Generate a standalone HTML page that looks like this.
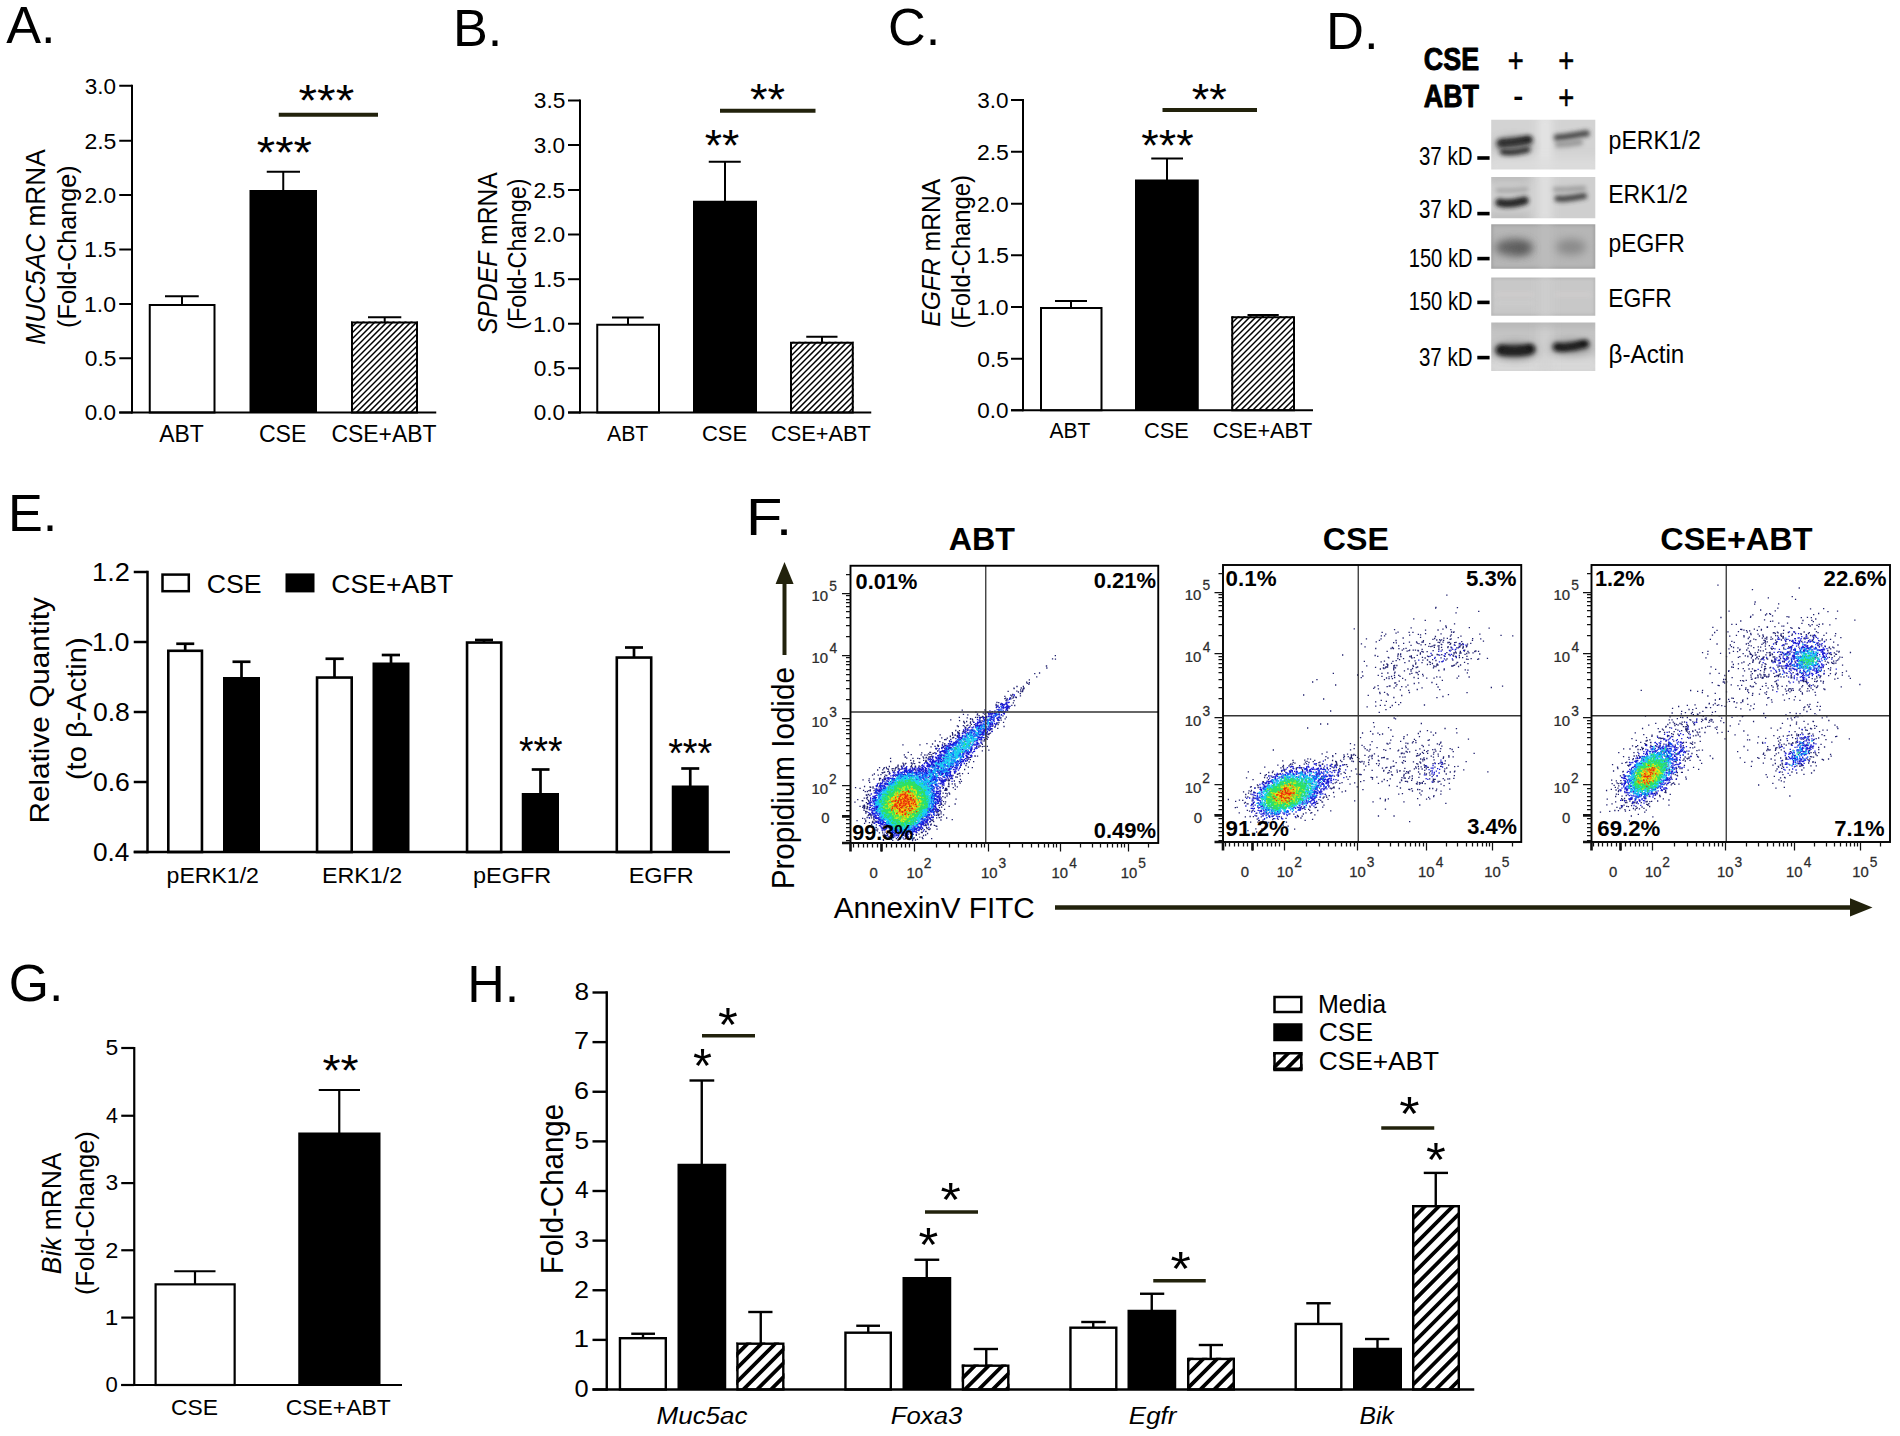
<!DOCTYPE html>
<html lang="en"><head><meta charset="utf-8"><title>Figure</title><style>html,body{margin:0;padding:0;background:#fff}svg{display:block}</style></head><body>
<svg width="1900" height="1436" viewBox="0 0 1900 1436" font-family="'Liberation Sans', sans-serif">
<defs><filter id="b1" filterUnits="userSpaceOnUse" x="1470" y="100" width="150" height="290"><feGaussianBlur stdDeviation="2.2"/></filter><filter id="b2" filterUnits="userSpaceOnUse" x="1470" y="100" width="150" height="290"><feGaussianBlur stdDeviation="4"/></filter><filter id="b3" filterUnits="userSpaceOnUse" x="1470" y="100" width="150" height="290"><feGaussianBlur stdDeviation="1.5"/></filter><filter id="b0" filterUnits="userSpaceOnUse" x="1470" y="100" width="150" height="290"><feGaussianBlur stdDeviation="0.5"/></filter><filter id="rough" x="-10%" y="-10%" width="120%" height="120%"><feTurbulence type="fractalNoise" baseFrequency="0.4" numOctaves="2" seed="4" result="n"/><feDisplacementMap in="SourceGraphic" in2="n" scale="5" xChannelSelector="R" yChannelSelector="G"/></filter></defs>
<rect x="0.00" y="0.00" width="1900.00" height="1436.00" fill="#fff"/>
<text transform="translate(6.20,43.20) scale(0.9942,1)" font-size="52.5" fill="#000" xml:space="preserve">A.</text>
<text transform="translate(452.92,46.25) scale(0.9936,1)" font-size="52.5" fill="#000" xml:space="preserve">B.</text>
<text transform="translate(888.06,45.00) scale(0.9935,1)" font-size="52.5" fill="#000" xml:space="preserve">C.</text>
<text transform="translate(1325.89,48.75) scale(1.0022,1)" font-size="52.5" fill="#000" xml:space="preserve">D.</text>
<text transform="translate(7.92,531.25) scale(0.9936,1)" font-size="52.5" fill="#000" xml:space="preserve">E.</text>
<text transform="translate(746.10,534.50) scale(1.1331,1)" font-size="52.5" fill="#000" xml:space="preserve">F.</text>
<text transform="translate(8.83,1001.25) scale(0.9851,1)" font-size="52.5" fill="#000" xml:space="preserve">G.</text>
<text transform="translate(467.19,1002.00) scale(0.9907,1)" font-size="52.5" fill="#000" xml:space="preserve">H.</text>
<rect x="149.75" y="305.00" width="64.75" height="107.50" fill="#fff" stroke="#000" stroke-width="2.0"/>
<rect x="249.50" y="190.00" width="67.50" height="222.50" fill="#000"/>
<clipPath id="c1"><rect x="351.00" y="321.50" width="67.00" height="91.00"/></clipPath>
<rect x="351.00" y="321.50" width="67.00" height="91.00" fill="#fff"/>
<path d="M349.00 311.95L420.00 240.95M349.00 317.95L420.00 246.95M349.00 323.95L420.00 252.95M349.00 329.95L420.00 258.95M349.00 335.95L420.00 264.95M349.00 341.95L420.00 270.95M349.00 347.95L420.00 276.95M349.00 353.95L420.00 282.95M349.00 359.95L420.00 288.95M349.00 365.95L420.00 294.95M349.00 371.95L420.00 300.95M349.00 377.95L420.00 306.95M349.00 383.95L420.00 312.95M349.00 389.95L420.00 318.95M349.00 395.95L420.00 324.95M349.00 401.95L420.00 330.95M349.00 407.95L420.00 336.95M349.00 413.95L420.00 342.95M349.00 419.95L420.00 348.95M349.00 425.95L420.00 354.95M349.00 431.95L420.00 360.95M349.00 437.95L420.00 366.95M349.00 443.95L420.00 372.95M349.00 449.95L420.00 378.95M349.00 455.95L420.00 384.95M349.00 461.95L420.00 390.95M349.00 467.95L420.00 396.95M349.00 473.95L420.00 402.95M349.00 479.95L420.00 408.95M349.00 485.95L420.00 414.95" stroke="#000" stroke-width="1.5" clip-path="url(#c1)" fill="none"/>
<rect x="352.00" y="322.50" width="65.00" height="90.00" fill="none" stroke="#000" stroke-width="2.0"/>
<line x1="182.00" y1="296.25" x2="182.00" y2="305.00" stroke="#000" stroke-width="2.0" stroke-linecap="butt"/>
<line x1="165.00" y1="296.25" x2="198.75" y2="296.25" stroke="#000" stroke-width="2.0" stroke-linecap="butt"/>
<line x1="283.25" y1="171.75" x2="283.25" y2="191.00" stroke="#000" stroke-width="2.0" stroke-linecap="butt"/>
<line x1="266.75" y1="171.75" x2="300.00" y2="171.75" stroke="#000" stroke-width="2.0" stroke-linecap="butt"/>
<line x1="384.70" y1="317.20" x2="384.70" y2="322.50" stroke="#000" stroke-width="2.0" stroke-linecap="butt"/>
<line x1="368.00" y1="317.20" x2="401.30" y2="317.20" stroke="#000" stroke-width="2.0" stroke-linecap="butt"/>
<line x1="132.00" y1="84.75" x2="132.00" y2="413.50" stroke="#000" stroke-width="2.0" stroke-linecap="butt"/>
<line x1="119.25" y1="412.50" x2="436.25" y2="412.50" stroke="#000" stroke-width="2.0" stroke-linecap="butt"/>
<line x1="119.25" y1="85.75" x2="132.00" y2="85.75" stroke="#000" stroke-width="2.0" stroke-linecap="butt"/>
<text transform="translate(84.80,93.66) scale(0.9995,1)" font-size="22.5" fill="#000" xml:space="preserve">3.0</text>
<line x1="119.25" y1="140.75" x2="132.00" y2="140.75" stroke="#000" stroke-width="2.0" stroke-linecap="butt"/>
<text transform="translate(84.42,148.66) scale(1.0235,1)" font-size="22.5" fill="#000" xml:space="preserve">2.5</text>
<line x1="119.25" y1="195.00" x2="132.00" y2="195.00" stroke="#000" stroke-width="2.0" stroke-linecap="butt"/>
<text transform="translate(84.43,202.91) scale(1.0114,1)" font-size="22.5" fill="#000" xml:space="preserve">2.0</text>
<line x1="119.25" y1="249.50" x2="132.00" y2="249.50" stroke="#000" stroke-width="2.0" stroke-linecap="butt"/>
<text transform="translate(84.04,257.41) scale(1.0359,1)" font-size="22.5" fill="#000" xml:space="preserve">1.5</text>
<line x1="119.25" y1="304.00" x2="132.00" y2="304.00" stroke="#000" stroke-width="2.0" stroke-linecap="butt"/>
<text transform="translate(84.06,311.91) scale(1.0235,1)" font-size="22.5" fill="#000" xml:space="preserve">1.0</text>
<line x1="119.25" y1="358.25" x2="132.00" y2="358.25" stroke="#000" stroke-width="2.0" stroke-linecap="butt"/>
<text transform="translate(84.79,366.16) scale(1.0114,1)" font-size="22.5" fill="#000" xml:space="preserve">0.5</text>
<line x1="119.25" y1="412.50" x2="132.00" y2="412.50" stroke="#000" stroke-width="2.0" stroke-linecap="butt"/>
<text transform="translate(84.80,420.41) scale(0.9995,1)" font-size="22.5" fill="#000" xml:space="preserve">0.0</text>
<text transform="translate(159.20,442.00) scale(0.9841,1)" font-size="23.3" fill="#000" xml:space="preserve">ABT</text>
<text transform="translate(258.92,442.00) scale(0.9926,1)" font-size="23.3" fill="#000" xml:space="preserve">CSE</text>
<text transform="translate(331.45,442.00) scale(0.9849,1)" font-size="23.3" fill="#000" xml:space="preserve">CSE+ABT</text>
<line x1="278.75" y1="114.80" x2="378.00" y2="114.80" stroke="#22220c" stroke-width="4" stroke-linecap="butt"/>
<text transform="translate(298.56,115.55) scale(1.0587,1)" font-size="45" fill="#000" xml:space="preserve">***</text>
<text transform="translate(256.76,168.05) scale(1.0499,1)" font-size="45" fill="#000" xml:space="preserve">***</text>
<text transform="translate(45.00,344.71) rotate(-90) scale(0.9553,1)" font-size="27.5" fill="#000" xml:space="preserve"><tspan font-style="italic">MUC5AC</tspan> mRNA</text>
<text transform="translate(76.40,327.88) rotate(-90) scale(0.9781,1)" font-size="25.8" fill="#000" xml:space="preserve">(Fold-Change)</text>
<rect x="597.25" y="324.75" width="61.75" height="87.75" fill="#fff" stroke="#000" stroke-width="2.0"/>
<rect x="693.00" y="200.75" width="64.00" height="211.75" fill="#000"/>
<clipPath id="c2"><rect x="790.00" y="341.75" width="63.75" height="70.75"/></clipPath>
<rect x="790.00" y="341.75" width="63.75" height="70.75" fill="#fff"/>
<path d="M788.00 334.95L855.75 267.20M788.00 340.95L855.75 273.20M788.00 346.95L855.75 279.20M788.00 352.95L855.75 285.20M788.00 358.95L855.75 291.20M788.00 364.95L855.75 297.20M788.00 370.95L855.75 303.20M788.00 376.95L855.75 309.20M788.00 382.95L855.75 315.20M788.00 388.95L855.75 321.20M788.00 394.95L855.75 327.20M788.00 400.95L855.75 333.20M788.00 406.95L855.75 339.20M788.00 412.95L855.75 345.20M788.00 418.95L855.75 351.20M788.00 424.95L855.75 357.20M788.00 430.95L855.75 363.20M788.00 436.95L855.75 369.20M788.00 442.95L855.75 375.20M788.00 448.95L855.75 381.20M788.00 454.95L855.75 387.20M788.00 460.95L855.75 393.20M788.00 466.95L855.75 399.20M788.00 472.95L855.75 405.20M788.00 478.95L855.75 411.20" stroke="#000" stroke-width="1.5" clip-path="url(#c2)" fill="none"/>
<rect x="791.00" y="342.75" width="61.75" height="69.75" fill="none" stroke="#000" stroke-width="2.0"/>
<line x1="628.00" y1="317.50" x2="628.00" y2="324.75" stroke="#000" stroke-width="2.0" stroke-linecap="butt"/>
<line x1="612.00" y1="317.50" x2="643.75" y2="317.50" stroke="#000" stroke-width="2.0" stroke-linecap="butt"/>
<line x1="725.00" y1="161.75" x2="725.00" y2="201.75" stroke="#000" stroke-width="2.0" stroke-linecap="butt"/>
<line x1="708.75" y1="161.75" x2="740.75" y2="161.75" stroke="#000" stroke-width="2.0" stroke-linecap="butt"/>
<line x1="822.00" y1="336.75" x2="822.00" y2="342.75" stroke="#000" stroke-width="2.0" stroke-linecap="butt"/>
<line x1="806.25" y1="336.75" x2="837.50" y2="336.75" stroke="#000" stroke-width="2.0" stroke-linecap="butt"/>
<line x1="580.00" y1="99.50" x2="580.00" y2="413.50" stroke="#000" stroke-width="2.0" stroke-linecap="butt"/>
<line x1="568.00" y1="412.50" x2="871.25" y2="412.50" stroke="#000" stroke-width="2.0" stroke-linecap="butt"/>
<line x1="568.00" y1="100.50" x2="580.00" y2="100.50" stroke="#000" stroke-width="2.0" stroke-linecap="butt"/>
<text transform="translate(533.79,108.41) scale(1.0114,1)" font-size="22.5" fill="#000" xml:space="preserve">3.5</text>
<line x1="568.00" y1="145.00" x2="580.00" y2="145.00" stroke="#000" stroke-width="2.0" stroke-linecap="butt"/>
<text transform="translate(533.80,152.91) scale(0.9995,1)" font-size="22.5" fill="#000" xml:space="preserve">3.0</text>
<line x1="568.00" y1="190.00" x2="580.00" y2="190.00" stroke="#000" stroke-width="2.0" stroke-linecap="butt"/>
<text transform="translate(533.42,197.91) scale(1.0235,1)" font-size="22.5" fill="#000" xml:space="preserve">2.5</text>
<line x1="568.00" y1="234.50" x2="580.00" y2="234.50" stroke="#000" stroke-width="2.0" stroke-linecap="butt"/>
<text transform="translate(533.43,242.41) scale(1.0114,1)" font-size="22.5" fill="#000" xml:space="preserve">2.0</text>
<line x1="568.00" y1="279.20" x2="580.00" y2="279.20" stroke="#000" stroke-width="2.0" stroke-linecap="butt"/>
<text transform="translate(533.04,287.11) scale(1.0359,1)" font-size="22.5" fill="#000" xml:space="preserve">1.5</text>
<line x1="568.00" y1="323.75" x2="580.00" y2="323.75" stroke="#000" stroke-width="2.0" stroke-linecap="butt"/>
<text transform="translate(533.06,331.66) scale(1.0235,1)" font-size="22.5" fill="#000" xml:space="preserve">1.0</text>
<line x1="568.00" y1="368.25" x2="580.00" y2="368.25" stroke="#000" stroke-width="2.0" stroke-linecap="butt"/>
<text transform="translate(533.79,376.16) scale(1.0114,1)" font-size="22.5" fill="#000" xml:space="preserve">0.5</text>
<line x1="568.00" y1="412.50" x2="580.00" y2="412.50" stroke="#000" stroke-width="2.0" stroke-linecap="butt"/>
<text transform="translate(533.80,420.41) scale(0.9995,1)" font-size="22.5" fill="#000" xml:space="preserve">0.0</text>
<text transform="translate(607.00,440.75) scale(0.9667,1)" font-size="22" fill="#000" xml:space="preserve">ABT</text>
<text transform="translate(701.94,440.75) scale(0.9993,1)" font-size="22" fill="#000" xml:space="preserve">CSE</text>
<text transform="translate(770.98,440.75) scale(0.9903,1)" font-size="22" fill="#000" xml:space="preserve">CSE+ABT</text>
<line x1="720.00" y1="110.75" x2="815.50" y2="110.75" stroke="#22220c" stroke-width="4" stroke-linecap="butt"/>
<text transform="translate(750.05,114.80) scale(1.0020,1)" font-size="45" fill="#000" xml:space="preserve">**</text>
<text transform="translate(704.81,161.05) scale(0.9871,1)" font-size="45" fill="#000" xml:space="preserve">**</text>
<text transform="translate(497.00,334.14) rotate(-90) scale(0.9153,1)" font-size="27" fill="#000" xml:space="preserve"><tspan font-style="italic">SPDEF</tspan> mRNA</text>
<text transform="translate(526.00,329.85) rotate(-90) scale(0.9292,1)" font-size="25.3" fill="#000" xml:space="preserve">(Fold-Change)</text>
<rect x="1041.00" y="308.00" width="60.50" height="102.25" fill="#fff" stroke="#000" stroke-width="2.0"/>
<rect x="1135.00" y="179.50" width="63.75" height="230.75" fill="#000"/>
<clipPath id="c3"><rect x="1231.25" y="316.25" width="63.75" height="94.00"/></clipPath>
<rect x="1231.25" y="316.25" width="63.75" height="94.00" fill="#fff"/>
<path d="M1229.25 307.70L1297.00 239.95M1229.25 313.70L1297.00 245.95M1229.25 319.70L1297.00 251.95M1229.25 325.70L1297.00 257.95M1229.25 331.70L1297.00 263.95M1229.25 337.70L1297.00 269.95M1229.25 343.70L1297.00 275.95M1229.25 349.70L1297.00 281.95M1229.25 355.70L1297.00 287.95M1229.25 361.70L1297.00 293.95M1229.25 367.70L1297.00 299.95M1229.25 373.70L1297.00 305.95M1229.25 379.70L1297.00 311.95M1229.25 385.70L1297.00 317.95M1229.25 391.70L1297.00 323.95M1229.25 397.70L1297.00 329.95M1229.25 403.70L1297.00 335.95M1229.25 409.70L1297.00 341.95M1229.25 415.70L1297.00 347.95M1229.25 421.70L1297.00 353.95M1229.25 427.70L1297.00 359.95M1229.25 433.70L1297.00 365.95M1229.25 439.70L1297.00 371.95M1229.25 445.70L1297.00 377.95M1229.25 451.70L1297.00 383.95M1229.25 457.70L1297.00 389.95M1229.25 463.70L1297.00 395.95M1229.25 469.70L1297.00 401.95M1229.25 475.70L1297.00 407.95M1229.25 481.70L1297.00 413.95" stroke="#000" stroke-width="1.5" clip-path="url(#c3)" fill="none"/>
<rect x="1232.25" y="317.25" width="61.75" height="93.00" fill="none" stroke="#000" stroke-width="2.0"/>
<line x1="1071.00" y1="301.00" x2="1071.00" y2="308.00" stroke="#000" stroke-width="2.0" stroke-linecap="butt"/>
<line x1="1055.00" y1="301.00" x2="1087.00" y2="301.00" stroke="#000" stroke-width="2.0" stroke-linecap="butt"/>
<line x1="1167.00" y1="158.50" x2="1167.00" y2="180.50" stroke="#000" stroke-width="2.0" stroke-linecap="butt"/>
<line x1="1151.25" y1="158.50" x2="1183.00" y2="158.50" stroke="#000" stroke-width="2.0" stroke-linecap="butt"/>
<line x1="1263.00" y1="315.00" x2="1263.00" y2="317.25" stroke="#000" stroke-width="2.0" stroke-linecap="butt"/>
<line x1="1247.50" y1="315.00" x2="1278.75" y2="315.00" stroke="#000" stroke-width="2.0" stroke-linecap="butt"/>
<line x1="1023.00" y1="99.00" x2="1023.00" y2="411.25" stroke="#000" stroke-width="2.0" stroke-linecap="butt"/>
<line x1="1011.00" y1="410.25" x2="1313.00" y2="410.25" stroke="#000" stroke-width="2.0" stroke-linecap="butt"/>
<line x1="1011.00" y1="100.00" x2="1023.00" y2="100.00" stroke="#000" stroke-width="2.0" stroke-linecap="butt"/>
<text transform="translate(977.30,107.91) scale(0.9995,1)" font-size="22.5" fill="#000" xml:space="preserve">3.0</text>
<line x1="1011.00" y1="151.75" x2="1023.00" y2="151.75" stroke="#000" stroke-width="2.0" stroke-linecap="butt"/>
<text transform="translate(976.92,159.66) scale(1.0235,1)" font-size="22.5" fill="#000" xml:space="preserve">2.5</text>
<line x1="1011.00" y1="203.75" x2="1023.00" y2="203.75" stroke="#000" stroke-width="2.0" stroke-linecap="butt"/>
<text transform="translate(976.93,211.66) scale(1.0114,1)" font-size="22.5" fill="#000" xml:space="preserve">2.0</text>
<line x1="1011.00" y1="255.25" x2="1023.00" y2="255.25" stroke="#000" stroke-width="2.0" stroke-linecap="butt"/>
<text transform="translate(976.54,263.16) scale(1.0359,1)" font-size="22.5" fill="#000" xml:space="preserve">1.5</text>
<line x1="1011.00" y1="307.00" x2="1023.00" y2="307.00" stroke="#000" stroke-width="2.0" stroke-linecap="butt"/>
<text transform="translate(976.56,314.91) scale(1.0235,1)" font-size="22.5" fill="#000" xml:space="preserve">1.0</text>
<line x1="1011.00" y1="358.75" x2="1023.00" y2="358.75" stroke="#000" stroke-width="2.0" stroke-linecap="butt"/>
<text transform="translate(977.29,366.66) scale(1.0114,1)" font-size="22.5" fill="#000" xml:space="preserve">0.5</text>
<line x1="1011.00" y1="410.25" x2="1023.00" y2="410.25" stroke="#000" stroke-width="2.0" stroke-linecap="butt"/>
<text transform="translate(977.30,418.16) scale(0.9995,1)" font-size="22.5" fill="#000" xml:space="preserve">0.0</text>
<text transform="translate(1049.50,438.25) scale(0.9550,1)" font-size="22" fill="#000" xml:space="preserve">ABT</text>
<text transform="translate(1143.98,438.25) scale(0.9935,1)" font-size="22" fill="#000" xml:space="preserve">CSE</text>
<text transform="translate(1212.76,438.25) scale(0.9878,1)" font-size="22" fill="#000" xml:space="preserve">CSE+ABT</text>
<line x1="1162.50" y1="110.00" x2="1257.00" y2="110.00" stroke="#22220c" stroke-width="4" stroke-linecap="butt"/>
<text transform="translate(1191.80,114.80) scale(1.0020,1)" font-size="45" fill="#000" xml:space="preserve">**</text>
<text transform="translate(1141.30,160.55) scale(0.9962,1)" font-size="45" fill="#000" xml:space="preserve">***</text>
<text transform="translate(940.00,326.63) rotate(-90) scale(0.9293,1)" font-size="26.5" fill="#000" xml:space="preserve"><tspan font-style="italic">EGFR</tspan> mRNA</text>
<text transform="translate(969.70,328.62) rotate(-90) scale(0.9417,1)" font-size="25.3" fill="#000" xml:space="preserve">(Fold-Change)</text>
<text transform="translate(1423.76,70.00) scale(0.8826,1)" font-size="30.5" fill="#000" xml:space="preserve" stroke="#000" stroke-width="0.9" stroke-linejoin="round"><tspan font-weight="bold">CSE</tspan></text>
<text transform="translate(1423.78,107.00) scale(0.8816,1)" font-size="30.5" fill="#000" xml:space="preserve" stroke="#000" stroke-width="0.9" stroke-linejoin="round"><tspan font-weight="bold">ABT</tspan></text>
<text transform="translate(1507.67,71.63) scale(0.8303,1)" font-size="33" fill="#000" xml:space="preserve" stroke="#000" stroke-width="0.55">+</text>
<text transform="translate(1558.17,71.63) scale(0.8303,1)" font-size="33" fill="#000" xml:space="preserve" stroke="#000" stroke-width="0.55">+</text>
<text transform="translate(1513.26,106.36) scale(1.1155,1)" font-size="27" fill="#000" xml:space="preserve"><tspan font-weight="bold">-</tspan></text>
<text transform="translate(1558.17,109.03) scale(0.8303,1)" font-size="33" fill="#000" xml:space="preserve" stroke="#000" stroke-width="0.55">+</text>
<clipPath id="s0"><rect x="1491.2" y="119.8" width="104.10" height="49.80"/></clipPath>
<g clip-path="url(#s0)" filter="url(#b0)">
<rect x="1489.20" y="117.80" width="108.10" height="53.80" fill="#d3d3d3"/>
<rect x="1538" y="115" width="14" height="60" fill="#e6e6e6" opacity="0.9" filter="url(#b2)"/>
<rect x="1488" y="158" width="112" height="17" fill="#dedede" opacity="0.8" filter="url(#b2)"/>
<path d="M1501.0 143.2 L1507.0 142.8 L1515.0 142.0 L1523.0 140.7 L1528.5 139.8" stroke="#161616" stroke-width="8.5" fill="none" stroke-linecap="round" stroke-linejoin="round" opacity="0.95" filter="url(#b1)"/>
<path d="M1503.0 143.1 L1509.0 142.7 L1515.0 142.0 L1522.0 140.9 L1526.5 140.1" stroke="#111" stroke-width="4" fill="none" stroke-linecap="round" stroke-linejoin="round" opacity="0.7" filter="url(#b3)"/>
<path d="M1503.0 151.8 L1509.0 152.2 L1518.0 151.4 L1527.0 149.6" stroke="#1e1e1e" stroke-width="6.0" fill="none" stroke-linecap="round" stroke-linejoin="round" opacity="0.95" filter="url(#b1)"/>
<ellipse cx="1514" cy="145" rx="19" ry="8" fill="#555" opacity="0.5" filter="url(#b2)"/>
<path d="M1557.0 137.6 L1565.0 136.8 L1575.0 135.2 L1584.0 133.6 L1586.5 133.4" stroke="#3c3c3c" stroke-width="6.5" fill="none" stroke-linecap="round" stroke-linejoin="round" opacity="0.9" filter="url(#b1)"/>
<path d="M1558.0 144.5 L1568.0 144.0 L1580.0 142.3" stroke="#808080" stroke-width="6" fill="none" stroke-linecap="round" stroke-linejoin="round" opacity="0.7" filter="url(#b1)"/>
</g>
<clipPath id="s1"><rect x="1491.2" y="177.1" width="104.10" height="41.20"/></clipPath>
<g clip-path="url(#s1)" filter="url(#b0)">
<rect x="1489.20" y="175.10" width="108.10" height="45.20" fill="#cfcfcf"/>
<rect x="1538" y="172" width="14" height="50" fill="#e2e2e2" opacity="0.9" filter="url(#b2)"/>
<rect x="1488" y="174" width="42" height="7" fill="#a8a8a8" opacity="0.7" filter="url(#b2)"/>
<rect x="1488" y="214" width="42" height="8" fill="#aaaaaa" opacity="0.6" filter="url(#b2)"/>
<path d="M1499.5 202.6 L1506.0 203.6 L1514.0 203.0 L1521.0 201.5 L1524.5 200.6" stroke="#1c1c1c" stroke-width="8.5" fill="none" stroke-linecap="round" stroke-linejoin="round" opacity="0.95" filter="url(#b1)"/>
<path d="M1498.0 190.5 L1512.0 190.5 L1526.0 189.5" stroke="#999" stroke-width="5" fill="none" stroke-linecap="round" stroke-linejoin="round" opacity="0.7" filter="url(#b1)"/>
<path d="M1557.5 198.6 L1564.0 198.8 L1574.0 197.6 L1582.0 196.2 L1584.0 196.0" stroke="#383838" stroke-width="6.2" fill="none" stroke-linecap="round" stroke-linejoin="round" opacity="0.9" filter="url(#b1)"/>
<path d="M1555.0 189.5 L1568.0 189.3 L1584.0 188.3" stroke="#8c8c8c" stroke-width="4.5" fill="none" stroke-linecap="round" stroke-linejoin="round" opacity="0.8" filter="url(#b1)"/>
</g>
<clipPath id="s2"><rect x="1491.2" y="224.2" width="104.10" height="44.60"/></clipPath>
<g clip-path="url(#s2)" filter="url(#b0)">
<rect x="1489.20" y="222.20" width="108.10" height="48.60" fill="#b6b6b6"/>
<rect x="1491.2" y="224.2" width="104.10" height="44.6" fill="none" stroke="#9c9c9c" stroke-width="2.5" filter="url(#b3)"/>
<rect x="1540" y="220" width="11" height="52" fill="#c0c0c0" opacity="0.7" filter="url(#b2)"/>
<ellipse cx="1514" cy="247.5" rx="19" ry="8.5" fill="#5e5e5e" opacity="0.95" filter="url(#b2)"/>
<ellipse cx="1521" cy="249" rx="9" ry="5" fill="#555" opacity="0.6" filter="url(#b2)"/>
<ellipse cx="1571" cy="247" rx="15" ry="8" fill="#868686" opacity="0.9" filter="url(#b2)"/>
</g>
<clipPath id="s3"><rect x="1491.2" y="277.6" width="104.10" height="38.10"/></clipPath>
<g clip-path="url(#s3)" filter="url(#b0)">
<rect x="1489.20" y="275.60" width="108.10" height="42.10" fill="#c8c8c8"/>
<rect x="1491.2" y="277.6" width="104.10" height="38.1" fill="none" stroke="#b4b4b4" stroke-width="2.5" filter="url(#b3)"/>
<rect x="1540" y="274" width="11" height="46" fill="#d0d0d0" opacity="0.7" filter="url(#b2)"/>
<path d="M1497.0 294.5 L1532.0 294.5" stroke="#d6d0d0" stroke-width="3" fill="none" stroke-linecap="round" stroke-linejoin="round" opacity="0.8" filter="url(#b1)"/>
<path d="M1556.0 294.5 L1590.0 294.5" stroke="#d6d0d0" stroke-width="3" fill="none" stroke-linecap="round" stroke-linejoin="round" opacity="0.8" filter="url(#b1)"/>
<path d="M1497.0 303.0 L1532.0 303.0" stroke="#d2d2d2" stroke-width="3" fill="none" stroke-linecap="round" stroke-linejoin="round" opacity="0.6" filter="url(#b1)"/>
</g>
<clipPath id="s4"><rect x="1491.2" y="322.6" width="104.10" height="48.40"/></clipPath>
<g clip-path="url(#s4)" filter="url(#b0)">
<rect x="1489.20" y="320.60" width="108.10" height="52.40" fill="#c4c4c4"/>
<rect x="1488" y="356" width="112" height="20" fill="#dadada" opacity="0.9" filter="url(#b2)"/>
<rect x="1538" y="318" width="14" height="58" fill="#d4d4d4" opacity="0.7" filter="url(#b2)"/>
<rect x="1488" y="318" width="112" height="8" fill="#aaaaaa" opacity="0.7" filter="url(#b2)"/>
<path d="M1501.0 350.0 L1508.0 350.8 L1518.0 350.8 L1526.0 350.0 L1530.0 349.2" stroke="#080808" stroke-width="10.5" fill="none" stroke-linecap="round" stroke-linejoin="round" opacity="1.0" filter="url(#b1)"/>
<path d="M1503.0 350.0 L1510.0 350.8 L1518.0 350.8 L1525.0 350.0 L1528.0 349.4" stroke="#000" stroke-width="6" fill="none" stroke-linecap="round" stroke-linejoin="round" opacity="0.9" filter="url(#b3)"/>
<ellipse cx="1515" cy="351" rx="21" ry="8" fill="#444" opacity="0.55" filter="url(#b2)"/>
<path d="M1557.0 347.0 L1564.0 347.4 L1574.0 346.3 L1582.0 344.4 L1585.0 344.0" stroke="#0e0e0e" stroke-width="8.5" fill="none" stroke-linecap="round" stroke-linejoin="round" opacity="1.0" filter="url(#b1)"/>
<path d="M1559.0 347.0 L1565.0 347.4 L1574.0 346.3 L1581.0 344.6 L1583.0 344.2" stroke="#000" stroke-width="4.5" fill="none" stroke-linecap="round" stroke-linejoin="round" opacity="0.85" filter="url(#b3)"/>
<ellipse cx="1571" cy="347" rx="20" ry="7" fill="#555" opacity="0.45" filter="url(#b2)"/>
</g>
<text transform="translate(1418.96,164.60) scale(0.8039,1)" font-size="25.5" fill="#000" xml:space="preserve">37 kD</text>
<line x1="1477.30" y1="158.00" x2="1489.60" y2="158.00" stroke="#000" stroke-width="3.6" stroke-linecap="butt"/>
<text transform="translate(1418.96,218.00) scale(0.8039,1)" font-size="25.5" fill="#000" xml:space="preserve">37 kD</text>
<line x1="1477.30" y1="213.60" x2="1489.60" y2="213.60" stroke="#000" stroke-width="3.6" stroke-linecap="butt"/>
<text transform="translate(1408.74,266.60) scale(0.7891,1)" font-size="25.5" fill="#000" xml:space="preserve">150 kD</text>
<line x1="1477.30" y1="258.60" x2="1489.60" y2="258.60" stroke="#000" stroke-width="3.6" stroke-linecap="butt"/>
<text transform="translate(1408.74,310.20) scale(0.7891,1)" font-size="25.5" fill="#000" xml:space="preserve">150 kD</text>
<line x1="1477.30" y1="302.40" x2="1489.60" y2="302.40" stroke="#000" stroke-width="3.6" stroke-linecap="butt"/>
<text transform="translate(1418.96,366.00) scale(0.8039,1)" font-size="25.5" fill="#000" xml:space="preserve">37 kD</text>
<line x1="1477.30" y1="357.60" x2="1489.60" y2="357.60" stroke="#000" stroke-width="3.6" stroke-linecap="butt"/>
<text transform="translate(1608.56,149.00) scale(0.8710,1)" font-size="26.5" fill="#000" xml:space="preserve">pERK1/2</text>
<text transform="translate(1608.19,203.20) scale(0.8732,1)" font-size="26.5" fill="#000" xml:space="preserve">ERK1/2</text>
<text transform="translate(1608.57,252.00) scale(0.8627,1)" font-size="26.5" fill="#000" xml:space="preserve">pEGFR</text>
<text transform="translate(1608.21,307.00) scale(0.8637,1)" font-size="26.5" fill="#000" xml:space="preserve">EGFR</text>
<text transform="translate(1608.49,363.00) scale(0.9144,1)" font-size="26.5" fill="#000" xml:space="preserve">β-Actin</text>
<rect x="168.30" y="650.80" width="33.65" height="201.20" fill="#fff" stroke="#000" stroke-width="2.6"/>
<rect x="223.00" y="677.00" width="37.00" height="175.00" fill="#000"/>
<rect x="317.05" y="677.55" width="34.65" height="174.45" fill="#fff" stroke="#000" stroke-width="2.6"/>
<rect x="372.50" y="662.50" width="37.00" height="189.50" fill="#000"/>
<rect x="467.05" y="642.55" width="34.15" height="209.45" fill="#fff" stroke="#000" stroke-width="2.6"/>
<rect x="521.75" y="793.00" width="37.25" height="59.00" fill="#000"/>
<rect x="616.80" y="657.55" width="34.40" height="194.45" fill="#fff" stroke="#000" stroke-width="2.6"/>
<rect x="671.75" y="785.50" width="37.00" height="66.50" fill="#000"/>
<line x1="185.20" y1="643.75" x2="185.20" y2="650.50" stroke="#000" stroke-width="2.7" stroke-linecap="butt"/>
<line x1="176.25" y1="643.75" x2="194.25" y2="643.75" stroke="#000" stroke-width="2.7" stroke-linecap="butt"/>
<line x1="241.50" y1="661.75" x2="241.50" y2="678.00" stroke="#000" stroke-width="2.7" stroke-linecap="butt"/>
<line x1="232.50" y1="661.75" x2="250.50" y2="661.75" stroke="#000" stroke-width="2.7" stroke-linecap="butt"/>
<line x1="334.50" y1="658.75" x2="334.50" y2="677.25" stroke="#000" stroke-width="2.7" stroke-linecap="butt"/>
<line x1="325.50" y1="658.75" x2="343.75" y2="658.75" stroke="#000" stroke-width="2.7" stroke-linecap="butt"/>
<line x1="391.00" y1="655.00" x2="391.00" y2="663.50" stroke="#000" stroke-width="2.7" stroke-linecap="butt"/>
<line x1="381.75" y1="655.00" x2="400.00" y2="655.00" stroke="#000" stroke-width="2.7" stroke-linecap="butt"/>
<line x1="484.00" y1="640.00" x2="484.00" y2="642.25" stroke="#000" stroke-width="2.7" stroke-linecap="butt"/>
<line x1="475.00" y1="640.00" x2="493.00" y2="640.00" stroke="#000" stroke-width="2.7" stroke-linecap="butt"/>
<line x1="540.50" y1="769.50" x2="540.50" y2="794.00" stroke="#000" stroke-width="2.7" stroke-linecap="butt"/>
<line x1="531.75" y1="769.50" x2="549.50" y2="769.50" stroke="#000" stroke-width="2.7" stroke-linecap="butt"/>
<line x1="634.00" y1="647.50" x2="634.00" y2="657.25" stroke="#000" stroke-width="2.7" stroke-linecap="butt"/>
<line x1="625.00" y1="647.50" x2="643.00" y2="647.50" stroke="#000" stroke-width="2.7" stroke-linecap="butt"/>
<line x1="690.25" y1="768.50" x2="690.25" y2="786.50" stroke="#000" stroke-width="2.7" stroke-linecap="butt"/>
<line x1="681.25" y1="768.50" x2="699.25" y2="768.50" stroke="#000" stroke-width="2.7" stroke-linecap="butt"/>
<line x1="147.50" y1="570.80" x2="147.50" y2="853.20" stroke="#000" stroke-width="2.5" stroke-linecap="butt"/>
<line x1="133.75" y1="852.00" x2="730.00" y2="852.00" stroke="#000" stroke-width="2.5" stroke-linecap="butt"/>
<line x1="133.75" y1="572.00" x2="147.50" y2="572.00" stroke="#000" stroke-width="2.5" stroke-linecap="butt"/>
<text transform="translate(92.05,580.60) scale(1.0459,1)" font-size="26" fill="#000" xml:space="preserve">1.2</text>
<line x1="133.75" y1="642.00" x2="147.50" y2="642.00" stroke="#000" stroke-width="2.5" stroke-linecap="butt"/>
<text transform="translate(92.07,650.60) scale(1.0333,1)" font-size="26" fill="#000" xml:space="preserve">1.0</text>
<line x1="133.75" y1="712.00" x2="147.50" y2="712.00" stroke="#000" stroke-width="2.5" stroke-linecap="butt"/>
<text transform="translate(92.92,720.60) scale(1.0211,1)" font-size="26" fill="#000" xml:space="preserve">0.8</text>
<line x1="133.75" y1="782.00" x2="147.50" y2="782.00" stroke="#000" stroke-width="2.5" stroke-linecap="butt"/>
<text transform="translate(92.92,790.60) scale(1.0211,1)" font-size="26" fill="#000" xml:space="preserve">0.6</text>
<line x1="133.75" y1="852.00" x2="147.50" y2="852.00" stroke="#000" stroke-width="2.5" stroke-linecap="butt"/>
<text transform="translate(92.93,860.60) scale(1.0091,1)" font-size="26" fill="#000" xml:space="preserve">0.4</text>
<rect x="162.5" y="574.6" width="26.3" height="16.6" fill="#fff" stroke="#000" stroke-width="2.5"/>
<text transform="translate(206.75,592.50) scale(1.0070,1)" font-size="26.5" fill="#000" xml:space="preserve">CSE</text>
<rect x="285.50" y="573.40" width="29.00" height="19.00" fill="#000"/>
<text transform="translate(331.25,592.50) scale(1.0058,1)" font-size="26.5" fill="#000" xml:space="preserve">CSE+ABT</text>
<text transform="translate(166.56,882.50) scale(1.0258,1)" font-size="22.5" fill="#000" xml:space="preserve">pERK1/2</text>
<text transform="translate(321.93,882.50) scale(1.0351,1)" font-size="22.5" fill="#000" xml:space="preserve">ERK1/2</text>
<text transform="translate(473.03,882.50) scale(1.0435,1)" font-size="22.5" fill="#000" xml:space="preserve">pEGFR</text>
<text transform="translate(628.67,882.50) scale(1.0423,1)" font-size="22.5" fill="#000" xml:space="preserve">EGFR</text>
<text transform="translate(518.92,765.10) scale(0.9339,1)" font-size="40" fill="#000" xml:space="preserve">***</text>
<text transform="translate(668.16,766.85) scale(0.9449,1)" font-size="40" fill="#000" xml:space="preserve">***</text>
<text transform="translate(48.50,823.57) rotate(-90) scale(1.0627,1)" font-size="28" fill="#000" xml:space="preserve">Relative Quantity</text>
<text transform="translate(85.50,780.11) rotate(-90) scale(1.0621,1)" font-size="27.4" fill="#000" xml:space="preserve">(to β-Actin)</text>
<g filter="url(#rough)">
<polygon points="920.5,786.9 923.1,789.6 925.6,792.7 927.5,796.2 928.6,800.0 928.7,804.0 927.6,807.9 925.8,811.4 923.5,814.4 921.1,817.1 918.6,819.5 916.1,822.0 913.3,824.3 910.2,826.4 906.6,828.1 902.8,829.1 898.7,828.9 894.9,827.6 891.5,825.6 888.6,823.0 885.9,820.3 883.3,817.6 880.8,814.5 878.9,811.0 877.8,807.2 877.7,803.2 878.8,799.3 880.6,795.8 882.9,792.8 885.3,790.1 887.8,787.7 890.3,785.2 893.1,782.9 896.2,780.8 899.8,779.1 903.6,778.1 907.7,778.3 911.5,779.6 914.9,781.6 917.8,784.2" fill="#18d2f0"/>
<polygon points="917.3,790.0 919.4,792.3 921.3,794.8 922.9,797.6 923.8,800.7 923.8,804.0 923.0,807.1 921.5,809.9 919.7,812.4 917.7,814.5 915.7,816.5 913.6,818.5 911.4,820.4 908.9,822.1 906.0,823.5 902.8,824.2 899.6,824.1 896.5,823.1 893.7,821.4 891.3,819.4 889.1,817.2 887.0,814.9 885.1,812.4 883.5,809.6 882.6,806.5 882.6,803.2 883.4,800.1 884.9,797.3 886.7,794.8 888.7,792.7 890.7,790.7 892.8,788.7 895.0,786.8 897.5,785.1 900.4,783.7 903.6,783.0 906.8,783.1 909.9,784.1 912.7,785.8 915.1,787.8" fill="#2fe060"/>
<polygon points="912.3,794.8 913.7,796.3 914.9,797.9 916.0,799.7 916.5,801.7 916.6,803.8 916.0,805.9 915.0,807.7 913.9,809.3 912.6,810.7 911.3,812.0 909.9,813.2 908.5,814.5 906.9,815.6 905.0,816.5 903.0,817.0 900.9,816.9 898.9,816.2 897.1,815.1 895.5,813.8 894.1,812.4 892.7,810.9 891.5,809.3 890.4,807.5 889.9,805.5 889.8,803.4 890.4,801.3 891.4,799.5 892.5,797.9 893.8,796.5 895.1,795.2 896.5,794.0 897.9,792.7 899.5,791.6 901.4,790.7 903.4,790.2 905.5,790.3 907.5,791.0 909.3,792.1 910.9,793.4" fill="#a8ee20"/>
<polygon points="910.4,796.6 911.5,797.8 912.5,799.1 913.3,800.5 913.8,802.1 913.8,803.8 913.4,805.4 912.6,806.8 911.7,808.1 910.6,809.2 909.6,810.2 908.5,811.2 907.4,812.2 906.1,813.1 904.6,813.8 903.0,814.2 901.3,814.1 899.8,813.6 898.3,812.8 897.1,811.7 896.0,810.6 894.9,809.4 893.9,808.1 893.1,806.7 892.6,805.1 892.6,803.4 893.0,801.8 893.8,800.4 894.7,799.1 895.8,798.0 896.8,797.0 897.9,796.0 899.0,795.0 900.3,794.1 901.8,793.4 903.4,793.0 905.1,793.1 906.6,793.6 908.1,794.4 909.3,795.5" fill="#f8e410"/>
<polygon points="904.2,802.6 904.4,802.8 904.5,803.0 904.6,803.2 904.7,803.4 904.7,803.6 904.6,803.9 904.5,804.1 904.4,804.2 904.3,804.4 904.1,804.5 904.0,804.7 903.8,804.8 903.6,805.0 903.4,805.1 903.2,805.1 902.9,805.1 902.7,805.0 902.5,804.9 902.3,804.8 902.2,804.6 902.0,804.4 901.9,804.2 901.8,804.0 901.7,803.8 901.7,803.6 901.8,803.3 901.9,803.1 902.0,803.0 902.1,802.8 902.3,802.7 902.4,802.5 902.6,802.4 902.8,802.2 903.0,802.1 903.2,802.1 903.5,802.1 903.7,802.2 903.9,802.3 904.1,802.4" fill="#ff8a10"/>
</g>
<path d="M865.7 795.0h1.3M878.2 783.3h1.3M866.6 799.2h1.3M886.1 775.5h1.3M875.2 818.1h1.3M933.0 821.7h1.3M871.9 827.2h1.3M865.0 811.5h1.3M869.7 800.3h1.3M868.6 809.5h1.3M930.2 819.8h1.3M883.5 779.8h1.3M897.8 840.2h1.3M901.6 768.4h1.3M936.8 809.7h1.3M884.0 772.2h1.3M904.8 757.0h1.3M894.5 770.2h1.3M863.8 808.2h1.3M869.7 789.9h1.3M931.5 820.5h1.3M910.7 763.0h1.3M877.0 770.0h1.3M883.6 778.8h1.3M921.0 829.6h1.3M895.2 774.7h1.3M892.3 836.8h1.3M872.1 822.5h1.3M892.2 830.7h1.3M913.0 761.0h1.3M882.1 773.2h1.3M882.0 828.1h1.3M889.0 830.3h1.3M883.1 768.7h1.3M944.4 803.9h1.3M929.7 821.6h1.3M872.4 788.2h1.3M936.2 815.4h1.3M905.9 835.8h1.3M914.8 839.9h1.3M941.0 804.4h1.3M870.5 816.0h1.3M869.4 787.0h1.3M868.9 818.0h1.3M923.0 760.4h1.3M890.9 839.4h1.3M886.6 839.3h1.3M888.6 774.2h1.3M925.4 831.3h1.3M873.7 774.0h1.3M911.9 840.2h1.3M936.6 811.1h1.3M918.4 834.1h1.3M902.7 835.3h1.3M869.1 813.7h1.3M919.0 758.7h1.3M925.0 835.0h1.3M884.2 836.4h1.3M921.6 832.6h1.3M925.1 831.5h1.3M888.7 832.7h1.3M938.0 815.6h1.3M863.9 823.4h1.3M892.8 837.7h1.3M897.1 840.1h1.3M866.7 797.4h1.3M862.0 818.3h1.3M865.8 802.6h1.3M885.4 836.2h1.3M942.9 801.6h1.3M875.4 830.0h1.3M897.6 769.0h1.3M872.1 821.3h1.3M902.1 768.5h1.3M935.2 825.9h1.3M874.8 821.2h1.3M912.2 839.1h1.3M912.3 758.3h1.3M875.5 785.9h1.3M940.5 798.0h1.3M911.7 768.0h1.3M936.0 811.9h1.3M939.2 801.5h1.3M932.5 817.0h1.3M939.5 810.5h1.3M888.7 836.8h1.3M886.0 833.4h1.3M921.5 832.2h1.3M889.9 758.3h1.3M938.8 807.7h1.3M902.3 763.1h1.3M930.5 756.7h1.3M937.8 811.7h1.3M895.6 767.5h1.3M897.5 765.1h1.3M870.1 802.1h1.3M915.7 835.4h1.3M868.2 790.6h1.3M871.0 817.9h1.3M895.8 838.6h1.3M873.7 832.4h1.3M897.3 767.0h1.3M877.1 829.1h1.3M889.8 835.6h1.3M878.8 832.9h1.3M873.5 819.8h1.3M878.9 778.3h1.3M894.6 768.6h1.3M868.3 780.7h1.3M897.3 765.9h1.3M869.6 839.4h1.3M879.4 778.6h1.3M875.4 791.7h1.3M923.6 829.7h1.3M878.9 767.6h1.3M910.6 754.7h1.3M932.3 810.6h1.3M901.1 766.9h1.3M891.4 768.9h1.3M882.7 839.7h1.3M892.5 768.7h1.3M887.8 769.2h1.3M911.9 840.5h1.3M866.5 811.9h1.3M872.4 787.0h1.3M916.8 839.4h1.3M870.0 787.4h1.3M883.0 835.9h1.3M887.5 769.4h1.3M863.4 808.7h1.3M907.6 837.3h1.3M882.8 828.9h1.3M875.9 790.5h1.3M875.4 827.5h1.3M904.7 763.8h1.3M906.4 835.8h1.3M883.4 772.4h1.3M867.6 815.6h1.3M871.8 822.1h1.3M857.1 799.6h1.3M940.8 816.9h1.3M886.5 835.4h1.3M866.8 804.1h1.3M903.3 765.5h1.3M872.2 821.6h1.3M941.0 807.2h1.3M882.8 840.3h1.3M939.7 793.5h1.3M888.6 773.9h1.3M871.0 824.5h1.3M871.2 837.1h1.3M922.2 838.6h1.3M951.6 819.6h1.3M862.4 779.9h1.3M865.8 798.1h1.3M901.1 766.2h1.3M925.2 824.5h1.3M861.6 800.6h1.3M933.5 808.8h1.3M870.4 814.5h1.3M887.8 839.4h1.3M938.0 814.2h1.3M873.1 817.0h1.3M884.0 776.6h1.3M929.6 828.8h1.3M906.1 758.2h1.3M862.6 805.8h1.3M866.5 817.5h1.3M862.9 790.3h1.3M878.9 780.1h1.3M868.0 794.5h1.3M867.7 800.4h1.3M892.1 840.3h1.3M912.4 838.6h1.3M878.9 779.8h1.3M934.9 803.4h1.3M869.2 814.8h1.3M933.7 825.4h1.3M865.1 821.6h1.3M884.6 775.2h1.3M918.5 762.3h1.3M878.4 789.2h1.3M938.3 805.6h1.3M868.4 803.3h1.3M903.7 754.9h1.3M892.5 834.8h1.3M866.4 808.9h1.3M876.1 821.5h1.3M904.5 757.2h1.3M924.4 825.4h1.3M864.2 818.8h1.3M915.6 834.5h1.3M865.2 813.2h1.3M863.9 786.5h1.3M868.6 778.9h1.3M886.3 838.9h1.3M863.2 806.4h1.3M948.5 806.4h1.3M937.6 801.4h1.3M863.6 806.9h1.3M940.6 803.2h1.3M876.4 786.0h1.3M882.5 835.2h1.3M873.4 790.6h1.3M911.0 766.7h1.3M881.5 772.7h1.3M887.6 777.6h1.3M913.4 837.7h1.3M875.7 824.8h1.3M902.9 764.1h1.3M869.3 795.6h1.3M935.8 815.4h1.3M895.2 767.6h1.3M884.9 835.2h1.3M864.1 808.0h1.3M934.7 809.2h1.3M928.1 829.3h1.3M900.4 769.3h1.3M863.4 810.3h1.3M936.1 826.3h1.3M922.9 835.5h1.3M856.4 820.7h1.3M885.1 835.4h1.3M920.8 832.5h1.3M891.9 770.6h1.3M930.1 824.6h1.3M910.1 760.3h1.3M862.2 800.8h1.3M921.6 828.2h1.3M930.9 815.9h1.3M892.7 776.0h1.3M882.0 832.8h1.3M930.7 824.1h1.3M928.5 829.7h1.3M859.4 806.3h1.3M931.0 838.7h1.3M905.1 838.9h1.3M887.1 834.0h1.3M917.1 758.3h1.3M869.6 807.3h1.3M912.6 763.1h1.3M900.6 766.2h1.3M925.9 827.6h1.3M938.6 817.7h1.3M940.3 802.8h1.3M945.1 793.4h1.3M854.3 802.2h1.3M877.6 775.1h1.3M905.0 838.1h1.3M854.9 787.6h1.3M871.9 826.5h1.3M868.2 801.6h1.3M932.4 820.0h1.3M925.6 825.9h1.3M938.9 810.6h1.3M869.6 804.8h1.3M940.5 812.0h1.3M864.2 806.2h1.3M866.9 797.2h1.3M879.9 778.3h1.3M889.4 837.4h1.3M926.9 833.5h1.3M936.0 817.8h1.3M946.6 793.8h1.3M910.8 836.9h1.3M884.7 779.7h1.3M883.5 778.1h1.3M899.8 838.6h1.3M883.7 835.0h1.3M873.3 823.2h1.3M868.2 814.6h1.3M919.1 837.1h1.3M946.0 818.0h1.3M938.4 814.3h1.3M888.0 771.2h1.3M880.3 774.6h1.3M873.3 779.1h1.3M866.9 806.8h1.3M903.4 839.1h1.3M914.8 840.1h1.3M954.5 804.0h1.3M910.1 766.8h1.3M879.1 786.1h1.3M927.3 823.5h1.3M898.3 768.6h1.3M910.9 765.6h1.3M871.9 775.2h1.3M891.1 836.5h1.3M884.3 829.8h1.3M939.1 817.6h1.3M867.6 794.4h1.3M907.8 837.0h1.3M943.9 809.3h1.3M883.6 767.6h1.3M909.7 838.4h1.3M868.8 822.7h1.3M885.7 767.4h1.3M866.2 795.3h1.3M859.4 788.4h1.3M866.7 791.5h1.3M863.7 805.1h1.3M887.2 771.6h1.3M913.4 838.1h1.3M926.5 828.5h1.3M904.6 768.0h1.3M888.7 766.5h1.3M873.1 819.0h1.3M893.6 771.1h1.3M940.4 813.9h1.3M865.2 811.5h1.3M866.3 827.4h1.3M866.6 806.3h1.3M866.6 807.9h1.3M908.6 839.5h1.3M939.5 805.1h1.3M883.6 834.2h1.3M869.0 782.3h1.3M941.3 800.4h1.3M890.0 761.5h1.3M865.1 820.4h1.3M875.9 788.8h1.3M919.5 828.7h1.3M936.4 829.2h1.3M888.9 772.5h1.3M862.1 807.4h1.3M876.8 830.8h1.3M867.1 803.7h1.3M881.8 780.0h1.3M863.6 798.2h1.3M886.2 768.6h1.3M942.9 814.9h1.3M942.6 805.3h1.3M930.1 825.1h1.3M936.4 812.7h1.3M921.6 837.5h1.3M882.1 769.8h1.3M913.6 769.3h1.3M946.4 789.8h1.3M873.0 816.9h1.3M907.8 838.2h1.3M905.2 763.4h1.3M881.9 830.8h1.3M879.4 785.2h1.3M905.3 838.1h1.3M880.1 783.2h1.3M934.3 811.6h1.3M940.3 820.0h1.3M869.7 790.8h1.3M875.7 827.5h1.3M936.2 808.8h1.3M864.6 791.7h1.3M866.2 808.3h1.3M946.4 796.0h1.3M1014.1 705.5h1.3M954.6 785.8h1.3M926.5 755.1h1.3M932.0 762.6h1.3M978.4 715.7h1.3M937.0 751.0h1.3M960.5 765.3h1.3M915.0 767.2h1.3M929.3 754.4h1.3M948.2 779.5h1.3M1004.2 696.4h1.3M971.0 755.7h1.3M976.6 714.8h1.3M943.9 745.1h1.3M971.9 719.6h1.3M949.0 794.0h1.3M957.6 733.4h1.3M958.8 730.6h1.3M989.6 729.9h1.3M937.8 745.7h1.3M974.6 756.1h1.3M940.1 791.2h1.3M1007.5 691.4h1.3M1015.7 697.5h1.3M969.7 723.1h1.3M939.5 734.8h1.3M956.8 735.6h1.3M959.6 740.1h1.3M1012.2 698.1h1.3M932.4 753.3h1.3M959.5 767.2h1.3M948.9 740.8h1.3M969.6 725.9h1.3M1022.1 690.7h1.3M952.6 787.6h1.3M969.7 759.7h1.3M1020.0 689.9h1.3M988.2 734.5h1.3M998.1 702.6h1.3M969.9 757.3h1.3M904.1 768.6h1.3M911.5 764.2h1.3M968.5 762.0h1.3M1002.3 715.9h1.3M957.7 726.5h1.3M990.1 712.8h1.3M1022.7 686.5h1.3M964.0 769.5h1.3M948.1 783.2h1.3M1003.4 726.5h1.3M956.8 774.4h1.3M948.4 792.9h1.3M942.5 793.2h1.3M1006.8 706.8h1.3M1016.4 686.7h1.3M944.2 790.4h1.3M967.7 773.4h1.3M965.3 731.4h1.3M957.6 737.4h1.3M951.3 778.6h1.3M948.3 786.5h1.3M942.8 746.6h1.3M989.8 733.2h1.3M1013.5 688.6h1.3M950.9 777.9h1.3M917.2 758.4h1.3M986.1 738.3h1.3M935.5 749.0h1.3M983.4 746.3h1.3M981.7 744.4h1.3M963.9 723.0h1.3M971.7 767.6h1.3M1000.3 717.8h1.3M944.1 743.6h1.3M927.5 758.5h1.3M957.0 732.0h1.3M1051.9 658.9h1.3M1022.7 688.6h1.3M941.7 744.8h1.3M947.8 780.9h1.3M966.8 733.1h1.3M972.9 722.4h1.3M986.9 712.3h1.3M980.2 722.6h1.3M1008.5 708.0h1.3M953.7 781.0h1.3M997.5 724.5h1.3M990.2 713.6h1.3M966.4 759.8h1.3M962.7 725.7h1.3M954.6 734.8h1.3M928.4 757.0h1.3M942.7 787.6h1.3M1006.7 698.8h1.3M1017.8 692.0h1.3M959.0 773.5h1.3M954.2 784.0h1.3M939.2 790.8h1.3M967.7 767.1h1.3M996.5 722.9h1.3M934.4 746.3h1.3M941.6 786.0h1.3M958.8 734.0h1.3M925.3 760.5h1.3M995.8 723.8h1.3M980.1 717.4h1.3M976.8 717.4h1.3M978.1 747.0h1.3M980.5 717.4h1.3M981.1 743.1h1.3M949.7 736.1h1.3M955.4 799.1h1.3M1007.4 707.0h1.3M929.2 756.8h1.3M921.1 752.8h1.3M945.8 789.9h1.3M1005.9 703.9h1.3M944.5 797.5h1.3M945.0 788.5h1.3M1023.3 687.9h1.3M942.4 747.4h1.3M946.1 789.1h1.3M986.4 736.4h1.3M981.7 746.6h1.3M951.7 732.6h1.3M944.0 739.6h1.3M983.9 739.5h1.3M998.4 720.4h1.3M954.6 789.4h1.3M992.4 725.8h1.3M956.5 735.8h1.3M938.8 798.4h1.3M946.2 780.0h1.3M955.2 777.0h1.3M918.5 765.9h1.3M965.3 765.5h1.3M974.3 756.0h1.3M1045.8 666.0h1.3M969.9 721.8h1.3M958.8 781.6h1.3M929.6 759.2h1.3M932.0 757.5h1.3M925.6 761.7h1.3M996.3 702.4h1.3M966.7 760.2h1.3M1017.8 691.8h1.3M954.4 772.9h1.3M991.8 726.2h1.3M1023.4 688.6h1.3M1016.3 686.5h1.3M939.7 752.6h1.3M996.5 706.5h1.3M950.9 775.8h1.3M1013.3 688.1h1.3M1019.7 693.7h1.3M952.4 775.5h1.3M1006.9 710.3h1.3M976.9 756.2h1.3M1013.4 700.6h1.3M945.2 779.9h1.3M991.2 729.1h1.3M925.3 760.7h1.3M986.7 746.3h1.3M931.0 754.9h1.3M1034.1 673.7h1.3M973.0 761.7h1.3M914.7 770.0h1.3M945.0 789.6h1.3M920.5 754.8h1.3M947.6 786.4h1.3M997.7 719.6h1.3M1005.8 699.9h1.3M942.2 796.7h1.3M967.8 757.9h1.3M1011.2 705.4h1.3M994.9 725.2h1.3M988.2 750.1h1.3M956.8 736.8h1.3M988.5 733.6h1.3M925.1 761.5h1.3M981.5 720.9h1.3M929.9 752.4h1.3M945.4 739.5h1.3M966.2 725.7h1.3M1028.7 679.9h1.3M1005.0 698.2h1.3M963.0 725.6h1.3M1012.1 694.5h1.3M945.0 801.8h1.3M995.5 705.3h1.3M976.0 746.6h1.3M957.6 773.8h1.3M933.0 753.3h1.3M986.5 739.4h1.3M936.3 748.3h1.3M934.3 752.6h1.3M1028.7 682.6h1.3M1010.1 695.2h1.3M914.0 763.7h1.3M978.2 746.8h1.3M949.7 736.5h1.3M968.9 727.3h1.3M1002.9 722.4h1.3M989.7 729.2h1.3M1020.3 691.5h1.3M991.5 731.4h1.3M1006.1 709.0h1.3M975.3 712.2h1.3M970.0 718.6h1.3M967.2 725.2h1.3M966.0 721.5h1.3M968.5 757.6h1.3M1026.0 682.2h1.3M1021.9 691.6h1.3M959.8 779.3h1.3M979.6 746.0h1.3M1045.9 665.8h1.3M1028.0 684.2h1.3M999.9 711.3h1.3M1000.5 720.1h1.3M919.4 766.9h1.3M1026.6 683.4h1.3M974.9 717.3h1.3M992.3 725.8h1.3M1036.1 676.8h1.3M1010.2 698.8h1.3M962.9 731.6h1.3M925.5 761.0h1.3M945.0 745.4h1.3M1001.7 705.4h1.3M969.8 719.2h1.3M1054.8 659.1h1.3M963.2 730.6h1.3M945.5 790.3h1.3M960.8 781.4h1.3M948.2 784.5h1.3M925.7 757.4h1.3M962.3 731.9h1.3M925.4 757.8h1.3M956.7 777.1h1.3M981.7 750.9h1.3M987.5 737.4h1.3M1015.0 697.1h1.3M951.6 783.8h1.3M1010.0 697.8h1.3M964.1 726.8h1.3M927.9 753.9h1.3M1000.0 718.0h1.3M970.8 756.0h1.3M1038.9 673.0h1.3M950.1 739.3h1.3M967.2 714.8h1.3M959.5 783.2h1.3M987.1 734.1h1.3M1013.0 697.0h1.3M965.1 727.6h1.3M937.0 745.2h1.3M948.8 740.8h1.3M945.9 788.4h1.3M941.1 748.2h1.3M979.6 718.2h1.3M1016.2 691.2h1.3M952.0 735.0h1.3M1000.6 703.3h1.3M1019.8 695.9h1.3M1028.4 684.2h1.3M966.6 729.0h1.3M959.5 775.9h1.3M956.7 786.8h1.3M997.1 728.3h1.3M1020.6 688.0h1.3M1011.2 696.0h1.3M941.1 747.4h1.3M941.1 747.3h1.3M998.3 722.6h1.3M983.4 741.0h1.3M981.8 717.0h1.3M914.6 766.5h1.3M1005.4 700.6h1.3M1022.3 689.7h1.3M1004.5 718.9h1.3M985.8 735.9h1.3M979.0 717.8h1.3M939.2 741.6h1.3M930.4 746.9h1.3M966.6 757.5h1.3M956.7 725.9h1.3M951.9 737.8h1.3M982.3 735.2h1.3M981.2 740.8h1.3M1004.2 698.6h1.3M971.0 755.8h1.3M937.4 746.0h1.3M1054.7 655.6h1.3M948.5 743.8h1.3M995.8 707.7h1.3M961.9 773.7h1.3M939.9 783.6h1.3M965.9 763.6h1.3M1005.7 717.1h1.3M1012.7 702.8h1.3M942.2 742.9h1.3M994.2 727.1h1.3M995.5 704.3h1.3M1046.2 668.0h1.3M948.8 780.5h1.3M937.8 746.3h1.3M944.8 789.0h1.3M963.1 721.4h1.3M902.3 744.8h1.3M926.3 743.6h1.3M982.0 716.3h1.3M932.0 756.7h1.3M957.9 732.3h1.3M931.6 766.9h1.3M953.0 737.5h1.3M946.7 738.2h1.3M919.3 744.8h1.3M934.6 741.0h1.3M958.7 717.4h1.3M941.1 737.9h1.3M950.1 719.8h1.3M958.9 720.7h1.3M955.1 730.5h1.3M931.9 744.0h1.3M922.4 756.9h1.3M924.2 755.0h1.3M962.8 714.4h1.3M961.6 710.2h1.3M966.6 717.8h1.3M976.9 714.0h1.3M982.6 713.1h1.3M972.2 721.1h1.3M919.1 762.5h1.3M958.3 732.8h1.3M970.7 724.3h1.3M914.8 766.2h1.3M907.6 752.4h1.3M952.0 734.0h1.3M983.9 714.1h1.3M923.0 758.2h1.3M929.2 752.4h1.3M973.7 724.6h1.3M980.0 721.2h1.3M984.3 710.0h1.3M982.3 716.7h1.3M963.3 722.2h1.3M971.7 719.1h1.3M954.4 735.4h1.3" stroke="#20206e" stroke-width="1.3" fill="none"/>
<path d="M929.9 810.1h1.3M877.4 800.7h1.3M913.3 776.1h1.3M894.0 832.7h1.3M899.2 829.3h1.3M911.0 776.3h1.3M935.6 799.6h1.3M920.6 787.8h1.3M916.4 822.8h1.3M889.7 827.3h1.3M907.0 780.2h1.3M916.8 779.0h1.3M874.1 803.9h1.3M904.9 778.0h1.3M883.1 818.6h1.3M881.9 790.0h1.3M901.4 773.0h1.3M922.7 821.8h1.3M920.4 825.7h1.3M874.6 806.2h1.3M942.2 781.5h1.3M935.8 793.1h1.3M876.1 822.4h1.3M911.4 825.8h1.3M908.6 773.0h1.3M907.8 832.2h1.3M883.6 824.6h1.3M883.0 827.8h1.3M906.1 766.6h1.3M931.2 786.8h1.3M882.4 786.1h1.3M890.0 778.3h1.3M908.8 769.4h1.3M878.2 791.5h1.3M916.8 824.0h1.3M893.3 835.9h1.3M886.6 824.4h1.3M880.1 790.0h1.3M924.7 770.0h1.3M912.7 776.1h1.3M906.0 769.0h1.3M906.7 771.1h1.3M932.1 801.4h1.3M905.4 829.5h1.3M933.9 806.5h1.3M871.0 812.2h1.3M922.7 823.7h1.3M912.9 825.8h1.3M929.6 811.8h1.3M930.3 796.0h1.3M877.9 790.3h1.3M930.4 786.2h1.3M903.8 770.6h1.3M916.3 828.7h1.3M919.7 827.2h1.3M906.6 829.9h1.3M901.6 833.7h1.3M875.2 812.9h1.3M933.4 802.6h1.3M890.2 775.9h1.3M878.7 790.7h1.3M879.9 819.7h1.3M920.9 821.3h1.3M874.9 800.2h1.3M873.9 810.5h1.3M874.2 806.9h1.3M915.8 832.2h1.3M883.6 785.4h1.3M873.5 816.9h1.3M870.0 799.1h1.3M906.8 836.0h1.3M871.4 808.7h1.3M893.3 775.0h1.3M875.4 817.2h1.3M878.6 793.2h1.3M873.6 799.0h1.3M884.5 832.1h1.3M930.4 765.9h1.3M878.1 823.3h1.3M875.0 797.7h1.3M869.7 803.1h1.3M935.0 804.9h1.3M904.0 829.7h1.3M893.3 774.2h1.3M897.8 778.2h1.3M931.5 801.6h1.3M898.1 779.1h1.3M923.1 766.8h1.3M910.2 831.7h1.3M880.3 819.2h1.3M887.6 784.9h1.3M922.1 776.1h1.3M914.4 829.4h1.3M881.9 782.4h1.3M922.1 828.4h1.3M885.7 822.9h1.3M873.0 801.7h1.3M894.6 830.5h1.3M881.1 814.8h1.3M898.3 776.2h1.3M936.1 788.0h1.3M882.8 827.8h1.3M933.8 798.6h1.3M886.9 835.5h1.3M921.6 817.8h1.3M879.5 820.7h1.3M936.6 796.8h1.3M904.0 775.7h1.3M875.2 791.7h1.3M875.0 790.2h1.3M876.6 814.9h1.3M880.1 822.2h1.3M906.1 771.7h1.3M881.5 783.9h1.3M881.3 820.8h1.3M877.4 801.5h1.3M874.0 823.3h1.3M886.2 783.4h1.3M868.9 809.5h1.3M870.8 793.8h1.3M934.5 802.7h1.3M897.7 831.1h1.3M880.4 820.2h1.3M928.5 818.8h1.3M937.7 796.7h1.3M931.9 801.4h1.3M908.4 773.4h1.3M882.1 818.4h1.3M924.6 794.4h1.3M885.7 828.8h1.3M884.6 788.3h1.3M879.2 819.0h1.3M927.2 815.1h1.3M878.8 825.6h1.3M880.6 783.3h1.3M891.6 784.1h1.3M883.1 813.2h1.3M881.1 823.7h1.3M873.6 808.3h1.3M887.4 831.4h1.3M930.7 803.4h1.3M912.1 773.9h1.3M919.0 771.8h1.3M929.8 810.8h1.3M904.3 775.9h1.3M930.8 817.4h1.3M921.5 783.0h1.3M914.4 768.0h1.3M902.5 777.0h1.3M879.8 796.4h1.3M892.7 779.8h1.3M874.9 815.6h1.3M928.6 810.9h1.3M877.8 815.4h1.3M887.5 779.0h1.3M909.8 769.0h1.3M924.4 821.0h1.3M930.6 806.1h1.3M921.3 824.4h1.3M878.9 823.2h1.3M897.3 778.4h1.3M903.4 774.6h1.3M893.8 778.7h1.3M880.3 783.6h1.3M905.0 832.8h1.3M887.7 836.8h1.3M907.0 827.5h1.3M925.7 789.0h1.3M918.4 769.9h1.3M913.2 828.2h1.3M906.7 831.9h1.3M902.2 771.8h1.3M937.8 809.6h1.3M930.3 811.3h1.3M889.3 829.1h1.3M929.3 814.1h1.3M933.2 809.6h1.3M893.9 830.1h1.3M875.8 793.1h1.3M902.2 775.5h1.3M880.3 826.3h1.3M910.6 827.9h1.3M896.1 775.3h1.3M907.0 773.1h1.3M907.2 838.8h1.3M876.6 790.4h1.3M927.8 815.0h1.3M937.4 796.7h1.3M903.9 773.9h1.3M927.4 777.3h1.3M880.0 823.4h1.3M931.1 812.0h1.3M873.8 797.6h1.3M872.4 796.3h1.3M922.9 823.0h1.3M879.8 811.5h1.3M875.3 817.1h1.3M898.9 837.7h1.3M898.0 836.0h1.3M922.9 831.0h1.3M888.7 828.6h1.3M909.7 772.6h1.3M876.0 785.8h1.3M879.7 796.6h1.3M879.8 785.0h1.3M883.6 822.5h1.3M911.6 830.1h1.3M916.8 778.2h1.3M904.3 778.3h1.3M874.0 800.5h1.3M926.9 819.0h1.3M922.8 776.3h1.3M884.0 791.8h1.3M902.8 766.1h1.3M885.0 778.7h1.3M927.9 817.0h1.3M879.8 791.2h1.3M882.7 789.4h1.3M934.9 806.6h1.3M907.5 775.2h1.3M898.3 773.0h1.3M871.8 813.3h1.3M926.1 820.2h1.3M908.8 826.7h1.3M908.6 776.4h1.3M873.8 813.3h1.3M890.0 827.8h1.3M926.6 818.8h1.3M868.8 807.7h1.3M905.0 771.0h1.3M916.5 820.0h1.3M930.0 808.3h1.3M928.4 786.4h1.3M891.9 832.6h1.3M911.8 833.0h1.3M906.7 775.2h1.3M897.1 775.9h1.3M935.7 809.9h1.3M919.4 829.0h1.3M925.8 785.7h1.3M893.4 830.4h1.3M928.1 811.7h1.3M900.2 772.3h1.3M883.8 792.6h1.3M899.6 774.6h1.3M923.8 820.9h1.3M928.0 814.7h1.3M897.9 839.0h1.3M905.8 772.3h1.3M886.1 828.3h1.3M910.8 831.9h1.3M908.5 773.5h1.3M935.1 795.6h1.3M921.2 822.7h1.3M873.3 797.4h1.3M890.6 832.8h1.3M928.4 809.3h1.3M875.6 811.4h1.3M895.1 779.9h1.3M922.3 822.5h1.3M879.0 812.0h1.3M909.9 832.1h1.3M876.7 822.1h1.3M916.6 782.0h1.3M923.1 788.2h1.3M915.9 832.5h1.3M928.6 810.3h1.3M901.0 832.2h1.3M907.8 834.1h1.3M925.0 771.9h1.3M926.5 822.0h1.3M918.0 826.5h1.3M930.8 797.7h1.3M888.2 784.7h1.3M873.8 816.6h1.3M876.7 809.7h1.3M933.2 799.0h1.3M916.4 827.9h1.3M925.8 809.4h1.3M881.1 816.6h1.3M940.1 799.1h1.3M879.3 786.0h1.3M905.9 832.7h1.3M931.1 801.6h1.3M939.7 804.1h1.3M886.2 781.2h1.3M886.3 780.4h1.3M936.2 796.1h1.3M937.0 811.0h1.3M939.4 796.4h1.3M882.8 789.2h1.3M916.4 830.3h1.3M879.2 802.3h1.3M891.7 833.8h1.3M881.2 789.1h1.3M883.3 787.7h1.3M934.0 815.1h1.3M929.1 817.9h1.3M931.7 786.7h1.3M904.1 771.1h1.3M913.5 829.4h1.3M908.6 828.9h1.3M927.6 824.9h1.3M873.7 792.8h1.3M939.2 799.4h1.3M882.5 785.8h1.3M931.7 807.1h1.3M933.0 814.5h1.3M904.9 775.3h1.3M906.4 829.6h1.3M901.2 835.5h1.3M933.8 802.5h1.3M936.2 803.9h1.3M870.0 797.8h1.3M886.6 781.1h1.3M878.8 791.7h1.3M875.4 815.8h1.3M929.0 821.8h1.3M876.8 800.2h1.3M898.0 771.1h1.3M915.7 824.1h1.3M904.9 836.5h1.3M889.3 788.4h1.3M898.0 778.3h1.3M926.8 816.8h1.3M875.8 811.8h1.3M876.4 811.0h1.3M904.9 779.4h1.3M891.9 836.4h1.3M870.2 809.8h1.3M898.0 773.1h1.3M905.7 768.0h1.3M930.8 798.2h1.3M922.2 819.0h1.3M901.3 773.9h1.3M909.0 769.7h1.3M882.1 794.3h1.3M923.9 820.6h1.3M918.4 777.3h1.3M909.5 830.0h1.3M936.5 797.4h1.3M876.1 804.0h1.3M894.4 831.9h1.3M890.0 827.1h1.3M898.3 831.8h1.3M875.9 797.6h1.3M881.0 788.8h1.3M920.6 827.0h1.3M871.9 810.9h1.3M924.8 811.4h1.3M883.8 786.3h1.3M904.1 829.5h1.3M910.8 825.6h1.3M926.2 816.4h1.3M914.0 828.4h1.3M904.6 774.6h1.3M909.6 770.7h1.3M893.6 779.9h1.3M917.4 785.4h1.3M919.2 778.8h1.3M936.4 800.9h1.3M875.9 795.1h1.3M885.6 817.1h1.3M875.6 803.5h1.3M889.3 773.7h1.3M872.0 814.8h1.3M924.0 785.0h1.3M881.6 790.3h1.3M887.2 831.8h1.3M889.7 830.9h1.3M900.9 831.2h1.3M878.1 819.4h1.3M921.9 824.4h1.3M891.3 823.2h1.3M920.1 824.4h1.3M892.7 825.5h1.3M933.4 813.1h1.3M881.3 828.3h1.3M939.5 788.9h1.3M932.4 783.0h1.3M934.8 804.3h1.3M892.2 775.7h1.3M932.7 817.7h1.3M928.3 802.0h1.3M912.2 834.3h1.3M937.7 801.5h1.3M916.3 832.7h1.3M906.2 834.4h1.3M874.3 788.8h1.3M874.4 814.6h1.3M918.1 823.9h1.3M929.7 818.4h1.3M931.7 793.7h1.3M897.4 832.8h1.3M892.5 781.7h1.3M880.7 786.9h1.3M914.3 823.7h1.3M885.7 825.2h1.3M931.4 810.4h1.3M894.3 836.9h1.3M884.8 790.2h1.3M918.3 823.3h1.3M882.0 822.5h1.3M886.6 824.0h1.3M931.5 817.5h1.3M895.9 835.7h1.3M910.0 836.5h1.3M876.8 784.0h1.3M896.9 777.7h1.3M882.4 828.9h1.3M878.4 787.0h1.3M920.9 818.1h1.3M935.5 793.7h1.3M927.3 824.7h1.3M881.1 817.2h1.3M899.7 830.0h1.3M930.9 807.2h1.3M917.7 772.2h1.3M874.6 793.2h1.3M929.8 811.9h1.3M900.6 832.6h1.3M879.9 786.1h1.3M922.6 819.3h1.3M878.4 817.3h1.3M873.5 815.1h1.3M904.2 769.0h1.3M901.2 772.6h1.3M875.9 786.7h1.3M922.1 772.1h1.3M882.2 818.3h1.3M870.9 810.0h1.3M870.5 794.2h1.3M893.3 784.2h1.3M876.0 818.5h1.3M885.0 784.6h1.3M888.3 777.8h1.3M879.1 789.5h1.3M876.8 807.8h1.3M905.0 832.1h1.3M926.5 822.8h1.3M912.5 831.7h1.3M912.5 773.4h1.3M877.3 790.8h1.3M876.7 785.4h1.3M910.6 829.7h1.3M873.7 804.3h1.3M902.4 831.1h1.3M912.2 772.3h1.3M931.5 807.7h1.3M909.9 772.0h1.3M940.0 799.7h1.3M879.6 796.5h1.3M882.2 823.4h1.3M919.2 773.9h1.3M875.4 808.5h1.3M935.8 792.0h1.3M874.0 797.2h1.3M924.7 815.8h1.3M905.4 834.7h1.3M875.4 802.0h1.3M882.2 821.3h1.3M918.4 827.7h1.3M939.3 794.5h1.3M880.6 827.6h1.3M892.6 779.1h1.3M884.3 783.7h1.3M921.0 825.8h1.3M894.1 775.7h1.3M877.1 790.2h1.3M900.3 774.6h1.3M894.2 772.8h1.3M931.6 810.1h1.3M898.1 774.7h1.3M913.2 824.3h1.3M912.7 770.1h1.3M914.2 829.9h1.3M880.5 824.3h1.3M875.1 818.3h1.3M937.0 793.7h1.3M927.7 812.7h1.3M904.6 835.3h1.3M876.3 789.4h1.3M937.0 799.5h1.3M924.8 819.2h1.3M915.7 829.5h1.3M906.0 833.9h1.3M933.9 799.0h1.3M925.3 821.5h1.3M879.9 816.5h1.3M891.4 783.1h1.3M893.4 782.3h1.3M934.3 794.0h1.3M896.5 774.7h1.3M915.5 775.2h1.3M926.7 785.1h1.3M924.3 816.7h1.3M931.4 790.2h1.3M906.2 771.8h1.3M881.9 781.8h1.3M919.4 771.7h1.3M903.0 832.3h1.3M872.1 800.1h1.3M893.6 778.7h1.3M931.6 798.7h1.3M874.5 807.5h1.3M905.8 831.4h1.3M879.2 816.5h1.3M888.0 826.1h1.3M899.7 777.0h1.3M933.2 803.4h1.3M927.6 759.9h1.3M885.8 783.4h1.3M925.3 822.3h1.3M918.5 772.4h1.3M934.7 796.1h1.3M913.6 826.8h1.3M872.3 798.7h1.3M883.1 787.8h1.3M926.2 819.9h1.3M918.2 827.7h1.3M905.1 830.8h1.3M899.7 774.1h1.3M879.2 807.1h1.3M902.9 833.5h1.3M912.1 775.7h1.3M930.9 815.2h1.3M915.4 828.7h1.3M921.2 767.3h1.3M877.5 818.4h1.3M885.2 787.6h1.3M935.2 807.3h1.3M876.1 806.5h1.3M890.5 832.6h1.3M915.5 831.5h1.3M885.0 786.8h1.3M876.7 817.9h1.3M921.0 769.9h1.3M904.2 832.5h1.3M919.9 773.0h1.3M888.7 784.6h1.3M907.2 829.9h1.3M889.9 781.6h1.3M871.6 805.5h1.3M919.1 769.1h1.3M929.6 776.8h1.3M898.7 770.5h1.3M880.7 783.5h1.3M901.5 768.6h1.3M882.3 823.1h1.3M882.6 820.9h1.3M906.6 831.7h1.3M934.7 795.4h1.3M886.0 823.9h1.3M873.8 796.7h1.3M868.6 817.7h1.3M921.4 821.7h1.3M933.2 788.7h1.3M869.6 805.5h1.3M899.1 837.6h1.3M873.5 802.8h1.3M872.7 810.3h1.3M885.8 827.6h1.3M902.4 774.7h1.3M892.0 835.6h1.3M927.6 807.4h1.3M885.8 789.9h1.3M881.6 820.4h1.3M909.7 833.5h1.3M937.2 801.7h1.3M917.5 827.8h1.3M932.6 804.6h1.3M937.1 800.1h1.3M923.5 819.8h1.3M932.7 799.7h1.3M901.4 834.0h1.3M893.7 833.9h1.3M886.6 778.0h1.3M889.3 778.2h1.3M887.1 784.0h1.3M872.6 801.4h1.3M925.6 784.0h1.3M932.6 794.2h1.3M888.9 785.9h1.3M935.4 796.1h1.3M906.2 835.4h1.3M917.5 770.0h1.3M902.2 777.1h1.3M932.5 791.0h1.3M926.7 814.9h1.3M930.7 811.5h1.3M876.0 809.4h1.3M896.2 834.3h1.3M899.1 776.7h1.3M920.6 823.0h1.3M888.0 778.3h1.3M907.7 829.6h1.3M906.8 773.3h1.3M892.1 830.6h1.3M915.9 826.4h1.3M895.2 833.3h1.3M922.8 775.1h1.3M933.2 811.9h1.3M908.8 832.2h1.3M891.9 831.0h1.3M887.7 778.5h1.3M912.3 768.7h1.3M896.9 772.0h1.3M921.0 821.8h1.3M884.8 778.2h1.3M905.0 770.1h1.3M907.0 773.3h1.3M928.2 816.9h1.3M888.7 830.5h1.3M884.5 829.7h1.3M906.7 775.2h1.3M934.6 807.7h1.3M879.0 795.1h1.3M918.9 771.4h1.3M931.7 785.6h1.3M883.7 788.9h1.3M898.7 831.2h1.3M903.8 772.3h1.3M917.4 827.5h1.3M881.0 783.6h1.3M915.4 771.9h1.3M877.3 806.8h1.3M876.1 805.8h1.3M875.2 815.7h1.3M892.5 772.1h1.3M917.3 826.9h1.3M901.9 781.5h1.3M874.8 792.9h1.3M875.6 806.1h1.3M925.2 815.7h1.3M931.9 804.3h1.3M892.4 832.0h1.3M878.5 813.6h1.3M894.1 832.1h1.3M912.1 768.4h1.3M891.2 833.9h1.3M900.2 778.4h1.3M919.1 773.6h1.3M885.4 783.4h1.3M906.7 835.6h1.3M938.2 797.5h1.3M907.0 838.0h1.3M882.8 781.1h1.3M896.8 777.1h1.3M926.1 821.6h1.3M891.1 834.0h1.3M872.7 798.5h1.3M893.0 772.4h1.3M874.2 809.3h1.3M910.2 836.8h1.3M936.5 799.8h1.3M879.4 785.7h1.3M922.4 823.6h1.3M875.4 804.1h1.3M930.8 800.1h1.3M934.9 809.6h1.3M922.5 819.9h1.3M897.6 773.5h1.3M939.3 797.1h1.3M920.2 819.5h1.3M889.3 827.7h1.3M872.6 814.9h1.3M920.4 823.7h1.3M892.3 778.4h1.3M927.0 810.8h1.3M926.7 820.6h1.3M937.9 803.4h1.3M932.2 811.5h1.3M888.7 787.9h1.3M918.5 830.0h1.3M913.9 831.4h1.3M926.7 811.1h1.3M933.2 806.0h1.3M874.9 799.2h1.3M931.7 807.5h1.3M899.3 833.1h1.3M884.5 822.6h1.3M883.5 822.1h1.3M923.7 820.9h1.3M876.5 813.2h1.3M916.3 774.6h1.3M872.0 812.5h1.3M935.1 798.8h1.3M895.0 776.2h1.3M932.1 795.3h1.3M878.5 819.9h1.3M892.8 829.4h1.3M877.9 794.0h1.3M925.4 822.5h1.3M937.6 811.1h1.3M908.8 771.6h1.3M901.9 832.6h1.3M915.9 775.1h1.3M904.3 835.8h1.3M911.6 833.7h1.3M889.0 785.1h1.3M928.8 806.4h1.3M894.6 780.4h1.3M882.3 828.0h1.3M932.8 812.3h1.3M911.1 772.0h1.3M902.8 833.7h1.3M896.4 829.3h1.3M897.1 775.4h1.3M886.2 784.6h1.3M904.4 833.7h1.3M929.3 809.0h1.3M904.6 834.0h1.3M929.1 814.6h1.3M876.7 806.4h1.3M939.3 796.4h1.3M935.1 810.7h1.3M896.9 837.3h1.3M882.7 826.2h1.3M889.2 832.7h1.3M912.0 831.8h1.3M932.6 790.7h1.3M932.2 789.0h1.3M925.5 775.3h1.3M937.6 791.5h1.3M905.8 834.5h1.3M888.4 827.7h1.3M912.4 830.0h1.3M872.0 798.3h1.3M921.0 770.4h1.3M889.3 783.3h1.3M884.1 825.1h1.3M928.7 790.9h1.3M884.1 819.5h1.3M880.2 816.3h1.3M914.8 831.9h1.3M882.0 779.9h1.3M933.7 797.9h1.3M885.4 782.9h1.3M889.6 827.5h1.3M876.2 811.0h1.3M899.0 830.9h1.3M883.7 829.9h1.3M921.7 768.2h1.3M925.5 816.0h1.3M888.5 779.9h1.3M925.6 816.0h1.3M926.7 815.0h1.3M920.9 818.8h1.3M919.3 822.8h1.3M871.0 802.1h1.3M913.3 831.7h1.3M933.2 799.2h1.3M934.0 802.9h1.3M884.7 826.7h1.3M918.8 772.2h1.3M879.7 823.9h1.3M931.2 796.2h1.3M879.7 791.2h1.3M935.9 799.2h1.3M933.4 802.1h1.3M916.2 825.8h1.3M888.9 783.4h1.3M908.0 770.3h1.3M878.0 822.5h1.3M916.3 825.4h1.3M924.2 823.2h1.3M896.9 775.2h1.3M914.3 827.3h1.3M928.6 815.3h1.3M881.9 824.0h1.3M902.3 768.9h1.3M887.1 783.4h1.3M883.7 790.9h1.3M874.6 818.0h1.3M926.6 786.3h1.3M915.8 828.7h1.3M874.8 806.2h1.3M892.2 778.5h1.3M882.2 790.7h1.3M891.3 832.5h1.3M932.5 797.4h1.3M893.3 832.6h1.3M931.5 794.2h1.3M869.0 802.5h1.3M874.4 798.4h1.3M879.6 794.7h1.3M878.0 821.7h1.3M876.1 792.5h1.3M874.6 822.1h1.3M913.7 775.8h1.3M936.7 814.2h1.3M881.4 830.0h1.3M874.6 797.2h1.3M879.3 820.3h1.3M908.7 771.6h1.3M936.8 789.0h1.3M890.5 826.1h1.3M940.3 801.6h1.3M893.4 827.3h1.3M887.2 783.5h1.3M891.2 834.8h1.3M882.0 824.6h1.3M943.1 780.3h1.3M916.8 775.3h1.3M922.1 823.4h1.3M907.4 775.8h1.3M885.3 824.1h1.3M892.4 775.5h1.3M875.4 800.2h1.3M873.9 796.2h1.3M879.2 796.4h1.3M876.0 808.0h1.3M937.8 793.7h1.3M891.5 780.0h1.3M882.5 819.2h1.3M906.1 770.3h1.3M937.8 795.9h1.3M921.6 828.0h1.3M937.1 803.4h1.3M933.2 795.8h1.3M876.8 793.3h1.3M881.2 785.7h1.3M911.9 828.1h1.3M912.6 834.3h1.3M873.5 808.4h1.3M937.4 802.3h1.3M882.0 823.8h1.3M933.0 806.9h1.3M881.8 818.5h1.3M909.2 829.8h1.3M918.7 823.8h1.3M904.7 771.7h1.3M937.2 792.1h1.3M887.0 784.4h1.3M912.1 769.2h1.3M872.8 808.5h1.3M897.6 772.2h1.3M902.2 826.7h1.3M910.7 775.6h1.3M905.5 836.5h1.3M913.4 779.4h1.3M876.4 813.3h1.3M915.8 785.1h1.3M925.3 777.5h1.3M937.5 788.8h1.3M909.2 770.5h1.3M902.1 775.2h1.3M877.6 795.1h1.3M882.8 789.0h1.3M875.2 795.7h1.3M936.4 789.0h1.3M932.7 801.0h1.3M918.9 776.7h1.3M895.5 832.3h1.3M935.8 808.3h1.3M923.1 824.8h1.3M869.5 814.0h1.3M926.4 817.0h1.3M904.0 774.7h1.3M898.3 834.5h1.3M875.6 802.7h1.3M877.8 823.3h1.3M902.4 833.7h1.3M932.0 787.6h1.3M878.1 817.5h1.3M908.5 772.0h1.3M925.5 813.7h1.3M930.2 819.6h1.3M874.8 799.2h1.3M881.0 786.3h1.3M897.2 835.2h1.3M891.3 836.3h1.3M883.3 830.1h1.3M868.1 812.6h1.3M902.7 834.5h1.3M902.7 777.4h1.3M931.9 777.8h1.3M879.1 814.0h1.3M916.0 772.3h1.3M887.7 781.3h1.3M938.8 799.0h1.3M870.0 802.7h1.3M896.4 779.5h1.3M902.5 837.8h1.3M932.5 808.6h1.3M932.0 809.8h1.3M906.4 836.8h1.3M938.1 791.4h1.3M882.7 822.4h1.3M921.2 769.6h1.3M923.4 825.7h1.3M922.4 820.0h1.3M933.3 805.9h1.3M868.2 803.8h1.3M938.8 794.8h1.3M876.4 818.6h1.3M910.0 829.4h1.3M907.4 772.8h1.3M939.0 800.5h1.3M883.6 783.9h1.3M874.6 798.3h1.3M914.1 772.3h1.3M894.1 833.3h1.3M881.3 786.8h1.3M932.0 760.1h1.3M932.8 809.4h1.3M875.0 799.5h1.3M884.2 781.8h1.3M932.2 809.7h1.3M932.4 797.4h1.3M909.9 772.3h1.3M873.1 801.0h1.3M880.0 783.4h1.3M870.7 805.9h1.3M881.0 794.1h1.3M880.1 788.1h1.3M934.2 799.8h1.3M917.9 830.0h1.3M875.0 800.4h1.3M925.9 816.6h1.3M909.4 827.6h1.3M904.4 830.0h1.3M880.1 825.9h1.3M932.5 804.4h1.3M876.4 803.1h1.3M907.7 830.6h1.3M918.2 830.5h1.3M933.1 809.8h1.3M919.4 828.4h1.3M873.1 813.3h1.3M875.3 803.7h1.3M933.8 795.9h1.3M869.9 800.7h1.3M924.9 810.4h1.3M932.6 800.0h1.3M940.9 781.9h1.3M913.3 830.2h1.3M901.4 767.6h1.3M891.2 778.8h1.3M932.7 780.0h1.3M878.6 804.4h1.3M931.8 794.4h1.3M905.9 776.4h1.3M923.9 819.2h1.3M893.8 832.7h1.3M909.7 775.9h1.3M889.5 829.3h1.3M878.8 795.0h1.3M872.8 801.6h1.3M932.7 803.2h1.3M905.9 833.7h1.3M891.7 831.8h1.3M919.9 769.4h1.3M872.0 808.1h1.3M927.4 820.1h1.3M874.7 801.1h1.3M929.4 780.3h1.3M880.0 787.5h1.3M918.8 776.7h1.3M877.5 809.9h1.3M903.8 830.1h1.3M938.0 777.7h1.3M874.5 810.5h1.3M879.6 821.1h1.3M910.4 779.3h1.3M929.9 792.1h1.3M877.9 795.2h1.3M909.9 831.7h1.3M923.8 815.7h1.3M928.2 827.5h1.3M894.5 835.0h1.3M932.1 788.3h1.3M877.4 821.1h1.3M906.0 769.4h1.3M925.8 817.4h1.3M895.1 833.1h1.3M901.1 776.0h1.3M904.8 833.0h1.3M873.7 800.8h1.3M874.3 797.1h1.3M891.1 826.7h1.3M967.1 744.5h1.3M964.4 740.1h1.3M961.6 738.6h1.3M968.0 734.4h1.3M962.7 739.3h1.3M972.1 745.6h1.3M964.3 736.6h1.3M970.2 741.7h1.3M970.9 746.9h1.3M977.2 736.5h1.3M961.5 756.1h1.3M974.9 736.3h1.3M976.9 738.8h1.3M962.0 745.5h1.3M957.6 750.3h1.3M967.2 733.0h1.3M950.5 759.8h1.3M944.8 750.3h1.3M965.6 734.9h1.3M940.3 755.3h1.3M944.2 777.5h1.3M965.2 761.4h1.3M933.4 778.6h1.3M961.9 752.1h1.3M996.1 712.9h1.3M949.9 778.5h1.3M989.4 714.8h1.3M960.1 762.6h1.3M971.9 752.9h1.3M924.4 762.6h1.3M1005.7 707.0h1.3M958.3 737.9h1.3M943.3 784.0h1.3M997.2 718.1h1.3M975.2 727.0h1.3M949.2 741.8h1.3M969.2 747.9h1.3M976.3 725.8h1.3M965.6 750.2h1.3M938.4 758.7h1.3M942.4 747.6h1.3M976.6 748.1h1.3M940.4 761.1h1.3M1003.8 713.2h1.3M933.5 788.9h1.3M936.6 792.0h1.3M1002.8 713.2h1.3M930.5 781.6h1.3M943.9 757.9h1.3M934.2 769.2h1.3M956.1 741.0h1.3M938.3 760.4h1.3M974.6 740.8h1.3M929.2 774.1h1.3M954.8 749.3h1.3M946.0 752.6h1.3M965.6 746.6h1.3M958.9 735.6h1.3M961.4 737.0h1.3M946.5 756.9h1.3M950.0 744.0h1.3M955.9 765.0h1.3M962.4 736.1h1.3M949.9 747.6h1.3M939.9 760.8h1.3M955.5 747.3h1.3M993.4 717.7h1.3M928.0 766.5h1.3M939.5 761.7h1.3M941.9 774.7h1.3M937.3 759.0h1.3M930.6 761.9h1.3M944.3 746.5h1.3M951.6 749.2h1.3M927.3 764.9h1.3M934.2 787.2h1.3M967.4 738.6h1.3M928.5 781.1h1.3M948.8 776.9h1.3M963.3 743.7h1.3M937.9 768.8h1.3M941.6 750.5h1.3M938.2 772.9h1.3M998.1 709.4h1.3M974.2 744.2h1.3M930.0 788.4h1.3M944.0 756.5h1.3M965.8 735.6h1.3M935.9 781.3h1.3M947.9 770.0h1.3M939.0 773.7h1.3M958.0 743.1h1.3M933.8 794.5h1.3M922.3 765.8h1.3M928.8 765.9h1.3M990.6 724.6h1.3M977.3 734.5h1.3M959.8 737.6h1.3M991.7 723.1h1.3M946.0 775.7h1.3M945.6 756.6h1.3M936.9 780.3h1.3M928.2 777.3h1.3M984.5 725.4h1.3M953.3 742.5h1.3M959.8 747.5h1.3M925.8 772.7h1.3M962.4 743.4h1.3M976.9 740.0h1.3M971.5 737.1h1.3M922.4 771.7h1.3M976.3 743.0h1.3M932.0 761.5h1.3M926.5 773.7h1.3M990.3 717.9h1.3M994.5 716.3h1.3M960.0 762.2h1.3M963.8 759.3h1.3M979.3 719.1h1.3M992.6 716.8h1.3M956.4 754.9h1.3M933.7 776.9h1.3M961.8 738.6h1.3M932.5 780.0h1.3M952.5 766.2h1.3M924.2 778.8h1.3M947.3 748.1h1.3M969.6 732.6h1.3M975.3 744.9h1.3M957.6 740.8h1.3M928.5 770.0h1.3M975.3 735.6h1.3M943.5 771.8h1.3M940.9 769.2h1.3M931.9 758.2h1.3M934.8 757.2h1.3M947.4 763.0h1.3M939.9 783.7h1.3M937.5 770.5h1.3M935.0 753.8h1.3M947.8 743.6h1.3M926.0 791.4h1.3M977.8 728.2h1.3M949.8 772.8h1.3M938.2 750.2h1.3M935.4 765.8h1.3M940.8 756.0h1.3M911.3 773.6h1.3M988.8 730.6h1.3M918.2 770.8h1.3M971.6 727.9h1.3M963.7 763.5h1.3M965.7 755.3h1.3M973.8 731.7h1.3M1004.6 704.2h1.3M937.4 757.6h1.3M963.9 739.0h1.3M973.4 730.8h1.3M954.1 767.5h1.3M938.0 766.4h1.3M951.1 744.7h1.3M978.4 726.4h1.3M934.9 777.9h1.3M937.6 769.2h1.3M955.4 755.7h1.3M949.2 746.9h1.3M989.8 718.7h1.3M949.5 773.4h1.3M925.7 774.1h1.3M983.2 732.7h1.3M975.4 748.5h1.3M933.3 791.2h1.3M986.8 721.0h1.3M970.4 751.8h1.3M944.9 761.9h1.3M937.3 769.7h1.3M916.5 778.3h1.3M971.5 735.9h1.3M938.8 774.7h1.3M931.9 766.8h1.3M942.0 771.7h1.3M955.5 763.8h1.3M950.1 755.1h1.3M935.4 757.9h1.3M973.9 751.3h1.3M975.0 725.2h1.3M936.2 771.2h1.3M955.2 738.6h1.3M977.2 725.7h1.3M1002.9 706.7h1.3M922.6 768.7h1.3M987.2 723.3h1.3M1004.3 711.7h1.3M945.3 747.9h1.3M1009.3 706.3h1.3M934.3 784.0h1.3M946.2 776.5h1.3M943.0 777.1h1.3M960.2 765.2h1.3M966.9 733.1h1.3M969.7 748.8h1.3M972.0 727.9h1.3M941.0 754.1h1.3M956.0 742.6h1.3M957.7 734.0h1.3M949.6 771.8h1.3M942.6 765.0h1.3M988.3 725.5h1.3M935.7 757.5h1.3M934.9 776.3h1.3M937.0 773.3h1.3M989.5 728.2h1.3M969.8 755.6h1.3M972.9 738.1h1.3M945.4 770.8h1.3M958.9 737.8h1.3M945.3 765.9h1.3M977.6 730.3h1.3M991.2 722.8h1.3M924.9 781.7h1.3M971.7 730.7h1.3M948.5 772.7h1.3M961.6 738.9h1.3M980.4 739.0h1.3M988.9 728.2h1.3M944.5 765.1h1.3M980.2 737.7h1.3M916.3 781.0h1.3M975.6 740.9h1.3M946.4 759.6h1.3M981.2 727.0h1.3M962.3 733.1h1.3M994.0 713.1h1.3M992.0 724.4h1.3M921.9 765.0h1.3M995.6 713.6h1.3M943.2 759.8h1.3M994.8 713.5h1.3M1001.2 707.4h1.3M944.4 780.5h1.3M927.6 766.9h1.3M929.7 775.6h1.3M946.1 756.6h1.3M1008.9 699.3h1.3M966.9 730.5h1.3M927.0 765.7h1.3M933.1 766.1h1.3M989.5 719.1h1.3M961.7 733.3h1.3M970.0 749.9h1.3M937.6 770.2h1.3M957.5 735.9h1.3M936.0 764.6h1.3M940.4 762.4h1.3M956.9 760.6h1.3M1013.6 695.7h1.3M947.6 772.9h1.3M1003.4 705.2h1.3M937.4 771.9h1.3M958.6 754.1h1.3M988.3 727.8h1.3M926.7 766.7h1.3M938.6 773.0h1.3M932.7 775.2h1.3M1006.1 706.3h1.3M956.0 761.8h1.3M950.0 744.5h1.3M967.9 727.9h1.3M990.4 719.2h1.3M939.8 787.3h1.3M936.3 768.4h1.3M996.7 718.7h1.3M985.1 722.6h1.3M926.7 780.9h1.3M966.7 746.8h1.3M980.6 743.1h1.3M951.5 766.9h1.3M989.3 716.7h1.3M997.2 714.6h1.3M990.6 716.8h1.3M931.0 773.6h1.3M932.5 765.5h1.3M985.2 733.4h1.3M935.1 761.8h1.3M968.2 729.8h1.3M957.4 764.3h1.3M966.3 741.3h1.3M964.3 736.5h1.3M928.8 803.1h1.3M961.3 737.4h1.3M976.5 725.6h1.3M965.0 758.7h1.3M938.8 766.2h1.3M947.4 751.3h1.3M939.2 763.4h1.3M942.4 761.9h1.3M920.6 769.8h1.3M950.8 748.1h1.3M957.4 746.5h1.3M1006.1 709.8h1.3M930.5 775.7h1.3M935.8 758.6h1.3M946.7 758.4h1.3M965.1 750.4h1.3M998.7 714.9h1.3M976.4 740.4h1.3M989.3 726.9h1.3M979.2 734.9h1.3M927.6 784.0h1.3M978.7 739.5h1.3M936.2 770.8h1.3M985.9 733.4h1.3M988.8 723.6h1.3M946.2 772.4h1.3M944.1 753.0h1.3M940.0 762.1h1.3M939.2 780.0h1.3M970.6 755.1h1.3M946.2 745.3h1.3M931.2 786.6h1.3M940.0 759.1h1.3M941.7 784.4h1.3M984.7 724.2h1.3M915.3 772.6h1.3M959.3 737.9h1.3M925.0 768.8h1.3M955.6 743.7h1.3M965.2 733.1h1.3M933.7 765.2h1.3M937.4 769.0h1.3M948.7 776.0h1.3M955.9 757.3h1.3M953.2 743.0h1.3M969.3 732.7h1.3M946.3 762.2h1.3M950.7 753.0h1.3M945.9 754.6h1.3M953.7 752.6h1.3M988.2 714.7h1.3M966.5 729.9h1.3M939.1 772.6h1.3M945.0 774.8h1.3M976.9 742.1h1.3M982.0 728.9h1.3M924.6 769.7h1.3M925.0 770.6h1.3M931.2 771.2h1.3M943.9 750.7h1.3M961.2 759.5h1.3M958.2 738.9h1.3M932.5 798.3h1.3M977.6 733.7h1.3M944.0 748.4h1.3M979.2 730.1h1.3M984.1 731.5h1.3M962.1 761.7h1.3M942.2 766.7h1.3M984.6 719.4h1.3M929.7 758.2h1.3M958.6 737.6h1.3M939.6 758.1h1.3M959.7 740.1h1.3M927.3 779.2h1.3M948.6 747.0h1.3M944.1 753.1h1.3M1006.4 704.3h1.3M995.0 714.9h1.3M964.8 733.1h1.3M997.5 717.3h1.3M959.0 742.9h1.3M933.0 761.4h1.3M988.5 729.8h1.3M955.8 747.6h1.3M931.2 781.2h1.3M963.8 732.6h1.3M958.6 744.9h1.3M939.1 752.0h1.3M944.1 757.2h1.3M939.6 791.1h1.3M944.5 764.6h1.3M927.4 790.0h1.3M980.8 725.0h1.3M948.6 759.3h1.3M933.1 775.6h1.3M970.4 732.6h1.3M934.4 773.4h1.3M983.2 724.2h1.3M1006.7 707.3h1.3M950.0 749.2h1.3M956.5 767.4h1.3M945.1 772.6h1.3M952.8 769.5h1.3M968.8 727.3h1.3M1007.2 700.1h1.3M978.4 745.3h1.3M981.1 739.3h1.3M954.5 752.9h1.3M1002.2 706.9h1.3M945.6 761.1h1.3M941.9 757.7h1.3M933.5 765.1h1.3M952.6 755.0h1.3M928.4 759.2h1.3M976.3 745.9h1.3M965.3 751.2h1.3M941.5 781.2h1.3M988.4 712.9h1.3M962.3 749.4h1.3M944.6 762.8h1.3M980.6 738.2h1.3M955.1 741.3h1.3M924.1 772.9h1.3M972.6 744.6h1.3M929.8 760.8h1.3M946.0 754.0h1.3M926.4 763.6h1.3M933.0 779.3h1.3M977.0 722.5h1.3M951.8 767.4h1.3M973.3 733.6h1.3M977.2 721.8h1.3M929.0 769.4h1.3M968.7 751.8h1.3M937.3 755.7h1.3M909.1 777.9h1.3M959.6 760.4h1.3M926.3 787.0h1.3M929.5 770.3h1.3M939.4 792.8h1.3M938.0 755.4h1.3M962.9 757.3h1.3M941.9 781.0h1.3M974.3 748.2h1.3M975.5 727.8h1.3M952.1 746.0h1.3M959.9 756.8h1.3M965.3 755.4h1.3M939.7 772.0h1.3M922.5 769.4h1.3M978.0 731.7h1.3M932.6 770.7h1.3M997.0 720.2h1.3M970.2 749.9h1.3M939.4 766.5h1.3M951.3 754.7h1.3M953.9 773.0h1.3M921.5 775.5h1.3M935.7 773.8h1.3M975.9 734.6h1.3M936.3 791.7h1.3M952.5 743.6h1.3M947.0 747.8h1.3M938.3 757.0h1.3M935.5 776.0h1.3M985.0 729.5h1.3M945.2 752.8h1.3M961.8 735.3h1.3M939.3 780.3h1.3M992.0 713.5h1.3M933.3 779.6h1.3M945.5 757.8h1.3M932.3 760.3h1.3M969.0 735.2h1.3M962.2 760.0h1.3M987.8 716.5h1.3M935.4 764.7h1.3M940.5 761.2h1.3M967.4 754.4h1.3M978.6 722.6h1.3M972.9 736.2h1.3M928.9 775.9h1.3M936.2 787.0h1.3M965.0 739.3h1.3M954.2 757.1h1.3M914.9 774.2h1.3M913.9 768.5h1.3M927.9 770.2h1.3M978.4 734.2h1.3M972.2 729.7h1.3M934.1 769.5h1.3M1008.0 707.0h1.3M973.3 741.7h1.3M930.0 785.1h1.3M965.5 736.1h1.3M939.4 774.7h1.3M942.1 766.3h1.3M983.1 729.0h1.3M916.2 772.2h1.3M983.5 719.4h1.3M931.4 788.0h1.3M998.9 712.5h1.3M954.4 751.0h1.3M931.2 779.0h1.3M958.7 768.6h1.3M925.9 762.9h1.3M995.8 707.0h1.3M949.8 774.7h1.3M954.2 752.4h1.3M991.5 719.3h1.3M945.5 751.1h1.3M938.8 779.1h1.3M940.2 766.2h1.3M971.0 732.5h1.3M932.4 780.5h1.3M953.7 771.6h1.3M944.8 779.6h1.3M925.5 773.4h1.3M944.8 781.2h1.3M997.4 711.6h1.3M945.9 762.5h1.3M993.8 723.5h1.3M972.9 751.7h1.3M979.7 731.5h1.3M947.8 766.2h1.3M975.5 735.5h1.3M961.9 749.7h1.3M918.2 768.4h1.3M938.3 783.5h1.3M954.6 745.0h1.3M928.6 789.2h1.3M926.0 776.0h1.3M982.7 718.5h1.3M930.1 772.2h1.3M929.0 766.8h1.3M926.3 766.0h1.3M947.4 770.4h1.3M946.1 759.4h1.3M929.8 765.1h1.3M950.8 763.4h1.3M942.7 768.0h1.3M943.6 772.5h1.3M943.2 751.5h1.3M911.5 770.9h1.3M978.5 728.2h1.3M922.6 771.6h1.3M983.0 717.3h1.3M954.2 761.7h1.3M970.3 751.7h1.3M932.8 760.1h1.3M952.3 744.2h1.3M937.2 775.3h1.3M982.6 721.4h1.3M934.3 806.0h1.3M1013.4 694.7h1.3M950.9 765.0h1.3M1005.6 703.1h1.3M980.9 726.8h1.3M962.9 739.8h1.3M987.3 728.4h1.3M920.6 773.2h1.3M917.9 780.0h1.3M940.5 771.4h1.3M928.7 764.3h1.3M1006.6 705.9h1.3M946.6 774.5h1.3M969.3 743.6h1.3M955.9 743.2h1.3M950.9 775.3h1.3M941.2 751.7h1.3M932.9 793.5h1.3M955.3 771.6h1.3M915.5 772.4h1.3M990.0 720.7h1.3M986.8 728.8h1.3M952.4 745.5h1.3M939.6 777.9h1.3M954.6 761.3h1.3M935.8 753.5h1.3M943.6 752.8h1.3M992.6 720.3h1.3M945.0 752.4h1.3M921.4 770.6h1.3M986.1 716.8h1.3M943.0 767.3h1.3M936.6 766.0h1.3M996.0 723.2h1.3M932.2 774.2h1.3M965.6 753.6h1.3M988.5 714.8h1.3M963.4 753.9h1.3M941.2 755.7h1.3M940.2 756.7h1.3M985.2 729.1h1.3M934.1 782.3h1.3M980.5 722.9h1.3M984.0 719.6h1.3M960.0 756.3h1.3M915.9 773.6h1.3M937.6 762.0h1.3M985.7 717.3h1.3M949.2 770.0h1.3M916.2 770.0h1.3M929.6 770.1h1.3M964.9 729.8h1.3M986.8 723.2h1.3M935.7 777.9h1.3M951.3 763.3h1.3M952.1 753.9h1.3M991.0 717.5h1.3M976.3 740.3h1.3M937.2 760.0h1.3M1001.5 703.7h1.3M978.4 720.1h1.3M943.9 752.5h1.3M943.5 781.5h1.3M929.3 761.6h1.3M929.3 776.5h1.3M957.0 761.6h1.3M995.9 715.0h1.3M954.6 771.9h1.3M960.3 761.5h1.3M929.2 789.0h1.3M957.0 742.2h1.3M999.0 717.8h1.3M933.1 762.0h1.3M993.4 719.9h1.3M930.7 762.3h1.3M984.6 735.0h1.3M990.0 724.9h1.3M930.7 785.0h1.3M929.1 785.9h1.3M933.7 761.5h1.3M955.1 765.6h1.3M977.0 727.5h1.3M946.0 773.3h1.3M950.0 776.1h1.3M982.2 734.5h1.3M1007.5 705.8h1.3M974.2 740.3h1.3M931.7 762.9h1.3M991.5 726.2h1.3M931.6 772.3h1.3M943.2 785.6h1.3M938.1 766.9h1.3M990.8 717.3h1.3M955.6 768.7h1.3M952.7 751.6h1.3M970.7 748.3h1.3M982.8 734.9h1.3M923.1 779.2h1.3M983.2 721.9h1.3M962.0 736.3h1.3M1002.7 710.9h1.3M957.8 736.0h1.3M933.4 788.4h1.3M970.3 731.0h1.3M980.1 742.1h1.3M966.7 760.6h1.3M954.1 769.9h1.3M956.3 755.1h1.3M961.3 761.6h1.3M940.2 774.2h1.3M946.7 777.2h1.3M948.6 759.6h1.3M922.5 778.6h1.3M944.1 780.5h1.3M916.6 777.1h1.3M982.4 721.3h1.3M944.6 751.7h1.3M991.2 728.7h1.3M990.6 728.7h1.3M941.4 769.9h1.3M911.5 779.9h1.3M950.1 766.7h1.3M959.5 740.0h1.3M988.2 714.5h1.3M970.2 737.9h1.3M983.3 730.6h1.3M1006.5 705.6h1.3M942.3 776.6h1.3M924.4 767.6h1.3M985.0 734.2h1.3M930.9 759.5h1.3M938.8 758.0h1.3M987.5 729.7h1.3M946.0 748.2h1.3M981.0 722.6h1.3M941.8 762.4h1.3M989.3 710.8h1.3M948.2 763.3h1.3M960.3 761.3h1.3M983.0 732.9h1.3M977.8 730.4h1.3M944.3 763.7h1.3M905.6 769.9h1.3M950.8 754.3h1.3M937.7 763.3h1.3M975.0 744.9h1.3M918.9 768.7h1.3M947.9 749.0h1.3M941.8 782.0h1.3M973.7 749.6h1.3M953.9 742.6h1.3M1002.2 708.9h1.3M969.2 738.7h1.3M985.7 720.2h1.3M979.5 735.1h1.3M990.0 726.4h1.3M971.2 749.4h1.3M942.4 751.4h1.3M970.0 730.7h1.3M933.3 799.6h1.3M891.7 778.1h1.3M958.3 736.4h1.3M996.5 709.6h1.3M948.5 748.7h1.3M974.1 745.2h1.3M933.1 791.8h1.3M932.7 786.4h1.3M970.1 750.9h1.3M933.9 777.7h1.3M946.5 766.4h1.3M976.5 729.2h1.3M959.6 767.3h1.3M982.8 728.7h1.3M941.1 748.4h1.3M941.9 745.5h1.3M959.6 753.0h1.3M981.0 725.5h1.3M947.8 764.5h1.3M981.5 737.2h1.3M976.4 725.9h1.3M937.5 771.9h1.3M980.1 726.0h1.3M1003.0 708.0h1.3M899.2 769.7h1.3M970.8 735.1h1.3M905.7 768.4h1.3M933.4 790.9h1.3M962.1 756.4h1.3M941.1 761.7h1.3M941.7 771.2h1.3M958.2 761.6h1.3M976.1 743.0h1.3M969.1 752.7h1.3M976.8 739.6h1.3M979.6 726.1h1.3M970.5 729.6h1.3M956.3 768.6h1.3M918.0 767.2h1.3M995.0 724.4h1.3M982.2 732.0h1.3M1002.3 705.1h1.3M980.8 734.6h1.3M970.7 734.2h1.3M961.4 761.8h1.3M953.0 765.4h1.3M934.8 779.3h1.3M967.4 754.3h1.3M927.1 773.5h1.3M937.5 769.3h1.3M931.3 777.6h1.3M929.1 759.6h1.3M978.6 725.4h1.3M929.3 783.0h1.3M947.0 746.8h1.3M936.3 786.9h1.3M982.4 737.7h1.3M945.1 773.6h1.3M998.3 713.8h1.3M926.5 771.7h1.3M970.6 749.2h1.3M921.0 781.0h1.3M893.1 780.2h1.3M929.2 781.3h1.3M923.3 766.1h1.3M978.3 729.1h1.3M942.9 755.4h1.3M938.3 762.9h1.3M940.2 757.6h1.3M974.7 748.2h1.3M936.6 777.1h1.3M956.1 768.9h1.3M911.0 770.5h1.3M1000.9 704.0h1.3M942.3 760.3h1.3M962.7 761.2h1.3M935.3 761.4h1.3M937.0 755.8h1.3M943.4 756.4h1.3M950.3 765.6h1.3M967.3 750.4h1.3M931.4 789.2h1.3M996.2 718.1h1.3M1000.8 714.6h1.3M939.9 762.1h1.3M932.5 770.9h1.3M989.9 724.6h1.3M943.4 752.5h1.3M928.7 771.8h1.3M943.6 757.5h1.3M978.9 737.7h1.3M941.5 773.6h1.3M926.1 770.3h1.3M991.0 716.2h1.3M974.5 732.7h1.3M972.5 730.8h1.3M941.7 764.4h1.3M991.1 714.0h1.3M986.6 719.4h1.3M1005.1 710.2h1.3M929.8 791.5h1.3M943.8 752.6h1.3M955.0 770.2h1.3M944.7 775.4h1.3M954.6 762.5h1.3M934.2 802.8h1.3M937.2 759.9h1.3M966.5 751.0h1.3M945.9 749.9h1.3M978.0 732.1h1.3M943.5 755.0h1.3M968.6 745.4h1.3M1009.1 698.1h1.3M926.2 770.1h1.3M941.1 761.7h1.3M945.3 757.8h1.3M924.9 778.8h1.3M974.2 731.0h1.3M916.0 772.6h1.3M950.3 747.7h1.3M949.1 741.4h1.3M998.4 716.9h1.3M934.4 766.5h1.3M928.2 765.9h1.3M939.6 755.6h1.3M964.4 732.4h1.3M982.7 731.0h1.3M991.6 711.6h1.3M989.6 723.4h1.3M949.3 774.8h1.3M949.2 769.2h1.3M954.8 767.9h1.3M1001.4 711.7h1.3M933.2 793.3h1.3M955.3 742.5h1.3M921.2 765.6h1.3M930.1 778.2h1.3M998.7 707.6h1.3M967.7 738.2h1.3M936.0 791.1h1.3M932.9 765.7h1.3M947.8 751.8h1.3M1000.0 704.3h1.3M949.4 755.4h1.3M931.5 772.5h1.3M929.1 781.5h1.3M924.3 772.3h1.3M962.1 755.1h1.3M939.7 780.1h1.3M940.6 774.3h1.3M941.3 783.0h1.3M978.6 728.8h1.3M951.9 778.7h1.3M975.9 735.4h1.3M970.8 748.7h1.3M938.6 779.4h1.3M927.7 782.8h1.3M964.6 760.7h1.3M977.3 722.3h1.3M948.1 747.7h1.3M1005.9 708.6h1.3M941.0 768.3h1.3M988.2 725.9h1.3M931.6 805.9h1.3M926.1 791.3h1.3M904.5 771.5h1.3M924.7 767.9h1.3M949.5 766.3h1.3M941.5 763.4h1.3M985.2 718.1h1.3M951.4 776.9h1.3M954.9 758.7h1.3M967.2 752.2h1.3M975.7 735.0h1.3M989.4 718.6h1.3M935.1 784.3h1.3M939.6 753.8h1.3M959.9 765.7h1.3M943.5 779.9h1.3M998.5 709.9h1.3M961.6 738.3h1.3M967.1 753.2h1.3M965.8 756.5h1.3M973.0 726.9h1.3M971.5 735.9h1.3M976.8 722.9h1.3M939.1 770.5h1.3M931.1 764.5h1.3M1007.1 708.7h1.3M919.4 777.2h1.3M934.5 798.6h1.3M973.4 733.3h1.3M971.0 755.8h1.3M1001.2 712.4h1.3M946.0 747.5h1.3M933.3 767.1h1.3M937.3 766.0h1.3M978.2 743.8h1.3M937.6 786.2h1.3M966.4 752.7h1.3M987.6 726.3h1.3M1006.2 702.2h1.3M951.1 775.3h1.3M993.5 721.4h1.3M955.3 752.0h1.3M924.7 769.6h1.3M954.9 767.6h1.3M964.4 752.2h1.3M993.3 718.1h1.3M925.4 778.4h1.3M941.6 772.0h1.3M942.2 760.8h1.3M969.8 733.1h1.3M945.5 778.8h1.3M937.1 763.1h1.3M921.6 773.4h1.3M952.5 745.2h1.3M949.6 748.8h1.3M968.4 733.7h1.3M983.7 720.3h1.3M950.8 748.4h1.3M947.5 775.4h1.3M941.1 772.1h1.3M944.6 768.6h1.3M989.3 713.1h1.3M953.0 744.7h1.3M956.4 763.3h1.3M976.6 724.1h1.3M956.6 746.4h1.3M946.0 769.6h1.3M978.9 726.2h1.3M968.2 754.4h1.3M966.1 750.2h1.3M945.5 753.8h1.3M1005.4 702.8h1.3M952.5 763.0h1.3M957.2 760.7h1.3M1002.2 704.4h1.3M940.3 773.8h1.3M956.1 765.3h1.3M983.0 724.9h1.3M980.9 729.8h1.3M928.1 782.5h1.3M932.6 764.7h1.3M923.4 766.1h1.3M962.2 755.2h1.3M949.8 743.6h1.3M965.9 736.1h1.3M955.4 752.4h1.3M1003.6 714.2h1.3M984.0 728.9h1.3M956.0 766.9h1.3M942.1 762.1h1.3M894.6 779.4h1.3M955.0 754.5h1.3M941.0 780.7h1.3M920.1 771.9h1.3M935.8 784.2h1.3M968.0 733.5h1.3M932.0 765.1h1.3M987.6 729.9h1.3M919.7 772.3h1.3M967.1 756.5h1.3M914.3 773.7h1.3M919.9 769.0h1.3M950.6 749.0h1.3M990.1 713.7h1.3M976.6 744.3h1.3M924.2 775.4h1.3M990.5 723.1h1.3M976.7 743.7h1.3M932.0 774.1h1.3M919.4 772.4h1.3M941.2 778.5h1.3M971.4 748.0h1.3M940.8 759.3h1.3M970.0 730.7h1.3M930.7 789.5h1.3M948.9 772.2h1.3M936.0 799.1h1.3M967.0 730.2h1.3M1007.6 702.5h1.3M968.0 759.1h1.3M937.5 768.1h1.3M970.7 750.4h1.3M937.3 763.6h1.3M994.3 711.0h1.3M982.0 733.8h1.3M960.3 759.5h1.3M1002.9 713.4h1.3M948.7 745.1h1.3M933.7 761.9h1.3M986.8 732.2h1.3M972.0 730.6h1.3M977.5 738.1h1.3M982.8 734.5h1.3M948.9 769.2h1.3M930.8 763.1h1.3M965.7 734.1h1.3M975.1 725.9h1.3M1000.7 715.0h1.3M1006.2 704.1h1.3M953.4 760.8h1.3M927.0 763.2h1.3M923.2 771.8h1.3M991.3 731.5h1.3M994.6 726.7h1.3M943.8 760.2h1.3M974.6 735.0h1.3M960.8 757.3h1.3M918.1 774.6h1.3M916.1 779.7h1.3M939.0 754.8h1.3M967.7 733.2h1.3M980.4 732.4h1.3M977.1 726.5h1.3M982.9 728.6h1.3M938.6 748.6h1.3M986.7 731.7h1.3M953.1 757.0h1.3M933.9 779.3h1.3M979.1 721.1h1.3M979.9 739.9h1.3M979.8 724.8h1.3M948.4 758.4h1.3M941.5 761.6h1.3M1002.3 707.2h1.3M954.4 743.4h1.3M960.8 763.9h1.3M1002.0 705.0h1.3M923.7 763.7h1.3M951.0 741.9h1.3M932.3 756.5h1.3M975.6 747.7h1.3M971.0 756.8h1.3M1000.5 709.0h1.3M984.5 729.1h1.3M948.9 768.2h1.3M929.0 765.5h1.3M935.8 785.1h1.3M930.4 789.7h1.3M942.7 758.5h1.3M962.5 751.5h1.3M986.0 717.2h1.3M969.2 732.3h1.3M971.3 738.3h1.3M960.7 738.8h1.3M942.6 773.6h1.3M937.5 792.0h1.3M975.1 723.7h1.3M978.9 730.5h1.3M985.9 723.5h1.3M945.8 749.5h1.3M997.5 719.4h1.3M984.5 730.6h1.3M962.8 760.6h1.3M930.6 779.8h1.3M957.2 765.6h1.3M924.5 776.6h1.3M959.1 739.8h1.3M935.6 760.4h1.3M943.2 757.3h1.3M1004.9 707.5h1.3M966.0 755.3h1.3M967.9 753.3h1.3M945.9 768.6h1.3M960.4 742.9h1.3M947.3 749.8h1.3M981.6 737.2h1.3M906.3 771.6h1.3M998.4 717.3h1.3M979.0 722.5h1.3M951.4 781.3h1.3M952.7 766.5h1.3M977.6 737.1h1.3M985.9 716.3h1.3M934.6 762.5h1.3M956.3 755.3h1.3M979.3 720.8h1.3M942.3 788.3h1.3M995.8 723.7h1.3M934.9 780.3h1.3M950.3 768.3h1.3M933.9 772.1h1.3M917.8 770.7h1.3M937.9 761.7h1.3M998.0 712.4h1.3M957.8 770.1h1.3M1003.4 707.6h1.3M961.3 756.7h1.3M970.4 731.1h1.3M948.3 758.5h1.3M958.7 763.3h1.3M998.3 710.1h1.3M936.9 791.7h1.3M1006.3 706.4h1.3M938.6 759.0h1.3M976.3 734.8h1.3M947.4 778.5h1.3M900.1 780.2h1.3M991.2 714.6h1.3M995.6 713.5h1.3M1003.5 704.6h1.3M986.9 729.0h1.3M950.8 768.7h1.3M988.9 720.1h1.3M937.0 770.5h1.3M1000.4 706.1h1.3M986.0 734.2h1.3M940.2 781.9h1.3M921.5 769.0h1.3M948.4 769.2h1.3M919.1 782.5h1.3M963.0 754.2h1.3M931.2 788.8h1.3M977.4 743.5h1.3M931.0 770.7h1.3M943.4 766.4h1.3M997.3 705.4h1.3M942.1 784.3h1.3M934.3 761.2h1.3M948.6 747.4h1.3M982.4 724.1h1.3M933.3 775.9h1.3M932.6 759.8h1.3M964.6 738.2h1.3M939.7 772.7h1.3M997.9 706.8h1.3M947.1 756.4h1.3M962.9 756.5h1.3M975.8 735.1h1.3M991.6 717.4h1.3M946.7 775.5h1.3M948.3 754.6h1.3M995.3 715.6h1.3M934.5 769.2h1.3M931.1 781.1h1.3M966.3 735.8h1.3M948.8 763.5h1.3M985.5 726.8h1.3M960.2 764.5h1.3M970.1 735.4h1.3M984.1 730.1h1.3M971.2 735.2h1.3M941.5 779.6h1.3M948.4 745.3h1.3M970.7 730.5h1.3M993.2 719.2h1.3M916.5 768.4h1.3M993.6 713.6h1.3M962.8 761.5h1.3M941.6 772.8h1.3M951.2 756.7h1.3M1008.5 702.4h1.3M946.0 752.3h1.3M946.5 775.2h1.3M933.4 767.9h1.3M983.4 737.6h1.3M931.8 763.2h1.3M921.7 767.3h1.3M950.0 771.7h1.3M969.4 730.9h1.3M947.5 770.1h1.3M995.5 714.4h1.3M964.6 728.7h1.3M940.3 768.0h1.3M998.5 710.7h1.3M998.1 720.5h1.3M962.9 753.5h1.3M891.8 782.3h1.3M922.2 774.2h1.3M989.4 724.7h1.3M971.4 727.5h1.3M978.8 725.5h1.3M922.2 778.0h1.3M948.7 758.2h1.3M947.3 773.8h1.3M949.0 768.9h1.3M972.7 741.7h1.3M946.3 746.5h1.3M949.3 768.9h1.3M948.8 772.9h1.3M931.5 792.7h1.3M930.7 779.7h1.3M905.5 771.7h1.3M966.2 752.6h1.3M1005.6 703.6h1.3M959.3 760.5h1.3M935.5 794.0h1.3M946.6 772.0h1.3M950.1 752.6h1.3M940.3 775.3h1.3M942.0 773.9h1.3M977.3 723.6h1.3M944.9 773.3h1.3M949.3 764.6h1.3M909.2 769.3h1.3M967.1 753.4h1.3M960.6 738.0h1.3M937.6 767.1h1.3M943.8 758.1h1.3M938.9 787.2h1.3M968.1 734.2h1.3M980.6 734.0h1.3M982.5 733.1h1.3M905.3 781.2h1.3M943.1 750.7h1.3M912.3 773.2h1.3M984.2 717.7h1.3M981.8 732.5h1.3M988.3 722.6h1.3M927.6 763.9h1.3M942.8 782.6h1.3M989.3 723.0h1.3M966.4 758.2h1.3M979.3 726.9h1.3M979.7 734.6h1.3M947.3 749.6h1.3M949.9 745.0h1.3M946.8 753.7h1.3M986.9 724.2h1.3M964.3 736.6h1.3M937.4 760.3h1.3M985.4 732.6h1.3M926.0 768.7h1.3M987.7 713.2h1.3M976.6 724.8h1.3M924.6 773.9h1.3M944.4 749.4h1.3M940.0 751.7h1.3M959.1 737.3h1.3M962.9 730.0h1.3M947.4 746.2h1.3M917.9 770.2h1.3M985.0 713.4h1.3M943.0 755.4h1.3M931.5 767.0h1.3M954.0 743.4h1.3M935.0 748.3h1.3M923.2 770.4h1.3M950.8 741.5h1.3M964.4 731.3h1.3M948.4 745.3h1.3M926.5 762.4h1.3M973.4 722.4h1.3M978.8 717.3h1.3M976.8 719.5h1.3M921.5 768.2h1.3M919.4 770.8h1.3M932.1 765.2h1.3" stroke="#1a1ad6" stroke-width="1.3" fill="none"/>
<path d="M887.2 822.0h1.3M901.4 782.5h1.3M878.4 807.9h1.3M894.1 826.0h1.3M908.2 825.1h1.3M880.6 808.0h1.3M904.9 783.0h1.3M911.5 780.4h1.3M891.8 785.3h1.3M913.5 788.2h1.3M895.4 824.1h1.3M890.1 827.1h1.3M880.6 799.1h1.3M918.8 818.6h1.3M875.8 804.5h1.3M887.0 794.6h1.3M887.8 821.9h1.3M886.7 789.7h1.3M924.9 814.0h1.3M897.3 782.3h1.3M878.1 804.8h1.3M900.1 775.7h1.3M887.6 789.2h1.3M924.5 808.2h1.3M918.6 817.9h1.3M899.1 828.0h1.3M888.4 789.9h1.3M908.4 826.0h1.3M882.2 801.6h1.3M894.5 824.6h1.3M894.6 823.6h1.3M924.7 811.4h1.3M903.7 831.0h1.3M919.8 783.9h1.3M878.0 803.6h1.3M930.2 796.7h1.3M890.5 827.1h1.3M888.6 786.4h1.3M877.4 801.0h1.3M904.5 827.0h1.3M876.5 799.7h1.3M895.8 778.7h1.3M886.4 824.8h1.3M877.3 795.5h1.3M907.6 772.8h1.3M898.0 828.1h1.3M898.8 832.8h1.3M880.0 814.7h1.3M929.2 800.0h1.3M926.4 803.7h1.3M899.1 831.9h1.3M914.8 777.6h1.3M928.8 812.1h1.3M924.1 779.6h1.3M892.1 823.1h1.3M918.7 786.7h1.3M893.9 832.3h1.3M916.8 781.4h1.3M882.2 813.5h1.3M927.2 809.9h1.3M881.8 790.5h1.3M912.0 830.7h1.3M881.5 818.5h1.3M922.3 817.2h1.3M934.3 791.3h1.3M914.1 821.5h1.3M900.8 827.5h1.3M915.5 778.3h1.3M909.0 829.4h1.3M880.6 820.0h1.3M928.5 807.2h1.3M908.2 828.2h1.3M905.9 781.1h1.3M923.2 814.4h1.3M914.3 781.7h1.3M900.7 832.9h1.3M874.7 806.0h1.3M911.5 822.5h1.3M907.7 773.5h1.3M923.8 816.4h1.3M897.0 822.8h1.3M878.2 800.5h1.3M879.3 794.0h1.3M884.7 819.6h1.3M876.6 811.3h1.3M924.9 806.6h1.3M892.7 826.2h1.3M917.6 781.7h1.3M900.4 831.0h1.3M920.2 816.3h1.3M899.3 778.0h1.3M881.5 801.5h1.3M895.8 779.7h1.3M922.8 815.5h1.3M891.3 828.3h1.3M922.0 787.2h1.3M881.7 811.8h1.3M911.4 829.5h1.3M892.8 830.3h1.3M883.2 791.7h1.3M907.9 827.0h1.3M920.3 785.7h1.3M926.2 779.5h1.3M916.1 825.5h1.3M890.3 828.4h1.3M882.7 793.5h1.3M927.1 812.0h1.3M921.0 777.9h1.3M933.4 803.0h1.3M929.5 795.3h1.3M893.8 784.9h1.3M897.4 825.4h1.3M902.0 780.6h1.3M892.6 825.8h1.3M927.4 781.2h1.3M875.3 808.9h1.3M887.1 790.4h1.3M891.2 783.8h1.3M928.3 784.0h1.3M930.5 796.3h1.3M928.3 808.6h1.3M931.2 804.2h1.3M890.7 827.5h1.3M892.6 779.7h1.3M880.0 792.5h1.3M883.5 790.4h1.3M875.5 790.8h1.3M922.3 781.7h1.3M919.2 784.1h1.3M900.2 827.9h1.3M894.2 829.8h1.3M879.4 796.5h1.3M931.3 799.5h1.3M928.5 806.8h1.3M911.1 826.8h1.3M882.7 812.1h1.3M883.4 811.6h1.3M927.1 813.0h1.3M902.4 829.9h1.3M908.5 824.4h1.3M915.9 826.2h1.3M893.2 829.1h1.3M915.1 822.5h1.3M876.9 814.4h1.3M913.4 818.6h1.3M923.5 813.3h1.3M917.6 821.9h1.3M879.8 794.5h1.3M911.4 832.3h1.3M912.4 776.0h1.3M932.6 807.0h1.3M922.2 785.1h1.3M928.9 805.2h1.3M912.8 822.8h1.3M886.1 789.4h1.3M898.0 829.6h1.3M880.5 804.9h1.3M890.7 827.1h1.3M893.2 830.5h1.3M900.2 774.2h1.3M885.7 784.2h1.3M910.6 824.6h1.3M910.2 775.9h1.3M924.3 802.8h1.3M883.9 819.1h1.3M920.1 779.7h1.3M892.2 829.9h1.3M884.4 787.9h1.3M909.4 827.9h1.3M888.2 783.2h1.3M877.0 811.5h1.3M892.6 824.0h1.3M879.7 820.1h1.3M897.5 829.9h1.3M935.8 802.5h1.3M916.6 774.5h1.3M922.3 781.2h1.3M901.6 830.8h1.3M927.6 803.3h1.3M884.9 793.0h1.3M929.8 776.9h1.3M881.8 817.0h1.3M920.9 815.4h1.3M912.8 829.8h1.3M915.0 779.4h1.3M927.0 789.2h1.3M881.7 821.7h1.3M895.3 826.2h1.3M930.3 809.6h1.3M897.1 830.6h1.3M879.8 799.7h1.3M920.8 822.8h1.3M883.4 816.9h1.3M917.6 821.3h1.3M898.9 777.8h1.3M888.0 823.6h1.3M932.7 796.9h1.3M926.6 785.7h1.3M920.4 815.6h1.3M908.5 770.2h1.3M880.9 797.0h1.3M914.6 826.0h1.3M930.1 801.1h1.3M916.6 823.8h1.3M884.0 791.4h1.3M933.1 813.8h1.3M880.0 807.7h1.3M899.1 828.6h1.3M895.8 779.1h1.3M931.1 795.4h1.3M927.2 795.5h1.3M899.3 779.6h1.3M924.2 796.7h1.3M878.0 797.7h1.3M907.8 826.8h1.3M910.7 823.5h1.3M917.2 826.5h1.3M879.8 805.9h1.3M891.1 786.7h1.3M902.1 778.3h1.3M910.5 777.7h1.3M881.5 797.5h1.3M876.6 792.7h1.3M878.6 798.5h1.3M917.7 820.8h1.3M924.1 815.4h1.3M886.9 821.2h1.3M897.9 824.3h1.3M930.7 802.4h1.3M907.6 830.0h1.3M914.5 781.9h1.3M904.1 830.7h1.3M933.9 793.4h1.3M931.6 811.7h1.3M880.5 799.8h1.3M887.5 819.4h1.3M899.4 775.5h1.3M932.6 788.0h1.3M925.6 781.8h1.3M903.9 825.3h1.3M874.6 803.2h1.3M914.4 821.2h1.3M926.3 809.0h1.3M901.3 831.3h1.3M911.7 782.1h1.3M913.1 828.0h1.3M921.7 814.8h1.3M928.8 784.0h1.3M897.1 782.4h1.3M896.2 830.7h1.3M892.2 783.0h1.3M902.8 831.0h1.3M891.5 784.1h1.3M881.0 805.2h1.3M908.1 829.7h1.3M929.6 785.4h1.3M908.9 775.5h1.3M928.7 800.4h1.3M892.3 830.5h1.3M876.4 801.6h1.3M877.5 800.6h1.3M876.0 802.0h1.3M888.0 823.5h1.3M924.9 819.2h1.3M902.1 778.5h1.3M873.2 806.3h1.3M918.4 818.8h1.3M888.1 823.6h1.3M875.3 813.2h1.3M927.3 798.3h1.3M930.2 791.5h1.3M916.0 777.7h1.3M891.3 783.2h1.3M885.0 788.7h1.3M924.6 811.4h1.3M880.7 786.4h1.3M921.6 813.9h1.3M886.5 818.3h1.3M895.3 828.2h1.3M923.0 819.6h1.3M923.9 780.6h1.3M931.6 796.7h1.3M909.0 831.0h1.3M925.7 781.7h1.3M886.9 823.5h1.3M925.2 782.9h1.3M912.7 780.3h1.3M880.0 813.8h1.3M927.5 801.0h1.3M893.6 781.2h1.3M912.3 776.9h1.3M892.4 778.1h1.3M873.1 810.9h1.3M923.1 782.9h1.3M879.7 817.2h1.3M898.9 777.4h1.3M887.1 818.6h1.3M892.8 830.0h1.3M909.5 822.9h1.3M932.8 811.2h1.3M882.2 819.9h1.3M925.7 783.6h1.3M880.7 799.7h1.3M935.2 781.8h1.3M929.1 797.2h1.3M919.2 780.5h1.3M893.7 829.0h1.3M875.8 802.3h1.3M887.0 823.6h1.3M921.1 777.3h1.3M890.3 825.9h1.3M880.5 807.2h1.3M890.7 825.5h1.3M890.0 785.0h1.3M914.7 773.4h1.3M932.5 790.6h1.3M878.1 793.5h1.3M878.8 799.7h1.3M933.0 800.1h1.3M903.4 827.1h1.3M920.5 787.9h1.3M929.2 775.0h1.3M932.1 803.7h1.3M882.3 802.0h1.3M881.2 814.5h1.3M890.3 826.5h1.3M923.7 812.7h1.3M874.8 813.4h1.3M921.5 816.7h1.3M888.1 789.9h1.3M925.1 814.9h1.3M885.2 819.4h1.3M930.7 803.3h1.3M882.8 787.4h1.3M918.2 787.4h1.3M920.0 818.9h1.3M875.7 799.7h1.3M876.7 800.6h1.3M927.0 807.8h1.3M886.2 791.3h1.3M877.9 805.6h1.3M901.3 826.1h1.3M900.1 779.5h1.3M932.8 775.3h1.3M928.5 787.8h1.3M919.4 778.0h1.3M902.8 772.4h1.3M936.3 783.8h1.3M894.3 828.4h1.3M920.1 777.0h1.3M910.7 824.9h1.3M880.9 801.1h1.3M917.3 778.6h1.3M886.2 825.8h1.3M925.5 815.6h1.3M889.0 825.1h1.3M927.7 806.4h1.3M899.5 833.6h1.3M927.5 772.7h1.3M925.0 816.4h1.3M906.8 774.5h1.3M881.6 814.8h1.3M884.2 795.5h1.3M905.3 776.6h1.3M898.1 833.8h1.3M880.0 795.5h1.3M914.0 784.7h1.3M931.8 805.3h1.3M898.9 776.6h1.3M899.0 774.4h1.3M928.7 806.0h1.3M878.7 813.2h1.3M908.0 776.1h1.3M896.5 778.7h1.3M897.7 779.2h1.3M929.3 810.2h1.3M914.3 822.5h1.3M928.5 807.8h1.3M888.1 788.7h1.3M892.8 828.5h1.3M886.7 820.3h1.3M923.7 785.6h1.3M907.5 826.2h1.3M881.8 822.1h1.3M881.2 793.7h1.3M934.9 801.7h1.3M879.0 797.8h1.3M895.9 830.1h1.3M889.4 783.6h1.3M918.1 772.1h1.3M901.2 825.8h1.3M932.2 803.8h1.3M934.9 785.7h1.3M922.5 781.5h1.3M921.1 816.4h1.3M924.0 791.0h1.3M911.5 829.7h1.3M911.4 822.5h1.3M923.7 774.0h1.3M886.6 791.1h1.3M895.5 782.2h1.3M877.3 804.3h1.3M928.8 797.6h1.3M893.0 782.6h1.3M902.0 826.4h1.3M880.8 791.6h1.3M920.4 787.1h1.3M915.7 823.4h1.3M903.1 776.3h1.3M931.0 778.8h1.3M889.5 824.1h1.3M900.9 777.4h1.3M879.2 814.7h1.3M902.8 829.5h1.3M907.1 773.2h1.3M923.8 819.1h1.3M931.8 786.7h1.3M884.5 818.7h1.3M919.3 777.5h1.3M908.8 827.6h1.3M926.5 802.7h1.3M925.4 788.5h1.3M896.5 774.5h1.3M880.7 809.7h1.3M926.5 798.0h1.3M925.5 791.5h1.3M898.5 777.3h1.3M929.4 800.8h1.3M878.1 804.4h1.3M877.8 809.5h1.3M890.6 831.2h1.3M899.7 832.5h1.3M930.0 803.7h1.3M908.3 778.9h1.3M899.1 782.1h1.3M920.5 783.5h1.3M920.4 821.8h1.3M895.5 829.1h1.3M909.3 776.6h1.3M893.1 828.9h1.3M923.3 774.5h1.3M917.0 823.1h1.3M929.1 790.3h1.3M878.2 798.6h1.3M872.3 803.1h1.3M927.3 812.4h1.3M924.6 810.0h1.3M895.2 781.6h1.3M914.7 826.5h1.3M916.4 776.3h1.3M887.3 789.5h1.3M922.9 790.0h1.3M933.5 796.4h1.3M930.0 773.7h1.3M892.7 828.1h1.3M877.5 801.0h1.3M902.4 778.3h1.3M912.8 777.3h1.3M897.7 778.9h1.3M878.4 796.1h1.3M887.7 825.1h1.3M927.6 802.0h1.3M878.3 813.2h1.3M908.6 774.7h1.3M917.6 776.2h1.3M912.7 823.0h1.3M910.8 827.3h1.3M925.6 799.6h1.3M911.3 775.2h1.3M919.1 816.2h1.3M882.0 790.5h1.3M912.7 829.5h1.3M912.8 776.7h1.3M925.5 792.8h1.3M877.3 805.1h1.3M928.2 815.4h1.3M885.6 822.9h1.3M892.6 828.5h1.3M923.7 792.7h1.3M877.8 802.4h1.3M928.5 793.6h1.3M922.4 820.0h1.3M901.2 774.2h1.3M900.4 832.7h1.3M905.8 828.7h1.3M929.6 770.9h1.3M878.6 795.8h1.3M907.1 823.5h1.3M890.3 783.5h1.3M900.8 780.5h1.3M889.9 784.3h1.3M970.8 738.9h1.3M965.6 746.1h1.3M959.5 745.6h1.3M968.2 748.6h1.3M957.8 756.8h1.3M968.2 744.3h1.3M964.9 741.5h1.3M960.9 742.5h1.3M969.9 738.3h1.3M939.9 765.1h1.3M960.4 745.6h1.3M950.0 765.0h1.3M951.5 759.8h1.3M943.9 764.0h1.3M941.0 763.8h1.3M950.0 769.0h1.3M942.7 771.5h1.3M969.0 745.8h1.3M940.7 769.6h1.3M958.5 742.3h1.3M932.1 773.3h1.3M950.6 768.7h1.3M951.1 754.5h1.3M968.2 743.8h1.3M951.0 759.5h1.3M968.6 733.8h1.3M954.1 748.2h1.3M951.5 754.0h1.3M951.0 762.8h1.3M946.4 749.9h1.3M946.2 752.7h1.3M919.8 778.6h1.3M947.9 755.4h1.3M934.0 781.4h1.3M963.9 749.4h1.3M951.2 759.8h1.3M947.2 765.0h1.3M948.7 766.1h1.3M961.3 741.9h1.3M945.8 761.5h1.3M958.4 740.3h1.3M984.3 722.1h1.3M937.4 769.3h1.3M1000.7 706.9h1.3M952.4 752.4h1.3M932.6 771.5h1.3M979.0 731.3h1.3M973.2 734.3h1.3M977.9 736.4h1.3M962.0 753.5h1.3M983.5 728.1h1.3M966.4 746.6h1.3M948.7 758.2h1.3M932.8 783.3h1.3M960.2 758.0h1.3M936.5 780.8h1.3M963.4 735.5h1.3M953.8 759.5h1.3M960.5 740.6h1.3M937.6 763.6h1.3M962.0 754.9h1.3M958.7 744.4h1.3M931.6 771.9h1.3M975.1 738.8h1.3M967.9 745.8h1.3M943.0 769.6h1.3M945.0 750.5h1.3M953.1 760.2h1.3M956.0 748.5h1.3M924.6 776.3h1.3M944.5 759.3h1.3M942.8 768.9h1.3M949.9 762.7h1.3M959.4 759.2h1.3M952.2 757.7h1.3M971.2 744.3h1.3M905.9 779.2h1.3M951.2 753.1h1.3M952.7 757.1h1.3M959.9 746.9h1.3M925.6 781.1h1.3M958.5 752.6h1.3M957.4 753.5h1.3M962.0 752.8h1.3M958.8 755.9h1.3M970.4 744.3h1.3M931.0 780.4h1.3M952.8 756.7h1.3M980.6 729.0h1.3M925.0 776.1h1.3M986.1 727.9h1.3M986.2 730.0h1.3M932.6 773.9h1.3M968.6 748.6h1.3M950.5 756.5h1.3M972.3 737.9h1.3M961.9 747.3h1.3M938.9 756.7h1.3M940.3 770.7h1.3M956.6 753.8h1.3M939.5 760.0h1.3M972.8 742.8h1.3M935.6 769.2h1.3M975.7 742.5h1.3M939.3 763.8h1.3M954.2 760.4h1.3M920.8 777.2h1.3M977.9 726.8h1.3M952.9 755.8h1.3M923.1 776.3h1.3M943.3 762.1h1.3M959.9 760.8h1.3M917.0 779.1h1.3M968.7 746.2h1.3M952.9 754.3h1.3M947.3 767.0h1.3M970.0 737.6h1.3M938.8 766.5h1.3M932.2 778.3h1.3M979.9 729.6h1.3M927.5 782.4h1.3M933.3 763.1h1.3M946.9 751.4h1.3M975.8 733.9h1.3M953.9 749.6h1.3M944.2 770.0h1.3M931.9 767.9h1.3M987.6 721.0h1.3M950.5 749.7h1.3M964.1 738.1h1.3M957.3 762.6h1.3M931.7 777.5h1.3M936.1 768.7h1.3M955.3 748.0h1.3M947.3 768.7h1.3M964.2 749.2h1.3M951.1 758.2h1.3M946.5 757.3h1.3M920.6 783.8h1.3M967.7 751.5h1.3M969.7 734.3h1.3M926.2 776.6h1.3M995.2 715.6h1.3M973.9 731.8h1.3M922.4 784.5h1.3M897.1 781.6h1.3M975.4 727.3h1.3M923.9 774.3h1.3M925.6 779.4h1.3M930.8 778.5h1.3M933.2 771.5h1.3M946.1 753.7h1.3M951.3 750.1h1.3M988.5 727.9h1.3M935.7 778.4h1.3M966.3 738.1h1.3M921.8 787.3h1.3M922.9 775.9h1.3M936.4 779.6h1.3M928.5 782.0h1.3M946.3 774.0h1.3M998.3 710.4h1.3M938.9 766.8h1.3M949.8 759.1h1.3M964.0 752.0h1.3M977.1 730.6h1.3M932.9 772.9h1.3M924.6 783.3h1.3M911.4 776.4h1.3M940.3 767.2h1.3M954.8 745.6h1.3M959.9 746.5h1.3M978.2 730.8h1.3M911.7 771.9h1.3M928.3 789.9h1.3M969.6 732.3h1.3M962.8 743.3h1.3M923.8 784.5h1.3M964.5 750.9h1.3M944.4 772.1h1.3M957.2 753.7h1.3M943.4 759.8h1.3M940.5 767.3h1.3M905.9 775.7h1.3M990.6 721.9h1.3M967.1 737.0h1.3M921.3 782.5h1.3M926.4 782.5h1.3M952.4 760.7h1.3M976.7 735.5h1.3M935.1 771.1h1.3M933.9 769.6h1.3M943.3 776.2h1.3M928.8 804.1h1.3M974.2 736.2h1.3M951.5 761.5h1.3M944.8 765.6h1.3M962.9 747.5h1.3M967.8 743.3h1.3M935.3 795.9h1.3M979.1 732.0h1.3M936.0 779.4h1.3M942.4 762.4h1.3M917.4 773.5h1.3M945.3 756.4h1.3M932.4 776.6h1.3M930.9 776.5h1.3M951.8 756.4h1.3M953.3 753.5h1.3M948.2 772.9h1.3M963.4 739.0h1.3M979.7 728.8h1.3M999.0 716.3h1.3M952.7 753.9h1.3M944.2 759.3h1.3M987.2 722.1h1.3M937.0 786.1h1.3M921.9 773.1h1.3M924.3 791.5h1.3M958.1 746.2h1.3M928.5 788.0h1.3M943.1 771.5h1.3M950.8 761.4h1.3M959.4 753.4h1.3M977.5 732.7h1.3M985.5 728.2h1.3M926.6 782.0h1.3M943.8 760.6h1.3M945.3 756.5h1.3M921.9 781.2h1.3M930.1 779.8h1.3M923.8 789.8h1.3M929.3 772.6h1.3M956.7 761.2h1.3M981.2 731.7h1.3M932.4 780.7h1.3M919.4 775.0h1.3M1000.0 709.9h1.3M945.8 747.3h1.3M935.6 780.7h1.3M930.2 789.2h1.3M966.2 736.9h1.3M951.3 752.7h1.3M948.9 750.9h1.3M926.6 794.1h1.3M955.9 763.3h1.3M943.1 770.5h1.3M955.7 744.2h1.3M926.2 782.5h1.3M967.2 746.2h1.3M936.2 785.1h1.3M957.3 755.2h1.3M958.3 743.3h1.3M929.9 798.4h1.3M958.7 752.2h1.3M976.4 739.4h1.3M975.1 736.7h1.3M976.7 738.4h1.3M955.7 766.2h1.3M955.5 749.2h1.3M954.5 744.2h1.3M930.3 782.9h1.3M965.9 745.0h1.3M923.7 793.3h1.3M981.1 726.6h1.3M995.1 714.9h1.3M957.3 742.8h1.3M961.0 742.8h1.3M934.2 770.2h1.3M954.1 745.6h1.3M983.5 721.3h1.3M912.4 772.3h1.3M927.2 788.1h1.3M954.4 761.5h1.3M947.4 756.9h1.3M927.2 785.6h1.3M939.9 760.4h1.3M956.8 739.7h1.3M981.6 725.5h1.3M951.3 748.8h1.3M931.7 773.2h1.3M938.3 771.8h1.3M958.1 754.6h1.3M955.2 754.0h1.3M977.6 726.3h1.3M959.7 755.4h1.3M948.2 759.4h1.3M921.1 785.6h1.3M922.7 787.1h1.3M930.9 776.2h1.3M972.6 731.5h1.3M958.2 755.8h1.3M917.6 777.8h1.3M924.2 774.2h1.3M971.5 732.9h1.3M922.6 785.2h1.3M940.0 772.3h1.3M931.2 777.1h1.3M924.1 781.8h1.3M984.4 724.9h1.3M978.9 730.1h1.3M936.1 762.6h1.3M967.5 746.6h1.3M970.3 733.7h1.3M937.4 759.7h1.3M942.4 765.3h1.3M958.7 752.6h1.3M951.1 745.7h1.3M935.8 778.0h1.3M921.5 772.6h1.3M993.3 717.4h1.3M931.2 778.5h1.3M900.9 776.3h1.3M946.8 764.9h1.3M985.4 726.5h1.3M948.7 771.1h1.3M978.0 734.1h1.3M983.2 728.4h1.3M976.7 733.3h1.3M949.4 759.2h1.3M981.4 736.6h1.3M967.0 751.2h1.3M957.4 752.5h1.3M922.0 776.3h1.3M973.1 740.6h1.3M973.5 736.5h1.3M941.8 771.0h1.3M958.4 755.3h1.3M943.6 761.5h1.3M932.4 778.2h1.3M946.5 757.1h1.3M941.5 772.3h1.3M934.6 782.6h1.3M927.8 774.9h1.3M967.2 750.9h1.3M982.9 726.7h1.3M979.7 728.6h1.3M983.6 734.0h1.3M951.9 756.7h1.3M951.3 762.8h1.3M932.2 798.2h1.3M929.6 771.4h1.3M955.6 749.0h1.3M960.0 754.2h1.3M965.4 748.3h1.3M955.7 762.2h1.3M975.7 734.6h1.3M970.8 736.5h1.3M972.9 734.3h1.3M967.0 750.2h1.3M957.0 752.0h1.3M951.9 763.2h1.3M928.9 789.2h1.3M926.3 774.6h1.3M963.0 742.4h1.3M966.7 746.0h1.3M953.9 747.6h1.3M902.9 777.0h1.3M925.4 779.6h1.3M960.4 743.3h1.3M950.1 762.4h1.3M962.3 756.4h1.3M933.9 772.1h1.3M927.8 771.8h1.3M953.1 750.3h1.3M927.3 781.3h1.3M945.9 757.7h1.3M973.4 730.5h1.3M945.0 770.3h1.3M949.0 757.9h1.3M984.2 726.7h1.3M936.4 777.0h1.3M961.7 743.1h1.3M928.4 790.2h1.3M941.9 755.0h1.3M942.6 759.8h1.3M934.8 771.0h1.3M943.8 764.9h1.3M946.2 770.4h1.3M928.6 772.3h1.3M957.7 739.2h1.3M951.7 749.3h1.3M925.3 780.0h1.3M923.3 777.6h1.3M925.4 774.4h1.3M944.4 771.8h1.3M993.8 715.2h1.3M930.0 766.6h1.3M943.3 764.0h1.3M939.6 759.7h1.3M950.4 762.6h1.3M960.0 749.5h1.3M936.3 762.2h1.3M943.1 770.0h1.3M960.9 748.5h1.3M936.9 776.3h1.3M951.9 764.4h1.3M928.6 788.3h1.3M943.7 761.4h1.3M919.4 784.6h1.3M955.4 745.6h1.3M929.4 786.1h1.3M951.1 753.0h1.3M923.6 789.9h1.3M942.8 766.1h1.3M944.2 767.3h1.3M942.6 767.9h1.3M953.2 755.3h1.3M935.3 762.9h1.3M980.3 726.9h1.3M950.7 756.1h1.3M954.5 749.4h1.3M979.1 736.1h1.3M933.3 766.6h1.3M957.8 747.9h1.3M957.3 765.0h1.3M980.9 726.0h1.3M946.6 754.3h1.3M960.1 754.5h1.3M931.6 785.1h1.3M933.3 769.8h1.3M923.3 783.6h1.3M948.6 766.8h1.3M914.7 784.2h1.3M931.7 776.5h1.3M958.8 753.9h1.3M970.3 747.2h1.3M953.1 763.8h1.3M1001.2 711.0h1.3M952.9 759.6h1.3M972.5 737.1h1.3M982.9 723.9h1.3M941.5 764.4h1.3M924.5 772.8h1.3M922.2 777.5h1.3M978.7 730.2h1.3M944.5 769.3h1.3M991.9 722.1h1.3M930.4 779.8h1.3M975.1 734.0h1.3M898.8 780.8h1.3M960.0 760.9h1.3M953.2 761.8h1.3M945.9 753.0h1.3M944.7 764.4h1.3M943.5 776.5h1.3M947.2 775.7h1.3M954.4 756.4h1.3M946.4 771.1h1.3M920.8 779.6h1.3M933.0 777.7h1.3M977.5 727.0h1.3M955.2 766.0h1.3M930.9 769.6h1.3M960.4 749.3h1.3M931.5 783.7h1.3M970.1 736.7h1.3M993.1 715.6h1.3M971.6 735.7h1.3M971.5 744.5h1.3M951.5 754.3h1.3M955.4 757.5h1.3M931.6 795.7h1.3M917.3 773.9h1.3M992.1 719.4h1.3M956.7 749.5h1.3M952.4 752.4h1.3M951.6 762.3h1.3M960.7 745.0h1.3M962.9 744.2h1.3M988.8 723.9h1.3M975.1 732.0h1.3M977.5 733.1h1.3M953.2 753.5h1.3M934.9 767.9h1.3M974.3 735.6h1.3M949.3 754.4h1.3M959.5 757.0h1.3M963.7 751.5h1.3M952.6 747.1h1.3M957.9 749.7h1.3M987.8 719.7h1.3M946.3 765.8h1.3M935.9 766.3h1.3M929.2 788.6h1.3M950.0 763.9h1.3M939.2 765.5h1.3M955.1 758.1h1.3M926.6 787.5h1.3M924.7 780.9h1.3M935.3 778.5h1.3M947.3 761.2h1.3M960.3 745.6h1.3M920.2 778.5h1.3M935.0 774.5h1.3M944.7 756.0h1.3M925.4 776.4h1.3M963.6 738.5h1.3M979.9 733.0h1.3M917.3 791.0h1.3M947.7 756.6h1.3M944.2 770.5h1.3M954.0 744.5h1.3M928.0 768.6h1.3" stroke="#1464ff" stroke-width="1.3" fill="none"/>
<path d="M913.1 819.0h1.3M910.2 784.5h1.3M922.5 799.5h1.3M904.2 828.2h1.3M918.4 791.1h1.3M912.6 819.9h1.3M882.8 812.8h1.3M926.3 801.9h1.3M881.3 801.6h1.3M929.3 798.0h1.3M922.9 796.3h1.3M896.6 823.6h1.3M918.0 788.1h1.3M909.2 787.1h1.3M907.7 823.9h1.3M904.4 782.2h1.3M888.5 798.8h1.3M902.5 825.9h1.3M925.6 791.6h1.3M891.9 787.8h1.3M898.6 828.9h1.3M884.9 803.3h1.3M919.3 789.2h1.3M925.4 802.6h1.3M928.6 791.9h1.3M908.6 822.0h1.3M896.4 786.8h1.3M896.3 784.0h1.3M927.3 792.8h1.3M907.3 825.2h1.3M881.0 805.3h1.3M920.9 813.6h1.3M884.3 812.9h1.3M879.6 802.4h1.3M887.7 814.4h1.3M897.5 821.4h1.3M915.8 823.7h1.3M886.2 798.8h1.3M923.9 804.5h1.3M886.1 799.8h1.3M885.7 805.9h1.3M879.0 804.6h1.3M918.5 811.9h1.3M886.3 809.4h1.3M918.2 812.4h1.3M880.1 796.9h1.3M894.8 786.5h1.3M896.7 817.1h1.3M891.7 821.5h1.3M885.0 814.3h1.3M895.7 784.7h1.3M889.8 791.3h1.3M885.8 801.4h1.3M917.0 780.8h1.3M885.1 794.7h1.3M897.9 785.6h1.3M907.0 822.4h1.3M904.5 825.9h1.3M903.7 779.9h1.3M890.6 791.7h1.3M898.0 787.1h1.3M881.0 798.1h1.3M902.8 826.4h1.3M881.3 804.9h1.3M915.0 808.6h1.3M903.7 826.1h1.3M884.0 803.9h1.3M894.7 790.0h1.3M889.9 818.2h1.3M882.9 792.9h1.3M899.2 821.2h1.3M902.3 782.6h1.3M925.7 801.7h1.3M900.0 781.6h1.3M914.4 815.0h1.3M885.6 792.9h1.3M885.1 809.7h1.3M888.1 793.2h1.3M915.2 781.9h1.3M889.1 820.1h1.3M882.5 793.7h1.3M924.7 809.8h1.3M904.8 785.2h1.3M925.8 812.5h1.3M892.9 789.9h1.3M900.5 824.8h1.3M882.3 806.1h1.3M905.3 784.2h1.3M912.7 790.4h1.3M919.2 792.6h1.3M916.9 815.3h1.3M887.4 792.8h1.3M928.2 798.4h1.3M896.9 781.5h1.3M924.4 802.0h1.3M924.2 812.5h1.3M880.8 810.4h1.3M878.6 807.1h1.3M921.3 806.3h1.3M898.9 821.3h1.3M894.8 820.6h1.3M900.8 823.1h1.3M899.4 785.0h1.3M914.7 820.1h1.3M910.4 822.8h1.3M912.8 818.3h1.3M898.1 783.9h1.3M905.1 826.8h1.3M919.8 790.6h1.3M890.9 818.9h1.3M883.3 803.3h1.3M891.7 818.6h1.3M909.6 784.9h1.3M916.4 816.8h1.3M915.4 786.5h1.3M899.8 781.8h1.3M918.6 812.2h1.3M916.5 783.8h1.3M919.6 813.7h1.3M885.2 806.6h1.3M883.9 817.6h1.3M921.2 808.5h1.3M884.1 810.0h1.3M897.9 819.5h1.3M922.8 806.6h1.3M888.7 811.4h1.3M892.0 822.2h1.3M918.8 785.4h1.3M888.7 821.4h1.3M899.9 819.5h1.3M925.6 809.8h1.3M924.0 807.4h1.3M909.6 827.0h1.3M882.0 813.7h1.3M895.9 818.7h1.3M931.9 788.2h1.3M884.0 796.2h1.3M905.5 824.3h1.3M920.7 788.9h1.3M914.1 785.2h1.3M889.6 790.8h1.3M881.2 803.4h1.3M884.2 814.4h1.3M882.5 805.3h1.3M900.2 824.5h1.3M891.1 821.9h1.3M886.0 809.0h1.3M889.2 790.5h1.3M900.8 826.9h1.3M888.1 792.4h1.3M884.6 803.2h1.3M892.8 822.5h1.3M891.6 791.3h1.3M875.0 802.0h1.3M893.4 825.4h1.3M893.1 818.6h1.3M889.5 816.0h1.3M894.2 825.5h1.3M890.5 788.5h1.3M919.9 796.5h1.3M881.6 809.1h1.3M910.1 823.9h1.3M885.5 803.7h1.3M887.7 813.7h1.3M906.7 787.9h1.3M920.7 792.3h1.3M906.0 779.3h1.3M901.1 819.9h1.3M906.3 816.3h1.3M923.3 799.0h1.3M899.2 780.2h1.3M887.0 793.6h1.3M919.5 815.8h1.3M925.6 805.8h1.3M904.4 822.1h1.3M883.7 809.8h1.3M918.1 791.4h1.3M885.1 815.5h1.3M914.6 786.2h1.3M896.3 822.6h1.3M924.8 802.9h1.3M886.9 790.9h1.3M923.1 807.0h1.3M918.7 797.3h1.3M885.5 812.6h1.3M918.9 816.7h1.3M901.8 788.0h1.3M927.4 797.2h1.3M908.3 825.0h1.3M883.3 793.8h1.3M890.0 817.5h1.3M911.9 783.7h1.3M915.3 814.9h1.3M894.6 820.5h1.3M914.4 817.4h1.3M904.5 823.7h1.3M889.4 795.2h1.3M882.4 815.3h1.3M879.0 800.8h1.3M894.6 784.0h1.3M901.6 775.3h1.3M901.6 778.5h1.3M924.1 807.8h1.3M895.1 782.8h1.3M880.5 805.8h1.3M929.0 805.9h1.3M913.8 825.0h1.3M897.4 783.4h1.3M894.6 779.6h1.3M907.2 782.4h1.3M889.4 822.1h1.3M901.9 777.6h1.3M892.5 785.3h1.3M908.6 780.0h1.3M917.1 780.9h1.3M890.4 785.9h1.3M927.5 781.1h1.3M926.5 803.6h1.3M927.9 797.7h1.3M912.0 822.1h1.3M882.5 791.5h1.3M896.3 823.4h1.3M898.9 781.3h1.3M911.7 781.8h1.3M891.2 787.0h1.3M922.5 792.2h1.3M884.5 807.7h1.3M921.7 783.1h1.3M894.3 825.1h1.3M922.5 791.3h1.3M923.6 813.9h1.3M926.7 803.0h1.3M895.3 828.3h1.3M924.3 798.1h1.3M917.1 781.8h1.3M893.6 786.3h1.3M893.3 824.6h1.3M925.9 798.8h1.3M926.3 786.5h1.3M924.2 787.7h1.3M921.4 785.2h1.3M884.1 818.4h1.3M890.2 823.3h1.3M881.2 799.8h1.3M925.9 789.7h1.3M925.5 810.7h1.3M906.4 782.9h1.3M889.5 820.0h1.3M917.6 817.5h1.3M895.0 825.5h1.3M876.3 803.2h1.3M912.1 782.1h1.3M910.0 777.4h1.3M925.6 811.6h1.3M919.6 784.4h1.3M919.8 816.2h1.3M912.9 782.2h1.3M884.4 813.5h1.3M897.1 824.9h1.3M882.0 803.9h1.3M926.6 787.6h1.3M924.1 809.0h1.3M906.9 829.5h1.3M925.8 797.2h1.3M898.5 824.9h1.3M924.7 786.7h1.3M882.5 814.5h1.3M885.8 789.9h1.3M907.4 778.7h1.3M929.3 798.0h1.3M900.4 783.5h1.3M889.3 788.3h1.3M886.8 819.5h1.3M891.2 823.4h1.3M895.4 824.6h1.3M906.6 823.5h1.3M898.2 828.3h1.3M878.8 804.0h1.3M882.3 806.0h1.3M906.7 826.8h1.3M873.4 799.5h1.3M923.5 793.2h1.3M907.0 823.4h1.3M896.3 779.2h1.3M880.9 811.8h1.3M884.4 791.6h1.3M926.8 793.5h1.3M881.6 818.2h1.3M903.1 824.4h1.3M924.3 808.0h1.3M882.4 791.1h1.3M899.9 826.2h1.3M897.4 778.9h1.3M886.5 788.1h1.3M914.0 819.5h1.3M909.6 779.9h1.3M907.6 824.6h1.3M928.6 806.2h1.3M904.2 776.8h1.3M903.5 824.0h1.3M908.5 825.9h1.3M882.7 797.8h1.3M925.5 801.5h1.3M885.8 816.1h1.3M915.8 823.0h1.3M914.9 819.8h1.3M918.0 792.0h1.3M912.7 781.7h1.3M913.5 821.0h1.3M884.2 814.5h1.3M906.2 826.9h1.3M878.8 801.2h1.3M916.4 819.3h1.3M889.3 785.7h1.3M881.8 800.1h1.3M885.8 816.2h1.3M920.0 790.8h1.3M892.1 823.8h1.3M925.4 808.4h1.3M911.3 823.0h1.3M909.2 822.9h1.3M920.8 778.9h1.3M876.5 804.8h1.3M911.2 826.6h1.3M927.4 801.2h1.3M879.9 805.7h1.3M884.4 816.4h1.3M911.1 826.4h1.3M895.1 785.1h1.3M888.5 782.5h1.3M885.9 818.5h1.3M877.8 800.6h1.3M879.5 802.3h1.3M902.4 782.3h1.3M928.2 788.0h1.3M928.1 797.7h1.3M921.3 813.8h1.3M926.1 788.6h1.3M877.2 809.4h1.3M926.9 785.2h1.3M925.3 786.1h1.3M888.7 819.3h1.3M920.1 775.1h1.3M922.3 812.0h1.3M924.3 806.7h1.3M899.2 830.6h1.3M905.4 777.5h1.3M891.3 786.7h1.3M920.6 785.3h1.3M910.7 777.5h1.3M918.2 779.4h1.3M910.2 784.0h1.3M882.2 806.5h1.3M877.5 811.9h1.3M931.9 801.5h1.3M918.6 819.1h1.3M892.2 784.2h1.3M881.3 807.2h1.3M886.1 823.2h1.3M890.8 780.0h1.3M885.8 815.9h1.3M921.4 788.8h1.3M931.2 806.0h1.3M913.7 824.0h1.3M892.1 822.0h1.3M898.1 779.7h1.3M883.0 794.4h1.3M920.4 815.6h1.3M893.0 786.3h1.3M922.3 812.8h1.3M878.7 804.8h1.3M882.6 806.5h1.3M925.0 792.9h1.3M911.2 822.2h1.3M930.0 782.9h1.3M920.1 783.2h1.3M899.4 777.5h1.3M888.2 820.6h1.3M886.4 788.9h1.3M882.2 803.4h1.3M925.9 792.8h1.3M881.7 814.3h1.3M882.7 812.3h1.3M914.0 782.4h1.3M887.5 791.1h1.3M906.8 821.1h1.3M923.8 800.8h1.3M896.3 825.6h1.3M881.0 796.1h1.3M890.3 789.1h1.3M880.7 811.4h1.3M927.1 791.2h1.3M893.1 826.0h1.3M923.9 802.3h1.3M923.8 802.3h1.3M926.5 805.1h1.3M917.2 817.3h1.3M888.7 821.8h1.3M915.5 781.0h1.3M895.6 787.4h1.3M926.3 804.8h1.3M922.9 790.7h1.3M911.3 781.4h1.3M882.9 815.9h1.3M887.4 820.6h1.3M895.0 783.1h1.3M875.7 802.6h1.3M927.9 792.8h1.3M892.8 785.3h1.3M891.0 788.2h1.3M880.4 798.2h1.3M884.3 817.4h1.3M901.5 778.3h1.3M894.6 785.8h1.3M919.8 815.9h1.3M918.9 818.4h1.3M926.0 799.7h1.3M916.4 777.4h1.3M909.0 823.6h1.3M899.7 824.8h1.3M888.8 822.5h1.3M919.3 772.9h1.3M924.5 793.2h1.3M895.9 826.5h1.3M924.1 788.8h1.3M930.4 804.1h1.3M919.1 821.1h1.3M915.7 826.4h1.3M885.4 818.7h1.3M920.2 815.2h1.3M884.0 811.3h1.3M893.7 826.7h1.3M883.7 816.3h1.3M894.0 829.2h1.3M895.8 819.7h1.3M918.8 784.7h1.3M931.6 807.7h1.3M925.5 800.6h1.3M924.1 793.1h1.3M897.0 777.4h1.3M925.0 802.3h1.3M893.7 784.4h1.3M878.6 804.0h1.3M888.9 792.1h1.3M877.8 808.4h1.3M928.6 780.8h1.3M899.2 824.7h1.3M922.2 810.2h1.3M911.5 780.0h1.3M908.5 819.9h1.3M910.1 828.1h1.3M921.0 791.6h1.3M889.4 824.2h1.3M880.9 813.6h1.3M877.9 802.8h1.3M914.6 775.2h1.3M922.3 815.3h1.3M924.7 810.0h1.3M883.9 795.9h1.3M878.7 809.4h1.3M933.2 783.4h1.3M874.8 805.1h1.3M890.6 786.7h1.3M922.4 811.8h1.3M879.5 802.7h1.3M927.1 802.2h1.3M880.5 810.8h1.3M933.2 803.2h1.3M886.0 789.1h1.3M910.8 778.0h1.3M895.1 828.6h1.3M926.0 809.3h1.3M875.5 810.6h1.3M881.1 797.7h1.3M921.8 791.4h1.3M889.6 821.2h1.3M918.7 786.0h1.3M883.2 803.2h1.3M925.8 785.8h1.3M887.0 787.1h1.3M881.1 799.7h1.3M925.3 794.8h1.3M924.7 800.8h1.3M926.1 791.7h1.3M909.8 778.1h1.3M929.7 796.6h1.3M933.1 794.6h1.3M909.8 819.8h1.3M920.0 780.9h1.3M882.6 811.0h1.3M914.9 817.9h1.3M883.1 809.4h1.3M879.5 798.4h1.3M927.5 791.4h1.3M905.4 825.2h1.3M921.1 791.9h1.3M895.8 826.8h1.3M891.8 787.6h1.3M882.1 806.5h1.3M894.8 818.8h1.3M924.7 790.9h1.3M892.6 821.7h1.3M908.5 825.3h1.3M884.5 790.1h1.3M882.7 801.0h1.3M928.5 781.7h1.3M882.2 816.9h1.3M917.8 818.0h1.3M892.1 783.9h1.3M925.3 798.2h1.3M884.0 791.7h1.3M909.2 774.3h1.3M903.3 781.1h1.3M897.3 785.0h1.3M888.0 814.1h1.3M881.1 811.5h1.3M911.6 818.8h1.3M916.1 782.1h1.3M924.8 797.7h1.3M924.2 797.4h1.3M895.8 783.3h1.3M888.1 818.4h1.3M895.8 779.9h1.3M883.7 813.3h1.3M886.2 819.7h1.3M893.2 822.2h1.3M897.7 790.8h1.3M921.1 807.0h1.3M916.4 778.4h1.3M889.5 829.3h1.3M930.2 789.5h1.3M909.0 817.2h1.3M926.1 792.0h1.3M922.6 816.1h1.3M926.4 806.1h1.3M924.4 787.1h1.3M903.9 775.5h1.3M897.5 823.8h1.3M921.6 792.4h1.3M886.4 818.5h1.3M897.8 827.8h1.3M886.7 822.5h1.3M925.4 805.0h1.3M893.9 788.8h1.3M922.4 790.9h1.3M927.7 803.2h1.3M883.3 799.8h1.3M903.4 779.7h1.3M876.1 804.4h1.3M892.0 825.6h1.3M916.5 818.7h1.3M923.0 788.2h1.3M919.8 788.4h1.3M881.8 794.2h1.3M924.8 809.1h1.3M893.4 781.6h1.3M898.0 829.1h1.3M898.6 776.0h1.3M891.3 823.9h1.3M925.6 798.3h1.3M878.9 812.0h1.3M884.8 791.3h1.3M893.6 783.6h1.3M883.6 799.1h1.3M922.2 793.0h1.3M921.3 814.7h1.3M885.0 790.7h1.3M883.2 815.8h1.3M917.7 822.3h1.3M911.2 779.8h1.3M923.9 805.4h1.3M909.2 779.4h1.3M881.4 798.9h1.3M895.7 777.8h1.3M921.2 791.2h1.3M919.8 789.2h1.3M919.2 787.9h1.3M917.1 817.8h1.3M914.3 780.5h1.3M925.9 800.2h1.3M885.7 815.0h1.3M924.5 788.6h1.3M916.4 781.7h1.3M879.4 803.9h1.3M912.8 777.9h1.3M878.1 795.2h1.3M919.7 784.4h1.3M882.0 798.6h1.3M876.8 801.6h1.3M896.8 827.3h1.3M915.2 819.8h1.3M922.5 808.4h1.3M885.8 794.4h1.3M928.7 798.2h1.3M899.5 831.8h1.3M898.6 828.0h1.3M923.7 803.1h1.3M906.4 832.2h1.3M878.9 810.0h1.3M905.4 777.7h1.3M877.0 803.6h1.3M877.8 796.1h1.3M896.3 784.6h1.3M883.2 810.2h1.3M882.4 811.1h1.3M892.6 825.4h1.3M930.1 794.2h1.3M881.4 798.3h1.3M881.4 800.9h1.3M901.9 824.8h1.3M928.1 805.9h1.3M888.7 783.7h1.3M913.6 779.9h1.3M880.4 811.8h1.3M928.7 799.1h1.3M914.9 820.5h1.3M924.3 798.6h1.3M878.7 806.5h1.3M920.8 812.9h1.3M921.2 812.2h1.3M931.0 793.8h1.3M897.5 827.3h1.3M889.7 788.0h1.3M921.5 780.6h1.3M889.1 819.7h1.3M903.2 824.8h1.3M888.5 787.9h1.3M914.8 779.8h1.3M905.9 826.2h1.3M919.9 818.8h1.3M917.3 783.1h1.3M899.7 782.5h1.3M921.3 784.7h1.3M917.2 818.6h1.3M880.4 811.2h1.3M904.3 827.7h1.3M925.4 806.9h1.3M910.7 780.7h1.3M919.1 786.0h1.3M889.9 817.6h1.3M897.0 783.0h1.3M894.9 824.6h1.3M909.6 828.5h1.3M923.7 798.3h1.3M876.9 803.6h1.3M909.9 774.1h1.3M887.8 796.1h1.3M889.0 822.4h1.3M920.5 816.9h1.3M890.4 788.1h1.3M886.7 790.1h1.3M894.4 825.4h1.3M883.5 817.4h1.3M926.4 805.9h1.3M894.1 785.0h1.3M926.7 798.8h1.3M881.8 792.9h1.3M901.7 827.5h1.3M898.3 823.2h1.3M880.0 801.9h1.3M921.9 811.7h1.3M893.3 827.0h1.3M882.1 793.2h1.3M907.5 780.1h1.3M912.9 784.3h1.3M930.4 793.9h1.3M888.0 790.4h1.3M881.7 806.5h1.3M894.6 824.4h1.3M929.3 790.9h1.3M913.4 822.1h1.3M925.6 787.0h1.3M907.6 823.0h1.3M925.8 791.1h1.3M925.4 792.3h1.3M900.1 829.7h1.3M909.6 822.5h1.3M922.7 812.5h1.3M895.3 826.9h1.3M917.0 823.4h1.3M894.7 783.2h1.3M902.9 827.8h1.3M923.3 798.9h1.3M917.6 782.1h1.3M889.9 829.1h1.3M880.8 809.0h1.3M882.1 810.5h1.3M903.1 830.6h1.3M893.6 825.4h1.3M916.4 814.1h1.3M890.2 790.7h1.3M929.0 802.1h1.3M886.7 787.0h1.3M900.8 826.6h1.3M909.2 824.4h1.3M882.0 795.5h1.3M906.5 824.6h1.3M883.2 815.7h1.3M896.3 788.3h1.3M913.6 779.7h1.3M881.1 814.5h1.3M922.5 791.6h1.3M882.6 811.9h1.3M912.4 776.2h1.3M894.3 826.0h1.3M924.3 797.5h1.3M906.5 777.7h1.3M926.4 805.1h1.3M905.9 778.6h1.3M884.7 815.5h1.3M901.0 825.3h1.3M924.0 813.1h1.3M914.3 784.7h1.3M892.7 826.4h1.3M887.6 790.7h1.3M925.2 801.0h1.3M881.1 818.6h1.3M915.2 785.1h1.3M896.7 827.4h1.3M879.9 806.4h1.3M891.6 814.6h1.3M924.5 785.3h1.3M920.3 792.7h1.3M917.7 781.7h1.3M929.5 798.7h1.3M921.1 788.8h1.3M918.7 787.3h1.3M922.6 814.9h1.3M922.0 782.6h1.3M891.3 815.9h1.3M927.5 799.0h1.3M925.9 785.9h1.3M923.9 812.0h1.3M913.4 782.7h1.3M888.4 784.2h1.3M880.7 801.0h1.3M920.7 784.0h1.3M879.5 803.8h1.3M896.2 826.3h1.3M915.1 812.6h1.3M903.0 826.1h1.3M926.8 792.8h1.3M927.7 794.8h1.3M884.8 809.2h1.3M904.4 824.1h1.3M903.4 781.4h1.3M875.1 802.7h1.3M909.5 824.5h1.3M919.8 788.6h1.3M907.8 826.4h1.3M909.7 783.0h1.3M908.6 823.4h1.3M877.9 796.8h1.3M897.3 782.7h1.3M899.2 828.2h1.3M906.2 827.6h1.3M892.1 785.4h1.3M889.9 782.9h1.3M902.1 825.5h1.3M881.9 814.1h1.3M891.8 787.7h1.3M895.7 831.2h1.3M899.5 783.6h1.3M877.4 801.0h1.3M897.0 828.0h1.3M906.1 777.0h1.3M924.3 787.8h1.3M886.9 818.4h1.3M891.1 787.5h1.3M890.6 823.2h1.3M889.6 793.8h1.3M920.2 782.7h1.3M924.4 807.8h1.3M909.2 783.8h1.3M919.4 819.2h1.3M890.6 785.2h1.3M883.1 812.6h1.3M910.3 825.5h1.3M904.4 780.3h1.3M893.9 825.1h1.3M903.1 826.0h1.3M908.9 779.9h1.3M920.5 817.3h1.3M900.1 830.1h1.3M915.7 786.7h1.3M925.0 789.6h1.3M912.9 782.2h1.3M922.0 815.2h1.3M891.0 824.5h1.3M895.0 825.2h1.3M886.3 792.2h1.3M922.6 812.8h1.3M882.2 803.8h1.3M930.8 808.3h1.3M923.4 790.4h1.3M898.3 783.4h1.3M880.4 816.4h1.3M924.2 815.5h1.3M922.8 793.6h1.3M883.2 813.2h1.3M884.5 797.2h1.3M898.9 779.9h1.3M914.3 820.7h1.3M889.0 822.2h1.3M884.0 797.8h1.3M879.6 808.3h1.3M927.9 801.5h1.3M925.0 790.7h1.3M913.9 786.9h1.3M901.6 779.8h1.3M927.5 791.1h1.3M908.4 783.1h1.3M925.2 800.0h1.3M919.1 789.1h1.3M901.7 827.2h1.3M883.0 801.6h1.3M899.1 827.0h1.3M883.9 794.2h1.3M912.2 783.5h1.3M916.4 776.1h1.3M924.8 793.4h1.3M906.6 777.8h1.3M888.4 792.6h1.3M902.7 827.5h1.3M895.2 785.2h1.3M926.6 801.8h1.3M908.6 782.6h1.3M899.3 825.0h1.3M882.1 805.6h1.3M890.5 785.2h1.3M891.3 793.0h1.3M927.5 800.5h1.3M899.6 830.3h1.3M882.6 807.4h1.3M892.3 787.8h1.3M924.5 806.0h1.3M903.6 825.3h1.3M893.4 824.7h1.3M924.7 798.6h1.3M895.1 821.1h1.3M882.5 789.6h1.3M922.6 795.3h1.3M882.1 808.9h1.3M928.1 801.1h1.3M880.8 813.2h1.3M926.0 814.7h1.3M916.2 782.3h1.3M925.9 806.4h1.3M918.8 818.3h1.3M900.1 779.6h1.3M915.8 818.7h1.3M908.1 824.1h1.3M905.6 785.1h1.3M918.7 782.6h1.3M879.6 807.4h1.3M890.6 823.2h1.3M924.2 806.1h1.3M924.1 810.8h1.3M907.3 780.4h1.3M906.9 780.4h1.3M891.4 816.8h1.3M925.8 803.4h1.3M927.0 796.4h1.3M884.0 793.8h1.3M876.1 798.9h1.3M895.7 783.6h1.3M885.7 792.2h1.3M917.9 783.3h1.3M909.2 828.1h1.3M919.0 815.3h1.3M925.2 812.2h1.3M932.6 797.5h1.3M884.3 820.2h1.3M887.7 791.6h1.3M881.1 814.6h1.3M905.0 831.8h1.3M895.5 780.6h1.3M893.0 826.3h1.3M882.8 817.4h1.3M887.1 792.2h1.3M902.5 778.5h1.3M917.2 786.3h1.3M886.0 816.5h1.3M888.5 815.2h1.3M883.3 812.8h1.3M898.7 779.7h1.3M923.4 807.8h1.3M883.3 811.3h1.3M919.1 785.1h1.3M877.5 804.0h1.3M895.8 784.9h1.3M916.3 781.2h1.3M889.1 790.3h1.3M928.1 799.6h1.3M908.2 824.1h1.3M917.7 819.5h1.3M928.3 806.0h1.3M904.5 782.4h1.3M897.7 827.6h1.3M913.4 821.1h1.3M879.4 812.2h1.3M898.3 828.1h1.3M906.7 782.9h1.3M912.7 782.8h1.3M880.7 800.8h1.3M899.4 827.0h1.3M883.9 814.3h1.3M900.4 781.0h1.3M882.0 812.9h1.3M903.9 776.4h1.3M929.5 795.7h1.3M893.1 786.7h1.3M878.4 807.7h1.3M925.2 781.7h1.3M908.0 823.9h1.3M878.8 808.4h1.3M914.8 824.1h1.3M910.6 823.4h1.3M910.8 781.7h1.3M925.8 792.6h1.3M925.9 798.4h1.3M921.6 810.3h1.3M883.1 812.3h1.3M920.4 798.5h1.3M898.5 827.3h1.3M912.1 781.0h1.3M923.9 798.5h1.3M887.0 818.3h1.3M927.2 791.9h1.3M881.8 796.7h1.3M896.4 825.3h1.3M917.7 783.9h1.3M881.6 814.4h1.3M898.8 830.9h1.3M902.1 825.2h1.3M917.4 783.3h1.3M914.6 776.8h1.3M889.9 785.4h1.3M908.5 773.8h1.3M911.1 778.8h1.3M901.4 781.2h1.3M884.9 805.1h1.3M884.5 813.5h1.3M905.9 825.3h1.3M923.5 811.2h1.3M909.9 823.0h1.3M908.5 781.7h1.3M920.3 795.2h1.3M880.3 815.6h1.3M900.7 824.7h1.3M925.6 801.8h1.3M925.0 792.2h1.3M880.5 800.6h1.3M894.6 783.4h1.3M885.1 816.5h1.3M923.2 803.4h1.3M900.6 826.0h1.3M884.4 814.4h1.3M902.7 828.3h1.3M883.1 809.0h1.3M929.9 802.1h1.3M909.4 776.7h1.3M904.9 779.7h1.3M928.9 785.3h1.3M894.4 784.1h1.3M892.1 787.2h1.3M882.6 794.9h1.3M906.6 782.1h1.3M919.7 788.1h1.3M902.6 784.1h1.3M911.2 826.0h1.3M903.8 780.1h1.3M915.5 777.4h1.3M882.1 806.3h1.3M883.0 808.7h1.3M904.0 824.2h1.3M882.4 811.1h1.3M927.8 798.5h1.3M899.7 784.9h1.3M889.8 822.5h1.3M898.2 781.8h1.3M921.9 786.9h1.3M880.0 814.9h1.3M885.1 819.6h1.3M877.6 802.8h1.3M914.4 785.8h1.3M895.3 782.1h1.3M927.4 795.4h1.3M904.9 827.1h1.3M904.5 825.9h1.3M879.9 805.2h1.3M906.0 780.6h1.3M881.1 798.6h1.3M893.0 828.9h1.3M900.0 826.6h1.3M921.9 792.2h1.3M882.9 813.3h1.3M904.8 826.6h1.3M928.5 807.2h1.3M882.8 797.4h1.3M880.6 809.4h1.3M896.5 781.8h1.3M902.1 827.9h1.3M891.2 822.1h1.3M915.5 781.7h1.3M894.4 827.7h1.3M902.5 784.2h1.3M912.5 773.4h1.3M922.6 786.2h1.3M880.6 809.4h1.3M888.6 820.3h1.3M895.2 784.9h1.3M907.8 783.3h1.3M923.9 804.5h1.3M877.3 811.2h1.3M912.7 824.5h1.3M911.2 822.7h1.3M881.2 799.5h1.3M915.6 823.3h1.3M878.0 799.8h1.3M917.7 812.9h1.3M907.1 778.5h1.3M894.6 782.0h1.3M911.3 777.1h1.3M881.5 812.1h1.3M924.8 812.7h1.3M881.5 804.5h1.3M897.3 782.6h1.3M920.4 785.6h1.3M917.3 822.5h1.3M926.8 802.0h1.3M906.4 781.6h1.3M888.8 819.6h1.3M904.4 779.5h1.3M918.8 783.6h1.3M923.4 789.8h1.3M924.9 802.8h1.3M914.3 779.2h1.3M907.2 775.4h1.3M929.1 800.5h1.3M889.9 820.7h1.3M932.0 801.8h1.3M898.3 827.8h1.3M912.8 778.0h1.3M897.7 825.7h1.3M906.7 777.9h1.3M881.6 800.7h1.3M885.1 792.0h1.3M928.7 811.7h1.3M916.7 778.5h1.3M904.5 824.0h1.3M885.7 797.3h1.3M917.6 820.6h1.3M923.2 790.4h1.3M926.2 809.4h1.3M881.9 807.1h1.3M928.6 802.4h1.3M881.5 802.7h1.3M888.1 790.4h1.3M906.4 776.5h1.3M918.1 781.1h1.3M902.2 827.0h1.3M906.0 822.8h1.3M896.5 782.0h1.3M924.1 790.3h1.3M926.1 795.3h1.3M902.0 826.8h1.3M895.3 823.8h1.3M900.9 782.2h1.3M890.9 781.3h1.3M925.6 800.5h1.3M927.7 805.2h1.3M904.2 780.0h1.3M925.5 804.1h1.3M914.6 823.9h1.3M887.0 822.8h1.3M914.3 815.4h1.3M895.2 827.2h1.3M913.7 822.7h1.3M927.9 797.8h1.3M879.1 812.1h1.3M905.3 776.2h1.3M883.9 793.2h1.3M882.8 813.8h1.3M925.3 799.3h1.3M887.3 790.8h1.3M886.9 820.6h1.3M880.2 806.2h1.3M899.5 784.6h1.3M906.8 782.1h1.3M921.7 814.5h1.3M884.0 811.3h1.3M902.0 779.5h1.3M887.9 786.9h1.3M897.2 777.0h1.3M899.8 827.7h1.3M896.8 779.4h1.3M906.4 778.8h1.3M928.0 795.7h1.3M898.4 775.4h1.3M885.1 795.3h1.3M927.1 807.2h1.3M881.2 809.3h1.3M881.0 803.1h1.3M923.7 806.4h1.3M880.9 811.1h1.3M887.8 818.3h1.3M928.8 777.8h1.3M913.1 785.4h1.3M906.9 825.7h1.3M930.2 800.1h1.3M913.5 820.6h1.3M880.0 793.5h1.3M897.2 827.4h1.3M921.1 786.6h1.3M899.1 828.1h1.3M916.4 792.5h1.3M919.7 791.4h1.3M903.1 828.9h1.3M925.7 790.7h1.3M885.5 791.9h1.3M884.4 792.1h1.3M903.0 825.4h1.3M920.6 816.0h1.3M896.1 782.8h1.3M920.8 791.0h1.3M907.7 778.2h1.3M890.5 786.6h1.3M927.4 804.9h1.3M928.4 803.8h1.3M884.4 793.0h1.3M928.4 800.6h1.3M880.5 806.8h1.3M913.8 783.4h1.3M886.7 823.1h1.3M878.9 799.7h1.3M922.6 795.1h1.3M881.2 805.4h1.3M921.5 781.8h1.3M926.6 801.1h1.3M890.7 824.7h1.3M881.7 797.5h1.3M886.0 821.7h1.3M905.0 824.6h1.3M918.0 780.6h1.3M884.5 790.8h1.3M922.4 792.1h1.3M922.1 784.6h1.3M895.2 824.8h1.3M920.5 786.7h1.3M888.1 790.5h1.3M883.2 803.0h1.3M909.1 783.2h1.3M901.9 780.9h1.3M911.6 777.8h1.3M881.9 796.6h1.3M906.9 778.7h1.3M888.8 789.1h1.3M906.9 829.2h1.3M908.2 783.0h1.3M899.8 823.3h1.3M901.2 783.3h1.3M879.1 816.1h1.3M875.5 804.3h1.3M918.9 820.7h1.3M925.3 802.7h1.3M927.4 805.4h1.3M885.5 797.4h1.3M881.0 812.8h1.3M890.0 818.4h1.3M909.3 785.5h1.3M920.8 791.2h1.3M922.9 785.3h1.3M881.9 818.7h1.3M912.0 783.6h1.3M903.3 780.8h1.3M924.9 799.3h1.3M928.2 787.4h1.3M906.6 779.6h1.3M923.4 795.8h1.3M883.6 812.7h1.3M916.8 786.6h1.3M879.3 801.7h1.3M892.3 822.7h1.3M892.6 823.1h1.3M886.5 791.4h1.3M915.2 824.2h1.3M902.1 828.3h1.3M881.2 801.9h1.3M883.5 795.1h1.3M927.8 802.9h1.3M884.6 813.3h1.3M904.9 829.1h1.3M915.9 818.9h1.3M881.7 806.7h1.3M927.5 797.4h1.3M880.5 808.7h1.3M929.0 796.2h1.3M924.0 805.2h1.3M883.9 817.8h1.3M900.4 825.0h1.3M898.3 825.3h1.3M901.5 829.0h1.3M906.8 823.0h1.3M891.3 785.9h1.3M889.1 825.0h1.3M901.3 779.3h1.3M880.7 808.4h1.3M896.1 784.5h1.3M901.6 779.4h1.3M918.1 781.7h1.3M923.8 805.1h1.3M897.8 781.1h1.3M900.8 827.7h1.3M883.0 812.7h1.3M913.4 820.7h1.3M887.1 789.3h1.3M920.1 790.4h1.3M906.7 822.8h1.3M899.9 826.0h1.3M883.8 813.4h1.3M916.4 784.8h1.3M887.9 819.0h1.3M886.4 819.0h1.3M922.8 790.4h1.3M882.3 818.7h1.3M918.7 821.5h1.3M899.3 823.8h1.3M925.6 801.8h1.3M909.0 783.6h1.3M879.5 806.2h1.3M905.9 781.2h1.3M881.5 800.7h1.3M925.6 813.2h1.3M876.1 810.6h1.3M896.0 823.2h1.3M886.8 787.3h1.3M901.7 827.9h1.3M917.7 778.0h1.3M881.9 801.6h1.3M924.9 794.2h1.3M901.6 829.6h1.3M881.7 796.3h1.3M899.4 782.1h1.3M921.7 785.0h1.3M893.4 825.8h1.3M954.6 753.2h1.3M964.3 746.0h1.3M970.0 736.7h1.3M970.3 740.9h1.3M968.2 741.9h1.3M962.5 746.1h1.3M968.7 745.3h1.3M968.2 739.9h1.3M963.7 749.6h1.3M960.2 747.2h1.3M968.4 741.9h1.3M969.3 748.7h1.3M967.7 739.1h1.3M962.8 743.1h1.3M962.7 740.6h1.3M975.0 738.8h1.3M961.2 748.1h1.3M968.3 742.3h1.3M965.3 740.8h1.3M964.3 747.6h1.3M945.6 762.1h1.3M938.2 770.0h1.3M953.8 756.7h1.3M946.8 760.5h1.3M987.0 723.8h1.3M946.6 758.0h1.3M946.9 764.4h1.3M925.4 792.1h1.3M934.2 773.0h1.3M929.1 778.3h1.3M959.6 745.5h1.3M964.1 744.8h1.3M940.1 766.4h1.3M928.5 787.2h1.3M958.5 750.2h1.3M931.6 792.8h1.3M951.0 755.0h1.3M971.5 740.7h1.3M916.8 783.5h1.3M928.8 783.6h1.3M947.5 762.0h1.3M925.4 793.3h1.3M908.5 780.8h1.3M925.0 799.1h1.3M962.7 751.6h1.3M943.5 772.2h1.3M921.2 785.3h1.3M965.9 743.2h1.3M949.1 761.0h1.3M941.5 765.9h1.3M923.5 775.8h1.3M944.9 754.8h1.3M906.9 778.8h1.3M950.2 753.8h1.3M972.1 737.5h1.3M920.6 783.9h1.3M929.5 783.9h1.3M910.9 782.5h1.3M945.4 760.9h1.3M916.7 780.6h1.3M957.7 744.6h1.3M956.5 758.0h1.3M922.6 787.7h1.3M953.0 758.8h1.3M936.0 770.1h1.3M971.3 745.2h1.3M930.0 783.6h1.3M969.4 733.5h1.3M917.4 781.3h1.3M951.4 748.8h1.3M955.9 747.4h1.3M912.1 777.6h1.3M929.3 792.2h1.3M987.7 725.6h1.3M958.6 751.4h1.3M967.1 744.9h1.3M968.7 744.6h1.3M967.5 741.3h1.3M957.0 753.5h1.3M981.1 728.7h1.3M960.6 751.6h1.3M946.2 760.5h1.3M967.8 741.3h1.3M921.6 787.4h1.3M926.2 790.3h1.3M958.2 751.4h1.3M974.4 740.4h1.3M923.9 782.1h1.3M941.9 757.5h1.3M957.0 752.6h1.3M905.9 777.9h1.3M947.8 753.9h1.3M968.4 743.2h1.3M976.0 729.0h1.3M942.0 766.9h1.3M936.0 775.7h1.3M919.2 784.4h1.3M923.7 787.1h1.3M955.1 752.3h1.3M929.8 774.2h1.3M949.3 760.0h1.3M940.0 769.7h1.3M925.1 781.6h1.3M929.1 789.9h1.3M954.6 759.1h1.3M960.3 756.2h1.3M925.7 779.9h1.3M960.6 743.7h1.3M971.1 734.6h1.3M924.3 794.7h1.3M952.3 757.2h1.3M922.5 789.9h1.3M965.0 738.6h1.3M962.6 750.7h1.3M967.1 739.7h1.3M919.5 791.7h1.3M947.9 763.8h1.3M928.8 771.5h1.3M960.9 743.1h1.3M933.5 767.9h1.3M930.1 778.1h1.3M908.6 781.0h1.3M989.3 717.8h1.3M966.6 735.4h1.3M918.0 779.8h1.3M941.7 769.5h1.3M917.7 780.3h1.3M931.1 766.1h1.3M967.6 748.0h1.3M915.2 783.0h1.3M941.9 763.8h1.3M968.4 735.6h1.3M971.0 736.5h1.3M971.1 744.7h1.3M930.5 787.1h1.3M996.5 713.8h1.3M920.3 783.0h1.3M954.5 761.1h1.3M957.1 757.0h1.3M958.4 744.6h1.3M957.9 746.7h1.3M943.4 757.3h1.3M923.4 794.4h1.3M927.0 779.4h1.3M961.9 745.3h1.3M922.6 789.4h1.3M910.6 784.4h1.3M950.9 755.8h1.3M921.3 785.1h1.3M946.0 758.2h1.3M951.5 752.4h1.3M953.2 748.4h1.3M969.1 734.9h1.3M969.4 736.4h1.3M956.2 755.1h1.3M980.0 726.9h1.3M922.3 796.5h1.3M961.5 744.9h1.3M935.4 782.9h1.3M946.3 754.6h1.3M920.4 798.5h1.3M966.2 734.4h1.3M964.0 742.6h1.3M936.2 769.9h1.3M924.2 793.0h1.3M968.2 739.0h1.3M965.5 743.5h1.3M971.8 739.0h1.3M957.2 751.3h1.3M962.3 748.3h1.3M919.5 797.5h1.3M936.3 763.9h1.3M987.8 722.0h1.3M894.5 787.5h1.3M933.6 781.7h1.3M912.5 784.3h1.3M924.6 778.5h1.3M929.0 799.9h1.3M964.4 748.4h1.3M948.0 764.8h1.3M957.4 751.6h1.3M916.9 784.5h1.3M915.3 784.0h1.3M954.3 751.4h1.3M914.0 787.5h1.3M921.4 808.2h1.3M957.2 745.3h1.3M902.4 777.1h1.3M913.3 777.2h1.3M961.2 742.1h1.3M925.3 787.6h1.3M978.7 729.7h1.3M943.0 766.8h1.3M975.3 732.7h1.3M917.2 775.8h1.3M972.7 741.1h1.3M948.9 754.6h1.3M925.4 801.0h1.3M958.3 748.9h1.3M972.1 743.3h1.3M921.4 784.4h1.3M961.6 748.2h1.3M920.7 794.8h1.3M957.1 751.8h1.3M933.6 771.5h1.3M922.7 790.2h1.3M920.6 783.9h1.3M956.9 756.7h1.3M987.6 719.2h1.3M963.0 750.9h1.3M966.6 746.6h1.3M954.8 754.9h1.3M948.4 757.7h1.3M954.0 748.2h1.3M961.7 744.4h1.3M927.4 788.5h1.3M952.3 765.5h1.3M966.8 734.0h1.3M958.5 748.6h1.3M915.9 782.3h1.3M971.4 740.9h1.3M935.0 764.0h1.3M967.1 745.8h1.3M923.5 804.0h1.3M967.7 743.3h1.3M947.5 763.8h1.3M935.7 762.6h1.3M939.7 774.5h1.3M941.5 762.8h1.3M973.1 729.4h1.3M935.4 774.6h1.3M918.3 787.7h1.3M967.0 744.2h1.3M960.7 750.5h1.3M966.7 736.5h1.3M948.0 752.1h1.3M963.3 739.0h1.3M916.3 784.9h1.3M966.0 744.2h1.3M968.8 736.5h1.3M930.7 776.3h1.3M902.6 782.0h1.3M970.2 741.9h1.3M923.0 783.5h1.3M957.8 750.1h1.3M952.4 762.7h1.3M939.8 763.1h1.3M966.6 746.5h1.3M963.5 746.2h1.3M914.5 787.3h1.3M940.9 765.2h1.3M928.4 793.5h1.3M955.3 754.0h1.3M965.5 746.9h1.3M945.5 768.5h1.3M916.7 793.6h1.3M968.9 740.4h1.3M983.1 726.8h1.3M931.1 793.8h1.3M946.5 757.8h1.3M949.5 753.9h1.3M953.3 751.2h1.3M919.6 787.0h1.3M923.8 781.3h1.3M925.6 812.5h1.3M939.9 767.8h1.3M968.7 741.0h1.3M987.7 723.4h1.3M958.1 753.5h1.3M923.2 788.4h1.3M960.9 748.6h1.3M966.9 742.7h1.3M958.9 759.8h1.3M947.4 759.8h1.3M959.7 756.4h1.3M943.9 767.7h1.3M962.3 747.8h1.3M971.8 736.5h1.3M963.9 743.5h1.3M947.2 771.6h1.3M945.7 759.6h1.3M920.5 790.4h1.3M957.4 757.4h1.3M917.4 781.8h1.3M925.0 789.4h1.3M919.4 788.9h1.3M941.8 762.5h1.3M929.9 774.7h1.3M911.7 780.1h1.3M909.7 782.3h1.3M972.6 741.5h1.3M945.0 762.7h1.3M973.7 738.3h1.3M962.4 748.1h1.3M963.3 744.2h1.3M949.2 753.4h1.3M927.7 782.2h1.3M953.9 752.5h1.3M955.8 753.4h1.3M917.3 784.7h1.3M976.8 727.6h1.3M930.0 799.8h1.3M943.6 762.8h1.3M918.6 784.6h1.3M962.6 750.7h1.3M927.4 793.1h1.3M947.3 757.0h1.3M967.5 746.4h1.3M965.7 739.9h1.3M925.2 796.3h1.3M966.5 740.9h1.3M925.2 778.8h1.3M923.4 792.8h1.3M949.5 749.3h1.3M958.6 748.2h1.3M955.5 747.0h1.3M952.3 753.1h1.3M946.6 760.2h1.3M926.4 793.3h1.3M969.3 736.1h1.3M925.8 782.7h1.3M956.4 753.9h1.3M926.6 804.2h1.3M956.0 749.3h1.3M912.5 779.9h1.3M964.1 748.0h1.3M910.0 777.6h1.3M911.4 774.4h1.3M966.3 742.9h1.3M925.0 783.9h1.3M955.0 749.8h1.3M957.5 753.9h1.3M960.3 741.5h1.3M921.4 791.0h1.3M957.2 745.6h1.3M948.8 763.6h1.3M950.3 754.5h1.3M954.0 753.4h1.3M935.3 769.5h1.3M926.2 785.5h1.3M947.0 747.9h1.3M973.0 739.7h1.3M969.1 740.2h1.3M959.2 741.7h1.3M950.0 759.2h1.3M920.7 794.5h1.3M923.2 808.4h1.3M942.3 765.6h1.3M965.8 743.2h1.3M948.4 759.3h1.3M954.8 759.7h1.3M976.2 733.6h1.3M944.8 757.0h1.3M935.0 766.2h1.3M906.2 781.4h1.3M961.6 739.7h1.3M924.5 792.1h1.3M974.5 739.9h1.3M946.0 763.3h1.3M954.0 755.1h1.3M968.2 740.0h1.3M932.9 770.7h1.3M937.7 764.5h1.3M932.4 771.5h1.3M955.9 757.7h1.3M973.7 738.6h1.3M969.2 741.9h1.3M918.3 794.1h1.3M918.6 789.0h1.3M951.2 761.7h1.3M957.8 748.2h1.3M920.1 793.7h1.3M948.8 759.1h1.3M976.4 732.6h1.3M955.4 751.1h1.3M957.0 754.7h1.3M907.1 780.6h1.3M931.3 773.7h1.3M976.5 730.1h1.3M984.4 728.1h1.3M959.7 741.0h1.3M940.6 764.9h1.3M917.9 784.2h1.3M944.1 772.1h1.3M962.2 738.9h1.3M948.3 762.9h1.3M957.4 750.2h1.3M966.8 746.9h1.3M944.0 762.9h1.3M967.3 738.8h1.3M949.5 759.3h1.3M954.1 755.6h1.3M979.8 733.2h1.3M955.4 758.3h1.3M922.4 807.4h1.3M949.0 755.6h1.3M926.2 790.4h1.3M926.9 796.0h1.3M920.7 782.8h1.3M915.5 783.1h1.3M939.8 774.0h1.3M900.2 780.4h1.3M949.0 753.6h1.3M930.3 795.3h1.3M961.0 742.3h1.3M955.3 755.7h1.3M948.4 761.0h1.3M959.9 750.1h1.3M920.8 798.8h1.3M956.4 755.6h1.3M967.6 737.7h1.3M931.2 782.1h1.3M932.4 799.6h1.3M957.5 749.8h1.3M919.9 792.7h1.3M959.5 751.5h1.3M950.3 755.2h1.3M913.8 779.9h1.3M922.3 792.3h1.3M928.9 774.2h1.3M936.7 776.3h1.3M914.1 780.9h1.3M945.1 763.3h1.3M936.6 773.6h1.3M966.0 744.5h1.3M939.7 763.6h1.3M918.5 787.8h1.3M948.9 764.3h1.3M947.7 757.7h1.3M927.0 775.3h1.3M966.5 741.1h1.3M939.2 765.1h1.3M949.7 754.7h1.3M963.6 742.8h1.3M921.9 781.1h1.3M958.1 752.9h1.3M922.2 783.5h1.3M983.0 725.4h1.3M950.7 764.8h1.3M944.3 757.3h1.3M943.3 762.3h1.3M966.0 743.5h1.3M955.6 755.8h1.3M971.3 739.3h1.3M968.9 742.1h1.3M966.3 745.3h1.3M929.9 777.7h1.3M960.7 747.8h1.3M957.9 754.0h1.3M949.0 757.2h1.3M953.2 749.3h1.3M964.3 743.9h1.3M966.8 740.2h1.3M926.0 794.0h1.3M924.7 784.1h1.3M946.1 757.9h1.3M975.0 736.2h1.3M963.1 746.7h1.3M933.0 771.4h1.3M917.8 790.4h1.3M969.5 746.4h1.3M906.8 776.9h1.3M943.8 759.8h1.3M924.2 804.8h1.3M911.6 784.2h1.3M955.7 755.7h1.3M945.7 763.2h1.3M975.8 739.1h1.3M902.2 779.5h1.3M966.3 743.2h1.3M970.3 731.1h1.3M918.2 785.4h1.3M966.8 750.3h1.3M955.4 753.9h1.3M955.5 751.0h1.3M950.2 762.6h1.3M927.6 795.7h1.3M935.3 775.8h1.3M948.8 757.9h1.3M957.7 748.6h1.3M950.0 757.9h1.3M941.9 769.1h1.3M926.7 775.7h1.3M945.6 766.2h1.3M942.1 762.2h1.3M955.8 756.9h1.3M961.2 757.3h1.3M957.3 747.7h1.3M930.3 775.1h1.3M944.0 759.3h1.3M920.7 812.0h1.3M965.4 739.8h1.3M950.4 758.1h1.3M928.8 788.7h1.3M924.8 784.2h1.3M948.3 753.4h1.3M975.1 732.6h1.3M969.5 738.3h1.3M948.3 767.1h1.3M929.6 779.6h1.3M924.8 783.8h1.3M947.6 761.0h1.3M968.6 742.6h1.3M925.7 806.3h1.3M965.6 748.5h1.3M959.6 752.3h1.3M928.4 770.2h1.3M955.3 752.5h1.3M952.7 762.3h1.3M977.1 734.9h1.3M976.5 729.9h1.3M963.3 747.8h1.3M944.8 761.3h1.3M948.0 761.7h1.3M913.6 782.7h1.3M956.9 750.7h1.3M966.6 744.2h1.3M913.6 784.1h1.3M948.8 766.1h1.3M968.0 747.3h1.3M962.8 736.8h1.3M926.6 781.0h1.3M958.7 749.7h1.3M939.5 762.7h1.3M903.6 777.8h1.3M925.2 788.9h1.3M934.5 772.2h1.3M945.5 771.1h1.3M970.5 737.0h1.3M944.1 775.5h1.3M955.5 757.2h1.3M957.4 746.0h1.3M962.0 747.5h1.3M925.6 800.6h1.3M958.6 749.0h1.3M931.0 775.1h1.3M947.3 755.4h1.3M952.0 760.2h1.3M942.0 764.6h1.3M954.9 754.5h1.3M947.6 750.7h1.3" stroke="#18d2f0" stroke-width="1.3" fill="none"/>
<path d="M898.1 801.3h1.3M908.9 782.6h1.3M885.9 803.5h1.3M887.3 800.7h1.3M901.3 789.7h1.3M923.2 807.5h1.3M922.4 797.4h1.3M886.6 803.3h1.3M920.7 797.9h1.3M913.9 813.5h1.3M904.1 812.8h1.3M901.8 795.6h1.3M891.4 818.8h1.3M902.3 786.1h1.3M900.3 788.6h1.3M900.0 820.2h1.3M920.0 798.8h1.3M919.8 793.0h1.3M913.7 790.7h1.3M884.7 804.8h1.3M887.2 796.8h1.3M903.6 791.4h1.3M924.1 798.9h1.3M894.5 795.6h1.3M914.7 787.5h1.3M893.5 815.4h1.3M891.8 789.6h1.3M884.9 816.4h1.3M911.0 791.9h1.3M886.6 800.5h1.3M893.8 793.0h1.3M895.5 787.7h1.3M883.2 808.7h1.3M900.5 787.1h1.3M885.9 809.5h1.3M896.0 821.2h1.3M924.8 800.7h1.3M912.7 820.0h1.3M886.9 804.9h1.3M914.7 819.0h1.3M912.7 797.8h1.3M892.2 796.5h1.3M908.2 792.3h1.3M905.7 787.6h1.3M904.9 794.8h1.3M916.1 796.7h1.3M909.8 817.6h1.3M921.4 806.8h1.3M915.2 816.0h1.3M886.0 804.7h1.3M888.0 797.0h1.3M916.4 811.8h1.3M912.7 801.4h1.3M907.8 785.4h1.3M912.6 804.6h1.3M907.5 796.5h1.3M917.7 795.2h1.3M922.2 805.7h1.3M888.5 792.5h1.3M919.0 809.8h1.3M912.8 808.4h1.3M888.6 793.8h1.3M919.3 805.9h1.3M900.9 795.6h1.3M893.7 820.3h1.3M904.1 800.1h1.3M906.3 787.7h1.3M915.8 793.3h1.3M907.3 784.4h1.3M909.3 798.5h1.3M884.9 794.3h1.3M919.5 802.6h1.3M897.2 788.2h1.3M896.7 795.8h1.3M906.1 801.0h1.3M923.7 806.9h1.3M915.1 813.4h1.3M903.0 784.9h1.3M906.6 805.7h1.3M895.5 789.1h1.3M893.8 819.4h1.3M887.6 797.0h1.3M919.4 803.1h1.3M906.0 811.6h1.3M911.6 784.7h1.3M905.8 816.2h1.3M912.7 816.1h1.3M916.7 813.9h1.3M915.4 791.1h1.3M915.3 812.5h1.3M904.5 820.8h1.3M915.3 790.7h1.3M906.0 785.0h1.3M908.4 818.6h1.3M884.2 803.1h1.3M908.5 795.4h1.3M883.8 798.5h1.3M909.8 784.0h1.3M886.8 806.5h1.3M899.4 792.9h1.3M902.7 813.5h1.3M917.5 795.0h1.3M891.5 809.8h1.3M886.5 797.7h1.3M904.0 820.9h1.3M889.0 792.2h1.3M885.7 804.4h1.3M907.0 820.0h1.3M890.3 789.9h1.3M910.1 781.7h1.3M908.4 815.4h1.3M897.4 787.6h1.3M889.5 816.1h1.3M905.4 785.8h1.3M906.4 784.3h1.3M899.1 786.4h1.3M908.8 793.5h1.3M919.3 799.2h1.3M888.7 795.7h1.3M909.6 819.4h1.3M890.9 808.1h1.3M922.7 801.5h1.3M905.3 820.9h1.3M902.5 786.9h1.3M916.9 791.0h1.3M899.6 805.2h1.3M889.5 805.1h1.3M913.1 815.3h1.3M901.5 794.8h1.3M883.6 803.4h1.3M898.3 814.5h1.3M919.8 807.9h1.3M915.0 814.1h1.3M899.5 792.6h1.3M888.7 796.8h1.3M885.0 812.1h1.3M923.7 800.5h1.3M919.6 806.9h1.3M904.9 784.3h1.3M893.5 799.7h1.3M908.3 785.4h1.3M918.9 802.2h1.3M898.6 819.5h1.3M893.5 801.9h1.3M902.1 806.5h1.3M893.8 818.7h1.3M888.9 792.8h1.3M922.9 801.3h1.3M900.7 821.6h1.3M924.2 808.4h1.3M911.0 788.1h1.3M911.9 809.6h1.3M896.0 797.6h1.3M889.5 819.5h1.3M898.0 813.5h1.3M919.2 793.7h1.3M899.9 790.4h1.3M902.2 821.7h1.3M918.3 794.7h1.3M881.3 804.0h1.3M884.6 804.0h1.3M918.2 791.7h1.3M920.1 809.7h1.3M905.4 788.8h1.3M903.9 820.4h1.3M898.1 798.0h1.3M898.5 787.7h1.3M921.4 799.9h1.3M887.1 801.0h1.3M915.2 789.4h1.3M922.0 808.7h1.3M886.9 795.7h1.3M883.3 808.1h1.3M889.2 810.0h1.3M921.2 802.6h1.3M920.6 810.1h1.3M894.9 792.5h1.3M889.6 791.5h1.3M905.5 807.9h1.3M917.5 800.0h1.3M913.1 787.0h1.3M922.0 806.6h1.3M886.3 807.8h1.3M896.6 819.3h1.3M888.6 811.4h1.3M910.0 818.3h1.3M896.8 819.5h1.3M887.4 801.4h1.3M910.9 818.8h1.3M918.1 805.2h1.3M893.7 817.9h1.3M896.4 820.8h1.3M904.6 787.7h1.3M918.6 798.9h1.3M899.1 820.7h1.3M918.0 811.6h1.3M904.3 787.4h1.3M886.5 806.1h1.3M890.0 813.3h1.3M895.4 820.9h1.3M888.8 797.1h1.3M899.4 782.6h1.3M917.9 795.7h1.3M898.5 788.2h1.3M884.5 807.5h1.3M896.9 816.0h1.3M896.0 820.4h1.3M901.5 818.0h1.3M889.1 816.0h1.3M921.4 808.5h1.3M898.3 786.9h1.3M920.5 812.6h1.3M912.5 787.2h1.3M886.0 809.4h1.3M903.0 788.0h1.3M903.1 819.4h1.3M904.5 815.4h1.3M915.9 787.8h1.3M900.0 783.1h1.3M916.5 801.4h1.3M887.8 810.3h1.3M899.8 787.7h1.3M898.6 820.2h1.3M880.4 802.0h1.3M914.5 794.2h1.3M896.3 792.9h1.3M911.6 813.3h1.3M896.0 792.4h1.3M886.9 804.0h1.3M885.3 800.6h1.3M897.6 810.4h1.3M919.9 807.4h1.3M895.2 787.0h1.3M908.9 816.6h1.3M921.5 805.8h1.3M894.8 789.6h1.3M898.9 819.8h1.3M917.7 811.2h1.3M900.7 788.8h1.3M918.9 804.2h1.3M900.0 788.0h1.3M916.7 793.7h1.3M891.2 811.8h1.3M891.9 810.2h1.3M902.0 792.0h1.3M913.4 789.6h1.3M920.6 793.9h1.3M885.2 806.7h1.3M887.9 808.9h1.3M886.2 794.8h1.3M899.5 786.4h1.3M888.6 796.4h1.3M911.4 793.3h1.3M905.6 785.4h1.3M916.1 787.6h1.3M890.5 793.6h1.3M893.2 818.1h1.3M887.1 808.3h1.3M904.9 819.2h1.3M900.8 817.2h1.3M906.8 819.9h1.3M900.6 792.1h1.3M908.4 786.7h1.3M922.5 805.4h1.3M898.5 823.2h1.3M921.7 798.9h1.3M918.8 805.1h1.3M894.0 817.7h1.3M883.7 798.1h1.3M895.7 799.2h1.3M899.1 787.5h1.3M910.7 790.9h1.3M885.0 799.2h1.3M906.7 823.2h1.3M884.6 798.8h1.3M885.9 807.0h1.3M900.5 817.1h1.3M894.9 792.0h1.3M885.7 813.0h1.3M908.6 818.1h1.3M893.5 799.0h1.3M916.7 808.1h1.3M887.4 801.1h1.3M911.6 816.6h1.3M911.8 792.7h1.3M912.4 818.2h1.3M911.9 818.3h1.3M921.6 797.3h1.3M915.1 808.5h1.3M902.1 812.2h1.3M891.3 798.5h1.3M897.8 823.8h1.3M907.8 791.7h1.3M902.9 815.0h1.3M913.0 817.1h1.3M896.3 808.2h1.3M889.7 795.0h1.3M914.4 796.6h1.3M897.8 810.6h1.3M884.1 809.9h1.3M895.5 812.7h1.3M920.0 803.8h1.3M902.2 822.3h1.3M913.2 817.4h1.3M888.4 810.1h1.3M915.3 801.4h1.3M918.4 787.7h1.3M883.5 794.1h1.3M891.5 816.6h1.3M895.5 807.7h1.3M918.2 794.3h1.3M899.2 790.6h1.3M910.0 783.6h1.3M913.3 817.4h1.3M903.0 820.1h1.3M919.8 810.0h1.3M890.0 795.1h1.3M887.5 804.7h1.3M895.6 795.8h1.3M914.0 794.3h1.3M917.6 794.4h1.3M920.1 793.7h1.3M910.0 786.9h1.3M897.5 790.9h1.3M910.1 813.5h1.3M906.2 783.1h1.3M893.9 787.7h1.3M900.3 820.7h1.3M880.8 800.7h1.3M908.5 818.2h1.3M913.2 798.5h1.3M896.0 788.2h1.3M909.5 808.8h1.3M915.0 814.6h1.3M901.8 821.1h1.3M920.6 805.0h1.3M887.0 807.3h1.3M904.1 819.8h1.3M904.5 786.9h1.3M884.9 808.7h1.3M926.3 805.5h1.3M906.6 815.4h1.3M918.7 793.2h1.3M903.3 796.1h1.3M910.2 783.4h1.3M895.7 822.1h1.3M917.3 798.6h1.3M916.1 807.0h1.3M918.2 810.3h1.3M894.5 789.4h1.3M910.9 805.5h1.3M893.4 817.1h1.3M904.1 786.4h1.3M905.6 817.9h1.3M889.6 815.0h1.3M914.5 802.9h1.3M895.4 820.3h1.3M907.7 788.9h1.3M915.6 817.0h1.3M905.0 784.1h1.3M918.8 796.7h1.3M919.5 799.9h1.3M895.2 810.9h1.3M916.2 793.2h1.3M887.8 800.7h1.3M919.6 801.0h1.3M910.8 785.1h1.3M890.9 809.8h1.3M908.9 783.4h1.3M894.7 818.9h1.3M915.3 801.5h1.3M906.1 817.5h1.3M883.4 799.8h1.3M914.4 815.2h1.3M905.8 792.7h1.3M894.9 788.2h1.3M892.6 796.8h1.3M923.8 800.8h1.3M884.7 808.2h1.3M923.3 797.8h1.3M894.6 789.1h1.3M898.2 820.1h1.3M897.5 820.3h1.3M893.7 806.3h1.3M889.5 807.2h1.3M895.1 788.3h1.3M906.8 796.4h1.3M912.3 789.4h1.3M891.1 796.4h1.3M902.9 818.2h1.3M898.6 819.5h1.3M904.7 784.9h1.3M917.2 813.1h1.3M917.6 806.9h1.3M913.2 815.0h1.3M922.3 805.1h1.3M909.7 788.4h1.3M900.9 819.4h1.3M888.8 791.8h1.3M892.9 806.7h1.3M898.9 802.1h1.3M898.7 794.7h1.3M920.4 804.8h1.3M885.6 795.2h1.3M888.9 792.4h1.3M916.0 791.3h1.3M917.0 814.8h1.3M917.5 792.6h1.3M896.7 823.9h1.3M904.9 787.6h1.3M891.5 793.7h1.3M915.2 810.5h1.3M881.7 804.5h1.3M891.7 792.6h1.3M908.0 820.9h1.3M908.0 805.5h1.3M886.8 804.0h1.3M909.0 794.0h1.3M895.8 794.0h1.3M893.8 797.8h1.3M886.4 808.5h1.3M919.2 801.3h1.3M903.9 818.8h1.3M912.6 786.2h1.3M892.9 807.8h1.3M900.2 788.5h1.3M899.7 797.0h1.3M886.0 805.1h1.3M906.0 794.9h1.3M887.0 803.4h1.3M914.6 803.8h1.3M915.9 813.8h1.3M905.0 821.6h1.3M921.0 793.3h1.3M887.2 804.8h1.3M893.2 818.9h1.3M907.5 821.0h1.3M909.6 787.2h1.3M889.8 795.5h1.3M916.3 798.4h1.3M894.4 790.4h1.3M918.3 810.0h1.3M894.3 800.2h1.3M915.8 810.5h1.3M896.9 789.6h1.3M906.9 791.7h1.3M913.9 786.4h1.3M884.5 801.2h1.3M912.2 785.4h1.3M911.1 807.9h1.3M906.4 820.7h1.3M923.7 804.4h1.3M893.1 792.4h1.3M911.1 806.7h1.3M887.2 804.2h1.3M898.8 819.5h1.3M911.8 786.1h1.3M894.3 817.7h1.3M913.2 804.1h1.3M893.6 801.9h1.3M922.4 804.5h1.3M894.1 806.0h1.3M917.0 793.4h1.3M900.4 785.0h1.3M893.9 789.3h1.3M918.3 809.5h1.3M906.9 816.6h1.3M909.9 803.2h1.3M922.0 801.6h1.3M901.3 785.9h1.3M908.3 787.5h1.3M913.6 801.0h1.3M915.9 812.8h1.3M896.1 821.5h1.3M889.5 800.5h1.3M916.1 811.9h1.3M900.9 811.1h1.3M918.3 809.4h1.3M908.0 823.5h1.3M901.5 786.2h1.3M888.6 813.1h1.3M923.4 808.2h1.3M919.6 800.5h1.3M887.0 800.0h1.3M887.3 817.9h1.3M919.1 800.3h1.3M898.3 800.6h1.3M898.7 786.6h1.3M886.1 809.6h1.3M902.6 807.4h1.3M894.7 811.2h1.3M908.0 819.5h1.3M908.8 821.0h1.3M902.6 787.4h1.3M896.8 818.5h1.3M915.0 788.5h1.3M899.1 803.9h1.3M920.9 807.5h1.3M906.4 819.0h1.3M917.5 807.0h1.3M885.1 804.9h1.3M923.1 801.8h1.3M902.0 787.4h1.3M912.3 818.9h1.3M918.9 808.4h1.3M882.9 805.1h1.3M898.5 797.3h1.3M899.1 812.5h1.3M894.2 819.9h1.3M918.9 804.6h1.3M888.0 796.4h1.3M888.0 813.0h1.3M888.4 813.1h1.3M904.1 816.3h1.3M917.4 810.6h1.3M885.7 802.7h1.3M915.2 795.1h1.3M902.5 821.8h1.3M898.9 787.0h1.3M921.5 798.7h1.3M907.5 784.5h1.3M912.4 791.7h1.3M886.5 801.1h1.3M912.0 789.7h1.3M916.7 802.5h1.3M884.8 796.9h1.3M891.0 790.6h1.3M889.9 804.4h1.3M916.8 811.3h1.3M908.6 792.3h1.3M904.6 816.6h1.3M899.9 791.8h1.3M916.1 792.2h1.3M896.2 801.7h1.3M896.4 789.5h1.3M889.4 794.1h1.3M908.1 819.0h1.3M903.0 825.1h1.3M902.6 790.8h1.3M887.9 809.9h1.3M914.9 813.4h1.3M883.2 808.3h1.3M910.3 819.0h1.3M912.0 793.8h1.3M921.5 811.3h1.3M881.8 812.1h1.3M897.3 784.8h1.3M919.2 802.0h1.3M902.8 795.8h1.3M921.8 792.4h1.3M914.4 805.6h1.3M882.5 810.6h1.3M922.7 795.7h1.3M917.4 792.4h1.3M906.8 816.9h1.3M911.0 791.0h1.3M925.2 802.7h1.3M913.1 781.9h1.3M908.5 823.3h1.3M898.4 813.7h1.3M890.8 812.9h1.3M917.6 810.1h1.3M920.8 791.7h1.3M919.9 797.7h1.3M924.8 790.4h1.3M884.7 803.0h1.3M912.9 791.1h1.3M889.2 796.1h1.3M912.8 815.6h1.3M899.9 788.0h1.3M911.0 798.6h1.3M911.9 779.7h1.3M912.7 816.7h1.3M910.5 822.5h1.3M913.6 807.6h1.3M894.6 825.2h1.3M910.7 815.1h1.3M898.0 808.5h1.3M917.9 789.4h1.3M892.9 802.1h1.3M893.6 786.9h1.3M901.2 787.2h1.3M893.8 786.1h1.3M885.6 812.6h1.3M909.5 815.2h1.3M901.1 815.7h1.3M894.5 788.7h1.3M913.1 801.5h1.3M909.8 787.6h1.3M900.7 801.1h1.3M918.3 808.0h1.3M899.0 788.5h1.3M913.2 796.8h1.3M923.5 803.8h1.3M890.9 811.4h1.3M891.9 818.4h1.3M901.4 826.6h1.3M893.6 826.3h1.3M924.1 797.1h1.3M907.5 817.3h1.3M884.9 810.4h1.3M887.8 787.4h1.3M899.0 819.7h1.3M909.2 788.7h1.3M881.3 804.2h1.3M896.9 794.1h1.3M910.5 788.1h1.3M905.3 787.0h1.3M888.5 812.3h1.3M908.3 785.6h1.3M907.8 801.3h1.3M906.5 790.1h1.3M912.5 824.0h1.3M927.1 801.6h1.3M924.7 797.1h1.3M917.0 792.6h1.3M918.6 813.3h1.3M895.4 820.3h1.3M888.9 795.8h1.3M895.5 817.3h1.3M919.8 791.8h1.3M889.0 802.8h1.3M902.7 785.0h1.3M905.8 817.6h1.3M896.8 816.6h1.3M889.3 794.7h1.3M883.2 806.1h1.3M913.7 782.3h1.3M888.9 796.5h1.3M923.8 794.1h1.3M910.2 816.5h1.3M918.3 795.8h1.3M917.3 805.6h1.3M882.1 794.7h1.3M899.1 786.2h1.3M916.8 816.1h1.3M897.9 816.6h1.3M895.6 785.2h1.3M917.1 787.0h1.3M910.8 792.2h1.3M908.7 813.1h1.3M907.2 816.3h1.3M886.5 791.4h1.3M887.2 795.6h1.3M886.7 799.7h1.3M894.5 791.4h1.3M896.6 823.5h1.3M892.1 804.7h1.3M918.8 792.7h1.3M910.0 824.5h1.3M886.1 802.8h1.3M901.9 783.5h1.3M903.7 797.1h1.3M916.9 786.1h1.3M905.2 819.1h1.3M927.7 799.9h1.3M902.3 789.8h1.3M923.0 798.4h1.3M913.0 789.1h1.3M889.1 808.1h1.3M909.4 802.8h1.3M911.0 807.8h1.3M920.8 802.6h1.3M919.8 789.7h1.3M910.5 784.1h1.3M906.2 822.1h1.3M923.2 806.9h1.3M882.3 811.3h1.3M889.0 808.9h1.3M889.1 803.1h1.3M905.9 792.4h1.3M904.1 784.0h1.3M894.7 794.9h1.3M898.7 790.4h1.3M924.6 803.4h1.3M912.6 788.1h1.3M890.5 798.0h1.3M891.0 813.1h1.3M890.3 798.7h1.3M901.9 825.7h1.3M902.8 824.7h1.3M913.5 784.3h1.3M913.2 812.1h1.3M910.7 817.5h1.3M912.0 783.7h1.3M899.0 784.1h1.3M902.4 822.3h1.3M905.5 823.5h1.3M901.7 808.1h1.3M882.2 796.8h1.3M898.7 817.5h1.3M922.3 817.6h1.3M896.5 790.6h1.3M895.0 796.2h1.3M898.5 785.6h1.3M910.4 783.8h1.3M917.1 797.3h1.3M881.9 807.6h1.3M886.5 803.0h1.3M900.7 823.6h1.3M905.0 820.0h1.3M902.6 817.5h1.3M905.0 782.2h1.3M911.4 795.5h1.3M894.8 818.8h1.3M912.3 782.8h1.3M918.2 795.8h1.3M913.1 787.0h1.3M911.4 813.0h1.3M891.7 816.3h1.3M900.0 821.9h1.3M903.5 825.4h1.3M896.1 814.2h1.3M898.5 782.2h1.3M925.4 801.6h1.3M899.3 783.3h1.3M898.1 817.3h1.3M919.7 804.2h1.3M900.0 787.2h1.3M911.6 821.7h1.3M882.7 810.4h1.3M904.1 826.8h1.3M918.6 807.0h1.3M899.1 790.4h1.3M924.5 800.9h1.3M897.5 815.0h1.3M885.5 802.4h1.3M902.3 782.9h1.3M899.5 783.2h1.3M920.3 814.4h1.3M907.2 782.9h1.3M909.1 809.5h1.3M914.7 812.5h1.3M906.2 791.1h1.3M888.8 794.1h1.3M916.9 789.4h1.3M924.9 790.1h1.3M906.9 783.2h1.3M888.1 809.9h1.3M914.0 786.5h1.3M882.0 803.6h1.3M915.7 786.2h1.3M897.3 815.3h1.3M908.1 801.9h1.3M906.4 780.3h1.3M895.3 786.2h1.3M918.2 796.0h1.3M914.1 815.2h1.3M903.5 821.8h1.3M913.1 803.0h1.3M882.6 811.0h1.3M895.8 790.1h1.3M907.2 782.7h1.3M887.8 791.4h1.3M915.4 822.4h1.3M891.6 787.2h1.3M909.2 821.2h1.3M901.7 825.3h1.3M887.7 817.8h1.3M904.8 822.6h1.3M917.7 802.2h1.3M912.7 789.1h1.3M906.3 786.0h1.3M922.7 808.3h1.3M911.0 809.3h1.3M924.0 806.9h1.3M916.8 794.4h1.3M912.3 808.1h1.3M910.7 808.7h1.3M885.4 794.8h1.3M886.0 811.8h1.3M914.0 811.4h1.3M924.4 800.5h1.3M909.3 779.6h1.3M925.4 804.0h1.3M900.1 787.5h1.3M918.2 805.1h1.3M906.5 786.2h1.3M909.3 798.3h1.3M915.8 788.9h1.3M919.3 786.6h1.3M904.3 792.5h1.3M918.3 802.8h1.3M904.9 790.0h1.3M921.3 788.6h1.3M913.8 785.3h1.3M888.4 793.2h1.3M898.4 783.5h1.3M898.4 783.9h1.3M912.0 783.4h1.3M903.8 814.7h1.3M890.4 795.0h1.3M910.5 785.6h1.3M904.7 813.8h1.3M920.0 803.3h1.3M916.7 788.2h1.3M912.4 794.2h1.3M905.1 787.9h1.3M896.5 788.4h1.3M882.6 808.2h1.3M912.6 817.8h1.3M881.4 804.7h1.3M909.3 787.1h1.3M909.1 783.2h1.3M886.4 806.6h1.3M891.6 815.6h1.3M884.1 815.5h1.3M920.0 797.0h1.3M889.1 800.4h1.3M894.4 810.7h1.3M900.6 782.9h1.3M900.3 821.9h1.3M919.8 800.4h1.3M918.5 786.6h1.3M923.7 804.6h1.3M919.9 799.6h1.3M905.1 782.9h1.3M907.0 817.6h1.3M897.2 807.5h1.3M910.0 823.1h1.3M892.9 823.2h1.3M923.5 796.1h1.3M923.7 800.5h1.3M891.6 810.3h1.3M926.7 806.8h1.3M916.8 786.4h1.3M917.5 808.6h1.3M914.8 796.2h1.3M904.0 813.7h1.3M920.2 801.5h1.3M904.3 793.9h1.3M917.3 807.6h1.3M903.4 784.5h1.3M907.5 785.7h1.3M891.1 822.6h1.3M921.4 789.8h1.3M912.1 802.7h1.3M898.6 783.2h1.3M913.3 818.2h1.3M910.2 822.0h1.3M897.4 786.5h1.3M923.5 804.2h1.3M919.9 787.9h1.3M923.7 800.6h1.3M894.2 823.3h1.3M909.0 807.2h1.3M910.7 809.2h1.3M890.1 802.9h1.3M912.2 813.9h1.3M909.0 787.2h1.3M894.2 806.9h1.3M912.0 793.8h1.3M911.2 808.4h1.3M904.8 818.3h1.3M901.5 780.2h1.3M909.8 783.7h1.3M893.0 807.5h1.3M907.0 790.7h1.3M902.8 782.7h1.3M917.0 786.3h1.3M915.6 819.8h1.3M926.8 804.0h1.3M880.4 800.7h1.3M912.5 811.9h1.3M916.4 803.1h1.3M910.1 786.1h1.3M923.8 792.2h1.3M899.5 824.9h1.3M916.8 792.1h1.3M906.3 787.9h1.3M905.9 808.8h1.3M898.9 782.0h1.3M903.7 816.0h1.3M905.0 816.5h1.3M911.5 795.1h1.3M891.5 794.2h1.3M914.5 820.8h1.3M911.2 821.4h1.3M924.7 799.4h1.3M889.9 810.1h1.3M918.1 796.4h1.3M889.3 800.4h1.3M898.8 791.6h1.3M922.0 792.2h1.3M908.0 781.8h1.3M886.9 812.7h1.3M886.4 804.3h1.3M878.9 800.9h1.3M909.5 780.1h1.3M920.6 807.8h1.3M898.8 809.5h1.3M909.0 808.8h1.3M902.4 806.8h1.3M915.9 792.6h1.3M906.0 825.4h1.3M915.8 784.7h1.3M916.4 791.2h1.3M897.9 796.5h1.3M906.0 819.8h1.3M884.0 814.6h1.3M895.5 813.9h1.3M917.2 812.9h1.3M902.5 791.2h1.3M897.3 824.9h1.3M917.6 789.8h1.3M892.1 821.8h1.3M921.4 792.2h1.3M897.2 789.3h1.3M925.2 795.8h1.3M910.5 813.2h1.3M910.1 782.8h1.3M915.4 791.4h1.3M899.6 785.7h1.3M912.1 783.5h1.3M884.8 805.0h1.3M909.6 785.0h1.3M892.8 797.8h1.3M889.8 820.7h1.3M924.5 807.6h1.3M896.9 812.4h1.3M882.8 797.9h1.3M907.9 814.9h1.3M911.3 812.2h1.3M919.5 816.6h1.3M888.6 803.3h1.3M898.5 824.0h1.3M922.0 790.9h1.3M904.4 803.2h1.3M912.2 782.3h1.3M900.1 799.5h1.3M925.5 799.7h1.3M924.9 797.3h1.3M922.7 795.9h1.3M896.2 793.4h1.3M908.0 809.8h1.3M907.8 787.2h1.3M879.2 808.7h1.3M915.1 813.5h1.3M915.2 785.7h1.3M914.3 814.7h1.3M887.8 799.0h1.3M887.8 800.3h1.3M906.7 782.8h1.3M913.2 821.4h1.3M897.4 822.1h1.3M883.8 817.3h1.3M884.1 803.3h1.3M897.1 795.2h1.3M884.6 814.5h1.3M924.7 802.4h1.3M913.8 784.2h1.3M891.8 803.9h1.3M892.1 826.1h1.3M880.5 807.3h1.3M911.2 817.5h1.3M897.0 817.0h1.3M894.7 783.0h1.3M910.3 782.2h1.3M913.6 784.3h1.3M902.5 821.9h1.3M923.5 797.2h1.3M903.5 811.0h1.3M894.2 789.3h1.3M914.3 783.3h1.3M925.7 805.6h1.3M915.7 794.2h1.3M926.8 810.4h1.3M925.4 799.7h1.3M919.9 803.7h1.3M912.9 789.6h1.3M888.0 789.2h1.3M911.8 794.1h1.3M926.1 807.7h1.3M891.9 823.3h1.3M896.7 796.3h1.3M897.6 823.5h1.3M893.5 791.6h1.3M917.1 802.5h1.3M886.9 792.7h1.3M899.7 786.2h1.3M922.6 803.8h1.3M924.6 804.6h1.3M887.3 797.3h1.3M882.8 801.7h1.3M901.7 823.0h1.3M897.2 794.1h1.3M912.6 812.7h1.3M908.7 781.0h1.3M914.3 812.2h1.3M899.8 816.5h1.3M882.5 808.4h1.3M909.7 796.1h1.3M905.6 783.1h1.3M894.6 804.6h1.3M891.3 793.8h1.3M918.2 807.9h1.3M912.5 822.8h1.3M887.7 799.9h1.3M907.1 822.4h1.3M911.4 786.6h1.3M896.5 794.7h1.3M913.3 816.5h1.3M881.6 799.1h1.3M923.7 803.8h1.3M918.1 810.1h1.3M917.6 785.8h1.3M914.1 784.8h1.3M899.2 782.7h1.3M914.3 785.8h1.3M917.4 795.1h1.3M908.3 819.6h1.3M897.4 828.4h1.3M882.9 806.1h1.3M920.3 796.9h1.3M913.7 797.4h1.3M892.0 804.7h1.3M900.6 825.2h1.3M902.6 782.1h1.3M911.9 810.7h1.3M885.7 801.8h1.3M904.5 781.6h1.3M888.5 804.2h1.3M922.4 791.7h1.3M924.8 804.8h1.3M894.0 793.8h1.3M901.5 824.3h1.3M907.5 794.4h1.3M924.1 807.6h1.3M925.3 807.1h1.3M883.8 811.2h1.3M920.0 792.0h1.3M912.8 820.0h1.3M905.7 816.2h1.3M899.1 825.2h1.3M886.4 817.6h1.3M897.2 795.9h1.3M914.3 811.8h1.3M887.6 798.7h1.3M886.3 800.9h1.3M890.8 797.7h1.3M921.7 795.8h1.3M899.0 783.3h1.3M889.6 792.2h1.3M908.9 808.6h1.3M888.8 819.5h1.3M905.1 794.8h1.3M882.1 804.3h1.3M890.0 789.0h1.3M885.1 809.8h1.3M891.0 808.5h1.3M897.0 785.6h1.3M901.2 824.7h1.3M899.8 783.0h1.3M924.1 798.3h1.3M898.0 794.3h1.3M888.0 802.2h1.3M925.1 796.1h1.3M901.6 783.1h1.3M897.0 782.1h1.3M908.6 813.2h1.3M895.4 798.2h1.3M914.1 789.2h1.3M915.9 808.8h1.3M888.3 793.9h1.3M905.9 822.1h1.3M904.1 808.3h1.3M919.8 802.8h1.3M923.2 800.5h1.3M892.5 806.3h1.3M897.7 822.1h1.3M893.6 812.1h1.3M890.5 797.2h1.3M891.0 811.1h1.3M892.9 794.9h1.3M919.0 799.6h1.3M919.0 812.3h1.3M917.2 787.5h1.3M904.5 813.1h1.3M924.4 786.9h1.3M880.9 810.8h1.3M906.3 780.6h1.3M894.1 789.5h1.3M893.2 809.4h1.3M926.2 803.4h1.3M920.7 815.3h1.3M897.9 788.9h1.3M912.3 807.0h1.3M892.3 821.8h1.3M907.4 819.4h1.3M896.4 793.0h1.3M888.5 814.9h1.3M907.4 784.2h1.3M901.0 782.0h1.3M913.6 796.2h1.3M886.7 807.0h1.3M926.7 798.4h1.3M897.9 783.4h1.3M907.7 817.8h1.3M890.1 814.3h1.3M910.0 817.6h1.3M899.8 817.7h1.3M919.2 789.4h1.3M924.0 795.4h1.3M912.7 803.1h1.3M914.0 801.2h1.3M888.3 795.1h1.3M905.7 824.4h1.3M919.3 798.4h1.3M905.2 782.5h1.3M913.7 784.2h1.3M910.5 777.8h1.3M917.5 787.2h1.3M887.0 816.8h1.3M880.8 801.5h1.3M924.6 797.6h1.3M907.0 796.0h1.3M916.5 808.6h1.3M908.9 782.2h1.3M898.4 787.9h1.3M898.9 817.7h1.3M923.0 794.2h1.3M904.4 784.0h1.3M899.2 787.5h1.3M907.0 821.7h1.3M893.1 813.3h1.3M924.9 798.2h1.3M908.7 788.5h1.3M918.5 799.6h1.3M902.0 810.9h1.3M904.4 806.8h1.3M915.2 804.3h1.3M900.7 806.2h1.3M890.3 802.4h1.3M898.5 790.2h1.3M884.5 804.0h1.3M906.7 819.4h1.3M897.8 795.9h1.3M916.0 798.5h1.3M916.2 810.3h1.3M904.6 806.8h1.3M891.7 793.7h1.3M924.9 805.2h1.3M911.1 799.4h1.3M902.6 822.9h1.3M924.1 806.6h1.3M919.4 795.6h1.3M903.4 818.3h1.3M889.2 797.2h1.3M891.8 807.2h1.3M886.4 809.8h1.3M900.6 818.6h1.3M895.2 788.5h1.3M914.7 784.4h1.3M885.8 815.5h1.3M904.1 820.6h1.3M916.0 806.8h1.3M894.3 816.9h1.3M909.1 818.4h1.3M893.9 818.4h1.3M925.2 798.7h1.3M884.6 796.4h1.3M906.1 812.9h1.3M913.4 810.6h1.3M904.0 793.3h1.3M907.8 821.1h1.3M883.8 811.7h1.3M879.4 802.3h1.3M892.7 810.6h1.3M908.5 785.0h1.3M895.7 825.3h1.3M914.4 813.0h1.3M910.5 824.7h1.3M901.4 783.2h1.3M900.0 816.8h1.3M894.4 814.8h1.3M888.9 815.4h1.3M890.4 807.3h1.3M911.5 782.8h1.3M886.5 811.3h1.3M893.6 816.3h1.3M908.8 790.5h1.3M882.1 813.7h1.3M892.3 803.8h1.3M894.5 814.2h1.3M910.0 791.0h1.3M885.5 802.6h1.3M899.1 781.2h1.3M884.7 805.7h1.3M924.4 798.8h1.3M908.0 783.1h1.3M899.3 815.9h1.3M925.3 802.7h1.3M914.6 802.5h1.3M891.6 796.2h1.3M900.6 817.3h1.3M922.2 805.5h1.3M897.7 782.6h1.3M911.3 790.1h1.3M889.4 786.4h1.3M892.5 812.6h1.3M895.8 814.4h1.3M897.8 801.5h1.3M896.8 792.6h1.3M889.4 795.6h1.3M914.0 794.9h1.3M963.8 741.7h1.3M968.7 745.7h1.3M925.3 803.1h1.3M921.2 795.9h1.3M908.0 780.5h1.3M907.5 787.2h1.3M914.0 789.2h1.3M918.1 791.6h1.3M923.3 792.6h1.3M918.9 798.3h1.3M919.4 804.8h1.3M964.9 744.2h1.3M911.3 785.6h1.3M902.9 788.1h1.3M921.6 783.6h1.3M896.0 788.4h1.3M915.2 794.3h1.3M916.9 800.2h1.3M919.2 788.5h1.3M904.0 786.4h1.3M955.3 748.8h1.3M913.4 785.6h1.3M923.0 800.3h1.3M911.7 807.1h1.3M927.2 796.5h1.3M914.6 807.1h1.3M918.0 800.2h1.3M915.1 788.8h1.3M923.6 797.8h1.3M920.7 792.2h1.3M913.0 800.2h1.3M900.5 789.7h1.3M901.2 785.4h1.3M899.5 794.6h1.3M923.1 793.7h1.3M908.2 785.6h1.3M917.9 796.6h1.3M923.7 790.0h1.3M919.2 793.4h1.3M909.1 789.8h1.3M925.1 797.1h1.3M913.3 799.9h1.3M961.4 752.4h1.3M919.8 800.4h1.3M919.9 799.4h1.3M921.2 806.2h1.3M917.2 795.6h1.3M914.9 795.8h1.3M925.8 803.1h1.3M908.1 784.4h1.3M914.0 789.4h1.3M916.6 790.1h1.3M902.7 784.6h1.3M969.8 742.1h1.3M919.2 784.2h1.3M912.5 795.3h1.3M910.9 789.9h1.3M920.1 788.1h1.3M926.3 806.5h1.3M910.3 786.6h1.3M918.3 798.7h1.3M913.2 788.8h1.3M914.3 786.7h1.3M908.1 784.4h1.3M906.6 784.1h1.3M904.7 780.6h1.3M954.5 748.0h1.3M963.1 746.1h1.3M905.7 796.8h1.3M964.7 744.3h1.3M921.1 809.2h1.3M911.3 789.0h1.3M909.8 783.2h1.3M924.3 797.2h1.3M901.9 787.2h1.3M923.9 793.8h1.3M911.7 784.5h1.3M912.6 791.1h1.3M918.6 788.9h1.3M917.3 790.9h1.3M924.7 797.9h1.3M917.2 803.0h1.3M917.5 806.0h1.3M911.9 786.9h1.3M910.4 788.9h1.3M913.2 787.7h1.3M923.3 797.4h1.3M913.8 792.0h1.3M910.6 791.2h1.3M909.2 789.2h1.3M912.3 788.9h1.3M902.9 783.9h1.3M918.9 788.6h1.3M919.6 792.0h1.3M917.5 797.1h1.3M917.5 791.6h1.3M916.8 797.1h1.3M912.5 785.2h1.3" stroke="#2fe060" stroke-width="1.3" fill="none"/>
<path d="M915.1 791.9h1.3M898.2 803.7h1.3M902.4 805.0h1.3M891.2 810.3h1.3M884.9 808.2h1.3M922.3 797.7h1.3M916.8 804.2h1.3M887.7 796.7h1.3M908.3 805.5h1.3M905.3 814.5h1.3M915.7 790.8h1.3M908.3 793.3h1.3M902.1 793.8h1.3M913.8 794.2h1.3M904.5 811.0h1.3M913.4 790.3h1.3M899.1 801.9h1.3M902.5 796.9h1.3M906.2 815.7h1.3M895.0 811.9h1.3M920.1 801.2h1.3M899.7 797.7h1.3M911.8 789.2h1.3M900.2 806.9h1.3M900.5 818.2h1.3M896.4 811.3h1.3M916.0 802.1h1.3M896.3 810.3h1.3M919.7 804.6h1.3M910.6 788.7h1.3M887.9 801.4h1.3M897.7 798.5h1.3M902.9 795.0h1.3M906.8 805.7h1.3M900.4 815.0h1.3M910.1 803.7h1.3M913.1 809.5h1.3M901.5 819.5h1.3M899.8 807.3h1.3M903.1 788.6h1.3M891.0 802.8h1.3M911.8 798.8h1.3M898.6 819.0h1.3M885.4 801.1h1.3M911.1 790.1h1.3M909.2 805.5h1.3M909.0 820.8h1.3M905.6 813.9h1.3M916.5 811.1h1.3M922.6 805.0h1.3M898.5 808.8h1.3M910.7 814.8h1.3M907.0 817.0h1.3M906.9 802.2h1.3M886.1 804.1h1.3M911.6 789.2h1.3M898.0 795.3h1.3M908.5 814.4h1.3M898.0 798.9h1.3M894.0 803.0h1.3M900.0 820.3h1.3M901.4 791.8h1.3M903.3 803.8h1.3M895.3 802.5h1.3M898.3 800.3h1.3M909.1 800.9h1.3M901.8 801.1h1.3M895.9 813.3h1.3M901.7 812.6h1.3M905.7 808.9h1.3M903.9 808.7h1.3M898.4 799.6h1.3M894.6 806.6h1.3M902.3 787.4h1.3M897.3 788.1h1.3M909.3 795.0h1.3M896.4 817.4h1.3M913.1 804.2h1.3M901.1 789.6h1.3M912.6 816.2h1.3M900.8 797.0h1.3M916.0 804.3h1.3M899.4 810.5h1.3M893.5 808.6h1.3M920.2 802.2h1.3M893.1 802.4h1.3M884.7 804.7h1.3M895.6 813.4h1.3M917.7 810.5h1.3M898.8 813.4h1.3M919.5 794.3h1.3M912.0 806.6h1.3M895.6 805.7h1.3M892.3 797.7h1.3M896.6 811.1h1.3M888.9 798.2h1.3M903.5 807.7h1.3M919.1 800.0h1.3M908.8 798.8h1.3M901.9 821.2h1.3M903.6 787.6h1.3M898.4 800.2h1.3M903.7 814.1h1.3M912.2 794.5h1.3M904.4 817.7h1.3M893.4 797.1h1.3M907.7 788.1h1.3M908.6 798.0h1.3M909.1 801.2h1.3M896.8 804.9h1.3M907.2 811.5h1.3M914.7 808.5h1.3M895.9 817.1h1.3M910.2 804.7h1.3M899.3 806.5h1.3M891.5 809.3h1.3M895.2 814.6h1.3M889.7 806.2h1.3M913.3 793.5h1.3M912.6 807.8h1.3M908.5 794.6h1.3M897.3 804.3h1.3M897.4 802.6h1.3M911.4 812.0h1.3M904.0 800.4h1.3M887.0 802.0h1.3M906.9 785.8h1.3M897.2 798.3h1.3M888.3 812.0h1.3M916.5 799.4h1.3M896.0 817.2h1.3M904.3 819.9h1.3M904.8 819.8h1.3M907.4 815.2h1.3M895.0 792.1h1.3M907.8 817.3h1.3M915.2 807.8h1.3M909.0 803.2h1.3M919.4 804.8h1.3M898.5 811.3h1.3M916.6 806.6h1.3M909.8 806.5h1.3M894.1 807.2h1.3M902.3 799.8h1.3M910.1 809.1h1.3M907.9 794.4h1.3M903.1 788.9h1.3M909.1 800.8h1.3M893.8 816.0h1.3M895.1 793.0h1.3M894.8 794.6h1.3M914.9 808.8h1.3M912.6 797.4h1.3M902.3 818.5h1.3M898.0 804.8h1.3M913.2 796.6h1.3M914.8 806.2h1.3M902.6 791.1h1.3M912.6 808.3h1.3M894.9 794.8h1.3M916.8 801.6h1.3M899.9 794.7h1.3M905.6 813.9h1.3M894.8 809.8h1.3M912.9 809.1h1.3M914.4 802.6h1.3M914.0 800.0h1.3M900.1 810.7h1.3M899.7 799.6h1.3M909.2 809.4h1.3M911.2 809.1h1.3M903.6 813.0h1.3M910.8 817.3h1.3M921.1 801.2h1.3M917.1 802.6h1.3M901.8 799.0h1.3M902.0 787.9h1.3M898.7 814.3h1.3M902.4 808.2h1.3M889.3 806.4h1.3M908.8 810.9h1.3M898.6 814.8h1.3M898.3 793.6h1.3M899.2 805.3h1.3M910.5 800.6h1.3M907.1 812.1h1.3M913.6 796.4h1.3M917.1 808.2h1.3M889.4 803.6h1.3M893.3 796.8h1.3M908.3 821.3h1.3M907.7 800.2h1.3M896.5 818.0h1.3M896.3 813.8h1.3M896.3 802.4h1.3M908.9 814.6h1.3M891.0 810.9h1.3M915.0 795.9h1.3M890.4 800.7h1.3M909.4 811.7h1.3M901.0 789.2h1.3M912.3 796.2h1.3M903.8 815.4h1.3M885.7 808.5h1.3M906.7 810.0h1.3M918.9 801.0h1.3M900.6 821.7h1.3M910.0 804.6h1.3M898.9 788.8h1.3M914.9 808.2h1.3M898.7 814.4h1.3M910.0 812.8h1.3M896.8 809.4h1.3M891.2 812.2h1.3M905.9 798.6h1.3M888.1 796.9h1.3M909.1 801.0h1.3M910.2 799.5h1.3M912.5 794.8h1.3M899.7 813.0h1.3M908.0 796.9h1.3M897.8 807.4h1.3M911.9 797.1h1.3M888.5 800.6h1.3M892.2 807.0h1.3M920.1 804.4h1.3M908.3 790.6h1.3M905.6 819.1h1.3M894.6 801.8h1.3M899.8 800.5h1.3M915.0 813.3h1.3M904.1 817.0h1.3M910.8 794.0h1.3M889.1 803.9h1.3M906.3 815.4h1.3M908.1 791.2h1.3M910.6 789.0h1.3M918.1 806.2h1.3M910.6 809.0h1.3M910.3 805.3h1.3M903.9 786.6h1.3M912.3 796.5h1.3M898.9 816.9h1.3M913.2 810.5h1.3M907.2 815.9h1.3M903.4 800.5h1.3M897.1 791.3h1.3M903.9 791.0h1.3M919.0 806.7h1.3M901.6 790.8h1.3M910.2 809.7h1.3M892.1 814.6h1.3M910.0 799.2h1.3M912.4 805.9h1.3M903.0 793.5h1.3M915.3 794.1h1.3M893.4 802.6h1.3M892.1 813.8h1.3M903.5 788.6h1.3M897.9 810.7h1.3M897.8 817.3h1.3M906.5 808.4h1.3M905.8 791.5h1.3M915.7 808.6h1.3M904.7 813.4h1.3M905.9 793.2h1.3M910.1 800.5h1.3M908.5 815.4h1.3M910.4 808.6h1.3M914.2 799.5h1.3M898.6 812.6h1.3M909.6 798.6h1.3M891.7 797.6h1.3M889.6 812.4h1.3M905.0 812.3h1.3M903.2 817.5h1.3M888.3 806.8h1.3M902.8 812.9h1.3M906.4 817.3h1.3M915.4 794.1h1.3M913.1 796.0h1.3M913.4 801.7h1.3M904.0 791.3h1.3M904.7 786.9h1.3M910.3 792.4h1.3M916.0 797.5h1.3M910.5 786.5h1.3M908.9 789.7h1.3M913.2 802.1h1.3M913.3 790.3h1.3M910.2 789.2h1.3M910.3 808.1h1.3M909.9 794.3h1.3M912.8 792.1h1.3" stroke="#a8ee20" stroke-width="1.3" fill="none"/>
<path d="M902.7 803.6h1.3M892.4 806.9h1.3M908.6 799.7h1.3M907.1 817.5h1.3M898.4 811.9h1.3M890.6 799.4h1.3M914.0 802.6h1.3M896.1 804.9h1.3M899.6 801.5h1.3M901.8 810.5h1.3M914.1 802.0h1.3M905.7 796.2h1.3M904.9 813.9h1.3M900.2 799.2h1.3M913.1 807.8h1.3M906.5 799.7h1.3M904.9 802.2h1.3M883.2 806.9h1.3M895.8 813.6h1.3M899.9 808.5h1.3M906.5 804.2h1.3M908.3 803.0h1.3M903.0 819.1h1.3M889.3 807.1h1.3M894.8 798.1h1.3M899.6 803.7h1.3M905.3 810.0h1.3M894.1 811.1h1.3M906.9 816.5h1.3M897.9 800.1h1.3M918.2 806.9h1.3M905.3 804.8h1.3M899.9 801.7h1.3M904.9 805.8h1.3M904.1 809.5h1.3M904.6 816.7h1.3M911.4 802.8h1.3M909.4 795.2h1.3M903.5 804.7h1.3M906.5 795.1h1.3M893.3 796.6h1.3M918.3 796.8h1.3M896.7 792.9h1.3M904.1 808.4h1.3M906.5 795.7h1.3M911.5 793.7h1.3M905.4 796.5h1.3M911.7 812.0h1.3M897.1 807.4h1.3M896.6 795.4h1.3M916.0 799.5h1.3M918.9 799.8h1.3M894.9 797.0h1.3M910.6 803.6h1.3M915.8 804.0h1.3M903.5 798.1h1.3M903.3 791.8h1.3M906.5 805.4h1.3M896.8 808.4h1.3M897.9 813.5h1.3M900.1 806.1h1.3M914.7 805.2h1.3M898.3 799.8h1.3M895.5 813.1h1.3M897.7 805.6h1.3M913.7 804.8h1.3M903.6 808.4h1.3M901.9 796.6h1.3M911.2 804.3h1.3M911.9 808.2h1.3M913.4 807.0h1.3M903.0 821.5h1.3M909.4 797.5h1.3M902.8 797.5h1.3M900.9 820.0h1.3M905.3 801.6h1.3M902.9 808.4h1.3M897.3 798.8h1.3M895.3 802.7h1.3M908.3 795.8h1.3M902.7 810.3h1.3M900.3 805.1h1.3M914.3 805.9h1.3M904.7 801.5h1.3M906.8 796.7h1.3M908.0 802.3h1.3M904.7 795.3h1.3M908.5 810.4h1.3M900.4 809.9h1.3M900.1 807.3h1.3M891.1 798.6h1.3M911.2 810.3h1.3M905.8 793.5h1.3M895.5 812.3h1.3M908.1 790.2h1.3M906.8 791.7h1.3M919.9 797.4h1.3M897.8 802.5h1.3M901.3 799.7h1.3M900.3 799.5h1.3M911.3 786.7h1.3M898.7 814.9h1.3M901.0 809.5h1.3M900.9 806.0h1.3M919.2 800.1h1.3M896.6 794.6h1.3M907.8 795.4h1.3M894.5 799.3h1.3M902.8 799.3h1.3M914.5 800.4h1.3M893.0 808.6h1.3M912.4 808.7h1.3M894.5 798.1h1.3M909.6 797.1h1.3M893.8 803.6h1.3M912.4 794.5h1.3M900.7 797.5h1.3M917.6 802.2h1.3M894.0 805.9h1.3M895.7 797.9h1.3M907.5 806.0h1.3M902.3 803.0h1.3M920.0 801.6h1.3M902.0 795.8h1.3M914.5 798.5h1.3M896.1 818.4h1.3M901.4 803.4h1.3M894.9 813.9h1.3M897.8 803.8h1.3M899.6 806.8h1.3M899.1 797.7h1.3M907.6 806.7h1.3M888.1 805.7h1.3M904.5 805.6h1.3M915.3 807.3h1.3M900.8 799.9h1.3M902.3 812.1h1.3M904.2 803.0h1.3M900.2 792.1h1.3M900.0 803.6h1.3M900.6 801.7h1.3M903.7 797.7h1.3M895.7 798.3h1.3M895.7 800.2h1.3M913.6 800.0h1.3M917.8 796.4h1.3M895.6 796.5h1.3M900.4 806.3h1.3M907.3 799.3h1.3M905.4 798.9h1.3M906.8 805.2h1.3M889.9 803.8h1.3M908.1 792.2h1.3M901.1 805.0h1.3M896.2 808.8h1.3M895.1 796.0h1.3M912.8 806.1h1.3M904.5 813.3h1.3M899.1 815.6h1.3M894.5 818.1h1.3M914.8 795.9h1.3M888.5 804.6h1.3M891.8 797.7h1.3M894.4 802.3h1.3M903.6 811.2h1.3M913.1 805.1h1.3M900.8 795.3h1.3M892.5 807.4h1.3M899.8 795.8h1.3M887.6 808.1h1.3M913.2 806.7h1.3M913.9 803.4h1.3M909.9 793.2h1.3M892.1 798.9h1.3M910.0 804.2h1.3M912.4 816.3h1.3M907.3 807.6h1.3M893.7 802.7h1.3M894.9 804.3h1.3M905.6 813.0h1.3M890.2 804.4h1.3M903.3 800.9h1.3M914.6 790.1h1.3M893.1 796.9h1.3M903.2 804.0h1.3M916.6 804.9h1.3M904.2 819.5h1.3M892.6 803.6h1.3M900.5 800.7h1.3M899.2 803.5h1.3M901.6 815.3h1.3M908.4 798.2h1.3M903.0 793.0h1.3M895.5 798.1h1.3M903.0 797.7h1.3M910.8 809.1h1.3M902.3 795.5h1.3M901.1 801.9h1.3M913.4 789.8h1.3M911.0 788.8h1.3M902.6 801.6h1.3M913.4 796.4h1.3M902.4 809.2h1.3M913.7 810.2h1.3M900.6 814.0h1.3M896.1 802.7h1.3M891.9 803.7h1.3M901.4 796.3h1.3M899.6 806.1h1.3M895.4 804.9h1.3M903.9 803.7h1.3M903.6 814.1h1.3M911.8 804.6h1.3M906.7 794.4h1.3M903.1 806.3h1.3M908.7 801.9h1.3M898.1 807.9h1.3M891.2 800.9h1.3M898.2 810.1h1.3M905.3 798.6h1.3M894.4 800.1h1.3M893.1 801.8h1.3M905.5 804.2h1.3M894.1 809.9h1.3M900.1 808.6h1.3M901.3 801.0h1.3M905.6 805.9h1.3M907.0 810.3h1.3M908.0 797.0h1.3M912.0 805.8h1.3M898.4 812.9h1.3M895.7 808.6h1.3M893.9 794.1h1.3M906.1 800.0h1.3M907.2 787.1h1.3M911.8 801.8h1.3M914.8 796.4h1.3M913.2 797.6h1.3M901.8 811.5h1.3M908.6 805.5h1.3M898.8 804.0h1.3M914.1 809.4h1.3M904.5 815.5h1.3M896.8 793.2h1.3M888.8 800.3h1.3M891.1 807.2h1.3M908.4 815.6h1.3M914.6 798.6h1.3M901.8 797.5h1.3M893.2 806.4h1.3M907.9 797.9h1.3M904.8 809.9h1.3M902.4 798.3h1.3M914.6 799.2h1.3M904.8 812.0h1.3M900.4 804.4h1.3M910.8 788.3h1.3M906.3 802.0h1.3M902.5 795.7h1.3M902.7 800.5h1.3M906.2 796.1h1.3M899.6 798.2h1.3M906.9 792.6h1.3M902.6 795.9h1.3M898.8 804.3h1.3M903.3 789.3h1.3M917.8 803.2h1.3M902.0 813.6h1.3M904.7 816.0h1.3M902.3 800.6h1.3M912.4 806.5h1.3M909.8 798.4h1.3M911.6 788.8h1.3M909.5 802.9h1.3M916.6 800.1h1.3M915.6 792.2h1.3M919.6 801.9h1.3M917.2 804.7h1.3M904.0 796.3h1.3M916.8 803.2h1.3M915.7 801.2h1.3M915.7 793.2h1.3M905.3 800.6h1.3M914.8 796.2h1.3" stroke="#f8e410" stroke-width="1.3" fill="none"/>
<path d="M902.0 806.0h1.3M908.2 809.7h1.3M904.5 794.4h1.3M900.2 805.5h1.3M900.3 811.8h1.3M896.5 813.3h1.3M908.6 804.1h1.3M896.3 803.8h1.3M914.6 802.6h1.3M901.0 806.2h1.3M914.8 797.9h1.3M907.6 802.9h1.3M909.8 803.9h1.3M894.4 808.4h1.3M898.9 805.5h1.3M908.5 806.4h1.3M908.7 810.1h1.3M899.4 807.2h1.3M904.7 792.8h1.3M900.9 801.7h1.3M903.9 804.4h1.3M902.2 803.4h1.3M903.0 807.9h1.3M894.3 803.6h1.3M895.7 804.6h1.3M911.7 804.9h1.3M911.1 804.8h1.3M902.4 807.7h1.3M905.9 796.4h1.3M903.4 798.3h1.3M912.6 809.4h1.3M912.5 801.9h1.3M899.4 812.9h1.3M901.9 795.9h1.3M909.0 805.9h1.3M908.6 811.6h1.3M903.8 803.1h1.3M896.7 803.1h1.3M901.4 808.6h1.3M887.7 803.5h1.3M905.2 803.2h1.3M902.7 800.0h1.3M899.8 811.7h1.3M903.9 803.6h1.3M905.3 816.4h1.3M894.4 809.6h1.3M900.9 794.5h1.3M915.2 804.5h1.3M903.6 795.2h1.3M902.7 805.3h1.3M899.5 789.1h1.3M910.6 797.9h1.3M911.9 800.2h1.3M905.9 801.2h1.3M907.7 798.9h1.3M908.8 799.6h1.3M914.3 801.7h1.3M901.1 802.7h1.3M902.7 805.1h1.3M906.9 804.1h1.3M915.1 799.7h1.3M909.9 800.8h1.3M911.3 792.8h1.3M897.3 806.6h1.3M907.7 804.4h1.3M906.2 803.4h1.3M907.3 797.5h1.3M902.7 795.4h1.3M899.3 795.0h1.3M909.8 806.6h1.3M895.6 796.3h1.3M906.9 810.6h1.3M906.7 802.9h1.3M903.6 811.4h1.3M903.5 803.2h1.3M903.8 806.4h1.3M907.9 795.6h1.3M889.9 799.6h1.3M903.3 796.2h1.3M912.7 805.2h1.3M897.8 811.9h1.3M910.0 804.1h1.3M903.8 812.2h1.3M906.7 798.7h1.3M912.5 796.5h1.3M901.7 803.8h1.3M901.8 797.6h1.3M907.0 806.9h1.3M901.7 794.9h1.3M907.2 798.5h1.3M913.7 806.4h1.3M892.5 801.6h1.3M902.9 793.5h1.3M904.8 799.9h1.3M909.0 797.6h1.3M903.7 809.1h1.3M911.5 802.7h1.3M899.4 800.5h1.3M909.3 799.7h1.3M898.5 803.9h1.3M907.5 804.2h1.3M916.9 799.4h1.3M904.3 804.9h1.3M905.6 799.5h1.3M906.1 794.4h1.3M912.9 802.3h1.3M900.2 796.7h1.3M913.1 804.6h1.3M890.5 808.4h1.3M910.6 808.3h1.3M904.9 795.1h1.3M908.0 808.7h1.3M909.7 804.1h1.3M898.5 797.2h1.3M901.2 805.6h1.3M894.7 799.4h1.3M903.8 795.5h1.3M914.2 809.6h1.3M917.1 806.6h1.3M905.9 797.5h1.3M907.1 806.8h1.3M911.5 795.6h1.3M905.1 805.1h1.3M908.9 806.6h1.3M897.6 802.0h1.3M904.6 810.7h1.3M903.3 808.2h1.3M914.2 802.1h1.3M894.8 797.2h1.3M911.2 788.7h1.3M906.8 808.6h1.3M906.1 799.2h1.3M897.5 807.5h1.3M895.1 804.0h1.3M907.8 800.2h1.3M903.4 804.6h1.3M897.9 795.4h1.3M893.5 805.7h1.3M901.3 805.1h1.3M903.3 795.3h1.3M899.9 795.0h1.3M912.0 794.4h1.3M898.0 798.2h1.3M905.8 804.5h1.3M900.3 796.5h1.3M909.7 798.8h1.3M901.7 814.2h1.3M910.7 813.2h1.3M914.8 804.8h1.3M902.1 794.3h1.3M900.1 812.3h1.3M898.1 799.5h1.3M905.6 809.5h1.3M898.2 809.5h1.3M911.6 807.9h1.3M900.1 803.7h1.3M900.9 794.0h1.3M913.2 812.4h1.3M900.3 795.5h1.3M914.7 809.1h1.3M903.9 792.2h1.3M898.0 804.4h1.3M901.8 817.6h1.3M891.4 797.6h1.3M897.0 803.2h1.3M910.9 799.6h1.3M896.6 793.5h1.3M901.3 802.1h1.3M905.8 795.6h1.3M912.6 799.6h1.3M901.0 802.5h1.3M915.4 804.8h1.3M918.6 802.0h1.3M910.6 801.0h1.3M908.3 797.8h1.3M907.4 796.2h1.3M914.6 798.8h1.3M901.9 795.1h1.3M907.5 799.6h1.3M906.2 794.1h1.3" stroke="#ff8a10" stroke-width="1.3" fill="none"/>
<path d="M899.2 799.2h1.3M899.9 805.4h1.3M907.9 814.6h1.3M906.4 796.1h1.3M892.5 800.8h1.3M900.2 794.9h1.3M910.9 803.4h1.3M903.8 810.4h1.3M901.4 811.4h1.3M900.2 801.2h1.3M905.4 812.9h1.3M910.1 806.3h1.3M907.8 790.6h1.3M897.4 801.0h1.3M896.1 813.5h1.3M899.0 810.0h1.3M905.5 807.7h1.3M899.0 804.5h1.3M905.3 813.4h1.3M905.0 796.0h1.3M915.2 804.2h1.3M904.9 793.0h1.3M907.8 799.3h1.3M894.7 801.5h1.3M904.9 814.7h1.3M906.4 791.7h1.3M906.9 800.9h1.3M908.0 792.0h1.3M905.1 796.7h1.3M901.0 803.2h1.3M899.6 796.3h1.3M895.4 804.8h1.3M905.6 803.5h1.3M901.8 798.2h1.3M913.2 799.8h1.3M894.8 800.7h1.3M904.7 805.1h1.3M911.9 808.5h1.3M895.0 797.8h1.3M896.7 805.9h1.3M914.0 802.0h1.3M900.0 807.7h1.3M902.3 811.9h1.3M899.5 803.7h1.3M893.4 806.2h1.3M910.4 799.7h1.3M902.9 801.6h1.3M903.1 803.9h1.3M893.5 806.6h1.3M894.1 804.8h1.3M900.1 800.0h1.3M907.9 802.7h1.3M910.5 808.8h1.3M902.3 791.7h1.3M911.6 808.7h1.3M903.3 798.6h1.3M894.2 801.2h1.3M901.3 799.7h1.3M895.9 807.0h1.3M901.2 807.2h1.3M907.6 802.6h1.3M890.9 809.8h1.3M903.3 805.6h1.3M898.9 798.7h1.3M903.7 801.1h1.3M909.4 792.2h1.3M899.7 809.8h1.3M906.7 799.0h1.3M895.8 800.2h1.3M911.6 800.8h1.3M901.7 806.6h1.3M904.1 797.3h1.3M901.6 811.5h1.3M892.0 808.4h1.3M914.2 800.8h1.3M900.8 807.9h1.3M902.1 794.3h1.3M898.8 805.8h1.3M905.4 807.3h1.3M896.7 808.4h1.3M899.9 803.7h1.3M901.9 814.9h1.3M904.8 801.0h1.3M908.7 801.9h1.3M898.7 808.7h1.3M909.7 799.2h1.3M905.0 797.3h1.3M904.8 801.0h1.3M906.4 806.4h1.3M910.3 798.5h1.3M910.3 810.6h1.3M899.0 810.1h1.3M916.0 811.6h1.3M891.7 806.9h1.3M903.5 802.8h1.3M909.6 797.4h1.3M908.7 804.1h1.3M904.8 810.7h1.3M909.7 795.3h1.3M907.5 802.3h1.3M904.7 809.9h1.3M909.0 806.6h1.3M906.8 800.8h1.3M909.0 805.7h1.3M906.1 796.9h1.3M898.3 798.9h1.3M908.1 809.0h1.3M905.0 798.4h1.3M904.7 796.7h1.3M903.5 800.0h1.3M896.4 803.2h1.3M904.0 814.2h1.3M902.1 806.1h1.3M908.3 801.5h1.3M891.2 801.7h1.3M895.3 806.3h1.3M899.1 811.0h1.3M915.7 806.5h1.3M900.4 802.4h1.3M891.3 810.1h1.3M900.5 795.1h1.3M905.1 803.8h1.3M912.9 796.1h1.3M898.0 800.7h1.3M905.1 797.8h1.3M914.7 804.5h1.3M904.3 794.7h1.3M895.1 805.6h1.3M904.9 796.1h1.3M894.7 804.1h1.3M897.7 802.5h1.3M905.4 801.5h1.3M906.1 796.8h1.3M909.0 810.6h1.3M897.1 802.6h1.3M901.6 812.3h1.3M906.9 795.0h1.3M908.3 804.0h1.3M912.7 803.5h1.3M903.7 794.3h1.3M910.9 797.7h1.3M912.7 799.5h1.3M899.0 797.2h1.3" stroke="#e82a08" stroke-width="1.3" fill="none"/>
<line x1="985.75" y1="565.75" x2="985.75" y2="843.00" stroke="#333" stroke-width="1.3" stroke-linecap="butt"/>
<line x1="850.50" y1="712.00" x2="1158.25" y2="712.00" stroke="#333" stroke-width="1.3" stroke-linecap="butt"/>
<rect x="850.5" y="565.75" width="307.75" height="277.25" fill="none" stroke="#000" stroke-width="1.9"/>
<path d="M914.5 843v8.5M936.5 843v4.5M949.5 843v4.5M958.5 843v4.5M966.5 843v4.5M971.5 843v4.5M976.5 843v4.5M981.5 843v4.5M984.5 843v4.5M988.5 843v8.5M1009.5 843v4.5M1022.5 843v4.5M1031.5 843v4.5M1038.5 843v4.5M1044.5 843v4.5M1048.5 843v4.5M1053.5 843v4.5M1056.5 843v4.5M1060.5 843v8.5M1080.5 843v4.5M1092.5 843v4.5M1100.5 843v4.5M1107.5 843v4.5M1112.5 843v4.5M1117.5 843v4.5M1121.5 843v4.5M1124.5 843v4.5M1128.5 843v8.5M1148.5 843v4.5M881.5 843v8.5M886.5 843v4.5M891.5 843v4.5M896.5 843v4.5M901.5 843v4.5M905.5 843v4.5M909.5 843v4.5M877.5 843v4.5M872.5 843v4.5M867.5 843v4.5M863.5 843v4.5M858.5 843v4.5M853.5 843v4.5M850.5 785.5h-8.5M850.5 765.5h-4.5M850.5 753.5h-4.5M850.5 745.5h-4.5M850.5 738.5h-4.5M850.5 733.5h-4.5M850.5 729.5h-4.5M850.5 725.5h-4.5M850.5 721.5h-4.5M850.5 718.5h-8.5M850.5 699.5h-4.5M850.5 688.5h-4.5M850.5 680.5h-4.5M850.5 674.5h-4.5M850.5 669.5h-4.5M850.5 664.5h-4.5M850.5 661.5h-4.5M850.5 657.5h-4.5M850.5 655.5h-8.5M850.5 636.5h-4.5M850.5 625.5h-4.5M850.5 617.5h-4.5M850.5 611.5h-4.5M850.5 606.5h-4.5M850.5 602.5h-4.5M850.5 599.5h-4.5M850.5 595.5h-4.5M850.5 593.5h-8.5M850.5 574.5h-4.5M850.5 815.5h-8.5M850.5 810.5h-4.5M850.5 805.5h-4.5M850.5 801.5h-4.5M850.5 797.5h-4.5M850.5 793.5h-4.5M850.5 789.5h-4.5M850.5 819.5h-4.5M850.5 823.5h-4.5M850.5 827.5h-4.5M850.5 831.5h-4.5M850.5 835.5h-4.5M850.5 840.5h-4.5" stroke="#111" stroke-width="1.25" fill="none"/>
<path d="M881.5 843v8.5M850.5 816.5h-8.5M850.5 843h-8.5M850.5 843v8.5" stroke="#111" stroke-width="2.6" fill="none"/>
<text transform="translate(906.47,878.20) scale(1.0444,1)" font-size="14.2" fill="#2c2c2c" xml:space="preserve" stroke="#2c2c2c" stroke-width="0.25">10</text>
<text transform="translate(923.75,868.30) scale(0.9500,1)" font-size="14.5" fill="#2c2c2c" xml:space="preserve" stroke="#2c2c2c" stroke-width="0.25">2</text>
<text transform="translate(811.57,794.05) scale(1.0513,1)" font-size="14.2" fill="#2c2c2c" xml:space="preserve" stroke="#2c2c2c" stroke-width="0.25">10</text>
<text transform="translate(828.95,783.95) scale(0.9500,1)" font-size="14.5" fill="#2c2c2c" xml:space="preserve" stroke="#2c2c2c" stroke-width="0.25">2</text>
<text transform="translate(980.97,878.20) scale(1.0444,1)" font-size="14.2" fill="#2c2c2c" xml:space="preserve" stroke="#2c2c2c" stroke-width="0.25">10</text>
<text transform="translate(998.47,868.30) scale(0.9500,1)" font-size="14.5" fill="#2c2c2c" xml:space="preserve" stroke="#2c2c2c" stroke-width="0.25">3</text>
<text transform="translate(811.57,727.05) scale(1.0513,1)" font-size="14.2" fill="#2c2c2c" xml:space="preserve" stroke="#2c2c2c" stroke-width="0.25">10</text>
<text transform="translate(829.17,716.95) scale(0.9500,1)" font-size="14.5" fill="#2c2c2c" xml:space="preserve" stroke="#2c2c2c" stroke-width="0.25">3</text>
<text transform="translate(1051.47,878.20) scale(1.0444,1)" font-size="14.2" fill="#2c2c2c" xml:space="preserve" stroke="#2c2c2c" stroke-width="0.25">10</text>
<text transform="translate(1069.18,868.30) scale(0.9500,1)" font-size="14.5" fill="#2c2c2c" xml:space="preserve" stroke="#2c2c2c" stroke-width="0.25">4</text>
<text transform="translate(811.57,663.30) scale(1.0513,1)" font-size="14.2" fill="#2c2c2c" xml:space="preserve" stroke="#2c2c2c" stroke-width="0.25">10</text>
<text transform="translate(829.38,653.20) scale(0.9500,1)" font-size="14.5" fill="#2c2c2c" xml:space="preserve" stroke="#2c2c2c" stroke-width="0.25">4</text>
<text transform="translate(1120.72,878.20) scale(1.0444,1)" font-size="14.2" fill="#2c2c2c" xml:space="preserve" stroke="#2c2c2c" stroke-width="0.25">10</text>
<text transform="translate(1138.22,868.30) scale(0.9500,1)" font-size="14.5" fill="#2c2c2c" xml:space="preserve" stroke="#2c2c2c" stroke-width="0.25">5</text>
<text transform="translate(811.57,601.30) scale(1.0513,1)" font-size="14.2" fill="#2c2c2c" xml:space="preserve" stroke="#2c2c2c" stroke-width="0.25">10</text>
<text transform="translate(829.17,591.20) scale(0.9500,1)" font-size="14.5" fill="#2c2c2c" xml:space="preserve" stroke="#2c2c2c" stroke-width="0.25">5</text>
<text transform="translate(869.56,878.20) scale(1.0500,1)" font-size="14.2" fill="#2c2c2c" xml:space="preserve" stroke="#2c2c2c" stroke-width="0.25">0</text>
<text transform="translate(821.31,823.20) scale(1.0500,1)" font-size="14.2" fill="#2c2c2c" xml:space="preserve" stroke="#2c2c2c" stroke-width="0.25">0</text>
<text transform="translate(855.57,588.75) scale(1.0127,1)" font-size="21.5" fill="#000" xml:space="preserve"><tspan font-weight="bold">0.01%</tspan></text>
<text transform="translate(1093.81,587.50) scale(1.0211,1)" font-size="21.5" fill="#000" xml:space="preserve"><tspan font-weight="bold">0.21%</tspan></text>
<text transform="translate(852.33,840.00) scale(1.0002,1)" font-size="21.5" fill="#000" xml:space="preserve"><tspan font-weight="bold">99.3%</tspan></text>
<text transform="translate(1093.81,837.50) scale(1.0211,1)" font-size="21.5" fill="#000" xml:space="preserve"><tspan font-weight="bold">0.49%</tspan></text>
<g filter="url(#rough)">
<polygon points="1302.6,787.0 1303.1,790.1 1302.4,793.1 1301.0,795.9 1299.3,798.1 1297.4,800.0 1295.6,801.4 1293.8,802.7 1292.1,803.6 1290.4,804.5 1288.7,805.2 1286.9,805.8 1285.1,806.3 1283.2,806.7 1281.2,806.9 1278.9,807.0 1276.5,806.9 1273.9,806.4 1271.3,805.3 1269.0,803.6 1267.5,801.2 1266.9,798.4 1267.4,795.6 1268.5,793.0 1270.0,790.8 1271.6,789.0 1273.3,787.5 1275.0,786.3 1276.6,785.3 1278.3,784.4 1279.9,783.6 1281.6,782.9 1283.5,782.3 1285.4,781.8 1287.5,781.4 1289.9,781.2 1292.5,781.3 1295.4,781.7 1298.3,782.7 1300.8,784.5" fill="#2fe060"/>
<polygon points="1291.9,791.3 1292.1,792.6 1291.9,793.9 1291.3,795.0 1290.6,796.0 1289.8,796.7 1289.1,797.4 1288.3,797.9 1287.6,798.3 1286.8,798.6 1286.1,798.9 1285.4,799.2 1284.6,799.4 1283.9,799.5 1283.0,799.6 1282.1,799.7 1281.1,799.6 1280.0,799.3 1279.0,798.9 1278.0,798.2 1277.4,797.2 1277.2,796.0 1277.3,794.9 1277.8,793.8 1278.4,792.9 1279.0,792.2 1279.7,791.5 1280.4,791.0 1281.1,790.6 1281.8,790.2 1282.5,789.9 1283.2,789.6 1283.9,789.3 1284.8,789.1 1285.7,788.9 1286.7,788.8 1287.8,788.9 1288.9,789.1 1290.1,789.5 1291.2,790.2" fill="#a8ee20"/>
</g>
<path d="M1262.2 781.9h1.3M1304.1 807.2h1.3M1255.5 816.0h1.3M1271.6 777.3h1.3M1323.4 797.0h1.3M1285.4 818.4h1.3M1271.8 772.5h1.3M1290.4 769.9h1.3M1253.4 797.9h1.3M1318.3 799.6h1.3M1295.7 768.4h1.3M1274.1 774.3h1.3M1262.7 781.6h1.3M1250.3 791.6h1.3M1298.5 810.2h1.3M1272.5 771.2h1.3M1314.5 807.7h1.3M1260.6 816.8h1.3M1236.5 807.4h1.3M1304.4 809.4h1.3M1325.3 756.6h1.3M1277.5 819.4h1.3M1295.8 768.1h1.3M1248.4 790.9h1.3M1327.4 799.3h1.3M1264.1 767.2h1.3M1283.0 768.8h1.3M1247.7 771.9h1.3M1227.7 799.5h1.3M1317.1 803.3h1.3M1266.7 777.9h1.3M1277.2 765.1h1.3M1245.1 794.5h1.3M1250.6 786.6h1.3M1247.3 830.6h1.3M1257.3 822.2h1.3M1269.4 775.8h1.3M1321.9 802.1h1.3M1301.8 808.7h1.3M1333.6 796.8h1.3M1280.9 770.6h1.3M1311.9 819.4h1.3M1323.3 805.2h1.3M1309.5 807.0h1.3M1307.2 758.8h1.3M1285.8 822.1h1.3M1253.2 792.1h1.3M1281.1 771.7h1.3M1242.9 791.8h1.3M1257.0 806.0h1.3M1256.8 784.9h1.3M1282.6 825.1h1.3M1256.0 832.0h1.3M1330.7 788.9h1.3M1246.5 803.8h1.3M1292.3 760.4h1.3M1257.4 785.7h1.3M1306.4 761.4h1.3M1332.7 787.6h1.3M1244.8 802.4h1.3M1325.6 795.8h1.3M1304.8 762.1h1.3M1253.7 792.5h1.3M1258.1 820.3h1.3M1258.6 820.5h1.3M1307.5 766.7h1.3M1333.8 776.2h1.3M1246.7 810.3h1.3M1243.9 803.2h1.3M1301.4 772.3h1.3M1297.7 816.5h1.3M1321.3 801.8h1.3M1337.4 780.3h1.3M1268.2 822.5h1.3M1300.9 806.9h1.3M1301.1 767.7h1.3M1252.7 803.7h1.3M1252.8 816.7h1.3M1248.9 811.1h1.3M1295.3 817.5h1.3M1266.2 817.6h1.3M1341.4 782.6h1.3M1349.2 776.7h1.3M1338.6 788.5h1.3M1251.4 811.2h1.3M1245.9 777.8h1.3M1285.9 827.4h1.3M1280.3 767.9h1.3M1267.9 779.6h1.3M1272.7 750.0h1.3M1264.1 822.7h1.3M1324.8 794.4h1.3M1263.9 777.5h1.3M1294.0 829.2h1.3M1264.8 822.5h1.3M1250.2 794.2h1.3M1319.6 794.2h1.3M1244.9 797.1h1.3M1321.7 764.3h1.3M1238.6 812.8h1.3M1304.5 820.3h1.3M1310.1 813.2h1.3M1255.5 813.4h1.3M1329.6 788.2h1.3M1251.8 804.7h1.3M1244.7 816.8h1.3M1326.1 797.3h1.3M1272.8 818.6h1.3M1247.2 797.0h1.3M1282.7 822.9h1.3M1302.7 814.0h1.3M1284.3 769.7h1.3M1274.0 814.8h1.3M1262.8 829.8h1.3M1333.3 787.0h1.3M1257.6 799.8h1.3M1301.5 816.2h1.3M1292.6 762.3h1.3M1282.8 767.1h1.3M1251.5 800.8h1.3M1305.8 763.7h1.3M1311.1 812.7h1.3M1363.3 780.7h1.3M1249.9 787.1h1.3M1264.5 775.5h1.3M1288.4 766.0h1.3M1252.5 797.2h1.3M1289.2 813.8h1.3M1322.5 798.0h1.3M1255.2 828.8h1.3M1289.5 764.6h1.3M1294.3 763.1h1.3M1324.7 759.8h1.3M1296.8 815.4h1.3M1318.3 762.6h1.3M1268.1 772.5h1.3M1291.0 766.3h1.3M1238.8 800.2h1.3M1305.3 812.9h1.3M1304.1 760.2h1.3M1308.0 809.4h1.3M1262.7 822.5h1.3M1340.4 773.9h1.3M1341.5 791.9h1.3M1266.0 822.2h1.3M1322.1 807.1h1.3M1265.7 774.7h1.3M1282.1 760.9h1.3M1250.0 822.2h1.3M1247.9 793.1h1.3M1261.3 828.9h1.3M1259.8 773.3h1.3M1282.2 766.7h1.3M1309.1 810.4h1.3M1290.2 764.0h1.3M1256.0 815.9h1.3M1339.2 783.4h1.3M1293.2 814.2h1.3M1309.1 806.1h1.3M1315.9 803.1h1.3M1297.2 816.7h1.3M1315.6 807.4h1.3M1254.4 788.0h1.3M1320.6 768.4h1.3M1339.6 769.1h1.3M1250.8 790.3h1.3M1252.4 779.7h1.3M1256.6 819.2h1.3M1249.5 816.5h1.3M1252.3 810.4h1.3M1247.4 803.8h1.3M1287.5 826.1h1.3M1277.1 774.6h1.3M1291.9 764.2h1.3M1282.8 765.4h1.3M1266.8 833.9h1.3M1319.2 766.2h1.3M1350.7 754.8h1.3M1353.3 754.3h1.3M1343.1 757.3h1.3M1367.9 762.3h1.3M1317.1 810.5h1.3M1314.2 814.9h1.3M1338.9 768.3h1.3M1300.9 768.2h1.3M1331.3 788.3h1.3M1368.4 751.1h1.3M1347.4 779.3h1.3M1349.9 749.8h1.3M1360.5 774.6h1.3M1349.4 784.1h1.3M1322.1 764.0h1.3M1345.8 764.7h1.3M1359.0 761.7h1.3M1325.2 787.7h1.3M1296.6 767.7h1.3M1361.4 761.5h1.3M1330.3 776.2h1.3M1356.3 774.2h1.3M1346.0 764.6h1.3M1272.1 819.6h1.3M1312.6 761.6h1.3M1343.8 756.4h1.3M1342.3 764.8h1.3M1319.0 788.0h1.3M1336.4 775.2h1.3M1338.3 770.4h1.3M1346.9 754.1h1.3M1326.3 752.2h1.3M1343.3 754.8h1.3M1321.5 753.8h1.3M1335.8 767.7h1.3M1309.9 759.2h1.3M1339.4 766.0h1.3M1334.8 765.5h1.3M1369.4 749.5h1.3M1314.1 760.3h1.3M1350.7 757.1h1.3M1363.5 761.9h1.3M1353.5 748.6h1.3M1329.4 765.9h1.3M1300.8 773.3h1.3M1303.6 764.2h1.3M1368.2 764.5h1.3M1358.5 774.4h1.3M1353.9 744.9h1.3M1335.0 761.5h1.3M1315.6 765.1h1.3M1347.6 756.7h1.3M1332.2 756.7h1.3M1366.5 750.0h1.3M1293.1 768.6h1.3M1280.8 817.1h1.3M1323.2 768.0h1.3M1300.3 818.0h1.3M1335.8 762.0h1.3M1354.0 782.8h1.3M1338.1 772.6h1.3M1335.0 753.7h1.3M1327.3 758.0h1.3M1343.2 759.1h1.3M1341.2 761.6h1.3M1331.6 767.1h1.3M1369.2 755.9h1.3M1336.8 765.2h1.3M1350.8 770.9h1.3M1234.7 807.6h1.3M1332.4 783.6h1.3M1383.2 749.7h1.3M1263.3 782.6h1.3M1355.2 769.0h1.3M1278.4 774.0h1.3M1273.0 822.5h1.3M1344.0 764.7h1.3M1351.8 758.5h1.3M1368.5 760.0h1.3M1299.0 765.6h1.3M1358.2 758.6h1.3M1284.0 771.0h1.3M1349.6 759.1h1.3M1333.1 767.9h1.3M1344.7 773.4h1.3M1346.8 766.6h1.3M1331.9 760.5h1.3M1328.6 795.6h1.3M1301.6 769.7h1.3M1354.8 755.3h1.3M1332.9 792.5h1.3M1308.3 762.5h1.3M1367.9 757.2h1.3M1332.6 770.7h1.3M1318.5 765.1h1.3M1320.1 800.3h1.3M1337.9 775.5h1.3M1350.5 757.8h1.3M1352.5 755.1h1.3M1336.1 763.5h1.3M1329.8 765.4h1.3M1351.2 761.2h1.3M1352.8 761.5h1.3M1335.3 770.3h1.3M1335.9 782.1h1.3M1319.3 762.1h1.3M1345.9 776.8h1.3M1330.1 810.8h1.3M1343.5 772.3h1.3M1356.9 757.3h1.3M1361.4 745.3h1.3M1344.9 791.0h1.3M1349.3 757.9h1.3M1328.4 786.0h1.3M1302.0 770.9h1.3M1242.1 800.4h1.3M1257.5 787.5h1.3M1333.5 787.8h1.3M1235.0 801.3h1.3M1335.5 764.5h1.3M1305.1 769.1h1.3M1332.1 755.7h1.3M1326.7 768.7h1.3M1339.9 760.5h1.3M1335.2 766.0h1.3M1262.3 820.1h1.3M1331.4 764.3h1.3M1383.2 770.4h1.3M1334.6 782.9h1.3M1350.8 755.9h1.3M1386.2 666.9h1.3M1410.5 627.8h1.3M1428.8 661.9h1.3M1446.2 652.7h1.3M1402.9 658.7h1.3M1394.2 683.0h1.3M1441.1 654.6h1.3M1458.6 646.2h1.3M1392.3 661.3h1.3M1438.2 670.5h1.3M1404.8 679.8h1.3M1374.1 687.2h1.3M1415.9 642.0h1.3M1431.3 682.5h1.3M1382.7 668.0h1.3M1365.8 638.8h1.3M1429.6 662.3h1.3M1417.6 678.4h1.3M1380.5 661.8h1.3M1450.9 632.0h1.3M1408.3 650.7h1.3M1419.9 637.3h1.3M1440.9 647.3h1.3M1362.2 676.0h1.3M1424.9 633.6h1.3M1466.4 692.6h1.3M1466.7 672.8h1.3M1378.8 640.4h1.3M1441.7 680.3h1.3M1439.4 677.1h1.3M1416.6 655.3h1.3M1422.2 660.2h1.3M1433.4 678.2h1.3M1454.0 642.7h1.3M1418.3 643.7h1.3M1446.2 595.1h1.3M1367.6 695.3h1.3M1458.0 676.1h1.3M1490.7 687.5h1.3M1404.2 662.6h1.3M1412.6 650.1h1.3M1397.5 654.6h1.3M1460.0 645.1h1.3M1450.2 629.7h1.3M1400.0 654.0h1.3M1412.8 666.3h1.3M1453.4 652.7h1.3M1467.3 670.1h1.3M1431.8 663.5h1.3M1388.2 657.8h1.3M1434.0 638.5h1.3M1377.1 656.3h1.3M1398.0 645.9h1.3M1452.9 632.3h1.3M1470.5 658.6h1.3M1418.5 671.3h1.3M1410.7 657.2h1.3M1387.1 664.7h1.3M1396.2 665.5h1.3M1380.7 635.8h1.3M1443.2 638.1h1.3M1420.4 644.8h1.3M1395.4 633.2h1.3M1417.0 667.0h1.3M1486.8 658.4h1.3M1385.1 634.2h1.3M1408.8 642.1h1.3M1438.2 647.9h1.3M1426.9 656.2h1.3M1417.6 674.7h1.3M1453.9 623.8h1.3M1405.4 648.3h1.3M1428.2 646.4h1.3M1423.8 705.0h1.3M1399.9 654.9h1.3M1435.3 660.5h1.3M1435.9 684.4h1.3M1415.0 664.1h1.3M1439.7 620.8h1.3M1426.5 651.6h1.3M1433.7 647.4h1.3M1450.0 643.5h1.3M1408.5 661.0h1.3M1468.7 627.7h1.3M1377.4 685.7h1.3M1432.3 639.3h1.3M1437.3 665.0h1.3M1480.1 638.8h1.3M1402.0 678.4h1.3M1413.4 677.5h1.3M1419.9 634.9h1.3M1397.2 658.5h1.3M1417.8 650.8h1.3M1452.2 666.0h1.3M1501.9 686.2h1.3M1488.5 628.1h1.3M1392.8 648.7h1.3M1430.2 646.7h1.3M1422.5 652.0h1.3M1432.8 667.8h1.3M1416.7 643.1h1.3M1395.3 686.2h1.3M1385.3 667.0h1.3M1441.4 661.6h1.3M1393.0 642.6h1.3M1421.8 657.4h1.3M1426.1 678.1h1.3M1421.5 649.4h1.3M1411.3 658.0h1.3M1316.3 679.6h1.3M1405.4 686.8h1.3M1422.8 640.7h1.3M1401.6 650.1h1.3M1398.3 648.6h1.3M1413.6 657.7h1.3M1410.4 669.6h1.3M1408.8 692.5h1.3M1409.2 674.0h1.3M1410.4 645.4h1.3M1436.1 676.8h1.3M1380.4 638.8h1.3M1436.2 665.0h1.3M1441.0 639.8h1.3M1455.7 657.5h1.3M1353.6 628.8h1.3M1435.3 607.3h1.3M1386.5 686.7h1.3M1416.6 689.5h1.3M1479.2 634.1h1.3M1414.8 650.2h1.3M1408.5 632.4h1.3M1413.6 683.5h1.3M1406.5 651.1h1.3M1422.5 642.0h1.3M1375.1 648.5h1.3M1397.1 656.1h1.3M1410.4 671.1h1.3M1424.6 620.4h1.3M1426.8 660.0h1.3M1466.0 645.8h1.3M1409.2 656.5h1.3M1419.8 652.9h1.3M1455.4 642.3h1.3M1456.8 607.7h1.3M1477.1 659.4h1.3M1475.2 651.0h1.3M1403.0 648.9h1.3M1443.5 669.9h1.3M1437.4 687.0h1.3M1434.8 636.5h1.3M1474.1 651.5h1.3M1403.0 643.3h1.3M1418.1 682.8h1.3M1428.0 656.7h1.3M1422.6 675.8h1.3M1411.2 673.3h1.3M1466.9 644.1h1.3M1424.8 644.7h1.3M1453.4 631.9h1.3M1364.4 646.9h1.3M1412.3 665.5h1.3M1455.4 612.8h1.3M1464.6 669.9h1.3M1445.2 626.0h1.3M1412.3 632.4h1.3M1402.5 638.0h1.3M1438.5 645.8h1.3M1360.8 643.8h1.3M1415.5 672.5h1.3M1482.8 641.1h1.3M1391.8 647.4h1.3M1374.5 655.5h1.3M1421.3 642.2h1.3M1366.1 665.8h1.3M1448.5 654.5h1.3M1416.9 672.8h1.3M1472.0 638.6h1.3M1478.1 611.4h1.3M1386.5 651.3h1.3M1441.6 649.9h1.3M1409.0 635.1h1.3M1444.4 656.3h1.3M1439.1 689.6h1.3M1456.5 678.1h1.3M1433.5 666.7h1.3M1424.9 630.2h1.3M1393.1 669.9h1.3M1471.8 640.4h1.3M1384.8 667.8h1.3M1435.0 608.2h1.3M1426.8 664.5h1.3M1409.0 650.1h1.3M1361.7 671.9h1.3M1443.6 669.0h1.3M1407.3 685.2h1.3M1421.4 662.7h1.3M1413.1 618.9h1.3M1442.3 696.5h1.3M1407.3 669.0h1.3M1399.7 689.9h1.3M1453.7 644.9h1.3M1408.1 690.3h1.3M1417.7 634.4h1.3M1437.5 646.0h1.3M1360.6 677.6h1.3M1415.6 667.5h1.3M1435.3 666.5h1.3M1398.9 659.7h1.3M1424.5 658.0h1.3M1383.8 661.1h1.3M1442.3 629.1h1.3M1447.8 694.7h1.3M1421.4 687.9h1.3M1419.7 654.2h1.3M1394.4 672.1h1.3M1462.1 643.6h1.3M1393.5 687.8h1.3M1512.1 635.8h1.3M1445.7 627.5h1.3M1400.0 702.6h1.3M1398.1 675.3h1.3M1363.7 661.4h1.3M1397.6 653.8h1.3M1400.3 656.6h1.3M1429.1 643.7h1.3M1392.2 648.0h1.3M1467.4 659.4h1.3M1398.6 681.2h1.3M1449.5 639.4h1.3M1453.4 653.8h1.3M1395.7 642.9h1.3M1415.2 662.9h1.3M1397.4 632.2h1.3M1394.9 667.9h1.3M1422.0 674.3h1.3M1500.4 635.4h1.3M1468.5 677.0h1.3M1332.7 673.4h1.3M1394.0 677.5h1.3M1381.5 632.4h1.3M1411.9 668.5h1.3M1433.2 665.8h1.3M1467.3 663.7h1.3M1410.7 655.9h1.3M1393.9 629.7h1.3M1445.2 660.1h1.3M1451.1 666.0h1.3M1439.7 640.9h1.3M1461.1 641.6h1.3M1446.4 658.8h1.3M1462.6 647.5h1.3M1464.1 650.1h1.3M1432.0 659.6h1.3M1462.6 646.5h1.3M1431.8 655.1h1.3M1447.3 642.8h1.3M1434.2 645.2h1.3M1447.4 642.4h1.3M1459.3 646.7h1.3M1450.6 634.8h1.3M1454.9 652.0h1.3M1437.4 630.0h1.3M1457.0 662.3h1.3M1452.4 655.3h1.3M1450.4 647.1h1.3M1453.2 665.3h1.3M1440.7 644.4h1.3M1457.9 666.5h1.3M1459.2 646.9h1.3M1466.5 645.8h1.3M1460.3 653.0h1.3M1457.6 647.9h1.3M1436.1 640.0h1.3M1459.9 665.0h1.3M1468.3 652.8h1.3M1470.1 643.4h1.3M1439.0 642.6h1.3M1460.3 636.1h1.3M1450.4 650.2h1.3M1432.5 650.7h1.3M1463.9 662.3h1.3M1437.5 642.3h1.3M1459.7 651.5h1.3M1446.7 638.4h1.3M1436.5 663.9h1.3M1433.3 645.5h1.3M1461.2 644.7h1.3M1467.3 651.5h1.3M1462.0 657.6h1.3M1447.2 647.5h1.3M1479.1 654.0h1.3M1466.1 653.5h1.3M1417.3 650.5h1.3M1466.3 656.4h1.3M1452.2 660.0h1.3M1463.7 651.0h1.3M1440.4 657.8h1.3M1437.7 654.9h1.3M1453.9 665.1h1.3M1455.5 663.9h1.3M1426.9 660.2h1.3M1477.9 651.4h1.3M1436.5 654.5h1.3M1458.8 657.5h1.3M1458.7 643.6h1.3M1449.8 636.1h1.3M1459.1 653.1h1.3M1465.8 646.8h1.3M1478.0 658.8h1.3M1438.2 649.5h1.3M1431.6 646.1h1.3M1454.8 656.3h1.3M1441.1 644.7h1.3M1448.8 642.4h1.3M1455.6 653.0h1.3M1452.8 656.1h1.3M1450.6 647.7h1.3M1448.2 654.3h1.3M1458.6 643.9h1.3M1450.5 638.9h1.3M1421.2 651.4h1.3M1457.6 637.6h1.3M1439.1 639.7h1.3M1440.4 633.8h1.3M1465.9 659.2h1.3M1456.1 647.8h1.3M1444.1 656.3h1.3M1472.4 652.8h1.3M1443.0 640.4h1.3M1458.7 655.5h1.3M1447.5 646.7h1.3M1464.4 654.4h1.3M1414.4 660.9h1.3M1431.0 655.2h1.3M1456.5 662.5h1.3M1442.4 642.2h1.3M1429.6 664.4h1.3M1449.4 644.4h1.3M1462.0 648.2h1.3M1386.9 667.1h1.3M1373.1 688.3h1.3M1388.6 686.2h1.3M1391.8 678.7h1.3M1381.3 676.4h1.3M1394.0 665.3h1.3M1379.1 692.3h1.3M1388.4 678.7h1.3M1388.4 676.9h1.3M1390.9 676.5h1.3M1383.0 665.0h1.3M1391.6 705.5h1.3M1393.0 667.1h1.3M1395.4 640.5h1.3M1389.3 686.0h1.3M1395.1 682.8h1.3M1390.9 663.4h1.3M1393.1 668.6h1.3M1377.8 688.9h1.3M1387.2 673.0h1.3M1375.6 641.9h1.3M1401.1 695.5h1.3M1396.3 684.7h1.3M1398.1 704.6h1.3M1385.7 701.3h1.3M1385.9 678.0h1.3M1386.3 664.0h1.3M1393.3 665.7h1.3M1399.4 676.4h1.3M1403.8 670.9h1.3M1396.9 715.7h1.3M1381.3 673.4h1.3M1390.4 648.5h1.3M1393.8 675.3h1.3M1395.5 660.7h1.3M1383.8 679.7h1.3M1377.6 675.3h1.3M1389.7 707.3h1.3M1387.5 695.0h1.3M1393.2 697.5h1.3M1379.4 693.7h1.3M1393.9 673.2h1.3M1386.6 693.8h1.3M1387.1 665.6h1.3M1383.3 668.5h1.3M1401.1 686.6h1.3M1366.5 706.8h1.3M1379.7 669.0h1.3M1384.3 705.3h1.3M1374.9 667.3h1.3M1393.9 667.1h1.3M1383.9 635.9h1.3M1378.6 712.4h1.3M1383.9 692.3h1.3M1387.6 657.4h1.3M1401.3 777.6h1.3M1354.0 800.9h1.3M1426.2 758.5h1.3M1411.8 742.8h1.3M1424.0 767.3h1.3M1407.3 749.1h1.3M1395.5 762.7h1.3M1401.7 753.2h1.3M1386.4 743.5h1.3M1369.6 744.9h1.3M1433.3 752.3h1.3M1389.6 778.8h1.3M1419.6 731.5h1.3M1415.9 756.0h1.3M1444.4 728.5h1.3M1405.5 751.5h1.3M1369.9 731.3h1.3M1403.5 778.0h1.3M1409.0 821.6h1.3M1409.0 751.8h1.3M1404.2 768.4h1.3M1401.6 762.3h1.3M1399.4 770.6h1.3M1439.9 743.2h1.3M1423.8 759.6h1.3M1399.3 782.5h1.3M1390.3 730.0h1.3M1370.5 777.4h1.3M1421.5 769.0h1.3M1419.3 762.0h1.3M1416.8 753.6h1.3M1417.0 789.5h1.3M1415.3 742.7h1.3M1445.2 803.4h1.3M1420.1 759.2h1.3M1400.9 753.2h1.3M1422.2 759.3h1.3M1427.0 753.4h1.3M1383.6 779.5h1.3M1457.8 747.4h1.3M1440.3 742.1h1.3M1391.1 774.6h1.3M1392.5 766.3h1.3M1356.6 786.8h1.3M1420.0 783.2h1.3M1399.8 788.0h1.3M1435.5 790.6h1.3M1402.2 757.1h1.3M1404.4 757.0h1.3M1416.7 782.1h1.3M1465.5 761.6h1.3M1396.4 770.2h1.3M1428.3 745.2h1.3M1403.4 753.5h1.3M1440.4 791.1h1.3M1376.4 747.7h1.3M1386.7 780.7h1.3M1409.0 776.9h1.3M1432.5 780.7h1.3M1443.9 771.6h1.3M1393.4 816.0h1.3M1432.4 763.6h1.3M1419.2 774.0h1.3M1383.0 771.2h1.3M1407.4 772.9h1.3M1418.6 755.1h1.3M1400.0 741.4h1.3M1399.2 771.1h1.3M1384.6 800.8h1.3M1361.9 733.0h1.3M1403.4 771.1h1.3M1421.4 791.0h1.3M1427.5 740.4h1.3M1405.0 746.1h1.3M1436.3 697.6h1.3M1360.0 781.6h1.3M1405.5 747.7h1.3M1383.7 757.5h1.3M1435.0 733.0h1.3M1386.3 758.8h1.3M1432.9 754.2h1.3M1423.3 758.0h1.3M1456.2 732.8h1.3M1448.3 757.2h1.3M1411.1 788.7h1.3M1373.8 753.8h1.3M1421.4 745.3h1.3M1360.0 762.2h1.3M1362.3 789.6h1.3M1416.5 784.1h1.3M1422.8 781.4h1.3M1415.2 750.4h1.3M1427.3 750.6h1.3M1371.8 779.2h1.3M1396.7 772.0h1.3M1425.9 799.2h1.3M1455.8 728.7h1.3M1447.3 779.0h1.3M1449.5 748.7h1.3M1426.8 730.7h1.3M1371.4 755.5h1.3M1405.2 773.3h1.3M1400.8 779.9h1.3M1430.4 732.2h1.3M1415.0 766.8h1.3M1449.2 789.2h1.3M1420.0 763.0h1.3M1433.3 795.7h1.3M1487.2 771.8h1.3M1407.2 743.5h1.3M1438.7 744.5h1.3M1401.5 748.3h1.3M1393.5 766.2h1.3M1404.7 778.2h1.3M1386.2 767.4h1.3M1397.4 750.9h1.3M1419.1 805.0h1.3M1419.2 748.8h1.3M1389.2 743.1h1.3M1454.2 771.1h1.3M1403.1 776.0h1.3M1435.2 751.1h1.3M1381.9 734.0h1.3M1421.8 752.3h1.3M1415.1 740.6h1.3M1381.8 768.2h1.3M1363.1 763.9h1.3M1436.7 743.9h1.3M1417.2 755.7h1.3M1388.7 785.5h1.3M1401.8 793.7h1.3M1432.8 735.2h1.3M1409.3 771.0h1.3M1419.1 793.2h1.3M1387.1 773.1h1.3M1388.7 770.6h1.3M1409.1 789.5h1.3M1396.5 786.3h1.3M1445.6 774.0h1.3M1391.8 775.1h1.3M1426.1 751.7h1.3M1439.6 751.3h1.3M1406.7 734.9h1.3M1441.2 746.2h1.3M1406.3 781.4h1.3M1377.8 783.4h1.3M1422.2 760.9h1.3M1403.3 801.8h1.3M1365.1 766.1h1.3M1422.8 753.3h1.3M1417.7 733.5h1.3M1406.0 771.6h1.3M1453.7 775.7h1.3M1418.8 782.7h1.3M1413.8 739.4h1.3M1379.6 798.5h1.3M1412.8 761.9h1.3M1359.9 737.6h1.3M1417.1 789.7h1.3M1420.7 723.5h1.3M1406.9 781.8h1.3M1419.7 754.0h1.3M1399.2 756.9h1.3M1408.1 778.4h1.3M1418.0 768.8h1.3M1467.8 739.1h1.3M1413.7 768.9h1.3M1417.7 766.5h1.3M1434.4 749.5h1.3M1423.7 750.3h1.3M1422.7 746.5h1.3M1407.7 771.8h1.3M1404.8 781.4h1.3M1403.5 774.5h1.3M1405.3 743.1h1.3M1404.7 761.4h1.3M1411.0 780.4h1.3M1363.6 769.8h1.3M1382.5 757.6h1.3M1402.2 763.1h1.3M1416.1 763.6h1.3M1428.7 739.9h1.3M1440.0 766.3h1.3M1408.0 773.2h1.3M1377.8 816.0h1.3M1359.6 774.5h1.3M1416.1 783.7h1.3M1430.6 756.2h1.3M1418.8 736.6h1.3M1436.0 789.2h1.3M1412.6 741.7h1.3M1427.6 767.4h1.3M1437.5 781.5h1.3M1401.0 780.5h1.3M1384.8 809.2h1.3M1403.4 736.6h1.3M1442.9 757.0h1.3M1390.5 771.8h1.3M1434.2 762.8h1.3M1403.1 738.5h1.3M1364.3 755.4h1.3M1388.2 772.7h1.3M1417.2 764.1h1.3M1400.7 753.5h1.3M1403.0 760.7h1.3M1419.1 789.6h1.3M1387.4 744.1h1.3M1406.7 752.1h1.3M1424.8 765.7h1.3M1473.5 753.4h1.3M1420.5 766.8h1.3M1432.1 749.7h1.3M1411.8 791.0h1.3M1398.1 794.1h1.3M1440.3 762.0h1.3M1453.8 771.9h1.3M1432.6 779.1h1.3M1432.2 782.4h1.3M1443.4 785.7h1.3M1411.6 776.0h1.3M1429.1 798.9h1.3M1448.6 783.4h1.3M1428.8 772.9h1.3M1429.3 775.1h1.3M1452.5 756.8h1.3M1444.7 760.8h1.3M1421.7 783.4h1.3M1417.0 798.6h1.3M1444.2 768.8h1.3M1448.0 765.1h1.3M1434.3 767.2h1.3M1420.0 758.8h1.3M1424.0 773.1h1.3M1448.2 755.6h1.3M1426.3 767.1h1.3M1425.7 768.8h1.3M1444.0 780.1h1.3M1463.1 769.9h1.3M1441.3 762.6h1.3M1440.6 766.3h1.3M1429.0 778.8h1.3M1421.6 782.7h1.3M1437.5 754.1h1.3M1433.2 779.5h1.3M1428.0 797.3h1.3M1440.4 784.2h1.3M1448.3 756.5h1.3M1442.6 778.7h1.3M1457.4 766.3h1.3M1442.6 758.4h1.3M1433.5 781.7h1.3M1436.3 775.9h1.3M1453.2 778.4h1.3M1411.7 778.5h1.3M1433.0 780.2h1.3M1440.2 794.1h1.3M1437.5 782.0h1.3M1429.0 788.5h1.3M1415.6 768.2h1.3M1418.3 777.4h1.3M1444.2 763.6h1.3M1454.0 766.6h1.3M1425.4 774.9h1.3M1446.1 768.0h1.3M1424.3 767.0h1.3M1437.7 756.1h1.3M1417.9 772.0h1.3M1424.1 770.3h1.3M1433.4 759.8h1.3M1434.5 779.3h1.3M1423.8 759.8h1.3M1429.9 771.2h1.3M1440.1 748.6h1.3M1452.6 751.6h1.3M1415.8 783.6h1.3M1442.2 764.0h1.3M1443.8 770.9h1.3M1432.1 788.5h1.3M1424.5 783.7h1.3M1420.4 794.9h1.3M1418.9 784.2h1.3M1425.8 773.8h1.3M1432.7 775.1h1.3M1449.0 778.9h1.3M1432.8 757.1h1.3M1439.1 781.3h1.3M1437.9 763.7h1.3M1451.5 749.5h1.3M1423.6 765.0h1.3M1408.2 789.3h1.3M1433.0 796.6h1.3M1449.6 772.0h1.3M1394.9 718.8h1.3M1387.9 727.7h1.3M1371.9 777.6h1.3M1377.9 765.7h1.3M1371.2 756.8h1.3M1390.3 766.8h1.3M1375.1 706.1h1.3M1375.0 701.8h1.3M1380.6 700.4h1.3M1389.5 748.7h1.3M1385.1 750.3h1.3M1392.2 736.3h1.3M1379.7 705.3h1.3M1398.0 750.1h1.3M1377.7 756.2h1.3M1390.1 768.1h1.3M1387.2 758.9h1.3M1349.8 743.6h1.3M1379.0 734.7h1.3M1387.7 798.9h1.3M1385.3 709.6h1.3M1372.4 801.9h1.3M1371.5 770.3h1.3M1372.9 722.6h1.3M1363.5 746.9h1.3M1377.3 733.2h1.3M1371.5 758.6h1.3M1377.7 760.5h1.3M1394.9 702.3h1.3M1381.0 757.8h1.3M1376.2 777.2h1.3M1371.4 741.7h1.3M1372.2 734.0h1.3M1381.4 781.5h1.3M1364.5 748.7h1.3M1390.1 740.2h1.3M1371.6 755.3h1.3M1385.1 767.8h1.3M1375.9 763.7h1.3M1384.8 799.5h1.3M1373.7 726.9h1.3M1393.5 718.0h1.3M1378.4 760.8h1.3M1392.7 761.1h1.3M1378.7 763.8h1.3M1342.0 655.0h1.3M1312.0 682.0h1.3M1335.0 685.0h1.3M1303.0 695.0h1.3M1323.0 699.0h1.3M1330.0 711.0h1.3M1320.0 724.0h1.3M1327.0 724.0h1.3M1307.0 728.0h1.3M1357.0 675.0h1.3" stroke="#20206e" stroke-width="1.3" fill="none"/>
<path d="M1295.6 776.7h1.3M1252.6 806.2h1.3M1279.4 813.0h1.3M1281.4 778.4h1.3M1289.9 772.2h1.3M1263.9 787.1h1.3M1265.0 809.7h1.3M1295.4 812.0h1.3M1317.8 785.5h1.3M1291.6 772.0h1.3M1261.0 790.7h1.3M1312.0 799.0h1.3M1278.8 777.8h1.3M1286.6 815.6h1.3M1309.3 797.4h1.3M1285.7 776.6h1.3M1261.8 815.8h1.3M1278.5 777.9h1.3M1306.9 791.9h1.3M1266.5 809.2h1.3M1266.4 809.1h1.3M1272.0 813.6h1.3M1260.8 810.5h1.3M1263.5 785.1h1.3M1257.3 807.4h1.3M1268.8 781.7h1.3M1266.1 782.5h1.3M1262.7 815.8h1.3M1293.1 773.3h1.3M1308.2 792.1h1.3M1260.1 804.4h1.3M1267.5 784.8h1.3M1262.4 788.4h1.3M1260.6 806.7h1.3M1301.3 804.0h1.3M1313.8 781.3h1.3M1288.6 777.6h1.3M1267.7 784.6h1.3M1259.4 789.3h1.3M1271.6 779.7h1.3M1250.6 808.3h1.3M1296.6 777.5h1.3M1262.0 796.1h1.3M1305.6 800.0h1.3M1275.0 779.3h1.3M1280.4 780.7h1.3M1266.4 781.3h1.3M1310.0 782.8h1.3M1261.9 803.6h1.3M1295.5 773.0h1.3M1300.0 808.0h1.3M1313.8 792.3h1.3M1283.8 814.0h1.3M1272.8 777.0h1.3M1306.9 792.7h1.3M1256.2 798.8h1.3M1277.2 816.8h1.3M1311.5 779.6h1.3M1268.0 782.9h1.3M1313.4 789.3h1.3M1286.5 776.0h1.3M1276.0 783.6h1.3M1252.9 808.9h1.3M1254.8 792.9h1.3M1309.2 795.4h1.3M1286.2 814.6h1.3M1264.8 783.0h1.3M1261.3 802.9h1.3M1314.9 789.3h1.3M1274.4 776.3h1.3M1265.5 812.5h1.3M1280.2 811.2h1.3M1254.5 805.2h1.3M1302.2 802.3h1.3M1246.1 798.4h1.3M1268.0 781.3h1.3M1283.9 807.7h1.3M1270.4 781.8h1.3M1277.2 809.4h1.3M1267.8 783.3h1.3M1260.0 802.7h1.3M1313.7 776.7h1.3M1262.9 788.9h1.3M1314.2 802.1h1.3M1296.7 807.2h1.3M1275.0 778.5h1.3M1299.7 810.0h1.3M1309.3 797.3h1.3M1276.8 811.3h1.3M1272.8 780.3h1.3M1306.8 781.5h1.3M1300.0 773.2h1.3M1304.3 774.1h1.3M1263.4 814.0h1.3M1271.0 781.9h1.3M1310.3 798.4h1.3M1267.6 785.3h1.3M1254.1 788.2h1.3M1315.7 792.0h1.3M1263.4 807.9h1.3M1314.8 784.5h1.3M1258.9 810.8h1.3M1271.9 783.0h1.3M1265.9 811.0h1.3M1283.3 814.0h1.3M1292.2 775.2h1.3M1305.2 769.1h1.3M1265.2 786.2h1.3M1312.7 772.2h1.3M1266.7 786.1h1.3M1305.3 768.9h1.3M1310.4 797.7h1.3M1303.2 803.1h1.3M1315.9 797.2h1.3M1310.3 779.4h1.3M1294.7 816.7h1.3M1286.9 810.7h1.3M1251.8 808.3h1.3M1287.8 779.1h1.3M1271.0 776.2h1.3M1282.0 773.8h1.3M1254.3 798.7h1.3M1272.1 813.7h1.3M1314.6 792.0h1.3M1309.2 775.7h1.3M1263.5 819.3h1.3M1310.8 797.8h1.3M1306.6 769.9h1.3M1311.1 788.3h1.3M1308.7 794.9h1.3M1258.4 800.3h1.3M1264.0 790.6h1.3M1303.6 806.7h1.3M1281.3 770.4h1.3M1252.7 802.7h1.3M1281.0 818.6h1.3M1314.6 764.0h1.3M1293.9 775.0h1.3M1324.5 779.6h1.3M1271.7 816.5h1.3M1276.8 818.4h1.3M1256.2 813.1h1.3M1289.6 773.1h1.3M1257.3 798.4h1.3M1303.2 776.5h1.3M1259.3 784.5h1.3M1265.2 787.1h1.3M1300.7 778.4h1.3M1311.3 803.9h1.3M1308.0 798.0h1.3M1309.4 795.1h1.3M1306.1 769.0h1.3M1320.9 772.9h1.3M1285.6 769.1h1.3M1312.3 792.2h1.3M1253.7 802.1h1.3M1318.2 781.6h1.3M1311.1 798.3h1.3M1269.1 816.2h1.3M1262.4 813.7h1.3M1284.7 774.5h1.3M1324.7 779.1h1.3M1301.8 804.0h1.3M1312.3 797.2h1.3M1314.4 786.5h1.3M1261.6 806.5h1.3M1263.6 786.1h1.3M1263.2 810.3h1.3M1333.7 767.0h1.3M1286.7 773.9h1.3M1260.3 802.6h1.3M1263.2 791.4h1.3M1268.9 786.3h1.3M1314.2 789.9h1.3M1269.7 806.8h1.3M1321.6 782.8h1.3M1304.9 783.3h1.3M1316.2 795.3h1.3M1271.1 813.5h1.3M1272.6 816.0h1.3M1260.9 811.5h1.3M1306.3 801.9h1.3M1309.0 770.5h1.3M1322.2 778.5h1.3M1286.8 767.7h1.3M1296.5 771.4h1.3M1302.9 775.7h1.3M1276.6 773.3h1.3M1270.5 780.6h1.3M1275.6 814.4h1.3M1282.0 818.9h1.3M1261.9 805.3h1.3M1257.5 803.0h1.3M1280.3 774.3h1.3M1292.4 768.6h1.3M1314.5 798.0h1.3M1300.2 807.2h1.3M1260.4 790.5h1.3M1306.3 803.5h1.3M1309.0 793.0h1.3M1298.1 809.7h1.3M1326.2 779.8h1.3M1268.1 810.1h1.3M1316.5 768.6h1.3M1271.6 807.9h1.3M1306.4 798.0h1.3M1311.2 768.5h1.3M1323.2 789.0h1.3M1274.3 779.5h1.3M1295.7 769.6h1.3M1256.8 793.9h1.3M1309.4 780.9h1.3M1318.3 780.0h1.3M1275.5 775.9h1.3M1323.0 778.9h1.3M1259.7 801.1h1.3M1317.9 781.0h1.3M1265.4 783.7h1.3M1321.4 788.6h1.3M1308.1 782.3h1.3M1319.5 797.0h1.3M1274.4 778.0h1.3M1257.5 810.3h1.3M1304.4 768.6h1.3M1277.3 814.7h1.3M1265.9 813.2h1.3M1323.9 766.2h1.3M1322.1 776.2h1.3M1262.7 784.6h1.3M1276.6 774.5h1.3M1309.5 796.5h1.3M1292.9 774.5h1.3M1294.9 808.3h1.3M1264.7 783.6h1.3M1320.9 792.8h1.3M1307.6 766.6h1.3M1250.5 805.7h1.3M1262.6 784.7h1.3M1323.2 786.8h1.3M1266.1 782.9h1.3M1251.7 799.1h1.3M1299.0 808.0h1.3M1299.3 768.2h1.3M1274.1 813.5h1.3M1294.2 807.4h1.3M1305.8 801.4h1.3M1270.2 813.9h1.3M1260.2 805.9h1.3M1326.8 772.9h1.3M1260.0 800.8h1.3M1274.1 818.7h1.3M1294.0 771.4h1.3M1260.7 796.8h1.3M1288.2 814.1h1.3M1289.9 767.0h1.3M1261.6 783.5h1.3M1258.6 797.6h1.3M1285.2 772.4h1.3M1313.3 806.1h1.3M1263.3 813.5h1.3M1311.8 792.4h1.3M1298.6 807.9h1.3M1322.9 789.5h1.3M1312.2 800.0h1.3M1299.6 767.5h1.3M1249.0 798.0h1.3M1267.3 787.1h1.3M1292.6 767.0h1.3M1265.6 807.6h1.3M1307.6 800.6h1.3M1319.6 791.6h1.3M1263.0 788.0h1.3M1328.2 781.5h1.3M1330.4 779.9h1.3M1274.5 777.0h1.3M1314.6 802.7h1.3M1283.5 775.3h1.3M1279.7 773.7h1.3M1301.7 801.2h1.3M1335.8 767.2h1.3M1252.4 800.7h1.3M1323.0 774.8h1.3M1255.1 798.1h1.3M1327.6 784.2h1.3M1330.0 775.3h1.3M1309.2 771.6h1.3M1312.7 796.0h1.3M1256.9 796.9h1.3M1291.3 766.5h1.3M1258.6 793.4h1.3M1287.6 811.5h1.3M1251.0 804.3h1.3M1320.2 790.6h1.3M1264.0 818.7h1.3M1332.1 775.5h1.3M1310.8 800.9h1.3M1313.9 798.7h1.3M1307.2 772.6h1.3M1310.0 769.4h1.3M1311.4 799.9h1.3M1260.4 810.5h1.3M1314.0 780.2h1.3M1309.9 802.9h1.3M1308.8 779.7h1.3M1314.8 804.5h1.3M1268.5 783.5h1.3M1290.1 774.8h1.3M1273.3 810.5h1.3M1264.3 789.5h1.3M1300.3 808.9h1.3M1326.2 788.9h1.3M1269.0 778.1h1.3M1301.5 771.6h1.3M1314.6 796.0h1.3M1265.2 811.8h1.3M1305.0 776.3h1.3M1317.3 790.6h1.3M1265.5 813.8h1.3M1317.4 774.0h1.3M1261.5 796.2h1.3M1298.7 773.1h1.3M1313.2 799.0h1.3M1320.2 768.3h1.3M1310.9 771.9h1.3M1345.0 769.9h1.3M1287.4 774.6h1.3M1265.7 813.0h1.3M1266.6 781.1h1.3M1283.0 775.1h1.3M1298.5 805.2h1.3M1319.7 782.6h1.3M1263.4 806.9h1.3M1324.6 794.3h1.3M1319.3 774.7h1.3M1298.1 779.8h1.3M1303.2 807.9h1.3M1264.8 809.8h1.3M1296.0 774.3h1.3M1271.5 812.5h1.3M1305.8 770.8h1.3M1252.7 798.8h1.3M1316.1 769.3h1.3M1251.0 812.2h1.3M1314.0 797.0h1.3M1261.2 814.2h1.3M1327.3 782.5h1.3M1287.1 777.4h1.3M1267.3 814.6h1.3M1259.2 807.6h1.3M1307.2 771.2h1.3M1288.8 770.8h1.3M1256.8 799.9h1.3M1257.1 793.4h1.3M1286.0 772.9h1.3M1309.8 779.4h1.3M1288.4 774.1h1.3M1326.5 771.9h1.3M1310.5 771.6h1.3M1303.7 803.4h1.3M1254.6 795.6h1.3M1314.9 778.7h1.3M1253.1 792.9h1.3M1297.5 807.7h1.3M1319.7 779.0h1.3M1268.1 816.1h1.3M1318.5 779.3h1.3M1323.5 780.6h1.3M1261.5 797.6h1.3M1278.3 814.0h1.3M1319.6 765.3h1.3M1267.9 787.5h1.3M1292.3 778.4h1.3M1312.9 769.0h1.3M1274.8 777.9h1.3M1314.6 791.5h1.3M1263.3 812.1h1.3M1315.9 786.5h1.3M1275.9 816.2h1.3M1290.5 770.7h1.3M1326.9 779.5h1.3M1319.5 792.8h1.3M1268.8 815.8h1.3M1285.4 811.3h1.3M1314.5 779.0h1.3M1278.7 816.7h1.3M1256.6 799.4h1.3M1311.5 775.7h1.3M1254.4 815.3h1.3M1316.9 787.2h1.3M1277.8 812.0h1.3M1271.2 813.8h1.3M1301.6 774.6h1.3M1269.3 781.6h1.3M1298.7 805.9h1.3M1299.1 810.2h1.3M1298.5 767.3h1.3M1309.3 774.4h1.3M1319.4 797.4h1.3M1282.4 777.0h1.3M1312.3 796.6h1.3M1310.0 793.1h1.3M1306.0 766.9h1.3M1309.6 801.4h1.3M1253.9 811.3h1.3M1257.8 818.2h1.3M1321.0 784.1h1.3M1275.7 774.9h1.3M1323.2 771.9h1.3M1286.5 812.3h1.3M1313.7 800.8h1.3M1268.0 776.0h1.3M1316.6 782.2h1.3M1314.9 788.5h1.3M1305.0 774.0h1.3M1315.3 787.1h1.3M1312.1 798.9h1.3M1266.6 807.8h1.3M1272.4 810.9h1.3M1316.1 777.7h1.3M1335.3 779.6h1.3M1272.6 785.8h1.3M1257.9 802.9h1.3M1328.4 775.0h1.3M1264.4 804.5h1.3M1298.3 776.2h1.3M1319.2 784.8h1.3M1311.9 796.0h1.3M1262.7 809.5h1.3M1281.4 775.8h1.3M1307.6 764.8h1.3M1311.0 798.2h1.3M1253.2 792.3h1.3M1265.5 815.5h1.3M1326.6 780.3h1.3M1303.8 778.0h1.3M1313.2 791.1h1.3M1266.0 812.1h1.3M1301.7 774.1h1.3M1271.3 816.1h1.3M1322.9 781.4h1.3M1291.7 770.7h1.3M1311.3 805.2h1.3M1305.6 805.4h1.3M1320.5 779.4h1.3M1318.1 775.8h1.3M1337.6 776.3h1.3M1260.9 789.3h1.3M1269.1 817.3h1.3M1289.8 771.4h1.3M1262.4 782.7h1.3M1308.5 801.6h1.3M1276.5 780.2h1.3M1314.8 784.4h1.3M1267.4 813.7h1.3M1260.3 814.2h1.3M1313.3 803.1h1.3M1313.9 794.2h1.3M1311.8 776.4h1.3M1315.2 795.9h1.3M1273.9 812.4h1.3M1251.5 804.2h1.3M1299.9 776.5h1.3M1256.6 795.7h1.3M1295.4 772.8h1.3M1303.7 774.7h1.3M1314.3 792.9h1.3M1267.5 808.9h1.3M1314.1 777.6h1.3M1265.7 789.2h1.3M1312.3 794.4h1.3M1259.4 787.3h1.3M1281.2 777.9h1.3M1259.7 789.1h1.3M1305.7 778.1h1.3M1315.8 763.6h1.3M1328.1 782.7h1.3M1316.5 792.4h1.3M1253.2 795.0h1.3M1315.6 797.2h1.3M1327.1 783.0h1.3M1323.3 789.8h1.3M1303.3 808.4h1.3M1317.2 776.0h1.3M1328.2 778.7h1.3M1287.1 773.5h1.3M1316.0 801.3h1.3M1260.2 811.4h1.3M1312.5 803.4h1.3M1318.6 783.0h1.3M1326.5 772.7h1.3M1330.3 766.4h1.3M1304.3 772.1h1.3M1324.3 776.0h1.3M1316.6 792.6h1.3M1329.5 771.6h1.3M1327.3 785.3h1.3M1253.7 808.3h1.3M1310.1 770.1h1.3M1326.5 767.5h1.3M1317.4 785.5h1.3M1316.1 774.3h1.3M1316.4 789.6h1.3M1326.0 776.6h1.3M1318.5 791.9h1.3M1326.6 776.3h1.3M1331.3 772.5h1.3M1329.0 778.3h1.3M1330.2 780.9h1.3M1328.0 786.9h1.3M1313.5 775.9h1.3M1289.1 772.2h1.3M1330.2 780.0h1.3M1317.1 793.4h1.3M1304.5 772.8h1.3M1315.1 776.9h1.3M1324.0 781.7h1.3M1323.9 779.6h1.3M1322.3 780.0h1.3M1330.5 776.5h1.3M1321.8 779.1h1.3M1261.4 792.6h1.3M1316.2 775.4h1.3M1326.1 776.4h1.3M1318.6 773.0h1.3M1319.9 766.0h1.3M1325.0 771.0h1.3M1313.2 802.7h1.3M1282.3 812.9h1.3M1320.3 789.6h1.3M1343.2 777.7h1.3M1337.4 774.4h1.3M1316.4 788.4h1.3M1330.5 782.7h1.3M1327.5 781.2h1.3M1314.4 778.5h1.3M1322.2 784.4h1.3M1312.4 777.4h1.3M1303.4 778.2h1.3M1314.4 769.5h1.3M1282.7 770.2h1.3M1313.4 792.8h1.3M1318.8 774.1h1.3M1322.0 773.2h1.3M1245.2 806.0h1.3M1320.1 779.3h1.3M1329.0 776.2h1.3M1327.2 772.7h1.3M1325.7 783.6h1.3M1325.6 782.4h1.3M1321.1 778.0h1.3M1320.6 772.0h1.3M1312.5 778.3h1.3M1330.7 764.5h1.3M1326.5 781.7h1.3M1312.7 767.4h1.3M1302.8 775.6h1.3M1302.2 771.9h1.3M1322.9 784.5h1.3M1313.0 799.6h1.3M1273.9 812.6h1.3M1258.0 808.1h1.3M1318.5 771.3h1.3M1317.9 770.1h1.3M1311.6 783.4h1.3M1311.3 786.4h1.3M1342.4 765.2h1.3M1316.2 793.7h1.3M1319.5 780.2h1.3M1322.2 793.9h1.3M1320.4 786.0h1.3M1325.3 775.0h1.3M1318.0 772.1h1.3M1320.5 779.0h1.3M1322.7 761.2h1.3M1318.7 770.3h1.3M1273.8 783.9h1.3M1320.3 778.0h1.3M1328.8 775.2h1.3M1316.5 785.4h1.3M1334.3 765.3h1.3M1306.1 768.1h1.3M1312.8 776.2h1.3M1310.5 783.8h1.3M1311.9 769.3h1.3M1339.9 765.8h1.3M1317.6 780.7h1.3M1317.6 768.4h1.3M1321.0 776.3h1.3M1330.6 778.4h1.3M1323.7 769.4h1.3M1325.2 787.0h1.3M1298.3 767.7h1.3M1323.5 786.0h1.3M1326.4 764.9h1.3M1315.6 772.0h1.3M1339.2 771.4h1.3M1315.5 777.5h1.3M1327.7 769.9h1.3M1338.0 769.7h1.3M1301.2 774.2h1.3M1276.7 776.4h1.3M1322.1 769.3h1.3M1251.5 794.5h1.3M1333.0 779.5h1.3M1306.8 803.2h1.3M1324.4 788.5h1.3M1309.0 770.0h1.3M1300.4 772.5h1.3M1323.3 769.5h1.3M1323.3 777.0h1.3M1317.9 768.1h1.3M1295.8 771.5h1.3M1311.1 783.1h1.3M1317.5 770.0h1.3M1329.6 768.7h1.3M1333.7 770.3h1.3M1330.9 780.5h1.3M1320.3 769.3h1.3M1308.3 767.2h1.3M1321.1 791.3h1.3M1316.2 773.2h1.3M1328.7 776.0h1.3M1316.4 777.4h1.3M1328.0 779.6h1.3M1313.7 764.0h1.3M1312.6 777.6h1.3M1319.0 792.7h1.3M1334.0 772.2h1.3M1337.8 771.9h1.3M1260.1 787.5h1.3M1315.7 775.0h1.3M1325.3 783.3h1.3M1322.7 783.7h1.3M1337.2 772.8h1.3M1322.9 780.4h1.3M1303.1 767.8h1.3M1430.4 653.3h1.3M1418.1 660.2h1.3M1444.7 654.0h1.3M1439.0 655.2h1.3M1451.7 658.8h1.3M1444.5 653.6h1.3M1429.4 656.4h1.3M1459.4 643.5h1.3M1450.8 654.3h1.3M1449.5 651.2h1.3M1451.2 647.9h1.3M1441.5 661.7h1.3M1448.8 650.3h1.3M1434.0 658.4h1.3M1465.3 645.1h1.3M1454.4 645.3h1.3M1438.1 651.4h1.3M1463.0 650.3h1.3M1452.1 649.4h1.3M1455.5 656.5h1.3M1455.1 649.3h1.3M1443.5 655.7h1.3M1442.6 661.0h1.3M1440.5 651.2h1.3M1449.5 655.5h1.3M1438.8 661.8h1.3M1458.3 647.3h1.3M1462.8 644.5h1.3M1443.7 658.9h1.3M1454.6 649.9h1.3M1434.5 657.4h1.3M1430.6 768.1h1.3M1425.5 778.6h1.3M1432.4 765.5h1.3M1441.1 764.3h1.3M1428.4 769.6h1.3M1441.6 762.5h1.3M1433.7 772.4h1.3M1437.0 768.7h1.3M1439.4 763.2h1.3M1431.4 770.7h1.3M1431.5 776.6h1.3M1432.3 768.0h1.3M1434.6 763.6h1.3M1424.1 774.8h1.3M1435.7 771.2h1.3M1431.5 781.9h1.3M1423.8 774.8h1.3M1441.9 767.0h1.3M1425.8 766.0h1.3M1436.6 775.9h1.3M1433.6 774.0h1.3M1427.2 779.4h1.3M1440.3 760.1h1.3M1432.3 768.6h1.3M1431.3 773.8h1.3M1431.6 772.2h1.3M1439.0 769.4h1.3M1438.5 773.0h1.3" stroke="#1a1ad6" stroke-width="1.3" fill="none"/>
<path d="M1264.3 811.6h1.3M1268.4 812.6h1.3M1276.2 780.8h1.3M1293.7 806.2h1.3M1262.5 808.2h1.3M1278.5 808.3h1.3M1309.1 782.1h1.3M1304.6 795.9h1.3M1261.3 808.8h1.3M1271.0 810.2h1.3M1283.9 778.4h1.3M1274.5 813.5h1.3M1299.7 800.5h1.3M1274.3 808.2h1.3M1275.4 809.6h1.3M1307.9 792.8h1.3M1264.1 800.8h1.3M1273.0 784.7h1.3M1265.3 803.3h1.3M1299.6 805.1h1.3M1260.1 793.8h1.3M1296.6 780.0h1.3M1305.3 796.0h1.3M1313.3 778.7h1.3M1275.1 814.0h1.3M1307.6 789.5h1.3M1257.0 803.3h1.3M1299.9 798.7h1.3M1306.6 795.9h1.3M1268.9 807.9h1.3M1274.5 807.2h1.3M1268.5 792.1h1.3M1261.5 796.7h1.3M1279.6 783.4h1.3M1305.6 781.8h1.3M1258.9 803.9h1.3M1293.5 779.0h1.3M1286.9 811.0h1.3M1285.1 808.3h1.3M1270.7 807.7h1.3M1286.1 812.7h1.3M1283.9 812.2h1.3M1275.3 782.1h1.3M1303.8 769.5h1.3M1272.9 782.3h1.3M1277.7 812.6h1.3M1288.0 779.2h1.3M1282.3 787.4h1.3M1273.8 807.2h1.3M1297.6 801.6h1.3M1258.7 796.1h1.3M1284.3 781.8h1.3M1268.9 809.7h1.3M1259.1 796.1h1.3M1264.5 800.1h1.3M1256.2 797.2h1.3M1272.2 809.7h1.3M1269.2 812.4h1.3M1264.9 799.7h1.3M1277.4 809.9h1.3M1280.5 779.5h1.3M1270.6 781.2h1.3M1259.5 804.7h1.3M1274.9 812.8h1.3M1259.7 801.8h1.3M1288.7 779.8h1.3M1301.4 798.2h1.3M1315.8 779.2h1.3M1272.4 813.3h1.3M1265.9 817.7h1.3M1299.9 794.1h1.3M1262.1 806.2h1.3M1264.4 804.3h1.3M1278.4 811.9h1.3M1284.8 811.3h1.3M1273.3 782.2h1.3M1293.0 807.6h1.3M1286.2 780.3h1.3M1287.4 774.3h1.3M1272.5 786.4h1.3M1263.5 807.5h1.3M1290.1 777.0h1.3M1270.8 811.3h1.3M1292.7 807.9h1.3M1283.4 807.2h1.3M1303.7 782.2h1.3M1286.4 781.6h1.3M1270.6 809.9h1.3M1265.3 809.6h1.3M1288.4 807.9h1.3M1278.8 813.4h1.3M1271.8 813.9h1.3M1283.7 775.7h1.3M1285.1 775.7h1.3M1264.4 794.7h1.3M1292.9 804.8h1.3M1306.7 793.3h1.3M1291.2 808.4h1.3M1261.1 791.8h1.3M1311.1 788.0h1.3M1316.1 772.2h1.3M1298.4 777.6h1.3M1307.1 788.0h1.3M1279.5 777.2h1.3M1283.8 778.8h1.3M1318.3 783.2h1.3M1276.1 779.7h1.3M1299.6 772.7h1.3M1260.1 804.0h1.3M1265.8 792.9h1.3M1269.7 787.6h1.3M1289.9 809.8h1.3M1284.3 781.9h1.3M1315.9 789.7h1.3M1311.7 790.1h1.3M1268.5 788.1h1.3M1266.6 807.8h1.3M1302.2 779.6h1.3M1311.4 784.1h1.3M1275.8 813.2h1.3M1309.7 781.3h1.3M1320.3 794.6h1.3M1265.8 789.9h1.3M1271.8 781.2h1.3M1272.1 809.7h1.3M1261.1 794.3h1.3M1306.9 796.2h1.3M1300.7 794.0h1.3M1277.3 778.3h1.3M1282.8 778.1h1.3M1322.6 779.4h1.3M1304.7 774.3h1.3M1274.9 814.4h1.3M1313.1 792.3h1.3M1310.5 794.3h1.3M1297.0 803.7h1.3M1266.4 806.6h1.3M1271.0 780.3h1.3M1305.8 801.8h1.3M1313.4 779.4h1.3M1313.9 781.5h1.3M1315.2 774.8h1.3M1264.0 790.6h1.3M1268.7 785.6h1.3M1311.2 796.1h1.3M1313.2 788.4h1.3M1275.4 780.6h1.3M1292.2 773.7h1.3M1275.6 814.3h1.3M1275.1 786.6h1.3M1307.6 789.0h1.3M1275.8 809.5h1.3M1266.9 786.6h1.3M1267.7 810.4h1.3M1266.2 809.4h1.3M1308.9 792.2h1.3M1309.4 779.3h1.3M1257.3 799.9h1.3M1302.7 775.1h1.3M1258.5 805.0h1.3M1258.9 812.8h1.3M1306.6 785.8h1.3M1276.9 813.2h1.3M1259.4 793.8h1.3M1311.0 789.9h1.3M1287.5 774.5h1.3M1263.5 806.4h1.3M1269.6 788.5h1.3M1305.4 779.4h1.3M1285.5 812.9h1.3M1263.1 797.2h1.3M1324.8 776.5h1.3M1285.5 805.9h1.3M1285.2 775.7h1.3M1262.5 787.1h1.3M1315.6 778.3h1.3M1284.1 774.9h1.3M1303.4 778.8h1.3M1307.6 778.2h1.3M1262.8 789.1h1.3M1315.8 776.7h1.3M1292.1 809.2h1.3M1280.8 780.4h1.3M1304.5 789.2h1.3M1289.5 773.7h1.3M1323.1 773.4h1.3M1302.9 800.4h1.3M1307.3 792.0h1.3M1304.7 803.0h1.3M1280.1 811.2h1.3M1267.7 790.1h1.3M1306.1 776.0h1.3M1302.6 798.8h1.3M1308.1 791.5h1.3M1319.6 773.6h1.3M1277.9 781.0h1.3M1264.8 788.0h1.3M1269.2 790.8h1.3M1286.9 773.3h1.3M1313.0 776.8h1.3M1314.5 776.6h1.3M1304.2 775.0h1.3M1318.1 776.2h1.3M1280.6 783.6h1.3M1286.5 778.0h1.3M1301.9 774.4h1.3M1306.9 775.5h1.3M1314.5 777.3h1.3M1280.9 776.6h1.3M1302.4 804.8h1.3M1297.5 810.4h1.3M1271.8 811.7h1.3M1264.1 788.7h1.3M1292.4 803.1h1.3M1313.9 797.1h1.3M1331.3 775.6h1.3M1305.6 780.5h1.3M1319.7 786.3h1.3M1304.0 801.2h1.3M1259.7 797.8h1.3M1282.8 781.5h1.3M1305.0 777.0h1.3M1264.6 791.2h1.3M1316.9 787.1h1.3M1309.1 774.9h1.3M1302.1 772.9h1.3M1291.7 811.7h1.3M1273.6 810.7h1.3M1320.5 779.3h1.3M1278.0 783.9h1.3M1313.4 781.9h1.3M1305.7 791.4h1.3M1270.9 804.5h1.3M1286.4 776.1h1.3M1309.3 778.4h1.3M1298.0 773.4h1.3M1305.8 781.3h1.3M1315.4 777.6h1.3M1311.6 797.0h1.3M1311.1 783.7h1.3M1315.3 792.3h1.3M1313.8 780.3h1.3M1308.1 802.0h1.3M1314.6 778.2h1.3M1314.5 772.6h1.3M1309.4 797.8h1.3M1325.7 786.6h1.3M1297.9 777.4h1.3M1318.2 783.9h1.3M1317.3 786.6h1.3M1261.8 796.1h1.3M1305.5 781.8h1.3M1309.5 793.3h1.3M1287.5 812.0h1.3M1323.6 785.1h1.3M1318.6 770.2h1.3M1301.8 773.3h1.3M1288.5 777.1h1.3M1296.9 772.6h1.3M1322.5 780.0h1.3M1297.5 773.5h1.3M1323.1 776.8h1.3M1314.5 788.2h1.3M1265.9 798.9h1.3M1309.9 790.6h1.3M1324.0 777.4h1.3M1273.8 783.0h1.3M1311.0 790.4h1.3M1316.7 785.6h1.3M1324.8 769.6h1.3" stroke="#1464ff" stroke-width="1.3" fill="none"/>
<path d="M1286.9 806.3h1.3M1305.0 798.9h1.3M1291.2 805.3h1.3M1299.6 783.2h1.3M1270.0 794.7h1.3M1262.6 793.6h1.3M1267.8 789.7h1.3M1306.3 791.7h1.3M1270.6 784.8h1.3M1300.2 781.3h1.3M1281.9 806.5h1.3M1270.3 801.8h1.3M1261.7 800.2h1.3M1298.5 785.9h1.3M1301.1 785.5h1.3M1267.5 799.7h1.3M1263.0 793.2h1.3M1305.8 787.1h1.3M1268.6 799.8h1.3M1303.7 775.7h1.3M1286.1 807.7h1.3M1297.8 800.5h1.3M1273.0 794.6h1.3M1274.1 792.9h1.3M1293.7 776.0h1.3M1263.4 797.7h1.3M1273.3 807.7h1.3M1291.6 780.7h1.3M1300.0 784.8h1.3M1265.6 806.0h1.3M1264.8 795.0h1.3M1275.6 808.0h1.3M1299.2 799.8h1.3M1282.2 782.3h1.3M1266.7 800.4h1.3M1263.7 807.0h1.3M1279.6 808.1h1.3M1265.8 788.5h1.3M1283.1 808.1h1.3M1306.4 790.5h1.3M1271.1 786.7h1.3M1296.8 782.1h1.3M1266.0 790.0h1.3M1276.7 781.3h1.3M1275.5 784.1h1.3M1290.5 808.2h1.3M1301.7 792.9h1.3M1257.1 805.8h1.3M1280.9 780.9h1.3M1292.1 780.1h1.3M1262.7 798.8h1.3M1282.3 803.9h1.3M1307.3 785.5h1.3M1266.0 795.5h1.3M1293.2 806.1h1.3M1259.7 795.3h1.3M1289.1 797.8h1.3M1270.0 789.1h1.3M1287.6 788.1h1.3M1303.7 784.7h1.3M1279.4 807.4h1.3M1307.6 796.7h1.3M1298.2 797.7h1.3M1268.6 789.0h1.3M1270.7 802.3h1.3M1302.4 796.3h1.3M1303.9 783.7h1.3M1292.6 803.2h1.3M1266.6 801.1h1.3M1310.4 793.0h1.3M1291.3 805.8h1.3M1268.2 807.5h1.3M1278.5 805.9h1.3M1283.9 782.5h1.3M1294.4 780.4h1.3M1288.4 802.8h1.3M1295.4 801.4h1.3M1271.4 786.9h1.3M1297.0 782.4h1.3M1304.2 782.0h1.3M1304.3 790.9h1.3M1286.3 805.9h1.3M1288.8 804.3h1.3M1267.7 802.7h1.3M1304.4 798.9h1.3M1281.7 804.1h1.3M1289.1 803.4h1.3M1281.2 782.7h1.3M1301.2 795.3h1.3M1301.8 779.8h1.3M1270.1 794.4h1.3M1278.8 785.8h1.3M1265.1 794.7h1.3M1293.2 777.1h1.3M1290.0 780.9h1.3M1273.2 809.3h1.3M1280.5 780.0h1.3M1264.4 803.1h1.3M1273.4 786.7h1.3M1261.5 803.7h1.3M1282.9 780.8h1.3M1264.4 800.1h1.3M1296.5 802.3h1.3M1267.4 801.6h1.3M1298.7 793.8h1.3M1300.4 800.7h1.3M1292.9 805.1h1.3M1264.8 796.3h1.3M1265.8 797.0h1.3M1276.8 783.0h1.3M1268.1 794.2h1.3M1275.4 793.2h1.3M1297.0 782.7h1.3M1289.3 806.8h1.3M1304.1 795.4h1.3M1300.3 791.3h1.3M1294.5 805.0h1.3M1294.2 788.5h1.3M1266.3 813.8h1.3M1291.1 802.5h1.3M1268.1 796.9h1.3M1303.8 794.6h1.3M1305.5 797.2h1.3M1294.4 794.7h1.3M1267.2 788.4h1.3M1267.6 802.4h1.3M1287.3 776.2h1.3M1269.4 796.3h1.3M1270.5 787.3h1.3M1296.7 797.6h1.3M1315.3 786.2h1.3M1310.1 782.4h1.3M1272.6 787.4h1.3M1267.2 800.1h1.3M1268.4 803.4h1.3M1290.7 780.3h1.3M1296.9 780.8h1.3M1276.8 784.7h1.3M1297.0 778.6h1.3M1286.7 781.1h1.3M1279.3 784.9h1.3M1290.7 795.4h1.3M1276.5 807.6h1.3M1273.8 783.5h1.3M1282.2 789.3h1.3M1264.5 797.0h1.3M1304.1 797.2h1.3M1266.9 787.2h1.3M1272.8 807.9h1.3M1305.1 785.5h1.3M1288.2 800.7h1.3M1266.2 793.7h1.3M1266.6 791.0h1.3M1267.0 795.0h1.3M1306.1 778.5h1.3M1308.5 780.7h1.3M1299.4 777.5h1.3M1268.4 808.7h1.3M1300.7 783.2h1.3M1300.7 802.6h1.3M1288.0 777.0h1.3M1269.5 805.1h1.3M1294.2 785.7h1.3M1291.6 805.9h1.3M1298.3 803.5h1.3M1300.9 784.5h1.3M1278.1 806.7h1.3M1284.3 780.6h1.3M1298.5 803.2h1.3M1280.2 780.6h1.3M1278.5 789.3h1.3M1282.9 785.1h1.3M1276.3 807.6h1.3M1275.4 785.7h1.3M1313.2 784.0h1.3M1308.0 787.2h1.3M1270.3 806.9h1.3M1291.5 778.8h1.3M1289.0 808.1h1.3M1266.8 799.7h1.3M1292.5 783.3h1.3M1277.1 784.1h1.3M1265.0 796.3h1.3M1283.6 807.4h1.3M1290.9 781.3h1.3M1297.0 802.5h1.3M1269.9 796.3h1.3M1286.6 780.9h1.3M1286.7 784.1h1.3M1275.2 794.0h1.3M1282.9 783.8h1.3M1300.1 800.6h1.3M1300.6 784.0h1.3M1293.1 777.7h1.3M1281.5 783.6h1.3M1293.6 781.8h1.3M1270.1 789.1h1.3M1269.4 809.2h1.3M1268.0 793.1h1.3M1277.8 786.2h1.3M1291.4 775.2h1.3M1276.4 785.0h1.3M1299.9 798.2h1.3M1301.3 773.7h1.3M1295.1 779.2h1.3M1303.8 795.5h1.3M1301.8 791.8h1.3M1300.0 803.1h1.3M1265.3 798.5h1.3M1298.3 780.9h1.3M1270.7 792.5h1.3M1267.1 800.8h1.3M1275.5 783.1h1.3M1264.8 800.0h1.3M1285.1 787.9h1.3M1271.9 794.6h1.3M1306.6 790.7h1.3M1306.1 778.3h1.3M1294.9 781.9h1.3M1291.9 781.8h1.3M1272.8 806.5h1.3M1281.1 783.9h1.3M1283.9 781.8h1.3M1283.6 775.3h1.3M1281.7 808.0h1.3M1264.7 794.4h1.3M1262.5 804.3h1.3M1278.5 806.2h1.3M1270.9 787.2h1.3M1290.8 782.5h1.3M1267.2 803.3h1.3M1280.4 805.9h1.3M1303.3 788.5h1.3M1286.2 783.1h1.3M1291.1 786.0h1.3M1263.5 791.9h1.3M1274.7 795.0h1.3M1292.2 805.9h1.3M1305.4 794.4h1.3M1264.5 799.0h1.3M1299.2 783.6h1.3M1295.4 803.3h1.3M1270.8 803.4h1.3M1269.2 786.5h1.3M1294.8 782.1h1.3M1280.2 783.7h1.3M1263.0 809.1h1.3M1267.5 797.2h1.3M1299.4 800.6h1.3M1306.9 789.8h1.3M1310.7 789.8h1.3M1289.7 801.9h1.3M1290.9 806.3h1.3M1279.4 808.6h1.3M1281.3 785.4h1.3M1271.2 797.9h1.3M1294.3 804.5h1.3M1262.0 802.8h1.3M1302.2 796.2h1.3M1308.6 788.1h1.3M1295.5 782.2h1.3M1287.8 782.4h1.3M1273.5 810.3h1.3M1277.9 785.0h1.3M1305.0 787.6h1.3M1300.2 794.2h1.3M1295.2 800.9h1.3M1301.3 775.2h1.3M1288.4 783.0h1.3M1272.0 805.2h1.3M1279.1 784.5h1.3M1281.7 806.2h1.3M1295.4 805.7h1.3M1262.0 801.0h1.3M1264.3 791.1h1.3M1280.3 806.9h1.3M1306.0 780.9h1.3M1276.3 783.2h1.3M1297.0 804.3h1.3M1294.7 804.6h1.3M1274.0 807.7h1.3M1309.2 785.6h1.3M1260.7 808.0h1.3M1286.6 779.3h1.3M1264.7 801.4h1.3M1266.1 802.5h1.3M1273.1 781.2h1.3M1267.4 800.5h1.3M1301.0 787.1h1.3M1288.9 801.6h1.3M1273.1 810.4h1.3M1300.5 782.2h1.3M1307.9 780.3h1.3M1286.6 804.0h1.3M1283.4 781.9h1.3M1301.7 795.1h1.3M1303.7 786.9h1.3M1301.3 796.2h1.3M1279.6 785.5h1.3M1268.4 797.5h1.3M1274.4 806.7h1.3M1268.8 808.5h1.3M1269.0 800.7h1.3M1277.0 806.8h1.3M1303.3 785.4h1.3M1300.5 796.2h1.3M1301.6 792.6h1.3M1291.9 777.6h1.3M1301.5 798.8h1.3M1287.1 786.2h1.3M1297.0 802.3h1.3M1282.2 808.9h1.3M1268.1 800.6h1.3M1275.2 785.3h1.3M1303.7 793.7h1.3M1265.3 798.4h1.3M1292.8 809.9h1.3M1302.1 785.6h1.3M1271.4 809.0h1.3M1267.8 788.2h1.3M1270.5 803.8h1.3M1270.2 792.5h1.3M1263.6 804.3h1.3M1292.7 801.5h1.3M1300.0 796.8h1.3M1274.1 786.6h1.3M1298.0 793.1h1.3M1263.5 796.3h1.3M1279.7 804.6h1.3M1302.1 784.7h1.3M1297.0 780.0h1.3M1260.2 804.8h1.3M1299.9 799.2h1.3M1274.3 787.4h1.3M1306.6 790.3h1.3M1298.0 799.0h1.3M1267.4 795.3h1.3M1293.2 783.2h1.3M1263.5 802.6h1.3M1282.5 809.2h1.3M1302.0 795.8h1.3M1315.4 782.0h1.3M1300.1 795.6h1.3M1275.5 804.7h1.3M1290.8 804.2h1.3M1289.4 779.8h1.3M1268.0 795.4h1.3M1305.9 777.6h1.3M1295.5 803.2h1.3M1290.5 803.7h1.3M1306.1 784.8h1.3M1302.8 791.3h1.3M1286.4 782.8h1.3M1289.8 787.2h1.3M1269.0 811.0h1.3M1312.2 780.5h1.3M1296.5 802.0h1.3M1264.0 794.5h1.3M1286.3 780.2h1.3M1309.1 792.7h1.3M1280.9 808.5h1.3M1301.0 781.1h1.3M1291.9 778.3h1.3M1315.5 784.3h1.3M1285.1 782.5h1.3M1312.6 784.6h1.3M1308.6 797.0h1.3M1295.0 780.4h1.3M1291.9 804.5h1.3M1306.5 783.3h1.3M1299.2 782.1h1.3M1299.5 800.5h1.3M1284.3 811.3h1.3M1305.4 804.1h1.3M1284.0 782.9h1.3M1266.7 809.8h1.3M1273.3 803.2h1.3M1270.1 813.7h1.3M1296.1 798.0h1.3M1284.7 780.0h1.3M1263.8 797.3h1.3M1261.8 798.5h1.3M1308.8 772.9h1.3M1311.7 780.0h1.3M1306.7 781.8h1.3M1291.6 809.6h1.3M1273.4 811.0h1.3M1314.0 789.4h1.3M1283.3 808.3h1.3M1266.7 792.0h1.3M1304.3 792.8h1.3M1275.4 812.6h1.3M1262.9 798.9h1.3M1283.7 779.7h1.3M1267.5 784.6h1.3M1296.1 781.3h1.3M1284.7 780.5h1.3M1289.6 783.6h1.3M1296.2 797.1h1.3M1299.5 801.7h1.3M1281.5 780.9h1.3M1305.6 798.1h1.3M1303.6 804.0h1.3M1267.7 786.2h1.3M1264.3 798.4h1.3M1270.9 786.2h1.3M1310.1 779.4h1.3M1293.5 784.5h1.3M1274.6 813.9h1.3M1290.7 779.8h1.3M1268.6 794.6h1.3M1296.7 786.0h1.3M1280.4 808.1h1.3M1265.8 797.8h1.3M1278.8 808.1h1.3M1308.4 784.9h1.3M1294.4 804.3h1.3M1273.6 806.8h1.3M1290.8 804.4h1.3M1298.6 783.7h1.3M1297.5 801.2h1.3M1273.3 803.4h1.3M1303.4 787.3h1.3M1297.0 784.0h1.3M1256.2 803.3h1.3M1299.0 779.2h1.3M1292.5 795.4h1.3M1307.6 781.1h1.3M1299.2 803.5h1.3M1285.0 779.5h1.3M1300.2 798.1h1.3M1286.9 805.1h1.3M1273.7 785.5h1.3M1269.1 785.8h1.3M1272.8 800.2h1.3M1264.3 805.2h1.3M1318.5 787.3h1.3M1301.6 800.5h1.3M1310.3 789.9h1.3M1308.4 791.6h1.3M1299.6 800.6h1.3M1268.1 799.2h1.3M1317.7 778.4h1.3M1299.6 802.1h1.3M1275.3 809.6h1.3M1276.0 807.1h1.3M1272.0 804.8h1.3M1267.9 803.4h1.3M1308.2 777.9h1.3M1314.4 773.2h1.3M1304.8 791.8h1.3M1304.8 792.4h1.3M1289.1 804.6h1.3M1281.3 807.6h1.3M1299.0 801.7h1.3M1286.6 785.0h1.3M1289.5 805.6h1.3M1281.6 807.6h1.3M1266.7 810.5h1.3M1310.3 778.5h1.3M1267.1 798.7h1.3M1282.2 808.6h1.3M1292.5 779.6h1.3M1260.5 797.8h1.3M1277.7 810.3h1.3M1308.9 781.5h1.3M1300.2 797.2h1.3M1264.2 796.3h1.3M1269.3 804.5h1.3M1278.3 776.7h1.3M1309.3 778.7h1.3M1307.6 786.8h1.3M1264.8 796.9h1.3M1312.5 779.4h1.3M1264.0 797.3h1.3M1307.4 793.1h1.3M1279.0 808.0h1.3M1294.7 780.0h1.3M1268.9 789.7h1.3M1283.8 810.0h1.3M1265.0 791.3h1.3M1283.3 810.9h1.3M1269.3 805.0h1.3M1300.5 781.7h1.3M1310.9 787.4h1.3M1297.5 781.1h1.3M1275.0 810.9h1.3M1279.1 811.1h1.3M1297.0 794.4h1.3M1304.4 779.7h1.3M1285.8 780.0h1.3M1298.6 802.3h1.3M1262.0 803.7h1.3M1285.8 778.7h1.3M1314.1 787.0h1.3M1307.4 795.6h1.3M1326.3 772.0h1.3M1261.3 804.4h1.3M1288.9 808.3h1.3M1303.0 799.6h1.3M1273.7 779.3h1.3M1277.3 791.1h1.3M1286.7 780.2h1.3M1306.9 782.2h1.3M1259.3 792.0h1.3M1295.0 777.6h1.3M1298.3 803.3h1.3M1300.1 777.8h1.3M1300.3 774.6h1.3M1306.8 790.8h1.3M1267.5 808.1h1.3M1281.8 804.8h1.3M1283.4 809.6h1.3M1296.1 780.2h1.3M1309.8 786.8h1.3M1295.4 780.2h1.3M1296.7 777.3h1.3M1290.6 807.9h1.3M1279.9 788.6h1.3M1271.4 811.3h1.3M1304.0 789.4h1.3M1266.9 807.9h1.3M1264.6 808.4h1.3M1296.2 777.4h1.3M1268.4 787.5h1.3M1283.5 778.8h1.3M1265.1 803.3h1.3M1292.5 780.8h1.3M1276.6 803.1h1.3M1266.9 805.5h1.3M1311.4 792.5h1.3M1304.5 799.8h1.3M1263.7 798.0h1.3M1278.8 782.5h1.3M1269.6 793.3h1.3M1281.1 787.0h1.3M1274.3 806.9h1.3M1271.8 804.8h1.3M1283.9 783.0h1.3M1269.9 800.1h1.3M1277.5 784.1h1.3M1310.4 791.5h1.3M1293.2 780.6h1.3M1294.4 805.6h1.3M1261.5 799.0h1.3M1301.0 779.5h1.3M1278.1 812.4h1.3M1292.6 800.6h1.3M1304.1 795.3h1.3M1279.5 779.9h1.3M1277.1 806.2h1.3M1277.2 805.9h1.3M1264.7 788.7h1.3M1281.9 775.9h1.3M1283.9 778.6h1.3M1298.8 779.9h1.3M1310.5 773.7h1.3M1275.4 805.3h1.3M1271.8 801.3h1.3M1311.9 781.1h1.3M1306.9 793.0h1.3M1273.1 794.5h1.3M1304.6 793.3h1.3M1311.9 779.4h1.3M1281.5 808.6h1.3M1307.3 789.5h1.3M1272.5 791.1h1.3M1267.2 802.1h1.3M1287.9 807.8h1.3M1263.7 790.5h1.3M1278.8 811.8h1.3M1303.5 787.1h1.3M1284.8 809.9h1.3M1258.1 792.8h1.3M1260.6 804.9h1.3M1259.8 804.0h1.3M1310.8 788.7h1.3M1296.6 798.8h1.3M1265.9 790.7h1.3M1273.1 800.9h1.3M1308.2 790.7h1.3M1303.8 778.1h1.3M1301.5 782.5h1.3M1304.9 780.8h1.3M1296.1 803.9h1.3M1277.2 810.5h1.3M1302.6 778.5h1.3M1277.4 780.5h1.3M1302.3 778.2h1.3M1305.7 782.1h1.3M1299.5 774.0h1.3M1299.5 778.0h1.3M1300.4 800.0h1.3M1269.5 793.8h1.3M1278.5 811.1h1.3M1283.3 778.4h1.3M1289.3 782.9h1.3M1278.2 808.8h1.3M1302.8 796.9h1.3M1304.4 775.9h1.3M1269.4 799.9h1.3M1301.0 785.4h1.3M1260.7 802.1h1.3M1286.1 777.6h1.3M1291.8 803.0h1.3M1312.9 788.2h1.3M1290.0 774.0h1.3M1288.8 780.9h1.3M1299.8 776.0h1.3M1289.5 807.2h1.3M1276.4 807.4h1.3M1293.2 802.7h1.3M1300.9 779.7h1.3M1314.9 795.7h1.3M1281.0 804.8h1.3M1301.9 778.6h1.3M1306.8 785.5h1.3M1276.5 804.8h1.3M1300.9 781.3h1.3M1310.7 784.1h1.3M1286.5 776.1h1.3M1263.0 791.7h1.3M1265.4 811.6h1.3M1295.9 789.0h1.3M1308.2 780.0h1.3M1312.3 791.7h1.3M1294.7 774.8h1.3M1268.1 798.7h1.3M1308.3 791.9h1.3M1284.1 808.8h1.3M1275.5 779.9h1.3M1272.8 807.3h1.3M1300.2 788.9h1.3M1261.4 797.1h1.3M1299.2 776.4h1.3M1307.8 782.0h1.3M1265.3 793.4h1.3M1296.8 777.0h1.3M1279.5 810.4h1.3M1264.0 805.3h1.3M1289.5 806.9h1.3M1297.5 790.5h1.3M1306.8 789.8h1.3M1318.4 778.3h1.3M1307.9 797.1h1.3M1290.2 779.6h1.3M1290.3 807.6h1.3M1305.6 777.5h1.3M1289.2 776.5h1.3M1301.7 781.5h1.3M1300.0 778.0h1.3M1265.7 805.9h1.3M1295.8 780.3h1.3M1306.0 785.6h1.3M1307.1 785.9h1.3M1291.9 776.1h1.3M1307.6 800.0h1.3M1275.9 810.4h1.3M1281.5 804.9h1.3M1295.7 805.9h1.3M1291.0 780.4h1.3M1273.8 790.5h1.3M1283.4 807.8h1.3M1264.2 805.0h1.3M1289.3 806.0h1.3M1311.6 779.9h1.3M1277.6 807.8h1.3M1305.6 785.3h1.3M1300.9 780.1h1.3M1280.6 779.9h1.3M1299.2 793.9h1.3M1287.5 805.6h1.3M1293.4 776.2h1.3M1290.4 806.9h1.3M1274.2 812.1h1.3M1289.0 807.0h1.3M1292.0 804.7h1.3M1266.1 808.1h1.3M1313.6 795.5h1.3M1263.9 806.3h1.3M1301.3 783.2h1.3M1317.4 775.6h1.3M1310.5 773.0h1.3M1268.1 800.9h1.3M1259.2 792.5h1.3M1273.3 786.1h1.3M1292.7 810.3h1.3M1267.9 804.3h1.3M1268.1 802.1h1.3M1302.0 784.2h1.3M1303.6 775.0h1.3M1300.8 780.5h1.3M1305.7 784.3h1.3M1287.8 782.2h1.3M1276.6 781.6h1.3M1308.8 792.3h1.3M1277.5 806.0h1.3M1296.4 802.3h1.3M1312.3 780.3h1.3M1267.0 801.9h1.3M1320.6 781.7h1.3M1303.4 793.2h1.3M1286.1 776.0h1.3M1299.1 794.3h1.3M1272.0 788.0h1.3M1306.9 788.4h1.3M1273.2 783.1h1.3M1299.5 774.2h1.3M1310.7 788.5h1.3M1314.3 777.3h1.3M1310.3 781.7h1.3M1286.0 776.5h1.3M1279.6 809.6h1.3M1300.6 777.7h1.3M1287.8 776.9h1.3M1275.8 810.7h1.3M1278.9 789.4h1.3M1303.9 784.7h1.3M1264.0 805.1h1.3M1295.1 804.5h1.3M1278.5 810.0h1.3M1265.5 799.9h1.3M1267.2 792.8h1.3M1275.5 787.8h1.3M1302.9 778.6h1.3M1300.8 787.3h1.3M1304.4 786.8h1.3M1307.3 788.2h1.3M1308.1 795.8h1.3M1302.0 781.0h1.3M1310.1 795.0h1.3M1308.6 777.9h1.3M1300.4 784.4h1.3M1275.8 785.0h1.3M1311.4 784.3h1.3M1310.0 790.2h1.3M1305.3 807.2h1.3M1314.5 784.9h1.3M1289.9 778.2h1.3M1299.2 796.0h1.3M1262.4 791.5h1.3M1308.4 782.3h1.3M1305.2 777.8h1.3M1314.4 782.3h1.3M1300.7 772.0h1.3M1279.4 794.7h1.3M1292.5 776.7h1.3M1290.6 802.9h1.3M1284.7 808.6h1.3M1305.6 790.1h1.3M1305.2 777.0h1.3M1302.8 790.1h1.3M1262.5 791.3h1.3M1289.1 780.5h1.3M1303.5 797.5h1.3M1273.0 782.5h1.3M1301.0 786.2h1.3M1311.1 788.5h1.3M1305.5 789.4h1.3M1316.1 783.5h1.3M1306.1 790.7h1.3M1265.4 794.9h1.3M1293.4 797.5h1.3M1277.1 781.7h1.3M1301.5 790.8h1.3M1296.2 777.4h1.3M1291.0 775.8h1.3M1307.0 777.2h1.3M1298.9 779.1h1.3M1306.1 777.1h1.3M1310.9 781.0h1.3M1312.5 786.5h1.3M1314.3 786.6h1.3M1312.1 776.3h1.3M1308.7 795.5h1.3M1294.3 803.1h1.3M1305.2 792.9h1.3M1311.3 782.0h1.3M1289.2 784.3h1.3M1308.8 777.2h1.3M1303.1 796.8h1.3M1274.3 808.9h1.3M1277.0 783.6h1.3M1308.5 783.8h1.3M1303.3 780.8h1.3M1299.7 791.2h1.3M1294.8 799.3h1.3M1306.8 776.1h1.3M1302.9 801.9h1.3M1307.6 791.3h1.3M1302.7 799.3h1.3M1312.5 779.1h1.3M1307.2 781.5h1.3M1272.3 780.2h1.3M1305.4 789.0h1.3M1294.9 782.8h1.3M1311.1 776.2h1.3M1286.5 804.5h1.3M1281.0 778.6h1.3M1302.8 787.2h1.3M1287.9 779.2h1.3M1308.8 799.3h1.3" stroke="#18d2f0" stroke-width="1.3" fill="none"/>
<path d="M1280.7 799.2h1.3M1288.8 805.8h1.3M1272.9 802.5h1.3M1285.6 784.2h1.3M1296.8 789.0h1.3M1281.6 789.7h1.3M1272.2 790.8h1.3M1298.6 786.6h1.3M1284.4 781.1h1.3M1277.5 788.3h1.3M1275.7 791.9h1.3M1283.5 792.8h1.3M1273.4 789.7h1.3M1279.7 790.9h1.3M1271.7 804.9h1.3M1282.0 796.0h1.3M1294.7 783.6h1.3M1286.2 790.8h1.3M1299.2 792.9h1.3M1284.0 780.6h1.3M1288.9 801.2h1.3M1278.0 787.9h1.3M1291.3 803.9h1.3M1310.0 788.9h1.3M1275.8 789.5h1.3M1282.5 803.3h1.3M1279.5 787.5h1.3M1288.4 791.6h1.3M1292.1 783.1h1.3M1274.7 800.9h1.3M1303.8 793.9h1.3M1284.9 787.0h1.3M1273.8 794.3h1.3M1303.6 785.6h1.3M1290.7 789.8h1.3M1275.8 794.1h1.3M1286.8 791.3h1.3M1292.5 797.5h1.3M1286.2 798.3h1.3M1274.9 790.2h1.3M1296.1 784.9h1.3M1298.5 784.5h1.3M1267.1 800.1h1.3M1292.4 792.6h1.3M1275.7 800.1h1.3M1284.9 785.8h1.3M1292.9 788.2h1.3M1304.3 783.4h1.3M1287.9 788.6h1.3M1288.0 781.8h1.3M1282.4 794.0h1.3M1274.0 788.9h1.3M1269.2 793.1h1.3M1294.7 796.3h1.3M1293.6 782.9h1.3M1288.3 792.6h1.3M1286.8 794.7h1.3M1276.4 795.2h1.3M1280.2 801.8h1.3M1283.7 798.4h1.3M1273.3 798.4h1.3M1287.4 792.0h1.3M1298.5 797.1h1.3M1288.2 791.3h1.3M1270.5 805.3h1.3M1290.1 792.1h1.3M1276.1 798.4h1.3M1291.0 788.5h1.3M1269.4 802.2h1.3M1296.0 783.0h1.3M1283.2 788.5h1.3M1281.4 803.3h1.3M1288.7 789.1h1.3M1281.4 791.7h1.3M1282.2 781.5h1.3M1300.2 783.0h1.3M1288.9 786.2h1.3M1293.4 802.8h1.3M1273.9 797.8h1.3M1300.6 788.6h1.3M1278.4 799.8h1.3M1289.8 800.9h1.3M1272.9 787.1h1.3M1277.4 785.9h1.3M1270.7 791.2h1.3M1278.3 805.5h1.3M1287.1 797.5h1.3M1297.4 783.0h1.3M1304.0 786.9h1.3M1289.3 804.2h1.3M1278.5 787.8h1.3M1300.4 791.4h1.3M1290.2 792.3h1.3M1282.4 807.3h1.3M1296.3 787.0h1.3M1293.4 800.2h1.3M1291.1 806.3h1.3M1274.9 806.3h1.3M1292.7 794.6h1.3M1286.1 799.5h1.3M1289.2 799.2h1.3M1275.7 787.4h1.3M1293.7 792.2h1.3M1284.0 797.7h1.3M1281.7 795.7h1.3M1276.1 795.9h1.3M1291.9 801.0h1.3M1290.5 784.1h1.3M1298.3 783.8h1.3M1278.5 808.3h1.3M1280.8 797.9h1.3M1293.1 793.8h1.3M1272.9 799.8h1.3M1266.6 796.9h1.3M1282.4 788.5h1.3M1285.2 798.7h1.3M1300.6 795.7h1.3M1286.1 787.2h1.3M1294.4 783.3h1.3M1291.7 781.6h1.3M1287.5 781.1h1.3M1298.3 798.7h1.3M1302.5 785.0h1.3M1272.2 804.5h1.3M1267.0 797.3h1.3M1289.4 786.5h1.3M1299.2 791.5h1.3M1306.8 789.7h1.3M1274.0 808.7h1.3M1267.4 793.4h1.3M1297.0 791.6h1.3M1282.0 784.7h1.3M1294.2 785.4h1.3M1267.7 803.3h1.3M1289.9 805.0h1.3M1268.1 801.5h1.3M1279.3 786.9h1.3M1285.5 788.9h1.3M1286.6 792.7h1.3M1286.6 781.2h1.3M1283.9 797.6h1.3M1276.1 797.6h1.3M1294.4 790.5h1.3M1284.5 804.0h1.3M1279.5 782.7h1.3M1288.2 788.4h1.3M1280.0 794.9h1.3M1285.9 805.8h1.3M1287.0 806.3h1.3M1279.0 805.7h1.3M1282.5 794.8h1.3M1277.2 793.2h1.3M1300.0 793.2h1.3M1290.5 778.7h1.3M1290.2 794.7h1.3M1300.2 790.6h1.3M1298.3 798.7h1.3M1274.4 799.4h1.3M1295.9 787.2h1.3M1293.4 784.4h1.3M1301.4 786.4h1.3M1284.5 793.8h1.3M1282.0 802.4h1.3M1284.7 800.0h1.3M1274.5 803.5h1.3M1293.6 781.0h1.3M1273.2 805.7h1.3M1288.1 793.4h1.3M1291.2 786.4h1.3M1292.9 788.6h1.3M1272.4 791.7h1.3M1275.0 802.2h1.3M1271.5 804.2h1.3M1284.9 782.3h1.3M1286.2 799.6h1.3M1279.1 793.8h1.3M1267.7 801.9h1.3M1295.9 797.0h1.3M1284.0 796.1h1.3M1288.8 798.6h1.3M1273.0 807.7h1.3M1274.1 793.3h1.3M1289.1 784.0h1.3M1276.9 792.9h1.3M1281.0 786.7h1.3M1281.9 803.2h1.3M1277.9 799.5h1.3M1294.8 785.0h1.3M1290.8 788.6h1.3M1273.7 784.4h1.3M1267.8 802.5h1.3M1278.5 799.6h1.3M1288.8 787.6h1.3M1271.2 796.5h1.3M1299.3 789.1h1.3M1285.3 803.6h1.3M1287.2 804.3h1.3M1289.8 784.9h1.3M1276.1 793.3h1.3M1300.4 786.7h1.3M1271.8 799.8h1.3M1289.1 791.0h1.3M1283.1 805.9h1.3M1292.9 801.5h1.3M1297.9 791.7h1.3M1280.6 802.3h1.3M1293.9 802.0h1.3M1286.9 804.3h1.3M1275.4 797.5h1.3M1294.9 788.4h1.3M1277.5 790.1h1.3M1295.9 794.5h1.3M1271.3 802.4h1.3M1300.5 799.9h1.3M1285.5 792.2h1.3M1270.2 791.6h1.3M1290.5 780.7h1.3M1288.7 791.5h1.3M1276.3 788.9h1.3M1286.2 789.6h1.3M1301.4 781.2h1.3M1304.5 792.6h1.3M1288.2 804.5h1.3M1295.6 796.4h1.3M1274.6 799.1h1.3M1267.0 806.4h1.3M1301.7 788.6h1.3M1302.0 790.2h1.3M1278.0 795.4h1.3M1290.3 788.4h1.3M1286.2 794.3h1.3M1285.6 805.7h1.3M1273.2 790.8h1.3M1300.8 787.8h1.3M1299.3 787.2h1.3M1303.2 791.3h1.3M1298.1 799.0h1.3M1280.8 806.0h1.3M1290.8 792.6h1.3M1287.3 781.4h1.3M1279.3 787.8h1.3M1307.6 790.7h1.3M1286.4 799.4h1.3M1282.6 788.1h1.3M1279.8 802.1h1.3M1291.7 790.2h1.3M1294.1 798.2h1.3M1267.6 802.6h1.3M1290.7 792.9h1.3M1275.3 786.7h1.3M1290.4 781.2h1.3M1285.4 789.6h1.3M1276.4 807.7h1.3M1292.5 801.5h1.3M1293.2 787.5h1.3M1296.7 798.0h1.3M1300.1 786.9h1.3M1300.6 794.1h1.3M1279.6 783.2h1.3M1285.5 785.4h1.3M1279.3 798.0h1.3M1274.0 792.3h1.3M1288.0 794.6h1.3M1301.4 785.7h1.3M1287.6 779.6h1.3M1271.9 799.2h1.3M1275.9 800.9h1.3M1296.7 784.1h1.3M1275.8 793.7h1.3M1291.0 784.7h1.3M1284.9 803.3h1.3M1267.6 805.2h1.3M1269.9 791.5h1.3M1268.9 806.3h1.3M1291.2 800.0h1.3M1286.6 786.1h1.3M1292.0 806.2h1.3M1273.3 806.9h1.3M1294.9 795.0h1.3M1301.2 785.2h1.3M1274.2 793.0h1.3M1286.7 799.2h1.3M1294.8 783.5h1.3M1275.1 787.5h1.3M1277.7 787.6h1.3M1282.3 792.7h1.3M1293.2 786.0h1.3M1288.4 796.4h1.3M1292.0 794.9h1.3M1276.8 792.5h1.3M1283.5 795.0h1.3M1274.4 795.5h1.3M1292.7 795.2h1.3M1287.6 794.6h1.3M1267.5 800.0h1.3M1293.1 791.1h1.3M1279.3 797.3h1.3M1292.4 791.8h1.3M1291.1 801.5h1.3M1288.3 798.7h1.3M1279.1 793.4h1.3M1268.9 799.5h1.3M1273.5 795.8h1.3M1288.5 790.8h1.3M1299.1 794.5h1.3M1274.4 794.3h1.3M1268.9 803.0h1.3M1293.6 795.4h1.3M1299.1 795.3h1.3M1287.5 795.7h1.3M1282.9 796.6h1.3M1271.4 799.6h1.3M1281.4 802.2h1.3M1281.2 801.4h1.3M1268.9 800.8h1.3M1299.8 798.3h1.3M1300.6 794.0h1.3M1271.6 794.3h1.3M1269.4 801.2h1.3M1272.1 805.0h1.3M1299.0 796.4h1.3M1292.8 780.8h1.3M1290.5 796.6h1.3M1299.3 782.9h1.3M1293.1 795.3h1.3M1274.6 801.8h1.3M1274.4 792.7h1.3M1270.6 801.2h1.3M1291.1 788.8h1.3M1277.3 784.7h1.3M1260.9 798.8h1.3M1281.0 803.7h1.3M1278.5 784.7h1.3M1278.2 793.1h1.3M1274.7 799.4h1.3M1292.2 792.0h1.3M1299.4 790.9h1.3M1303.2 788.7h1.3M1276.2 791.3h1.3M1295.7 789.6h1.3M1278.7 794.0h1.3M1291.6 785.8h1.3M1288.9 788.1h1.3M1284.2 795.1h1.3M1292.3 783.9h1.3M1283.0 789.0h1.3M1282.4 781.9h1.3M1281.2 786.8h1.3M1286.4 785.4h1.3M1290.0 803.8h1.3M1269.7 795.9h1.3M1291.0 802.7h1.3M1283.7 790.7h1.3M1267.7 796.7h1.3M1277.8 804.6h1.3M1280.4 803.8h1.3M1265.5 799.9h1.3M1273.9 796.4h1.3M1303.8 783.5h1.3M1295.6 800.9h1.3M1299.3 784.5h1.3M1288.1 781.4h1.3M1275.2 793.9h1.3M1295.0 786.0h1.3M1299.7 794.9h1.3M1268.2 803.3h1.3M1289.3 782.1h1.3M1289.3 796.0h1.3M1270.3 796.1h1.3M1296.8 793.8h1.3M1277.1 805.2h1.3M1272.3 791.8h1.3M1273.5 795.0h1.3M1273.3 787.1h1.3M1299.0 797.3h1.3M1289.7 793.1h1.3M1293.5 779.2h1.3M1269.6 788.1h1.3M1284.5 807.4h1.3M1301.4 788.2h1.3M1277.1 802.7h1.3M1295.5 789.7h1.3M1288.0 795.9h1.3M1268.4 796.6h1.3M1274.9 810.7h1.3M1281.6 790.0h1.3M1296.9 792.1h1.3M1298.0 789.1h1.3M1281.8 785.4h1.3M1283.4 802.1h1.3M1273.8 790.6h1.3M1294.4 798.4h1.3M1300.2 799.5h1.3M1293.7 782.6h1.3M1298.8 787.0h1.3M1271.6 808.1h1.3M1298.0 781.2h1.3M1295.7 788.2h1.3M1274.2 807.7h1.3M1277.5 800.2h1.3M1277.9 794.0h1.3M1273.7 797.2h1.3M1286.8 795.2h1.3M1270.9 804.6h1.3M1293.4 802.2h1.3M1290.5 800.9h1.3M1293.1 800.2h1.3M1292.5 796.0h1.3M1277.2 797.3h1.3M1295.6 802.0h1.3M1293.0 787.0h1.3M1277.4 803.0h1.3M1271.9 789.6h1.3M1281.7 803.5h1.3M1298.4 789.0h1.3M1272.2 792.1h1.3M1299.5 793.7h1.3M1287.5 793.2h1.3M1298.2 793.9h1.3M1287.1 798.1h1.3M1301.5 786.3h1.3M1288.8 803.2h1.3M1272.3 799.3h1.3M1289.1 793.2h1.3M1306.0 783.3h1.3M1275.2 799.6h1.3M1284.5 782.3h1.3M1277.6 793.3h1.3M1298.7 783.6h1.3M1296.5 778.5h1.3M1288.2 798.1h1.3M1287.7 794.0h1.3M1290.1 795.6h1.3M1275.0 789.4h1.3M1281.7 787.4h1.3M1293.8 796.9h1.3M1296.8 781.7h1.3M1268.1 799.9h1.3M1274.0 795.2h1.3M1280.9 785.0h1.3M1276.4 806.3h1.3M1280.2 792.4h1.3M1292.0 798.3h1.3M1267.4 800.3h1.3M1293.1 797.0h1.3M1287.4 785.3h1.3M1269.7 802.0h1.3M1279.2 803.8h1.3M1266.3 797.2h1.3M1292.1 793.8h1.3M1275.5 805.7h1.3M1274.4 801.1h1.3M1285.9 806.5h1.3M1283.5 805.1h1.3M1272.2 797.6h1.3M1291.2 796.3h1.3M1290.6 781.8h1.3M1282.0 799.9h1.3M1292.4 802.6h1.3M1297.1 782.1h1.3M1290.7 802.6h1.3M1290.8 783.4h1.3M1278.7 797.2h1.3M1273.4 795.1h1.3M1278.4 784.6h1.3M1276.5 792.8h1.3M1267.8 805.7h1.3M1284.2 795.0h1.3M1307.4 794.6h1.3M1295.2 782.6h1.3M1287.4 780.8h1.3M1283.6 801.9h1.3M1277.0 793.0h1.3M1289.0 791.5h1.3M1299.5 796.1h1.3M1281.7 799.4h1.3M1280.8 802.3h1.3M1282.6 792.7h1.3M1278.5 794.6h1.3M1300.4 790.9h1.3M1270.6 794.5h1.3M1289.5 796.1h1.3M1288.3 788.4h1.3M1289.2 804.3h1.3M1285.5 784.4h1.3M1270.9 805.6h1.3M1291.7 792.6h1.3M1281.3 798.9h1.3M1299.7 790.4h1.3M1282.6 808.5h1.3M1269.7 791.9h1.3M1270.7 799.2h1.3M1295.9 781.2h1.3M1277.7 784.8h1.3M1300.4 787.3h1.3M1267.3 799.6h1.3M1271.9 789.3h1.3M1299.2 798.8h1.3M1280.1 803.6h1.3M1277.2 799.9h1.3M1279.3 803.2h1.3M1277.1 801.0h1.3M1277.1 809.6h1.3M1293.3 783.2h1.3M1282.2 799.9h1.3M1278.8 803.3h1.3M1269.3 806.3h1.3M1287.8 787.1h1.3M1286.5 785.1h1.3M1281.7 807.4h1.3M1285.2 798.3h1.3M1301.6 798.8h1.3M1286.3 794.1h1.3M1274.6 790.4h1.3M1272.6 805.3h1.3M1300.4 794.6h1.3M1280.7 791.5h1.3M1279.6 784.4h1.3M1280.5 800.9h1.3M1275.7 803.6h1.3M1298.4 780.1h1.3M1272.3 794.9h1.3M1296.0 795.9h1.3M1286.1 788.9h1.3M1270.2 799.0h1.3M1271.7 796.5h1.3M1296.9 796.3h1.3M1275.9 791.8h1.3M1291.2 786.7h1.3M1290.8 792.2h1.3M1272.6 790.6h1.3M1277.7 791.7h1.3M1297.9 793.0h1.3M1287.7 779.4h1.3M1285.5 801.7h1.3M1280.0 801.7h1.3M1268.9 805.4h1.3M1276.2 806.8h1.3M1272.5 798.7h1.3M1293.4 791.2h1.3M1302.9 789.4h1.3M1294.1 790.0h1.3M1268.9 801.1h1.3M1288.6 794.8h1.3M1269.3 793.6h1.3M1292.7 798.5h1.3M1297.5 801.3h1.3M1273.5 796.4h1.3M1300.1 794.1h1.3M1285.0 806.0h1.3M1280.5 788.5h1.3M1296.1 785.7h1.3M1274.2 806.0h1.3M1266.3 800.3h1.3M1288.9 790.2h1.3M1302.0 788.5h1.3M1269.2 802.5h1.3M1300.2 794.7h1.3M1288.9 795.4h1.3M1293.2 789.8h1.3M1277.0 808.6h1.3M1292.8 787.1h1.3M1292.2 789.2h1.3M1278.7 798.0h1.3M1298.9 791.2h1.3M1292.9 788.1h1.3M1303.0 783.2h1.3M1302.7 795.7h1.3M1279.3 804.6h1.3M1274.2 804.0h1.3M1300.9 781.6h1.3M1291.7 781.4h1.3M1276.6 807.5h1.3M1290.3 783.5h1.3M1280.9 778.9h1.3M1276.0 801.9h1.3M1297.0 783.6h1.3M1286.1 800.3h1.3M1282.3 803.7h1.3M1286.2 805.8h1.3M1267.0 799.1h1.3M1292.2 788.1h1.3M1286.9 804.3h1.3M1289.2 792.7h1.3M1276.5 807.1h1.3M1282.9 794.3h1.3M1305.1 779.5h1.3M1296.9 785.4h1.3M1298.0 789.8h1.3M1305.1 786.5h1.3M1299.2 799.4h1.3M1305.3 795.4h1.3M1278.8 805.9h1.3M1273.0 788.7h1.3M1264.8 790.6h1.3M1278.2 798.9h1.3M1294.2 787.1h1.3M1289.3 783.2h1.3M1293.1 791.4h1.3M1296.7 788.9h1.3M1273.7 798.0h1.3M1285.3 784.0h1.3M1270.5 788.8h1.3M1300.6 789.2h1.3M1286.7 802.1h1.3M1295.1 788.6h1.3M1272.3 792.9h1.3M1297.0 786.3h1.3M1272.0 798.9h1.3M1297.4 791.1h1.3M1285.8 782.3h1.3M1300.1 782.6h1.3M1266.9 788.6h1.3M1280.1 783.8h1.3M1282.8 782.3h1.3M1269.2 796.7h1.3M1266.1 803.5h1.3M1295.2 804.2h1.3M1293.6 790.5h1.3M1268.3 808.2h1.3M1310.7 778.9h1.3M1302.1 792.8h1.3M1289.0 782.5h1.3M1266.9 790.2h1.3M1267.8 798.4h1.3M1303.4 791.1h1.3M1281.8 802.9h1.3M1275.8 798.8h1.3M1289.4 786.8h1.3M1301.2 779.0h1.3M1272.0 796.1h1.3M1293.0 785.4h1.3M1302.5 792.4h1.3M1272.9 808.8h1.3M1272.4 791.2h1.3M1289.6 791.7h1.3M1293.9 800.1h1.3M1294.2 788.2h1.3M1294.1 784.1h1.3M1276.0 809.3h1.3M1286.3 785.0h1.3M1282.4 797.8h1.3M1285.3 783.4h1.3M1293.5 784.0h1.3M1280.1 786.3h1.3M1293.2 795.5h1.3M1288.4 800.0h1.3M1272.2 804.8h1.3M1298.8 792.3h1.3M1283.1 798.3h1.3M1262.5 804.8h1.3M1280.3 796.6h1.3M1270.1 794.8h1.3M1287.0 783.4h1.3M1282.2 792.5h1.3M1275.1 798.6h1.3M1306.9 787.8h1.3M1283.8 802.6h1.3M1305.8 789.8h1.3M1278.7 785.1h1.3M1292.3 803.8h1.3M1277.4 789.6h1.3M1304.9 796.7h1.3M1296.6 798.8h1.3M1291.3 801.3h1.3M1293.8 801.8h1.3M1295.1 793.0h1.3M1275.5 794.5h1.3M1284.4 807.8h1.3M1285.7 788.6h1.3M1284.0 808.3h1.3M1278.9 797.8h1.3M1280.7 801.6h1.3M1288.2 800.8h1.3M1270.7 790.6h1.3M1284.5 781.8h1.3M1294.0 803.5h1.3M1269.3 789.5h1.3M1297.4 784.3h1.3M1302.3 782.9h1.3M1268.3 795.9h1.3M1300.5 798.9h1.3M1285.7 786.7h1.3M1283.1 802.2h1.3M1281.3 784.3h1.3M1293.0 790.1h1.3M1294.4 780.8h1.3M1283.5 789.6h1.3M1275.7 805.2h1.3M1298.9 795.4h1.3M1279.3 789.3h1.3M1272.6 791.3h1.3M1298.0 791.7h1.3M1280.7 789.1h1.3M1291.2 798.0h1.3M1282.6 791.2h1.3M1279.9 782.8h1.3M1305.3 784.7h1.3M1275.4 790.6h1.3M1282.7 782.0h1.3M1292.1 779.6h1.3M1278.5 796.3h1.3M1270.8 790.1h1.3M1300.4 795.3h1.3M1302.0 790.6h1.3M1297.5 794.6h1.3M1304.7 785.1h1.3M1271.9 791.7h1.3M1292.2 806.8h1.3M1293.8 788.0h1.3M1293.5 800.9h1.3M1276.9 800.8h1.3M1289.0 796.0h1.3M1276.7 791.3h1.3M1263.7 802.9h1.3M1271.4 804.1h1.3M1274.4 801.7h1.3M1290.0 796.4h1.3M1296.8 782.6h1.3M1270.1 792.0h1.3M1291.0 797.5h1.3M1278.3 791.9h1.3M1298.2 800.4h1.3M1299.7 784.0h1.3M1294.7 793.0h1.3M1291.9 799.0h1.3M1291.0 800.0h1.3M1284.2 784.9h1.3M1274.8 794.2h1.3M1268.6 800.1h1.3M1279.7 807.0h1.3M1269.3 793.2h1.3M1273.2 803.7h1.3M1281.4 789.6h1.3M1287.9 801.7h1.3M1263.4 805.8h1.3M1283.4 794.5h1.3M1268.2 803.6h1.3M1282.9 787.5h1.3M1291.4 790.6h1.3M1276.7 801.7h1.3M1269.5 797.3h1.3M1282.4 806.4h1.3M1294.8 788.0h1.3M1275.6 790.3h1.3M1262.8 799.3h1.3M1276.2 796.0h1.3M1297.4 789.6h1.3M1271.9 790.2h1.3M1297.2 788.8h1.3M1277.9 803.4h1.3M1275.0 806.3h1.3M1278.7 789.0h1.3M1284.1 787.7h1.3M1294.2 793.9h1.3M1301.8 785.5h1.3M1291.2 784.1h1.3M1270.4 806.9h1.3M1302.4 789.7h1.3M1297.1 782.1h1.3M1279.2 803.6h1.3M1296.9 785.8h1.3M1293.3 788.4h1.3M1275.6 790.2h1.3M1289.7 782.9h1.3M1291.7 778.7h1.3M1293.8 798.2h1.3M1287.1 799.0h1.3M1296.4 798.1h1.3M1278.0 788.0h1.3M1307.9 783.8h1.3M1273.5 800.5h1.3M1294.2 786.7h1.3M1274.5 802.2h1.3M1286.7 804.4h1.3M1270.2 799.9h1.3M1284.9 777.8h1.3M1280.1 788.5h1.3M1281.7 801.4h1.3M1281.3 785.4h1.3M1277.2 786.4h1.3M1289.5 803.2h1.3M1279.9 781.9h1.3M1293.9 798.1h1.3M1297.6 801.4h1.3M1298.2 792.5h1.3M1274.7 805.8h1.3M1265.9 795.7h1.3M1270.7 793.4h1.3M1283.4 805.8h1.3M1294.4 785.4h1.3M1286.7 785.9h1.3M1286.1 798.3h1.3M1282.9 786.0h1.3M1271.2 803.5h1.3M1277.3 789.0h1.3M1268.8 794.9h1.3M1301.6 791.1h1.3M1295.2 785.3h1.3M1296.3 792.2h1.3M1287.9 804.1h1.3M1271.7 805.3h1.3M1275.3 794.2h1.3M1279.1 806.2h1.3M1282.1 793.7h1.3M1282.5 788.4h1.3M1298.4 785.7h1.3M1296.6 778.9h1.3M1267.1 803.8h1.3M1290.2 783.7h1.3M1275.8 789.0h1.3M1273.4 805.5h1.3M1273.8 802.5h1.3M1304.9 780.4h1.3M1290.4 784.3h1.3M1298.6 797.0h1.3M1294.3 782.3h1.3M1285.0 805.9h1.3M1285.9 785.4h1.3M1303.6 785.4h1.3M1280.3 795.3h1.3M1273.9 804.6h1.3M1282.2 796.4h1.3M1285.8 779.3h1.3M1297.1 796.8h1.3M1296.1 793.4h1.3M1286.1 798.0h1.3M1275.1 795.4h1.3M1283.1 797.5h1.3M1282.3 799.9h1.3M1273.4 791.8h1.3M1292.3 796.8h1.3M1286.8 803.8h1.3M1296.2 795.0h1.3M1266.4 801.5h1.3M1278.5 805.1h1.3M1273.1 785.4h1.3M1272.0 785.5h1.3M1294.6 799.9h1.3M1279.2 792.9h1.3M1268.5 799.1h1.3M1274.5 799.4h1.3M1291.0 794.2h1.3M1282.1 783.4h1.3M1268.0 802.2h1.3M1282.6 808.2h1.3M1267.6 797.9h1.3M1287.1 795.5h1.3M1274.7 808.6h1.3M1272.7 800.9h1.3M1269.5 800.9h1.3M1268.8 793.2h1.3M1268.1 803.7h1.3M1279.5 797.4h1.3M1274.2 787.6h1.3M1299.7 788.3h1.3M1280.6 805.5h1.3M1283.9 788.3h1.3M1297.2 791.2h1.3M1285.1 807.8h1.3M1279.8 800.1h1.3M1279.2 793.8h1.3M1300.1 792.1h1.3M1284.8 800.8h1.3M1290.4 803.6h1.3M1290.0 779.6h1.3M1284.1 783.9h1.3M1271.0 795.5h1.3M1296.7 803.5h1.3M1301.7 779.8h1.3M1267.1 801.8h1.3M1269.2 800.7h1.3M1290.5 782.1h1.3M1274.0 787.0h1.3M1278.9 787.5h1.3M1271.0 797.2h1.3M1299.4 788.8h1.3M1306.0 781.6h1.3M1272.5 799.1h1.3M1279.3 798.6h1.3M1306.8 793.0h1.3M1272.6 801.3h1.3M1273.6 787.1h1.3M1280.2 802.2h1.3M1269.9 801.2h1.3M1288.6 802.1h1.3M1292.5 800.0h1.3M1292.9 781.6h1.3M1276.0 790.4h1.3M1291.7 792.6h1.3M1292.4 782.5h1.3M1282.2 788.3h1.3M1297.0 796.8h1.3M1293.7 803.3h1.3M1294.0 804.2h1.3M1278.4 788.3h1.3M1288.4 803.0h1.3M1277.4 804.5h1.3M1287.7 804.2h1.3M1293.8 787.4h1.3M1273.1 799.9h1.3M1273.3 788.9h1.3M1280.2 788.3h1.3M1274.8 794.8h1.3M1294.3 789.8h1.3M1300.1 788.7h1.3M1278.2 790.4h1.3M1278.6 790.6h1.3M1285.6 807.9h1.3M1269.0 789.4h1.3M1294.7 785.9h1.3M1295.4 782.3h1.3M1293.6 787.0h1.3M1303.5 795.2h1.3M1300.0 789.7h1.3M1267.1 802.8h1.3M1303.7 787.9h1.3M1280.1 785.4h1.3M1295.3 784.6h1.3M1268.7 792.0h1.3M1284.3 781.7h1.3M1279.2 803.6h1.3M1277.3 803.9h1.3M1276.5 804.6h1.3M1275.6 807.8h1.3M1265.9 791.7h1.3M1292.7 787.0h1.3M1295.5 791.2h1.3M1270.3 799.7h1.3M1273.8 797.8h1.3M1283.2 798.7h1.3M1296.0 799.8h1.3M1302.1 800.3h1.3M1274.9 795.5h1.3M1280.8 790.2h1.3M1275.1 796.5h1.3M1294.7 780.5h1.3M1292.4 781.8h1.3M1282.7 787.4h1.3M1302.1 786.6h1.3M1269.4 795.7h1.3M1293.2 786.2h1.3M1280.7 803.0h1.3M1287.9 806.2h1.3M1292.6 802.2h1.3M1294.9 782.5h1.3M1273.7 796.8h1.3M1280.6 804.3h1.3M1273.7 807.2h1.3M1280.6 782.9h1.3M1302.0 791.4h1.3M1270.0 801.1h1.3M1288.7 784.5h1.3M1284.4 779.1h1.3M1276.5 793.1h1.3M1286.4 802.9h1.3M1284.6 800.8h1.3M1291.4 795.9h1.3M1298.9 797.0h1.3M1284.3 785.9h1.3M1268.2 793.7h1.3M1283.8 801.4h1.3M1303.4 792.4h1.3M1274.4 805.3h1.3M1269.0 793.5h1.3M1277.1 787.2h1.3M1276.8 788.9h1.3M1309.1 785.3h1.3M1287.3 796.6h1.3M1296.6 791.0h1.3M1288.2 805.4h1.3M1286.6 788.5h1.3M1297.7 791.2h1.3M1281.3 788.5h1.3M1303.5 786.6h1.3M1303.8 788.2h1.3M1272.8 794.1h1.3M1279.0 787.8h1.3M1299.5 785.6h1.3M1293.3 787.7h1.3M1300.4 782.9h1.3M1295.9 788.3h1.3M1289.3 804.1h1.3M1301.7 796.7h1.3M1287.1 787.1h1.3M1290.8 780.1h1.3M1299.6 786.1h1.3M1287.1 783.2h1.3M1280.9 781.9h1.3M1321.7 777.8h1.3M1276.4 803.7h1.3M1294.7 787.3h1.3M1293.9 780.7h1.3M1279.4 803.3h1.3M1291.1 784.9h1.3M1284.4 782.2h1.3M1288.3 801.4h1.3M1300.7 785.8h1.3M1297.0 793.6h1.3M1282.4 803.5h1.3M1267.2 794.3h1.3M1290.1 796.2h1.3M1280.7 791.2h1.3M1277.4 788.9h1.3M1298.7 789.5h1.3M1285.5 794.9h1.3M1301.8 783.6h1.3M1279.4 784.9h1.3M1288.9 780.7h1.3M1265.9 799.0h1.3M1300.9 792.9h1.3M1267.9 797.0h1.3M1305.6 780.5h1.3M1280.3 805.9h1.3M1297.5 788.8h1.3M1288.7 791.4h1.3M1295.1 797.5h1.3M1288.8 782.2h1.3M1271.5 789.7h1.3M1300.2 799.6h1.3M1288.5 783.8h1.3M1280.2 792.6h1.3M1296.9 793.3h1.3M1295.9 802.6h1.3M1306.5 789.6h1.3M1278.0 788.5h1.3M1287.9 789.5h1.3M1288.3 787.3h1.3M1284.0 783.8h1.3M1276.1 802.1h1.3M1274.1 800.4h1.3M1304.3 788.8h1.3M1302.8 787.0h1.3M1284.9 783.2h1.3M1291.6 792.1h1.3M1309.4 783.7h1.3M1299.2 790.1h1.3M1280.9 802.1h1.3M1294.0 795.1h1.3M1275.8 808.0h1.3M1309.6 788.3h1.3M1299.9 791.6h1.3M1299.6 783.4h1.3M1278.1 801.7h1.3M1299.7 784.6h1.3M1298.6 785.4h1.3M1293.2 786.7h1.3M1285.4 784.3h1.3M1289.1 802.9h1.3M1294.9 783.2h1.3M1298.0 800.1h1.3M1284.0 777.2h1.3M1295.5 783.1h1.3M1297.4 784.7h1.3M1309.8 786.0h1.3M1275.5 791.3h1.3M1285.9 786.6h1.3M1299.6 791.9h1.3M1307.5 778.6h1.3" stroke="#2fe060" stroke-width="1.3" fill="none"/>
<path d="M1277.1 792.5h1.3M1292.1 786.4h1.3M1292.5 785.4h1.3M1281.2 795.4h1.3M1290.7 793.9h1.3M1293.5 791.4h1.3M1289.7 794.1h1.3M1275.0 793.6h1.3M1281.4 803.7h1.3M1287.1 794.1h1.3M1276.1 800.7h1.3M1286.9 796.6h1.3M1286.0 803.5h1.3M1294.3 793.6h1.3M1266.1 802.2h1.3M1290.3 787.2h1.3M1293.4 792.3h1.3M1287.4 791.8h1.3M1292.8 791.1h1.3M1280.4 787.7h1.3M1280.5 799.9h1.3M1283.9 797.2h1.3M1288.0 796.5h1.3M1286.1 793.7h1.3M1284.5 798.3h1.3M1294.4 791.8h1.3M1275.8 803.1h1.3M1272.3 792.7h1.3M1280.4 792.7h1.3M1291.4 792.0h1.3M1293.2 801.9h1.3M1285.2 789.9h1.3M1285.4 795.0h1.3M1284.1 798.5h1.3M1283.6 790.2h1.3M1283.7 784.9h1.3M1290.7 797.5h1.3M1280.9 798.3h1.3M1291.7 792.7h1.3M1283.7 796.6h1.3M1281.1 785.8h1.3M1278.0 793.6h1.3M1266.9 797.0h1.3M1265.9 800.7h1.3M1286.0 800.4h1.3M1289.1 792.5h1.3M1267.2 789.4h1.3M1282.2 796.5h1.3M1293.4 799.1h1.3M1287.1 789.1h1.3M1284.5 794.3h1.3M1291.1 789.4h1.3M1290.4 795.8h1.3M1277.8 806.2h1.3M1294.2 788.4h1.3M1292.7 798.7h1.3M1291.4 792.3h1.3M1293.4 793.1h1.3M1278.3 792.5h1.3M1279.7 798.3h1.3M1288.2 798.4h1.3M1282.3 794.3h1.3M1285.2 796.2h1.3M1279.9 793.0h1.3M1288.9 787.5h1.3M1287.7 793.4h1.3M1290.8 790.2h1.3M1272.4 800.5h1.3M1280.8 794.5h1.3M1291.1 785.4h1.3M1286.2 793.1h1.3M1286.5 786.5h1.3M1296.9 794.7h1.3M1282.8 796.6h1.3M1273.6 800.0h1.3M1285.1 799.6h1.3M1277.5 797.8h1.3M1280.8 791.9h1.3M1282.4 792.4h1.3M1293.9 800.8h1.3M1294.2 791.3h1.3M1288.7 789.2h1.3M1275.1 800.6h1.3M1285.3 790.5h1.3M1294.8 794.7h1.3M1288.2 794.4h1.3M1284.4 800.7h1.3M1283.5 800.6h1.3M1287.7 803.0h1.3M1289.3 793.6h1.3M1280.1 795.5h1.3M1286.3 799.1h1.3M1280.2 801.0h1.3M1281.3 799.7h1.3M1280.5 786.2h1.3M1285.5 795.0h1.3M1286.6 798.0h1.3M1289.3 797.8h1.3M1272.2 793.6h1.3M1289.4 791.3h1.3M1299.1 795.2h1.3M1281.8 793.6h1.3M1287.9 800.4h1.3M1274.6 801.3h1.3M1289.6 792.0h1.3M1284.9 788.3h1.3M1274.0 804.0h1.3M1279.9 795.9h1.3M1290.2 799.0h1.3M1286.8 795.8h1.3M1303.4 790.4h1.3M1279.1 797.8h1.3M1291.1 798.1h1.3M1282.8 796.6h1.3M1285.0 794.0h1.3M1287.8 793.3h1.3M1301.7 789.7h1.3M1291.1 790.0h1.3M1282.9 788.7h1.3M1285.8 795.3h1.3M1299.2 797.0h1.3M1293.5 795.6h1.3M1285.6 793.0h1.3M1276.8 801.7h1.3M1292.7 794.1h1.3M1297.1 792.4h1.3M1294.3 793.4h1.3M1297.1 795.3h1.3M1272.4 794.8h1.3M1296.1 802.0h1.3M1300.4 792.7h1.3M1275.7 794.3h1.3M1291.3 786.4h1.3M1285.0 795.2h1.3M1286.7 791.3h1.3M1277.8 796.4h1.3M1294.5 798.1h1.3M1267.8 797.2h1.3M1288.2 798.7h1.3M1295.6 788.1h1.3M1287.8 797.3h1.3M1286.0 802.5h1.3M1293.0 783.6h1.3M1285.3 786.9h1.3M1292.7 782.8h1.3M1275.2 804.4h1.3M1292.9 800.1h1.3M1280.6 794.9h1.3M1277.7 799.5h1.3M1281.2 793.2h1.3M1287.1 794.7h1.3M1297.1 786.9h1.3M1278.2 797.2h1.3M1285.2 785.3h1.3M1285.8 787.7h1.3M1280.2 790.4h1.3M1278.4 792.2h1.3M1270.0 790.2h1.3M1294.6 796.5h1.3M1276.6 796.5h1.3M1296.5 791.1h1.3M1290.1 783.0h1.3M1289.5 792.1h1.3M1281.2 794.2h1.3M1282.8 801.3h1.3M1294.5 781.1h1.3M1286.0 791.2h1.3M1288.2 786.6h1.3M1287.5 786.6h1.3M1287.7 796.3h1.3M1281.4 795.0h1.3M1283.8 794.7h1.3M1284.4 802.1h1.3M1291.5 798.9h1.3M1275.1 795.5h1.3M1291.4 793.1h1.3M1279.9 790.3h1.3M1287.3 786.5h1.3M1292.5 788.7h1.3M1284.4 785.0h1.3M1272.1 800.8h1.3M1294.2 793.6h1.3M1289.2 793.2h1.3M1272.2 797.0h1.3M1293.9 799.6h1.3M1289.0 794.1h1.3M1293.7 797.1h1.3M1275.5 799.0h1.3M1275.8 799.3h1.3M1282.6 786.5h1.3M1278.5 802.9h1.3M1281.2 801.3h1.3M1283.6 790.5h1.3M1271.7 793.6h1.3M1280.4 797.5h1.3M1277.2 787.4h1.3M1297.7 789.1h1.3M1281.2 795.0h1.3M1286.0 799.0h1.3M1271.3 795.6h1.3M1282.6 789.1h1.3M1293.8 793.5h1.3M1294.9 792.7h1.3M1285.6 802.0h1.3M1282.1 790.8h1.3M1291.8 790.6h1.3M1289.1 786.1h1.3M1280.3 786.3h1.3M1280.5 791.0h1.3M1280.1 795.1h1.3M1286.8 786.5h1.3M1270.2 798.1h1.3M1291.4 785.4h1.3M1285.6 785.6h1.3M1294.0 786.6h1.3M1288.4 787.4h1.3M1286.3 786.9h1.3M1288.5 789.4h1.3M1277.2 793.9h1.3M1290.2 790.8h1.3" stroke="#a8ee20" stroke-width="1.3" fill="none"/>
<path d="M1287.2 793.7h1.3M1286.7 793.6h1.3M1282.7 796.5h1.3M1286.1 792.2h1.3M1275.7 798.8h1.3M1288.5 795.0h1.3M1277.8 801.8h1.3M1290.2 790.5h1.3M1275.4 801.1h1.3M1278.4 803.5h1.3M1281.2 796.3h1.3M1281.5 794.0h1.3M1275.5 793.9h1.3M1288.0 795.1h1.3M1286.5 789.0h1.3M1299.5 793.2h1.3M1283.1 791.4h1.3M1288.8 795.8h1.3M1279.9 794.3h1.3M1285.8 795.4h1.3M1287.5 787.5h1.3M1290.1 794.7h1.3M1278.4 793.4h1.3M1288.6 789.7h1.3M1279.1 795.0h1.3M1280.5 795.9h1.3M1280.6 793.9h1.3M1294.7 790.2h1.3M1287.0 795.9h1.3M1288.5 797.4h1.3M1276.0 793.2h1.3M1288.8 792.7h1.3M1286.8 799.0h1.3M1281.2 798.6h1.3M1288.2 790.4h1.3M1291.8 789.2h1.3M1286.7 799.7h1.3M1281.1 787.7h1.3M1298.9 787.5h1.3M1270.6 792.7h1.3M1278.2 796.3h1.3M1284.8 788.4h1.3M1282.5 796.5h1.3M1277.1 795.4h1.3M1293.2 789.5h1.3M1285.9 789.1h1.3M1291.1 790.7h1.3M1280.0 792.9h1.3M1281.2 793.4h1.3M1286.9 793.3h1.3M1283.0 787.5h1.3M1290.6 791.8h1.3M1289.1 785.4h1.3M1282.7 795.7h1.3M1274.5 794.9h1.3M1280.7 793.4h1.3M1280.4 795.8h1.3M1289.3 786.6h1.3M1281.4 797.2h1.3M1283.8 800.1h1.3M1282.4 794.3h1.3M1283.7 791.0h1.3M1287.8 793.6h1.3M1284.7 795.0h1.3M1282.5 797.9h1.3M1283.7 800.6h1.3M1295.0 783.2h1.3M1283.8 797.4h1.3M1277.9 796.0h1.3M1287.1 793.4h1.3M1273.3 797.7h1.3M1291.9 792.6h1.3M1290.2 801.3h1.3M1276.0 798.7h1.3M1277.8 793.5h1.3M1294.1 791.9h1.3M1293.7 783.2h1.3M1288.1 804.7h1.3M1282.2 794.0h1.3M1277.5 797.4h1.3M1288.2 790.8h1.3M1286.8 802.8h1.3M1284.9 794.6h1.3M1285.0 805.7h1.3M1286.6 789.9h1.3M1290.2 782.3h1.3M1291.0 793.1h1.3M1290.1 795.4h1.3M1285.8 794.5h1.3M1294.9 789.4h1.3M1284.4 801.0h1.3M1286.5 793.8h1.3M1280.9 798.3h1.3M1283.1 798.8h1.3M1279.7 797.2h1.3M1295.5 794.9h1.3M1281.8 796.5h1.3M1281.2 801.4h1.3M1278.8 794.3h1.3M1278.8 801.1h1.3M1283.9 782.6h1.3M1284.8 786.8h1.3M1284.8 787.5h1.3M1292.9 790.0h1.3M1284.6 785.4h1.3M1297.8 788.0h1.3M1278.8 796.4h1.3M1284.9 795.7h1.3M1297.5 788.9h1.3M1287.9 783.7h1.3M1280.7 803.0h1.3M1291.5 797.4h1.3M1280.4 799.2h1.3M1268.4 797.3h1.3M1290.4 791.1h1.3M1294.6 789.7h1.3M1274.9 794.1h1.3M1294.4 787.9h1.3M1282.2 799.5h1.3M1273.6 793.1h1.3M1297.7 789.8h1.3M1284.9 794.4h1.3M1292.9 799.4h1.3M1274.2 793.8h1.3M1277.2 794.9h1.3M1288.8 791.8h1.3M1277.7 795.4h1.3M1297.6 797.3h1.3M1282.6 790.9h1.3M1281.9 787.2h1.3M1288.6 795.6h1.3M1292.6 793.3h1.3" stroke="#f8e410" stroke-width="1.3" fill="none"/>
<path d="M1284.1 793.7h1.3M1273.3 793.7h1.3M1288.5 795.7h1.3M1280.7 797.9h1.3M1282.2 792.8h1.3M1276.1 794.7h1.3M1283.8 785.7h1.3M1281.3 800.5h1.3M1291.1 792.4h1.3M1283.9 794.9h1.3M1290.7 795.6h1.3M1282.6 793.9h1.3M1287.4 794.8h1.3M1279.2 799.4h1.3M1289.7 796.3h1.3M1275.7 799.1h1.3M1289.2 791.4h1.3M1283.7 794.3h1.3M1283.0 793.5h1.3M1286.4 797.0h1.3M1281.0 796.3h1.3M1284.9 790.7h1.3M1281.7 796.4h1.3M1284.8 799.4h1.3M1285.5 789.7h1.3M1283.0 802.0h1.3M1283.1 794.0h1.3M1289.3 792.3h1.3M1286.0 785.2h1.3M1286.6 788.2h1.3M1287.4 789.4h1.3M1287.1 792.4h1.3M1288.0 791.7h1.3M1282.1 793.7h1.3M1283.0 794.1h1.3M1282.4 792.1h1.3M1282.0 800.7h1.3M1284.0 800.1h1.3M1296.9 795.2h1.3M1281.5 794.7h1.3M1283.7 798.9h1.3M1283.8 795.1h1.3M1285.2 788.5h1.3M1292.6 787.2h1.3M1289.4 792.1h1.3M1292.3 795.9h1.3M1291.2 792.2h1.3M1279.5 796.2h1.3M1287.8 788.2h1.3M1280.4 790.8h1.3M1282.8 790.2h1.3M1288.9 790.0h1.3M1277.5 791.4h1.3M1288.6 784.3h1.3M1283.1 791.8h1.3M1284.4 790.6h1.3M1282.9 789.4h1.3M1287.5 793.0h1.3M1278.3 798.7h1.3M1285.9 796.0h1.3M1293.3 787.7h1.3M1280.4 793.3h1.3M1275.7 795.5h1.3M1291.8 785.7h1.3M1288.4 799.5h1.3M1287.5 795.7h1.3M1282.5 794.2h1.3M1288.4 790.6h1.3M1291.2 789.6h1.3M1283.7 799.3h1.3M1278.3 794.1h1.3M1283.3 789.5h1.3M1291.8 786.1h1.3M1289.4 792.2h1.3M1293.0 793.5h1.3M1289.4 791.8h1.3" stroke="#ff8a10" stroke-width="1.3" fill="none"/>
<path d="M1281.0 797.3h1.3M1288.6 801.1h1.3M1279.7 795.6h1.3M1283.4 788.6h1.3M1281.2 800.5h1.3M1277.1 794.8h1.3M1284.4 788.8h1.3M1288.1 794.1h1.3M1285.0 794.1h1.3M1282.9 797.5h1.3M1288.1 793.6h1.3M1272.5 796.8h1.3M1275.8 800.7h1.3M1288.6 798.3h1.3M1285.7 787.8h1.3M1273.6 798.6h1.3M1284.0 789.3h1.3M1286.9 791.8h1.3M1280.1 790.5h1.3M1288.0 797.6h1.3M1280.6 797.8h1.3M1281.3 792.8h1.3M1281.0 793.6h1.3M1290.1 793.5h1.3M1287.4 790.2h1.3M1293.2 793.7h1.3M1289.6 793.5h1.3M1286.8 793.6h1.3M1288.7 794.8h1.3M1287.2 790.0h1.3M1291.5 793.1h1.3M1280.5 792.9h1.3M1286.7 797.9h1.3M1289.2 793.4h1.3M1290.0 793.0h1.3M1281.1 795.2h1.3M1284.5 798.6h1.3M1290.7 799.1h1.3M1277.2 794.7h1.3M1284.6 790.7h1.3M1274.1 798.5h1.3M1284.2 788.0h1.3M1284.7 788.3h1.3M1284.2 798.2h1.3M1284.7 791.0h1.3M1293.4 792.3h1.3M1285.5 792.5h1.3M1285.3 798.1h1.3M1281.6 793.7h1.3M1280.7 796.0h1.3M1278.3 792.4h1.3M1286.4 802.2h1.3M1281.9 791.4h1.3M1283.2 794.7h1.3M1276.2 795.0h1.3M1279.3 796.2h1.3M1285.3 800.6h1.3M1289.7 785.1h1.3M1284.8 792.3h1.3M1282.6 797.1h1.3M1285.8 793.6h1.3M1289.9 794.0h1.3M1292.8 789.6h1.3" stroke="#e82a08" stroke-width="1.3" fill="none"/>
<line x1="1358.25" y1="565.00" x2="1358.25" y2="842.00" stroke="#333" stroke-width="1.3" stroke-linecap="butt"/>
<line x1="1223.00" y1="715.75" x2="1521.25" y2="715.75" stroke="#333" stroke-width="1.3" stroke-linecap="butt"/>
<rect x="1223" y="565" width="298.25" height="277.00" fill="none" stroke="#000" stroke-width="1.9"/>
<path d="M1284.5 842v8.5M1306.5 842v4.5M1319.5 842v4.5M1328.5 842v4.5M1335.5 842v4.5M1341.5 842v4.5M1346.5 842v4.5M1350.5 842v4.5M1354.5 842v4.5M1357.5 842v8.5M1378.5 842v4.5M1390.5 842v4.5M1398.5 842v4.5M1405.5 842v4.5M1410.5 842v4.5M1415.5 842v4.5M1419.5 842v4.5M1423.5 842v4.5M1426.5 842v8.5M1446.5 842v4.5M1457.5 842v4.5M1466.5 842v4.5M1472.5 842v4.5M1477.5 842v4.5M1482.5 842v4.5M1486.5 842v4.5M1489.5 842v4.5M1492.5 842v8.5M1512.5 842v4.5M1252.5 842v8.5M1257.5 842v4.5M1262.5 842v4.5M1267.5 842v4.5M1271.5 842v4.5M1275.5 842v4.5M1279.5 842v4.5M1247.5 842v4.5M1243.5 842v4.5M1238.5 842v4.5M1234.5 842v4.5M1229.5 842v4.5M1225.5 842v4.5M1223 784.5h-8.5M1223 764.5h-4.5M1223 752.5h-4.5M1223 744.5h-4.5M1223 737.5h-4.5M1223 732.5h-4.5M1223 727.5h-4.5M1223 723.5h-4.5M1223 720.5h-4.5M1223 717.5h-8.5M1223 698.5h-4.5M1223 687.5h-4.5M1223 679.5h-4.5M1223 672.5h-4.5M1223 667.5h-4.5M1223 663.5h-4.5M1223 659.5h-4.5M1223 656.5h-4.5M1223 653.5h-8.5M1223 635.5h-4.5M1223 624.5h-4.5M1223 616.5h-4.5M1223 610.5h-4.5M1223 605.5h-4.5M1223 601.5h-4.5M1223 597.5h-4.5M1223 594.5h-4.5M1223 592.5h-8.5M1223 573.5h-4.5M1223 814.5h-8.5M1223 809.5h-4.5M1223 805.5h-4.5M1223 800.5h-4.5M1223 796.5h-4.5M1223 792.5h-4.5M1223 788.5h-4.5M1223 818.5h-4.5M1223 823.5h-4.5M1223 827.5h-4.5M1223 831.5h-4.5M1223 835.5h-4.5M1223 840.5h-4.5" stroke="#111" stroke-width="1.25" fill="none"/>
<path d="M1252.5 842v8.5M1223 815.5h-8.5M1223 842h-8.5M1223 842v8.5" stroke="#111" stroke-width="2.6" fill="none"/>
<text transform="translate(1276.87,877.20) scale(1.0444,1)" font-size="14.2" fill="#2c2c2c" xml:space="preserve" stroke="#2c2c2c" stroke-width="0.25">10</text>
<text transform="translate(1294.15,867.30) scale(0.9500,1)" font-size="14.5" fill="#2c2c2c" xml:space="preserve" stroke="#2c2c2c" stroke-width="0.25">2</text>
<text transform="translate(1184.82,792.80) scale(1.0513,1)" font-size="14.2" fill="#2c2c2c" xml:space="preserve" stroke="#2c2c2c" stroke-width="0.25">10</text>
<text transform="translate(1202.20,782.70) scale(0.9500,1)" font-size="14.5" fill="#2c2c2c" xml:space="preserve" stroke="#2c2c2c" stroke-width="0.25">2</text>
<text transform="translate(1349.37,877.20) scale(1.0444,1)" font-size="14.2" fill="#2c2c2c" xml:space="preserve" stroke="#2c2c2c" stroke-width="0.25">10</text>
<text transform="translate(1366.87,867.30) scale(0.9500,1)" font-size="14.5" fill="#2c2c2c" xml:space="preserve" stroke="#2c2c2c" stroke-width="0.25">3</text>
<text transform="translate(1184.82,725.80) scale(1.0513,1)" font-size="14.2" fill="#2c2c2c" xml:space="preserve" stroke="#2c2c2c" stroke-width="0.25">10</text>
<text transform="translate(1202.42,715.70) scale(0.9500,1)" font-size="14.5" fill="#2c2c2c" xml:space="preserve" stroke="#2c2c2c" stroke-width="0.25">3</text>
<text transform="translate(1418.07,877.20) scale(1.0444,1)" font-size="14.2" fill="#2c2c2c" xml:space="preserve" stroke="#2c2c2c" stroke-width="0.25">10</text>
<text transform="translate(1435.78,867.30) scale(0.9500,1)" font-size="14.5" fill="#2c2c2c" xml:space="preserve" stroke="#2c2c2c" stroke-width="0.25">4</text>
<text transform="translate(1184.82,662.05) scale(1.0513,1)" font-size="14.2" fill="#2c2c2c" xml:space="preserve" stroke="#2c2c2c" stroke-width="0.25">10</text>
<text transform="translate(1202.63,651.95) scale(0.9500,1)" font-size="14.5" fill="#2c2c2c" xml:space="preserve" stroke="#2c2c2c" stroke-width="0.25">4</text>
<text transform="translate(1484.37,877.20) scale(1.0444,1)" font-size="14.2" fill="#2c2c2c" xml:space="preserve" stroke="#2c2c2c" stroke-width="0.25">10</text>
<text transform="translate(1501.87,867.30) scale(0.9500,1)" font-size="14.5" fill="#2c2c2c" xml:space="preserve" stroke="#2c2c2c" stroke-width="0.25">5</text>
<text transform="translate(1184.82,600.30) scale(1.0513,1)" font-size="14.2" fill="#2c2c2c" xml:space="preserve" stroke="#2c2c2c" stroke-width="0.25">10</text>
<text transform="translate(1202.42,590.20) scale(0.9500,1)" font-size="14.5" fill="#2c2c2c" xml:space="preserve" stroke="#2c2c2c" stroke-width="0.25">5</text>
<text transform="translate(1240.81,877.20) scale(1.0500,1)" font-size="14.2" fill="#2c2c2c" xml:space="preserve" stroke="#2c2c2c" stroke-width="0.25">0</text>
<text transform="translate(1193.81,822.70) scale(1.0500,1)" font-size="14.2" fill="#2c2c2c" xml:space="preserve" stroke="#2c2c2c" stroke-width="0.25">0</text>
<text transform="translate(1225.55,586.25) scale(1.0410,1)" font-size="21.5" fill="#000" xml:space="preserve"><tspan font-weight="bold">0.1%</tspan></text>
<text transform="translate(1465.90,586.25) scale(1.0338,1)" font-size="21.5" fill="#000" xml:space="preserve"><tspan font-weight="bold">5.3%</tspan></text>
<text transform="translate(1225.55,836.25) scale(1.0419,1)" font-size="21.5" fill="#000" xml:space="preserve"><tspan font-weight="bold">91.2%</tspan></text>
<text transform="translate(1467.16,833.75) scale(1.0183,1)" font-size="21.5" fill="#000" xml:space="preserve"><tspan font-weight="bold">3.4%</tspan></text>
<g filter="url(#rough)">
</g>
<path d="M1637.1 758.6h1.3M1623.9 798.4h1.3M1666.0 784.8h1.3M1616.4 782.8h1.3M1635.5 760.9h1.3M1635.7 803.2h1.3M1669.1 770.0h1.3M1629.2 798.8h1.3M1629.2 801.1h1.3M1655.3 792.0h1.3M1621.0 798.6h1.3M1610.7 789.4h1.3M1615.0 801.8h1.3M1684.5 757.0h1.3M1635.6 740.4h1.3M1663.3 744.2h1.3M1675.6 779.4h1.3M1642.7 748.3h1.3M1635.3 806.3h1.3M1634.6 732.8h1.3M1663.9 732.5h1.3M1614.7 787.3h1.3M1685.6 779.0h1.3M1627.2 765.3h1.3M1643.3 808.4h1.3M1657.8 747.6h1.3M1652.2 816.8h1.3M1638.8 808.9h1.3M1681.5 724.7h1.3M1618.1 752.7h1.3M1639.0 800.3h1.3M1673.1 783.2h1.3M1634.7 809.9h1.3M1651.0 801.3h1.3M1678.3 784.1h1.3M1674.7 745.2h1.3M1675.6 769.0h1.3M1685.5 729.9h1.3M1676.4 775.3h1.3M1616.3 807.3h1.3M1630.9 805.7h1.3M1681.3 768.6h1.3M1621.8 806.0h1.3M1682.4 760.4h1.3M1672.6 773.9h1.3M1628.7 821.0h1.3M1645.4 801.8h1.3M1628.5 759.4h1.3M1606.6 799.1h1.3M1673.1 741.1h1.3M1645.0 744.4h1.3M1648.2 803.6h1.3M1622.6 771.3h1.3M1686.9 758.9h1.3M1636.6 801.9h1.3M1645.9 744.6h1.3M1631.6 803.7h1.3M1615.7 794.1h1.3M1679.4 768.6h1.3M1672.8 782.8h1.3M1644.8 798.0h1.3M1638.1 755.5h1.3M1635.8 746.6h1.3M1674.1 784.3h1.3M1647.1 804.6h1.3M1665.5 726.3h1.3M1620.2 780.7h1.3M1625.5 800.6h1.3M1662.5 738.3h1.3M1615.0 796.5h1.3M1611.0 780.1h1.3M1661.7 790.4h1.3M1621.1 807.6h1.3M1639.8 749.6h1.3M1655.5 746.2h1.3M1625.6 795.5h1.3M1637.4 749.5h1.3M1668.3 746.4h1.3M1653.7 793.4h1.3M1624.5 783.0h1.3M1651.3 736.4h1.3M1692.0 731.0h1.3M1663.2 784.7h1.3M1611.5 783.6h1.3M1616.9 767.1h1.3M1675.9 771.6h1.3M1643.5 798.0h1.3M1625.1 762.6h1.3M1633.5 756.0h1.3M1622.7 774.8h1.3M1621.7 800.4h1.3M1622.1 799.9h1.3M1676.7 772.6h1.3M1628.9 810.4h1.3M1631.4 798.9h1.3M1646.5 801.5h1.3M1622.2 771.8h1.3M1637.7 814.3h1.3M1635.0 746.9h1.3M1665.0 790.1h1.3M1640.1 742.4h1.3M1622.9 756.6h1.3M1684.7 761.0h1.3M1637.0 745.6h1.3M1676.0 768.4h1.3M1669.2 727.6h1.3M1669.6 794.3h1.3M1624.8 802.6h1.3M1675.7 724.3h1.3M1621.4 796.1h1.3M1683.4 758.8h1.3M1631.9 745.9h1.3M1626.2 762.1h1.3M1657.6 728.6h1.3M1664.3 792.4h1.3M1672.1 736.6h1.3M1645.9 737.6h1.3M1647.4 794.0h1.3M1628.1 765.4h1.3M1617.3 788.1h1.3M1658.3 747.1h1.3M1665.3 792.7h1.3M1626.1 806.4h1.3M1617.7 794.4h1.3M1692.2 747.8h1.3M1640.6 802.7h1.3M1619.8 775.8h1.3M1623.9 800.5h1.3M1654.9 795.1h1.3M1656.5 793.9h1.3M1641.9 749.5h1.3M1645.5 741.0h1.3M1646.1 804.4h1.3M1609.1 811.3h1.3M1639.7 757.4h1.3M1680.2 747.3h1.3M1671.5 783.6h1.3M1650.2 745.3h1.3M1619.3 808.2h1.3M1641.9 748.5h1.3M1654.9 745.6h1.3M1611.4 803.8h1.3M1619.6 783.4h1.3M1670.8 778.0h1.3M1633.3 752.6h1.3M1617.8 791.5h1.3M1669.3 782.3h1.3M1635.9 755.8h1.3M1627.8 806.7h1.3M1682.7 755.1h1.3M1665.3 741.1h1.3M1659.5 731.6h1.3M1628.1 766.0h1.3M1618.1 785.9h1.3M1614.2 810.5h1.3M1635.6 808.4h1.3M1621.0 783.1h1.3M1660.2 738.5h1.3M1649.6 747.2h1.3M1665.0 791.4h1.3M1668.3 805.2h1.3M1674.6 774.7h1.3M1644.1 812.2h1.3M1632.8 808.5h1.3M1624.3 809.7h1.3M1668.3 800.0h1.3M1628.4 775.6h1.3M1673.9 723.4h1.3M1646.6 740.5h1.3M1615.4 790.0h1.3M1624.8 811.2h1.3M1676.9 775.9h1.3M1618.1 790.5h1.3M1655.2 751.3h1.3M1625.5 792.5h1.3M1626.2 802.5h1.3M1666.9 736.6h1.3M1689.4 760.3h1.3M1630.7 816.0h1.3M1632.2 759.7h1.3M1632.2 802.0h1.3M1682.9 742.5h1.3M1632.4 802.9h1.3M1654.1 798.7h1.3M1649.2 801.7h1.3M1671.7 767.3h1.3M1645.6 810.1h1.3M1639.0 757.0h1.3M1659.0 795.4h1.3M1636.6 807.8h1.3M1678.3 767.0h1.3M1606.2 804.8h1.3M1688.4 757.2h1.3M1620.7 805.7h1.3M1617.6 783.6h1.3M1675.5 762.0h1.3M1641.4 807.0h1.3M1624.5 776.6h1.3M1623.4 805.2h1.3M1649.0 806.5h1.3M1632.7 758.6h1.3M1634.2 802.1h1.3M1623.0 748.9h1.3M1631.3 738.6h1.3M1680.8 723.9h1.3M1710.5 721.2h1.3M1685.8 726.7h1.3M1655.1 723.3h1.3M1686.7 728.2h1.3M1716.0 729.3h1.3M1667.8 744.1h1.3M1712.1 758.5h1.3M1688.7 731.8h1.3M1693.6 724.9h1.3M1714.7 700.0h1.3M1698.4 750.2h1.3M1676.1 747.7h1.3M1724.4 738.8h1.3M1629.3 749.0h1.3M1689.6 738.2h1.3M1650.2 742.5h1.3M1688.3 758.3h1.3M1694.2 742.8h1.3M1708.9 720.5h1.3M1661.1 738.3h1.3M1637.3 752.3h1.3M1605.9 790.5h1.3M1714.8 711.6h1.3M1689.6 737.5h1.3M1664.3 751.3h1.3M1705.6 719.7h1.3M1695.3 735.5h1.3M1656.8 736.2h1.3M1697.7 734.9h1.3M1696.8 714.2h1.3M1692.8 735.9h1.3M1701.3 728.0h1.3M1682.8 726.7h1.3M1670.6 784.8h1.3M1628.3 757.3h1.3M1674.7 761.3h1.3M1680.0 717.3h1.3M1712.7 704.8h1.3M1693.9 724.7h1.3M1599.8 812.2h1.3M1686.8 725.5h1.3M1678.0 706.5h1.3M1659.4 746.1h1.3M1657.0 801.0h1.3M1647.4 805.4h1.3M1699.1 732.2h1.3M1617.8 810.6h1.3M1668.6 732.0h1.3M1707.2 726.3h1.3M1711.5 719.8h1.3M1683.8 765.3h1.3M1709.6 755.8h1.3M1669.4 716.9h1.3M1697.0 691.4h1.3M1675.7 760.3h1.3M1681.5 722.1h1.3M1672.6 734.5h1.3M1686.7 717.5h1.3M1615.7 780.9h1.3M1682.5 742.7h1.3M1724.1 683.2h1.3M1685.1 777.2h1.3M1696.4 731.9h1.3M1644.2 743.7h1.3M1629.0 764.9h1.3M1668.6 719.8h1.3M1691.8 712.4h1.3M1691.0 743.6h1.3M1721.1 705.7h1.3M1649.2 739.8h1.3M1681.0 711.3h1.3M1612.9 771.0h1.3M1677.3 734.2h1.3M1658.1 738.1h1.3M1671.4 719.8h1.3M1696.0 720.0h1.3M1648.1 725.2h1.3M1686.4 758.4h1.3M1675.1 729.4h1.3M1705.1 707.5h1.3M1683.4 747.9h1.3M1697.8 757.2h1.3M1682.6 745.6h1.3M1662.8 730.1h1.3M1685.8 731.2h1.3M1698.0 769.4h1.3M1683.9 722.0h1.3M1711.1 715.2h1.3M1709.9 707.6h1.3M1669.8 743.8h1.3M1658.7 731.8h1.3M1684.7 726.9h1.3M1689.8 743.1h1.3M1613.5 785.4h1.3M1690.1 720.1h1.3M1688.1 733.6h1.3M1667.2 724.5h1.3M1686.2 728.9h1.3M1689.6 747.7h1.3M1668.4 735.8h1.3M1685.6 742.4h1.3M1727.7 731.3h1.3M1684.4 751.7h1.3M1701.3 719.3h1.3M1697.5 734.8h1.3M1699.1 712.9h1.3M1701.8 750.2h1.3M1708.5 703.8h1.3M1649.9 742.7h1.3M1681.0 730.7h1.3M1686.3 724.3h1.3M1686.7 729.8h1.3M1621.4 763.4h1.3M1674.3 725.6h1.3M1665.1 727.0h1.3M1667.7 745.4h1.3M1687.7 726.2h1.3M1702.1 720.3h1.3M1681.7 772.3h1.3M1695.8 721.9h1.3M1704.3 732.5h1.3M1617.2 768.5h1.3M1692.1 709.6h1.3M1676.5 775.4h1.3M1704.5 719.0h1.3M1621.5 800.2h1.3M1692.2 721.8h1.3M1673.5 731.7h1.3M1700.9 721.6h1.3M1659.5 744.1h1.3M1689.3 719.6h1.3M1691.9 742.1h1.3M1704.9 727.5h1.3M1619.4 808.6h1.3M1697.2 732.9h1.3M1658.4 738.2h1.3M1719.1 698.6h1.3M1699.4 736.5h1.3M1691.3 753.5h1.3M1686.2 751.1h1.3M1697.3 714.3h1.3M1641.1 747.5h1.3M1680.7 713.9h1.3M1643.1 734.6h1.3M1687.0 732.1h1.3M1620.4 790.2h1.3M1692.3 731.5h1.3M1611.9 764.6h1.3M1678.7 735.5h1.3M1668.7 744.1h1.3M1679.3 723.5h1.3M1691.9 744.4h1.3M1702.6 716.4h1.3M1661.8 729.2h1.3M1651.4 735.2h1.3M1687.5 770.2h1.3M1694.4 704.9h1.3M1662.7 798.9h1.3M1696.9 756.5h1.3M1686.9 737.3h1.3M1667.7 735.6h1.3M1696.0 754.6h1.3M1677.2 730.1h1.3M1690.4 756.4h1.3M1719.5 715.7h1.3M1716.9 732.8h1.3M1683.4 759.2h1.3M1702.2 711.4h1.3M1718.1 704.9h1.3M1711.6 682.7h1.3M1633.4 802.8h1.3M1680.9 772.4h1.3M1687.6 754.0h1.3M1669.2 722.9h1.3M1699.5 760.3h1.3M1641.9 728.5h1.3M1696.3 750.7h1.3M1682.1 717.5h1.3M1688.4 709.5h1.3M1701.0 763.4h1.3M1671.9 708.4h1.3M1659.4 737.9h1.3M1692.7 714.7h1.3M1659.4 796.5h1.3M1726.0 702.1h1.3M1814.2 668.2h1.3M1812.1 646.9h1.3M1797.6 668.3h1.3M1810.4 646.8h1.3M1819.3 677.7h1.3M1790.4 676.2h1.3M1794.5 669.4h1.3M1823.5 656.7h1.3M1837.3 645.0h1.3M1830.0 648.9h1.3M1833.1 663.6h1.3M1805.4 637.1h1.3M1841.5 657.3h1.3M1810.1 635.5h1.3M1792.3 665.3h1.3M1774.3 658.4h1.3M1805.7 634.7h1.3M1779.9 658.6h1.3M1790.8 659.6h1.3M1793.3 649.6h1.3M1821.4 640.2h1.3M1788.3 648.2h1.3M1838.2 652.1h1.3M1835.0 654.2h1.3M1777.9 675.7h1.3M1792.5 672.6h1.3M1827.2 650.9h1.3M1813.0 637.3h1.3M1829.8 670.0h1.3M1781.9 661.5h1.3M1859.2 684.5h1.3M1761.3 658.7h1.3M1771.2 661.6h1.3M1794.3 661.1h1.3M1822.4 667.7h1.3M1791.0 646.5h1.3M1824.0 641.3h1.3M1794.6 638.7h1.3M1813.0 638.1h1.3M1836.3 651.2h1.3M1807.9 640.6h1.3M1821.1 645.8h1.3M1776.5 675.4h1.3M1791.1 677.8h1.3M1828.7 657.3h1.3M1831.5 657.7h1.3M1801.9 675.6h1.3M1816.7 680.8h1.3M1813.8 635.7h1.3M1831.7 663.4h1.3M1789.4 651.5h1.3M1771.1 661.1h1.3M1828.8 647.2h1.3M1781.3 626.1h1.3M1819.2 670.9h1.3M1771.5 653.9h1.3M1814.9 636.0h1.3M1803.4 638.4h1.3M1794.7 696.6h1.3M1811.6 640.2h1.3M1841.7 675.1h1.3M1816.6 643.3h1.3M1802.7 680.5h1.3M1806.0 681.6h1.3M1831.1 662.3h1.3M1838.2 658.9h1.3M1827.9 662.9h1.3M1826.9 662.2h1.3M1812.6 684.9h1.3M1808.7 632.7h1.3M1792.2 688.6h1.3M1820.2 681.0h1.3M1817.5 645.5h1.3M1828.3 652.9h1.3M1796.3 674.3h1.3M1833.0 642.2h1.3M1814.3 679.1h1.3M1798.4 682.8h1.3M1816.0 676.4h1.3M1832.1 647.2h1.3M1838.5 651.4h1.3M1815.8 687.7h1.3M1827.8 668.6h1.3M1790.2 669.1h1.3M1798.8 628.4h1.3M1835.2 663.2h1.3M1801.2 686.9h1.3M1823.7 670.9h1.3M1802.4 679.1h1.3M1827.1 650.4h1.3M1797.0 673.4h1.3M1804.6 638.8h1.3M1834.8 674.5h1.3M1812.7 641.9h1.3M1774.5 661.6h1.3M1783.6 662.0h1.3M1809.9 635.7h1.3M1783.1 626.2h1.3M1825.7 664.4h1.3M1778.4 669.4h1.3M1806.7 683.9h1.3M1835.6 673.2h1.3M1801.1 641.5h1.3M1835.8 654.3h1.3M1808.6 648.2h1.3M1833.8 656.2h1.3M1781.1 667.8h1.3M1823.3 635.3h1.3M1785.5 654.0h1.3M1830.0 667.9h1.3M1775.8 642.5h1.3M1805.9 680.1h1.3M1782.7 636.5h1.3M1811.6 678.7h1.3M1824.6 661.1h1.3M1829.9 639.4h1.3M1840.2 637.7h1.3M1822.8 681.3h1.3M1828.5 647.8h1.3M1789.9 666.2h1.3M1765.3 654.8h1.3M1788.0 689.2h1.3M1764.3 642.3h1.3M1818.0 613.5h1.3M1808.4 677.4h1.3M1823.2 688.8h1.3M1747.7 665.1h1.3M1778.7 656.5h1.3M1811.2 620.4h1.3M1777.2 608.2h1.3M1767.0 659.2h1.3M1766.1 639.1h1.3M1750.2 705.8h1.3M1800.1 691.3h1.3M1789.3 691.9h1.3M1812.7 621.7h1.3M1786.0 693.6h1.3M1816.5 687.2h1.3M1750.3 675.2h1.3M1782.6 633.3h1.3M1783.8 661.2h1.3M1765.4 685.7h1.3M1775.6 671.9h1.3M1800.3 633.7h1.3M1759.4 661.5h1.3M1779.5 674.0h1.3M1809.9 709.3h1.3M1769.9 667.3h1.3M1813.0 614.7h1.3M1778.8 666.1h1.3M1834.2 679.1h1.3M1777.0 635.9h1.3M1783.0 647.9h1.3M1802.3 620.5h1.3M1780.8 640.0h1.3M1806.0 682.7h1.3M1772.7 632.9h1.3M1763.5 675.8h1.3M1821.6 717.9h1.3M1766.1 676.3h1.3M1761.3 644.3h1.3M1749.9 617.4h1.3M1781.9 652.3h1.3M1764.7 640.8h1.3M1822.6 683.0h1.3M1784.7 654.7h1.3M1730.8 646.6h1.3M1833.3 647.9h1.3M1739.4 720.9h1.3M1748.7 651.3h1.3M1793.9 632.0h1.3M1759.8 689.3h1.3M1785.5 672.8h1.3M1801.5 680.7h1.3M1756.6 657.1h1.3M1823.0 608.7h1.3M1849.7 678.4h1.3M1741.2 662.9h1.3M1814.1 686.1h1.3M1854.2 620.2h1.3M1747.6 643.4h1.3M1766.1 637.7h1.3M1769.4 652.3h1.3M1716.4 644.0h1.3M1780.8 654.5h1.3M1771.1 648.6h1.3M1803.5 632.0h1.3M1801.8 694.2h1.3M1760.9 667.2h1.3M1778.3 675.0h1.3M1827.3 611.6h1.3M1816.3 677.8h1.3M1828.8 653.6h1.3M1765.3 664.3h1.3M1835.3 618.7h1.3M1790.8 690.7h1.3M1794.1 652.9h1.3M1772.1 690.0h1.3M1761.8 677.4h1.3M1771.0 660.3h1.3M1795.6 713.5h1.3M1781.5 686.4h1.3M1792.7 690.4h1.3M1760.1 677.1h1.3M1754.6 678.3h1.3M1740.2 708.8h1.3M1835.6 660.8h1.3M1763.3 674.3h1.3M1771.0 685.7h1.3M1789.3 688.6h1.3M1760.8 629.5h1.3M1749.1 663.6h1.3M1841.9 665.1h1.3M1781.4 666.2h1.3M1766.2 658.5h1.3M1769.8 655.4h1.3M1746.1 650.0h1.3M1835.0 633.6h1.3M1782.2 668.5h1.3M1775.4 676.2h1.3M1776.2 684.5h1.3M1810.9 646.5h1.3M1780.3 676.9h1.3M1727.3 631.8h1.3M1811.5 624.7h1.3M1821.6 638.8h1.3M1750.1 633.5h1.3M1776.8 632.2h1.3M1778.4 660.6h1.3M1796.9 674.8h1.3M1785.6 691.1h1.3M1769.9 621.4h1.3M1822.1 624.0h1.3M1742.5 653.7h1.3M1774.6 610.8h1.3M1786.4 656.5h1.3M1785.8 639.4h1.3M1780.2 635.4h1.3M1785.1 641.5h1.3M1814.0 681.4h1.3M1836.9 611.2h1.3M1815.8 631.7h1.3M1803.3 681.1h1.3M1766.2 652.7h1.3M1777.2 688.9h1.3M1791.4 628.3h1.3M1749.9 640.8h1.3M1799.3 700.4h1.3M1791.1 677.1h1.3M1762.7 677.9h1.3M1845.8 671.2h1.3M1747.6 638.5h1.3M1794.9 599.3h1.3M1762.6 658.3h1.3M1817.4 632.7h1.3M1775.0 640.1h1.3M1806.5 691.1h1.3M1755.0 658.9h1.3M1751.5 679.1h1.3M1824.2 689.5h1.3M1758.4 626.7h1.3M1764.3 692.9h1.3M1763.8 669.3h1.3M1747.2 656.2h1.3M1809.0 686.6h1.3M1816.4 625.3h1.3M1783.3 677.0h1.3M1785.5 665.7h1.3M1769.2 655.5h1.3M1837.0 660.1h1.3M1763.5 672.2h1.3M1769.5 653.1h1.3M1793.6 699.8h1.3M1777.3 639.0h1.3M1790.7 675.2h1.3M1818.6 624.3h1.3M1819.6 671.3h1.3M1758.8 694.1h1.3M1788.0 657.8h1.3M1825.8 633.1h1.3M1741.1 629.5h1.3M1791.2 641.3h1.3M1785.3 714.8h1.3M1815.1 619.0h1.3M1840.6 686.9h1.3M1777.4 685.5h1.3M1770.4 648.2h1.3M1774.4 660.1h1.3M1774.6 642.9h1.3M1816.5 706.4h1.3M1751.7 656.4h1.3M1754.0 671.1h1.3M1772.5 687.1h1.3M1754.7 655.2h1.3M1752.1 693.5h1.3M1777.5 632.8h1.3M1762.7 636.5h1.3M1773.2 673.4h1.3M1771.9 615.9h1.3M1766.6 641.9h1.3M1766.8 627.0h1.3M1752.9 708.7h1.3M1848.3 676.1h1.3M1833.0 661.2h1.3M1752.0 655.4h1.3M1770.9 699.8h1.3M1769.3 667.8h1.3M1810.7 617.7h1.3M1768.6 652.6h1.3M1769.0 613.6h1.3M1829.9 654.1h1.3M1808.6 690.9h1.3M1819.7 676.7h1.3M1757.6 646.9h1.3M1756.7 630.4h1.3M1771.8 654.5h1.3M1819.3 640.9h1.3M1788.6 698.6h1.3M1742.1 701.6h1.3M1809.5 626.0h1.3M1803.4 638.6h1.3M1818.8 644.2h1.3M1791.3 635.4h1.3M1761.8 686.3h1.3M1764.3 676.4h1.3M1781.1 636.3h1.3M1800.6 634.3h1.3M1755.2 677.9h1.3M1839.2 657.1h1.3M1764.5 666.5h1.3M1834.5 635.8h1.3M1764.5 638.5h1.3M1788.2 617.0h1.3M1789.0 640.6h1.3M1752.2 614.8h1.3M1748.4 669.0h1.3M1782.4 694.9h1.3M1763.9 619.8h1.3M1824.7 646.5h1.3M1778.0 603.9h1.3M1760.0 647.2h1.3M1750.8 657.9h1.3M1800.7 617.7h1.3M1787.1 653.9h1.3M1732.7 664.5h1.3M1828.0 675.7h1.3M1810.4 688.1h1.3M1776.8 686.9h1.3M1816.1 671.7h1.3M1762.4 657.5h1.3M1825.7 639.9h1.3M1743.3 635.7h1.3M1775.9 641.8h1.3M1752.4 659.8h1.3M1774.6 633.5h1.3M1778.0 676.1h1.3M1765.3 683.3h1.3M1814.9 695.1h1.3M1737.3 647.8h1.3M1817.1 685.9h1.3M1801.3 623.3h1.3M1786.4 616.6h1.3M1829.2 624.9h1.3M1791.1 647.2h1.3M1782.2 638.0h1.3M1786.0 675.9h1.3M1762.6 650.8h1.3M1786.9 623.1h1.3M1768.7 645.6h1.3M1765.0 649.1h1.3M1809.9 608.9h1.3M1849.8 652.5h1.3M1798.3 681.4h1.3M1755.2 639.7h1.3M1774.4 681.7h1.3M1736.9 651.7h1.3M1766.0 613.9h1.3M1752.3 661.9h1.3M1743.0 681.1h1.3M1798.6 690.2h1.3M1743.4 636.8h1.3M1814.3 629.2h1.3M1757.8 658.8h1.3M1841.8 672.7h1.3M1829.8 673.6h1.3M1731.2 641.3h1.3M1777.3 666.9h1.3M1784.8 689.1h1.3M1763.4 640.4h1.3M1767.7 676.9h1.3M1783.4 649.2h1.3M1801.7 692.9h1.3M1745.7 644.0h1.3M1766.5 627.2h1.3M1806.5 642.9h1.3M1817.1 702.4h1.3M1790.3 677.8h1.3M1791.7 634.1h1.3M1803.7 638.2h1.3M1807.1 688.7h1.3M1812.4 635.4h1.3M1774.3 626.6h1.3M1812.2 689.7h1.3M1771.6 660.9h1.3M1806.8 617.3h1.3M1768.2 697.6h1.3M1790.6 689.1h1.3M1804.8 681.5h1.3M1770.5 637.2h1.3M1802.8 681.7h1.3M1757.9 650.0h1.3M1783.0 630.4h1.3M1770.3 639.4h1.3M1833.7 652.9h1.3M1763.4 675.9h1.3M1774.0 676.7h1.3M1775.7 644.3h1.3M1780.5 634.0h1.3M1768.3 674.4h1.3M1748.7 637.1h1.3M1807.3 638.2h1.3M1802.0 685.7h1.3M1752.1 662.3h1.3M1823.3 674.0h1.3M1773.5 661.5h1.3M1778.3 651.7h1.3M1786.0 685.9h1.3M1728.4 611.1h1.3M1798.3 647.2h1.3M1830.8 654.5h1.3M1798.6 588.0h1.3M1811.7 640.9h1.3M1787.6 690.7h1.3M1751.7 673.7h1.3M1818.0 626.7h1.3M1778.1 623.2h1.3M1807.8 633.5h1.3M1814.5 692.4h1.3M1751.3 686.9h1.3M1788.3 681.5h1.3M1808.1 624.6h1.3M1749.0 630.8h1.3M1783.3 645.6h1.3M1788.1 646.7h1.3M1753.2 639.1h1.3M1807.9 685.8h1.3M1787.7 632.5h1.3M1809.3 704.4h1.3M1799.4 688.9h1.3M1788.8 664.4h1.3M1833.3 663.2h1.3M1757.1 675.2h1.3M1754.1 682.4h1.3M1777.4 667.0h1.3M1759.9 650.9h1.3M1731.5 661.9h1.3M1759.3 674.2h1.3M1737.3 685.6h1.3M1815.8 681.7h1.3M1772.8 648.4h1.3M1775.5 642.9h1.3M1837.2 678.4h1.3M1769.9 614.4h1.3M1789.3 775.4h1.3M1808.9 733.5h1.3M1805.9 739.8h1.3M1823.9 747.0h1.3M1799.3 760.3h1.3M1785.2 758.9h1.3M1778.0 767.1h1.3M1809.8 756.7h1.3M1790.6 744.0h1.3M1806.6 730.4h1.3M1789.8 751.7h1.3M1796.1 773.0h1.3M1800.5 739.1h1.3M1800.2 766.1h1.3M1812.8 735.8h1.3M1789.1 764.8h1.3M1809.1 750.7h1.3M1805.1 730.0h1.3M1808.7 753.5h1.3M1781.9 760.5h1.3M1818.1 752.7h1.3M1791.3 772.0h1.3M1790.7 744.8h1.3M1779.9 777.8h1.3M1804.2 759.2h1.3M1799.5 743.6h1.3M1788.8 769.8h1.3M1796.3 735.7h1.3M1795.6 741.7h1.3M1801.2 770.0h1.3M1781.4 763.1h1.3M1808.6 761.0h1.3M1808.4 736.3h1.3M1796.2 765.8h1.3M1818.0 747.3h1.3M1806.3 744.5h1.3M1797.7 763.5h1.3M1812.3 762.3h1.3M1785.5 759.4h1.3M1809.2 759.0h1.3M1781.5 746.6h1.3M1779.8 765.0h1.3M1813.1 752.7h1.3M1782.3 774.7h1.3M1812.2 746.9h1.3M1779.9 765.0h1.3M1781.9 766.2h1.3M1803.0 741.7h1.3M1785.9 758.1h1.3M1810.4 752.6h1.3M1810.4 747.3h1.3M1785.6 745.2h1.3M1815.5 738.7h1.3M1815.3 754.5h1.3M1803.3 737.7h1.3M1808.0 763.0h1.3M1792.6 750.3h1.3M1773.7 776.4h1.3M1785.4 757.4h1.3M1816.5 755.7h1.3M1801.6 729.9h1.3M1798.6 763.3h1.3M1780.7 780.9h1.3M1798.9 744.2h1.3M1801.9 765.7h1.3M1783.9 777.3h1.3M1808.9 750.2h1.3M1812.4 761.6h1.3M1799.0 766.2h1.3M1796.1 734.1h1.3M1757.1 757.6h1.3M1762.7 763.2h1.3M1814.8 752.8h1.3M1801.6 715.7h1.3M1774.3 760.2h1.3M1777.9 741.2h1.3M1775.6 753.9h1.3M1778.1 744.5h1.3M1774.7 763.5h1.3M1803.3 774.4h1.3M1792.2 743.4h1.3M1813.5 770.5h1.3M1791.3 719.8h1.3M1829.9 754.3h1.3M1780.6 749.8h1.3M1812.9 757.1h1.3M1804.4 727.5h1.3M1744.1 762.4h1.3M1807.3 759.6h1.3M1812.3 734.2h1.3M1752.9 721.5h1.3M1786.7 735.8h1.3M1801.0 765.2h1.3M1821.4 734.7h1.3M1758.3 758.3h1.3M1818.9 731.7h1.3M1803.2 767.8h1.3M1801.5 764.6h1.3M1764.2 755.3h1.3M1762.6 754.4h1.3M1803.4 721.3h1.3M1782.9 767.3h1.3M1789.2 796.0h1.3M1780.9 744.9h1.3M1795.3 742.9h1.3M1799.4 713.6h1.3M1821.6 759.4h1.3M1793.9 717.7h1.3M1783.7 787.4h1.3M1826.6 730.1h1.3M1820.4 744.3h1.3M1800.7 763.9h1.3M1750.7 766.4h1.3M1775.3 770.9h1.3M1808.2 707.0h1.3M1797.3 716.8h1.3M1778.7 747.8h1.3M1836.5 726.8h1.3M1787.0 718.9h1.3M1804.2 706.9h1.3M1781.8 723.4h1.3M1814.2 728.4h1.3M1743.4 746.5h1.3M1822.8 760.0h1.3M1797.8 734.6h1.3M1797.9 735.8h1.3M1779.9 740.0h1.3M1794.4 731.7h1.3M1777.1 738.4h1.3M1747.1 750.1h1.3M1809.9 728.5h1.3M1786.8 740.6h1.3M1772.2 783.3h1.3M1795.9 722.2h1.3M1772.3 765.1h1.3M1803.1 709.9h1.3M1806.3 711.5h1.3M1757.8 736.9h1.3M1815.9 715.3h1.3M1783.7 751.4h1.3M1788.3 743.5h1.3M1781.1 768.4h1.3M1820.1 676.0h1.3M1814.7 762.5h1.3M1778.3 779.9h1.3M1826.2 716.8h1.3M1792.1 742.6h1.3M1758.0 785.0h1.3M1807.4 724.1h1.3M1831.2 742.2h1.3M1806.9 704.8h1.3M1780.0 758.0h1.3M1762.1 743.4h1.3M1819.7 706.3h1.3M1798.7 728.2h1.3M1764.9 717.6h1.3M1819.1 710.0h1.3M1815.9 726.4h1.3M1822.3 730.2h1.3M1823.7 735.6h1.3M1812.8 740.0h1.3M1776.3 747.7h1.3M1774.8 750.4h1.3M1766.2 750.5h1.3M1789.7 725.5h1.3M1795.8 724.0h1.3M1774.1 755.6h1.3M1764.1 758.1h1.3M1761.9 742.4h1.3M1835.0 736.7h1.3M1827.9 759.0h1.3M1812.4 721.4h1.3M1796.7 740.2h1.3M1778.8 736.8h1.3M1775.2 749.0h1.3M1775.3 788.1h1.3M1783.5 744.2h1.3M1767.0 746.6h1.3M1828.2 720.5h1.3M1783.8 751.7h1.3M1818.1 749.5h1.3M1812.8 721.5h1.3M1782.7 736.2h1.3M1766.7 777.1h1.3M1737.0 751.7h1.3M1808.5 706.4h1.3M1751.3 761.5h1.3M1779.6 747.3h1.3M1783.5 781.9h1.3M1790.5 718.1h1.3M1801.3 733.0h1.3M1848.7 738.9h1.3M1813.0 742.8h1.3M1834.3 725.1h1.3M1769.5 749.8h1.3M1802.9 739.1h1.3M1775.0 748.2h1.3M1807.6 734.0h1.3M1779.5 771.9h1.3M1746.9 739.8h1.3M1763.1 713.5h1.3M1770.5 759.0h1.3M1784.5 777.9h1.3M1768.3 750.2h1.3M1811.1 756.9h1.3M1818.0 738.0h1.3M1803.3 707.7h1.3M1836.1 736.3h1.3M1767.1 748.8h1.3M1776.9 730.2h1.3M1765.1 738.4h1.3M1776.4 769.0h1.3M1773.3 745.6h1.3M1779.2 742.8h1.3M1790.9 735.0h1.3M1781.8 764.2h1.3M1815.6 765.8h1.3M1788.2 735.4h1.3M1781.6 772.1h1.3M1791.9 737.7h1.3M1810.9 773.0h1.3M1830.5 756.1h1.3M1779.8 728.1h1.3M1791.0 735.0h1.3M1780.1 728.2h1.3M1763.0 753.1h1.3M1810.9 728.9h1.3M1795.0 738.7h1.3M1757.0 742.9h1.3M1808.3 739.5h1.3M1837.2 728.5h1.3M1825.3 739.6h1.3M1789.4 712.6h1.3M1739.6 757.9h1.3M1734.4 734.9h1.3M1765.5 774.7h1.3M1810.3 765.9h1.3M1777.6 766.3h1.3M1777.9 752.9h1.3M1823.9 735.7h1.3M1814.3 713.6h1.3M1773.2 735.7h1.3M1743.2 731.0h1.3M1795.3 716.7h1.3M1767.4 749.4h1.3M1813.9 725.6h1.3M1749.0 739.9h1.3M1809.1 685.0h1.3M1767.0 698.1h1.3M1686.7 705.4h1.3M1748.0 692.7h1.3M1684.8 712.6h1.3M1748.3 645.4h1.3M1745.0 689.4h1.3M1722.6 682.0h1.3M1747.2 656.7h1.3M1739.0 689.0h1.3M1740.1 621.0h1.3M1755.2 670.7h1.3M1771.4 649.3h1.3M1717.5 685.3h1.3M1733.7 701.7h1.3M1739.4 649.3h1.3M1731.1 667.0h1.3M1671.5 713.0h1.3M1737.7 668.6h1.3M1721.4 732.4h1.3M1709.2 726.4h1.3M1764.6 674.9h1.3M1755.3 683.7h1.3M1711.8 712.4h1.3M1730.6 684.8h1.3M1718.5 685.7h1.3M1747.1 691.2h1.3M1709.7 639.3h1.3M1698.6 729.2h1.3M1736.2 702.8h1.3M1741.7 716.6h1.3M1728.9 653.0h1.3M1766.0 691.9h1.3M1677.5 754.1h1.3M1714.6 727.9h1.3M1731.2 698.2h1.3M1742.3 699.8h1.3M1729.6 725.9h1.3M1685.0 729.0h1.3M1771.9 638.9h1.3M1699.6 741.3h1.3M1752.8 686.5h1.3M1728.3 670.7h1.3M1731.4 717.3h1.3M1644.8 716.0h1.3M1721.0 718.2h1.3M1723.1 722.6h1.3M1762.7 643.2h1.3M1742.1 716.3h1.3M1726.0 681.9h1.3M1728.0 671.3h1.3M1714.5 703.5h1.3M1747.2 689.7h1.3M1706.0 707.7h1.3M1747.2 735.1h1.3M1766.1 677.1h1.3M1672.6 722.2h1.3M1671.0 733.7h1.3M1743.3 662.0h1.3M1677.4 725.0h1.3M1736.5 715.7h1.3M1750.7 654.5h1.3M1738.1 724.1h1.3M1747.4 648.2h1.3M1729.1 636.2h1.3M1783.0 638.1h1.3M1695.6 708.4h1.3M1676.7 718.6h1.3M1712.5 722.1h1.3M1762.3 635.0h1.3M1750.8 679.3h1.3M1710.4 719.4h1.3M1731.5 677.6h1.3M1693.1 723.3h1.3M1768.3 676.0h1.3M1763.9 670.2h1.3M1764.9 643.9h1.3M1798.0 627.8h1.3M1752.1 693.6h1.3M1725.9 691.9h1.3M1718.9 699.4h1.3M1640.6 690.4h1.3M1673.8 723.9h1.3M1756.1 657.5h1.3M1728.8 701.4h1.3M1753.9 670.3h1.3M1743.9 670.9h1.3M1778.8 671.0h1.3M1735.3 707.4h1.3M1764.7 646.1h1.3M1728.0 699.4h1.3M1757.4 677.6h1.3M1763.3 657.0h1.3M1770.5 728.1h1.3M1741.9 700.8h1.3M1761.4 664.9h1.3M1747.2 704.3h1.3M1761.7 638.2h1.3M1718.5 673.3h1.3M1750.5 671.6h1.3M1707.1 654.1h1.3M1732.7 698.3h1.3M1716.4 727.0h1.3M1764.2 668.7h1.3M1777.7 676.5h1.3M1701.7 692.5h1.3M1694.0 747.2h1.3M1749.8 686.0h1.3M1714.6 693.3h1.3M1692.9 767.4h1.3M1724.4 706.3h1.3M1751.8 695.3h1.3M1690.8 713.5h1.3M1716.7 705.4h1.3M1705.5 718.0h1.3M1774.0 656.8h1.3M1772.1 621.2h1.3M1769.5 654.7h1.3M1707.2 696.0h1.3M1772.6 657.0h1.3M1760.4 659.7h1.3M1787.3 666.0h1.3M1720.1 720.8h1.3M1753.7 704.2h1.3M1718.5 715.9h1.3M1708.3 722.4h1.3M1751.8 668.9h1.3M1694.8 730.1h1.3M1745.6 680.4h1.3M1765.1 668.6h1.3M1745.3 687.8h1.3M1707.3 651.4h1.3M1755.4 654.9h1.3M1733.4 701.8h1.3M1750.6 645.9h1.3M1705.3 657.9h1.3M1712.2 627.3h1.3M1766.0 704.8h1.3M1728.3 648.9h1.3M1791.6 596.6h1.3M1749.2 641.8h1.3M1717.3 585.2h1.3M1757.4 634.2h1.3M1737.8 663.8h1.3M1749.4 652.9h1.3M1760.7 630.2h1.3M1753.1 647.6h1.3M1743.3 630.2h1.3M1742.4 675.9h1.3M1750.4 634.6h1.3M1750.1 616.4h1.3M1735.8 635.4h1.3M1767.5 688.1h1.3M1744.7 655.8h1.3M1790.2 627.6h1.3M1754.0 604.1h1.3M1775.0 635.7h1.3M1715.0 669.4h1.3M1742.1 680.7h1.3M1766.2 637.1h1.3M1783.2 644.6h1.3M1766.8 627.3h1.3M1732.8 651.3h1.3M1732.9 647.5h1.3M1723.4 681.8h1.3M1742.6 668.7h1.3M1746.8 698.5h1.3M1724.9 679.4h1.3M1731.2 624.4h1.3M1716.4 630.4h1.3M1760.3 675.1h1.3M1729.7 645.0h1.3M1690.0 690.5h1.3M1760.0 610.0h1.3M1745.9 630.6h1.3M1739.2 656.6h1.3M1752.8 660.2h1.3M1708.7 703.3h1.3M1775.9 683.4h1.3M1753.7 629.2h1.3M1757.1 652.3h1.3M1771.4 702.2h1.3M1719.9 653.4h1.3M1724.2 675.5h1.3M1739.0 650.1h1.3M1701.9 690.4h1.3M1783.8 700.2h1.3M1775.7 680.9h1.3M1737.7 657.4h1.3M1710.4 666.8h1.3M1740.4 702.6h1.3M1749.7 654.0h1.3M1764.7 641.6h1.3M1749.7 654.3h1.3M1754.5 652.8h1.3M1735.7 624.4h1.3M1754.5 602.0h1.3M1752.5 660.7h1.3M1711.8 635.1h1.3M1723.0 679.5h1.3M1749.3 709.8h1.3M1764.1 666.6h1.3M1720.3 617.5h1.3M1761.6 678.3h1.3M1725.9 656.6h1.3M1758.6 656.4h1.3M1764.4 663.7h1.3M1764.9 615.0h1.3M1757.4 676.0h1.3M1765.7 694.3h1.3M1758.7 663.0h1.3M1786.3 643.8h1.3M1732.7 667.3h1.3M1759.9 670.6h1.3M1740.0 629.4h1.3M1737.8 631.7h1.3M1758.8 636.0h1.3M1767.7 597.9h1.3M1714.0 632.5h1.3M1739.9 680.7h1.3M1701.9 652.7h1.3M1741.0 685.3h1.3M1709.4 673.5h1.3M1733.6 642.3h1.3M1773.4 632.7h1.3M1750.5 677.2h1.3M1746.7 632.2h1.3M1780.7 635.9h1.3M1751.8 589.7h1.3" stroke="#20206e" stroke-width="1.3" fill="none"/>
<path d="M1627.7 788.4h1.3M1670.7 763.1h1.3M1636.4 773.3h1.3M1663.3 766.9h1.3M1656.1 787.7h1.3M1656.3 793.2h1.3M1675.8 770.8h1.3M1624.7 781.0h1.3M1663.7 754.0h1.3M1660.3 754.3h1.3M1648.6 788.7h1.3M1642.5 759.0h1.3M1632.2 777.2h1.3M1629.2 781.5h1.3M1627.4 794.7h1.3M1629.4 772.8h1.3M1661.1 781.9h1.3M1640.3 792.3h1.3M1636.1 769.3h1.3M1633.2 792.2h1.3M1640.7 765.1h1.3M1658.5 786.1h1.3M1652.0 749.4h1.3M1660.3 764.9h1.3M1664.4 775.8h1.3M1644.2 757.0h1.3M1665.4 772.4h1.3M1637.5 790.1h1.3M1633.0 788.3h1.3M1642.9 793.3h1.3M1625.0 778.6h1.3M1626.6 772.4h1.3M1661.2 754.2h1.3M1652.5 789.5h1.3M1653.1 759.8h1.3M1643.2 794.3h1.3M1641.0 763.4h1.3M1648.1 759.1h1.3M1631.4 797.4h1.3M1647.2 756.2h1.3M1635.1 798.1h1.3M1655.5 751.1h1.3M1628.3 786.7h1.3M1630.0 798.9h1.3M1643.6 760.0h1.3M1619.4 789.6h1.3M1642.6 789.4h1.3M1652.3 797.0h1.3M1630.6 788.6h1.3M1623.7 784.5h1.3M1643.8 793.2h1.3M1645.0 754.4h1.3M1654.1 761.3h1.3M1670.8 758.7h1.3M1656.1 755.8h1.3M1663.3 780.1h1.3M1632.9 779.1h1.3M1671.5 770.5h1.3M1632.6 792.0h1.3M1648.0 764.7h1.3M1631.1 771.5h1.3M1659.9 759.6h1.3M1661.4 787.1h1.3M1635.2 796.1h1.3M1634.5 766.1h1.3M1637.5 788.4h1.3M1623.3 780.4h1.3M1667.6 762.9h1.3M1655.3 756.0h1.3M1666.2 780.5h1.3M1634.8 771.3h1.3M1669.5 779.5h1.3M1652.9 780.8h1.3M1648.1 790.9h1.3M1641.4 799.5h1.3M1641.4 756.4h1.3M1654.0 789.7h1.3M1669.4 762.0h1.3M1664.0 765.5h1.3M1632.8 802.2h1.3M1661.6 757.2h1.3M1624.7 783.4h1.3M1672.2 767.0h1.3M1642.6 766.7h1.3M1670.2 772.8h1.3M1639.4 764.9h1.3M1648.2 792.6h1.3M1633.4 788.1h1.3M1668.4 768.7h1.3M1654.8 787.8h1.3M1630.6 791.4h1.3M1660.0 755.9h1.3M1654.1 783.7h1.3M1645.9 788.2h1.3M1672.2 758.1h1.3M1635.2 762.0h1.3M1654.3 789.9h1.3M1667.3 777.9h1.3M1626.7 792.8h1.3M1654.7 758.4h1.3M1623.1 786.8h1.3M1636.1 786.1h1.3M1627.0 781.0h1.3M1628.2 779.5h1.3M1663.7 769.1h1.3M1656.8 788.1h1.3M1657.5 790.9h1.3M1666.2 762.1h1.3M1659.2 778.2h1.3M1668.1 756.5h1.3M1632.6 787.8h1.3M1644.1 793.8h1.3M1633.2 793.9h1.3M1630.6 771.7h1.3M1640.6 761.2h1.3M1665.3 747.2h1.3M1645.3 791.1h1.3M1624.7 787.7h1.3M1643.7 756.5h1.3M1644.0 795.0h1.3M1642.8 790.2h1.3M1625.9 789.1h1.3M1656.7 783.4h1.3M1647.8 788.8h1.3M1656.2 755.0h1.3M1662.3 751.5h1.3M1624.3 792.5h1.3M1634.7 771.3h1.3M1641.3 770.8h1.3M1659.1 754.2h1.3M1633.4 805.5h1.3M1638.3 796.9h1.3M1635.6 796.9h1.3M1652.4 793.6h1.3M1631.0 798.2h1.3M1657.8 787.2h1.3M1633.9 778.4h1.3M1672.4 754.2h1.3M1633.9 766.6h1.3M1648.5 796.0h1.3M1658.7 783.2h1.3M1656.0 785.5h1.3M1662.5 767.6h1.3M1647.3 758.4h1.3M1635.3 770.5h1.3M1643.0 796.9h1.3M1639.1 787.4h1.3M1650.6 793.5h1.3M1634.4 798.8h1.3M1633.8 768.7h1.3M1646.3 795.6h1.3M1679.0 731.3h1.3M1630.6 781.0h1.3M1670.8 773.8h1.3M1652.7 789.7h1.3M1652.1 752.6h1.3M1657.5 749.4h1.3M1634.9 793.6h1.3M1647.2 750.6h1.3M1662.5 781.8h1.3M1648.2 794.3h1.3M1629.0 786.5h1.3M1627.0 781.5h1.3M1674.5 749.0h1.3M1650.4 748.9h1.3M1630.8 769.5h1.3M1667.2 749.7h1.3M1632.2 779.3h1.3M1654.6 748.3h1.3M1660.1 783.4h1.3M1675.0 756.6h1.3M1623.1 778.3h1.3M1621.0 777.3h1.3M1629.8 799.5h1.3M1633.2 790.9h1.3M1673.5 769.3h1.3M1664.2 751.5h1.3M1663.6 749.4h1.3M1645.2 788.4h1.3M1668.3 771.6h1.3M1638.5 800.0h1.3M1652.7 795.1h1.3M1659.9 743.3h1.3M1641.2 758.5h1.3M1674.4 746.5h1.3M1654.1 749.5h1.3M1631.1 798.7h1.3M1632.0 767.4h1.3M1668.2 759.3h1.3M1654.7 789.5h1.3M1642.1 766.3h1.3M1630.5 772.9h1.3M1662.2 748.5h1.3M1653.5 756.5h1.3M1639.2 801.3h1.3M1675.3 760.7h1.3M1665.7 779.2h1.3M1674.7 750.5h1.3M1656.2 792.5h1.3M1630.7 774.0h1.3M1666.2 788.6h1.3M1663.1 739.7h1.3M1663.3 748.1h1.3M1675.6 760.4h1.3M1665.8 779.3h1.3M1624.0 800.8h1.3M1643.8 796.8h1.3M1669.7 737.9h1.3M1662.7 746.2h1.3M1635.5 788.2h1.3M1678.8 752.7h1.3M1660.6 749.1h1.3M1628.0 792.8h1.3M1646.0 756.9h1.3M1635.5 760.9h1.3M1666.4 772.4h1.3M1643.1 753.7h1.3M1668.4 782.1h1.3M1623.4 774.6h1.3M1624.3 781.3h1.3M1654.9 794.0h1.3M1668.4 769.9h1.3M1681.5 750.6h1.3M1679.7 742.6h1.3M1670.5 767.0h1.3M1657.9 785.3h1.3M1668.8 771.7h1.3M1667.1 779.0h1.3M1677.9 741.8h1.3M1672.4 767.2h1.3M1626.3 786.1h1.3M1621.7 777.9h1.3M1645.8 753.5h1.3M1673.9 756.3h1.3M1664.5 767.9h1.3M1660.4 751.5h1.3M1631.8 773.0h1.3M1627.4 771.3h1.3M1668.9 752.8h1.3M1635.4 758.5h1.3M1660.4 784.7h1.3M1644.9 745.4h1.3M1674.7 746.9h1.3M1659.0 767.2h1.3M1660.9 789.7h1.3M1645.4 794.3h1.3M1662.7 784.4h1.3M1634.7 793.1h1.3M1620.0 800.3h1.3M1642.9 800.7h1.3M1628.9 762.5h1.3M1667.4 768.5h1.3M1676.1 749.6h1.3M1638.2 753.7h1.3M1644.8 797.0h1.3M1647.4 759.7h1.3M1665.5 745.6h1.3M1668.0 752.5h1.3M1669.8 743.7h1.3M1646.7 758.5h1.3M1642.2 759.2h1.3M1658.7 762.1h1.3M1649.2 796.5h1.3M1663.6 789.3h1.3M1632.9 767.1h1.3M1647.4 792.7h1.3M1665.0 756.6h1.3M1628.8 775.8h1.3M1658.6 742.8h1.3M1639.1 796.6h1.3M1651.2 792.7h1.3M1673.8 765.1h1.3M1665.7 777.5h1.3M1673.3 761.5h1.3M1667.6 739.8h1.3M1659.3 748.0h1.3M1680.2 741.9h1.3M1643.6 757.1h1.3M1638.6 763.4h1.3M1626.3 792.1h1.3M1665.9 760.9h1.3M1680.6 746.2h1.3M1661.1 780.2h1.3M1665.8 740.5h1.3M1668.6 745.9h1.3M1634.9 784.7h1.3M1667.1 745.9h1.3M1627.7 783.1h1.3M1660.0 748.5h1.3M1678.9 759.6h1.3M1644.7 793.9h1.3M1668.3 758.6h1.3M1658.4 746.1h1.3M1625.9 790.4h1.3M1676.2 764.2h1.3M1672.1 763.2h1.3M1630.9 791.7h1.3M1620.0 790.9h1.3M1674.1 752.7h1.3M1664.8 752.4h1.3M1632.6 772.2h1.3M1626.1 789.1h1.3M1683.5 767.1h1.3M1625.4 788.7h1.3M1667.2 759.4h1.3M1665.6 787.8h1.3M1658.9 782.1h1.3M1661.6 783.8h1.3M1675.8 740.6h1.3M1672.3 765.1h1.3M1666.1 746.9h1.3M1666.0 749.1h1.3M1670.4 748.6h1.3M1664.1 783.9h1.3M1645.1 793.7h1.3M1661.4 760.2h1.3M1666.7 754.6h1.3M1621.8 784.2h1.3M1666.5 780.1h1.3M1656.7 744.7h1.3M1642.8 760.0h1.3M1671.4 758.7h1.3M1629.1 799.6h1.3M1667.6 779.5h1.3M1668.4 743.4h1.3M1630.1 780.3h1.3M1657.0 752.9h1.3M1668.0 758.1h1.3M1650.3 794.1h1.3M1678.6 764.0h1.3M1679.6 755.5h1.3M1662.1 768.1h1.3M1624.3 789.0h1.3M1628.4 787.6h1.3M1654.5 750.6h1.3M1630.0 764.3h1.3M1668.0 742.1h1.3M1659.7 755.4h1.3M1667.0 783.5h1.3M1630.7 799.4h1.3M1662.3 777.7h1.3M1679.4 760.3h1.3M1639.1 800.4h1.3M1647.0 791.0h1.3M1663.1 753.4h1.3M1679.4 762.6h1.3M1629.9 791.5h1.3M1631.0 791.6h1.3M1668.4 751.5h1.3M1643.8 792.9h1.3M1678.8 751.7h1.3M1655.1 755.2h1.3M1659.7 786.8h1.3M1624.7 782.3h1.3M1629.1 769.3h1.3M1638.5 758.4h1.3M1676.2 754.6h1.3M1659.3 752.7h1.3M1641.5 793.5h1.3M1673.9 755.5h1.3M1664.4 761.8h1.3M1684.7 752.4h1.3M1630.2 798.0h1.3M1625.2 776.0h1.3M1640.7 795.3h1.3M1674.3 768.2h1.3M1670.5 776.2h1.3M1637.5 803.6h1.3M1661.4 790.5h1.3M1639.3 757.9h1.3M1666.0 749.2h1.3M1664.5 779.9h1.3M1639.0 783.1h1.3M1628.3 799.0h1.3M1632.1 762.5h1.3M1669.1 748.3h1.3M1677.4 753.0h1.3M1644.1 800.9h1.3M1629.4 764.8h1.3M1629.3 785.9h1.3M1663.1 789.1h1.3M1634.6 791.3h1.3M1635.1 788.8h1.3M1653.5 751.9h1.3M1672.3 763.6h1.3M1635.7 793.7h1.3M1647.0 750.0h1.3M1659.9 788.3h1.3M1671.4 779.4h1.3M1672.2 745.5h1.3M1663.1 782.2h1.3M1637.0 764.0h1.3M1624.1 784.2h1.3M1658.1 770.8h1.3M1631.8 802.8h1.3M1654.3 742.7h1.3M1657.5 752.3h1.3M1661.7 762.3h1.3M1635.5 798.0h1.3M1654.4 795.0h1.3M1648.8 751.5h1.3M1630.5 762.6h1.3M1677.2 753.8h1.3M1665.8 777.5h1.3M1635.0 762.1h1.3M1637.1 760.7h1.3M1667.5 764.8h1.3M1672.1 768.6h1.3M1623.5 783.4h1.3M1685.8 746.6h1.3M1646.5 753.4h1.3M1680.8 751.2h1.3M1681.3 749.4h1.3M1638.8 796.0h1.3M1644.3 798.8h1.3M1675.8 778.8h1.3M1657.1 759.1h1.3M1667.2 751.0h1.3M1669.0 778.7h1.3M1635.1 799.5h1.3M1676.3 757.8h1.3M1673.8 759.5h1.3M1630.2 770.8h1.3M1656.5 750.3h1.3M1669.2 771.7h1.3M1626.1 782.2h1.3M1687.8 729.2h1.3M1657.7 754.5h1.3M1651.2 754.4h1.3M1634.2 761.4h1.3M1667.2 766.4h1.3M1666.1 777.9h1.3M1621.3 788.1h1.3M1668.5 780.3h1.3M1636.6 802.2h1.3M1671.5 759.6h1.3M1672.5 773.2h1.3M1665.3 751.0h1.3M1676.2 757.6h1.3M1644.2 757.1h1.3M1628.2 784.3h1.3M1642.3 756.8h1.3M1665.9 770.1h1.3M1674.6 759.1h1.3M1632.8 795.8h1.3M1645.3 749.5h1.3M1645.6 757.7h1.3M1644.5 785.9h1.3M1652.0 784.8h1.3M1644.1 757.8h1.3M1637.1 797.0h1.3M1635.2 786.4h1.3M1626.9 790.0h1.3M1628.7 795.7h1.3M1628.4 771.3h1.3M1675.6 753.7h1.3M1633.7 790.9h1.3M1669.8 773.4h1.3M1670.9 744.5h1.3M1652.0 755.6h1.3M1650.8 755.5h1.3M1635.4 767.6h1.3M1658.5 778.5h1.3M1665.9 775.2h1.3M1672.6 751.4h1.3M1637.1 790.3h1.3M1679.7 757.6h1.3M1663.5 787.8h1.3M1636.6 760.9h1.3M1669.0 758.5h1.3M1666.3 770.3h1.3M1670.4 750.9h1.3M1673.5 761.5h1.3M1668.3 757.9h1.3M1660.6 790.4h1.3M1624.6 782.0h1.3M1660.2 741.5h1.3M1664.8 779.8h1.3M1624.4 778.4h1.3M1651.0 788.9h1.3M1626.9 789.1h1.3M1624.1 776.0h1.3M1634.4 800.5h1.3M1641.5 759.9h1.3M1627.4 776.7h1.3M1665.1 783.1h1.3M1641.3 799.3h1.3M1639.4 757.0h1.3M1630.5 778.0h1.3M1651.4 791.8h1.3M1675.4 772.3h1.3M1635.0 769.7h1.3M1636.7 757.4h1.3M1666.8 750.0h1.3M1629.5 764.8h1.3M1658.5 747.8h1.3M1621.2 784.7h1.3M1621.1 806.3h1.3M1675.9 759.1h1.3M1636.7 769.5h1.3M1656.0 743.6h1.3M1626.2 779.7h1.3M1630.5 786.3h1.3M1654.0 752.1h1.3M1635.9 761.4h1.3M1641.5 793.9h1.3M1660.8 752.2h1.3M1661.6 786.7h1.3M1650.1 751.6h1.3M1645.2 798.7h1.3M1667.3 760.6h1.3M1640.3 794.6h1.3M1682.1 748.1h1.3M1689.5 734.5h1.3M1670.8 736.5h1.3M1678.5 753.3h1.3M1680.0 733.6h1.3M1696.2 718.8h1.3M1658.8 753.6h1.3M1662.8 780.3h1.3M1680.4 749.2h1.3M1664.7 780.3h1.3M1649.3 788.3h1.3M1680.9 742.8h1.3M1681.3 751.3h1.3M1661.7 747.4h1.3M1631.0 768.2h1.3M1665.0 788.0h1.3M1627.2 782.6h1.3M1681.9 743.3h1.3M1668.8 738.9h1.3M1669.6 777.3h1.3M1646.3 751.6h1.3M1665.4 756.3h1.3M1654.8 742.5h1.3M1664.0 739.0h1.3M1667.1 758.2h1.3M1673.1 746.8h1.3M1623.3 785.6h1.3M1662.0 750.5h1.3M1666.6 750.4h1.3M1631.2 795.6h1.3M1675.5 767.3h1.3M1666.8 748.6h1.3M1681.1 738.7h1.3M1671.0 754.3h1.3M1681.4 767.6h1.3M1672.1 739.7h1.3M1665.4 740.1h1.3M1651.7 793.9h1.3M1682.6 747.1h1.3M1645.9 752.1h1.3M1676.6 743.0h1.3M1640.1 805.3h1.3M1671.0 772.0h1.3M1657.0 737.3h1.3M1666.9 735.4h1.3M1678.2 735.3h1.3M1679.5 746.2h1.3M1671.8 760.1h1.3M1651.5 749.1h1.3M1671.3 746.8h1.3M1673.8 749.8h1.3M1679.9 763.3h1.3M1666.0 753.1h1.3M1677.3 764.7h1.3M1651.7 746.7h1.3M1680.2 744.7h1.3M1646.0 745.6h1.3M1663.8 756.0h1.3M1684.8 752.5h1.3M1664.9 751.8h1.3M1624.1 791.3h1.3M1665.7 765.1h1.3M1667.9 757.1h1.3M1680.0 751.9h1.3M1668.7 742.3h1.3M1643.4 803.2h1.3M1675.1 764.7h1.3M1660.6 765.1h1.3M1674.4 754.8h1.3M1674.1 747.6h1.3M1679.9 750.7h1.3M1677.4 747.8h1.3M1690.1 756.5h1.3M1688.0 738.1h1.3M1663.7 752.4h1.3M1656.3 746.7h1.3M1676.5 760.3h1.3M1637.6 797.7h1.3M1666.7 755.5h1.3M1696.1 722.4h1.3M1623.5 777.0h1.3M1670.9 728.1h1.3M1643.2 751.6h1.3M1638.5 766.9h1.3M1641.5 798.6h1.3M1683.7 751.4h1.3M1667.8 783.1h1.3M1674.7 749.8h1.3M1659.6 745.7h1.3M1681.9 750.6h1.3M1675.4 750.0h1.3M1663.9 734.3h1.3M1646.8 754.3h1.3M1670.0 758.7h1.3M1677.9 766.5h1.3M1676.7 739.6h1.3M1676.3 749.3h1.3M1664.0 763.8h1.3M1665.4 744.3h1.3M1660.0 749.0h1.3M1672.2 757.4h1.3M1634.7 764.9h1.3M1671.9 771.7h1.3M1652.2 751.5h1.3M1652.4 748.5h1.3M1688.3 751.1h1.3M1683.1 752.5h1.3M1666.5 732.4h1.3M1664.7 747.0h1.3M1682.6 734.7h1.3M1676.3 759.2h1.3M1668.5 748.3h1.3M1661.9 747.0h1.3M1650.6 760.9h1.3M1646.0 753.6h1.3M1694.1 722.5h1.3M1671.1 755.3h1.3M1666.9 756.4h1.3M1650.4 746.7h1.3M1793.0 652.8h1.3M1812.7 653.7h1.3M1802.9 670.7h1.3M1809.8 648.6h1.3M1820.9 663.8h1.3M1809.8 647.7h1.3M1806.7 651.7h1.3M1797.4 657.0h1.3M1802.2 664.0h1.3M1808.9 674.1h1.3M1803.6 649.1h1.3M1802.6 652.2h1.3M1809.7 658.8h1.3M1796.3 660.7h1.3M1817.0 653.5h1.3M1815.7 652.3h1.3M1814.4 649.1h1.3M1809.1 671.8h1.3M1816.9 661.2h1.3M1807.8 650.7h1.3M1814.8 657.5h1.3M1802.6 660.0h1.3M1810.0 648.5h1.3M1813.5 669.0h1.3M1809.2 667.1h1.3M1800.6 651.8h1.3M1818.0 669.8h1.3M1821.5 665.1h1.3M1805.1 664.5h1.3M1821.0 649.6h1.3M1815.4 673.4h1.3M1805.4 668.4h1.3M1791.6 668.2h1.3M1800.8 661.4h1.3M1822.3 653.7h1.3M1821.6 665.8h1.3M1803.1 671.2h1.3M1802.1 647.0h1.3M1816.6 655.6h1.3M1802.2 662.1h1.3M1815.9 671.7h1.3M1803.8 662.4h1.3M1808.4 664.7h1.3M1804.1 651.1h1.3M1807.0 647.2h1.3M1811.3 656.9h1.3M1809.1 673.5h1.3M1813.2 670.2h1.3M1803.6 662.1h1.3M1807.5 660.7h1.3M1814.9 662.6h1.3M1814.4 659.2h1.3M1811.6 663.7h1.3M1817.2 659.4h1.3M1812.7 651.7h1.3M1803.0 653.4h1.3M1817.3 667.8h1.3M1814.4 671.2h1.3M1807.1 665.4h1.3M1803.1 673.2h1.3M1798.5 657.1h1.3M1820.8 658.8h1.3M1800.4 672.7h1.3M1802.8 657.7h1.3M1812.4 674.3h1.3M1808.7 667.8h1.3M1797.0 661.1h1.3M1816.4 670.3h1.3M1817.8 666.4h1.3M1808.0 675.1h1.3M1804.4 650.0h1.3M1808.8 656.1h1.3M1802.3 658.9h1.3M1795.6 643.7h1.3M1814.9 647.4h1.3M1790.5 646.7h1.3M1822.1 654.7h1.3M1803.4 679.6h1.3M1807.4 682.6h1.3M1792.7 668.8h1.3M1825.5 654.9h1.3M1806.4 663.1h1.3M1809.4 642.0h1.3M1820.7 652.2h1.3M1812.3 636.6h1.3M1808.4 668.7h1.3M1792.1 645.3h1.3M1782.0 645.1h1.3M1816.8 661.0h1.3M1802.7 678.5h1.3M1791.0 673.8h1.3M1778.5 659.8h1.3M1793.6 658.1h1.3M1794.6 662.8h1.3M1810.0 648.6h1.3M1786.6 664.7h1.3M1806.7 670.9h1.3M1793.5 677.4h1.3M1799.7 650.1h1.3M1835.6 669.1h1.3M1782.5 656.2h1.3M1811.2 646.0h1.3M1822.5 657.2h1.3M1825.7 656.4h1.3M1799.1 648.7h1.3M1786.5 652.9h1.3M1795.4 653.6h1.3M1804.2 642.0h1.3M1815.9 668.6h1.3M1796.4 664.0h1.3M1821.6 650.9h1.3M1783.9 659.2h1.3M1773.6 669.2h1.3M1822.0 653.8h1.3M1774.3 648.8h1.3M1806.0 646.2h1.3M1823.9 659.3h1.3M1792.2 655.3h1.3M1796.2 651.7h1.3M1810.4 641.3h1.3M1784.6 660.0h1.3M1801.6 658.2h1.3M1822.6 647.8h1.3M1803.9 671.3h1.3M1799.9 667.8h1.3M1785.9 668.7h1.3M1799.2 641.3h1.3M1802.7 647.0h1.3M1810.0 641.3h1.3M1815.9 672.9h1.3M1817.5 649.9h1.3M1824.2 646.2h1.3M1799.6 670.5h1.3M1811.7 675.5h1.3M1787.9 662.2h1.3M1800.5 638.6h1.3M1782.4 661.3h1.3M1793.5 658.0h1.3M1819.2 667.8h1.3M1797.4 674.7h1.3M1779.5 654.6h1.3M1816.1 655.9h1.3M1821.5 643.6h1.3M1799.7 677.1h1.3M1804.9 649.0h1.3M1774.5 662.4h1.3M1812.8 653.3h1.3M1803.7 647.5h1.3M1797.0 660.1h1.3M1817.5 672.3h1.3M1815.3 647.9h1.3M1800.8 647.4h1.3M1812.1 670.2h1.3M1796.3 669.4h1.3M1785.1 640.8h1.3M1813.4 665.8h1.3M1796.9 643.2h1.3M1786.9 652.0h1.3M1807.2 650.6h1.3M1821.6 651.5h1.3M1803.5 675.6h1.3M1795.0 662.4h1.3M1810.4 647.0h1.3M1801.6 660.0h1.3M1810.0 653.3h1.3M1815.3 664.5h1.3M1816.5 643.2h1.3M1823.9 649.1h1.3M1805.6 679.2h1.3M1823.5 652.8h1.3M1806.7 648.0h1.3M1798.8 665.8h1.3M1803.9 662.7h1.3M1807.4 667.8h1.3M1791.8 640.4h1.3M1789.7 663.6h1.3M1793.8 675.9h1.3M1793.6 655.4h1.3M1806.1 638.3h1.3M1793.8 656.7h1.3M1809.2 655.3h1.3M1821.5 649.6h1.3M1831.1 659.1h1.3M1793.6 659.2h1.3M1780.4 666.0h1.3M1801.4 667.6h1.3M1799.6 651.5h1.3M1802.9 650.4h1.3M1813.6 655.0h1.3M1805.4 674.5h1.3M1794.1 669.4h1.3M1814.8 665.4h1.3M1798.5 643.5h1.3M1800.3 652.8h1.3M1808.4 669.9h1.3M1792.4 655.5h1.3M1803.0 679.6h1.3M1806.2 636.1h1.3M1806.4 646.2h1.3M1789.3 653.5h1.3M1791.2 661.8h1.3M1802.7 674.6h1.3M1788.4 666.2h1.3M1795.3 657.0h1.3M1799.4 667.8h1.3M1803.8 656.7h1.3M1783.8 658.9h1.3M1812.6 639.5h1.3M1823.5 653.4h1.3M1787.5 665.9h1.3M1784.7 665.8h1.3M1804.3 645.3h1.3M1802.1 642.8h1.3M1779.5 662.4h1.3M1818.6 650.4h1.3M1788.8 669.0h1.3M1791.4 661.7h1.3M1805.1 644.9h1.3M1821.6 650.1h1.3M1789.4 682.9h1.3M1816.2 643.2h1.3M1802.7 677.1h1.3M1783.2 671.7h1.3M1791.4 665.6h1.3M1793.9 665.9h1.3M1823.6 657.5h1.3M1798.9 642.7h1.3M1815.8 670.0h1.3M1817.8 674.8h1.3M1816.8 664.5h1.3M1787.3 658.9h1.3M1818.4 661.3h1.3M1823.6 641.9h1.3M1791.8 656.1h1.3M1776.4 665.1h1.3M1794.8 649.1h1.3M1824.2 653.4h1.3M1793.2 650.1h1.3M1798.6 637.9h1.3M1786.9 659.1h1.3M1803.5 651.4h1.3M1801.0 673.7h1.3M1799.8 640.2h1.3M1794.4 654.3h1.3M1821.4 664.6h1.3M1804.8 672.4h1.3M1815.6 648.3h1.3M1799.4 660.7h1.3M1818.5 675.5h1.3M1817.3 670.9h1.3M1791.2 652.2h1.3M1818.7 647.1h1.3M1810.8 685.7h1.3M1820.7 669.2h1.3M1795.6 674.2h1.3M1805.8 648.9h1.3M1792.8 682.1h1.3M1814.0 657.6h1.3M1803.4 644.7h1.3M1803.8 651.6h1.3M1787.0 657.1h1.3M1786.2 663.7h1.3M1800.3 652.0h1.3M1826.7 653.5h1.3M1814.1 664.9h1.3M1788.5 671.4h1.3M1789.2 640.4h1.3M1802.1 646.1h1.3M1812.8 651.9h1.3M1789.2 654.7h1.3M1815.7 637.4h1.3M1810.2 655.4h1.3M1809.6 667.2h1.3M1822.7 666.7h1.3M1801.0 649.0h1.3M1792.8 659.1h1.3M1804.0 677.8h1.3M1820.4 644.5h1.3M1793.5 666.4h1.3M1820.4 644.4h1.3M1795.9 646.2h1.3M1785.1 665.5h1.3M1818.7 666.1h1.3M1794.6 642.7h1.3M1796.3 654.2h1.3M1804.5 653.4h1.3M1790.4 650.2h1.3M1795.0 662.2h1.3M1819.3 650.0h1.3M1823.1 656.0h1.3M1823.3 650.1h1.3M1782.5 657.8h1.3M1796.3 671.0h1.3M1819.0 654.7h1.3M1812.1 649.8h1.3M1783.7 658.6h1.3M1773.5 652.3h1.3M1823.1 665.0h1.3M1817.6 642.9h1.3M1803.2 668.0h1.3M1800.5 657.0h1.3M1807.5 675.0h1.3M1801.6 659.6h1.3M1785.8 659.9h1.3M1820.7 667.4h1.3M1783.1 658.7h1.3M1798.7 661.2h1.3M1814.0 642.4h1.3M1792.8 656.6h1.3M1818.0 640.7h1.3M1785.9 667.4h1.3M1799.4 667.2h1.3M1787.2 648.3h1.3M1796.7 652.1h1.3M1805.2 646.8h1.3M1788.8 647.7h1.3M1794.9 651.9h1.3M1819.7 661.9h1.3M1817.4 663.4h1.3M1783.7 654.8h1.3M1783.6 672.9h1.3M1830.1 652.7h1.3M1795.0 643.0h1.3M1792.1 641.8h1.3M1793.6 678.7h1.3M1794.1 638.7h1.3M1782.7 653.6h1.3M1802.2 657.8h1.3M1792.3 640.3h1.3M1790.9 660.4h1.3M1821.7 657.2h1.3M1822.8 655.2h1.3M1798.1 641.1h1.3M1777.7 639.4h1.3M1817.2 638.5h1.3M1790.5 662.9h1.3M1788.1 652.1h1.3M1793.1 668.4h1.3M1785.5 654.2h1.3M1822.2 652.7h1.3M1815.1 665.6h1.3M1761.8 659.2h1.3M1784.6 668.2h1.3M1796.3 679.8h1.3M1789.4 668.1h1.3M1823.3 649.3h1.3M1784.7 653.8h1.3M1783.2 666.2h1.3M1799.5 665.3h1.3M1816.3 670.7h1.3M1793.0 631.8h1.3M1827.0 657.8h1.3M1757.5 669.4h1.3M1795.9 654.0h1.3M1787.0 652.0h1.3M1811.6 673.7h1.3M1825.8 659.1h1.3M1826.3 648.6h1.3M1775.1 670.3h1.3M1776.4 641.7h1.3M1805.4 656.4h1.3M1821.1 664.0h1.3M1808.3 677.2h1.3M1785.4 654.3h1.3M1782.4 653.4h1.3M1793.3 642.3h1.3M1822.2 651.6h1.3M1772.5 668.0h1.3M1787.3 639.3h1.3M1807.0 642.3h1.3M1796.4 677.8h1.3M1797.4 653.9h1.3M1772.4 662.5h1.3M1775.9 672.0h1.3M1777.4 680.1h1.3M1788.8 631.9h1.3M1785.9 658.3h1.3M1788.1 652.6h1.3M1790.4 670.7h1.3M1793.0 655.2h1.3M1817.1 645.0h1.3M1790.3 664.0h1.3M1822.6 649.3h1.3M1780.2 651.8h1.3M1796.2 665.9h1.3M1809.2 639.9h1.3M1802.0 677.3h1.3M1801.1 673.3h1.3M1796.6 665.4h1.3M1790.1 647.9h1.3M1771.5 646.6h1.3M1794.9 633.5h1.3M1790.9 661.4h1.3M1790.6 658.2h1.3M1823.5 673.4h1.3M1799.2 672.0h1.3M1810.3 669.2h1.3M1802.5 667.2h1.3M1794.4 653.5h1.3M1795.9 670.1h1.3M1790.9 648.9h1.3M1800.2 680.5h1.3M1797.9 633.6h1.3M1779.5 657.2h1.3M1807.0 645.7h1.3M1778.3 665.1h1.3M1800.9 664.3h1.3M1797.5 638.0h1.3M1780.2 652.4h1.3M1811.1 673.5h1.3M1801.9 673.0h1.3M1793.5 664.3h1.3M1818.9 646.2h1.3M1808.2 648.2h1.3M1809.1 649.5h1.3M1789.7 672.9h1.3M1774.3 659.5h1.3M1772.9 644.0h1.3M1776.2 691.6h1.3M1807.8 648.2h1.3M1792.4 641.7h1.3M1805.2 672.9h1.3M1811.5 662.0h1.3M1802.4 651.9h1.3M1781.5 645.7h1.3M1798.5 664.9h1.3M1794.9 640.5h1.3M1777.5 660.6h1.3M1819.8 650.7h1.3M1786.3 665.8h1.3M1790.8 647.2h1.3M1785.9 658.1h1.3M1779.6 663.4h1.3M1789.1 664.3h1.3M1787.9 677.2h1.3M1786.5 673.3h1.3M1817.7 658.3h1.3M1819.5 667.4h1.3M1797.4 652.4h1.3M1800.9 676.6h1.3M1787.5 652.3h1.3M1776.2 657.9h1.3M1801.7 656.5h1.3M1797.7 644.0h1.3M1784.2 639.8h1.3M1779.0 660.3h1.3M1782.5 670.5h1.3M1790.0 646.9h1.3M1778.8 649.3h1.3M1807.7 648.9h1.3M1816.2 672.5h1.3M1796.9 664.4h1.3M1824.6 657.6h1.3M1793.2 643.4h1.3M1770.4 670.9h1.3M1813.9 635.0h1.3M1808.0 641.1h1.3M1765.9 657.4h1.3M1792.4 657.2h1.3M1820.1 650.2h1.3M1787.6 652.0h1.3M1805.7 636.0h1.3M1804.1 638.3h1.3M1797.8 645.1h1.3M1801.1 636.6h1.3M1763.3 659.8h1.3M1802.1 655.4h1.3M1788.4 636.3h1.3M1794.3 650.0h1.3M1783.2 769.3h1.3M1804.4 746.7h1.3M1799.5 738.0h1.3M1807.7 751.0h1.3M1799.8 761.8h1.3M1801.2 737.7h1.3M1805.4 754.6h1.3M1792.8 760.6h1.3M1801.6 743.0h1.3M1798.3 750.9h1.3M1815.3 743.8h1.3M1802.9 745.6h1.3M1802.4 742.7h1.3M1784.4 770.1h1.3M1804.2 760.4h1.3M1796.6 759.7h1.3M1805.5 750.0h1.3M1794.3 756.9h1.3M1805.3 751.2h1.3M1791.6 756.0h1.3M1801.7 753.6h1.3M1793.0 764.3h1.3M1798.8 761.7h1.3M1813.3 743.5h1.3M1802.5 765.4h1.3M1805.2 737.6h1.3M1799.8 734.6h1.3M1800.2 743.2h1.3M1794.6 755.4h1.3M1796.4 750.5h1.3M1803.8 755.1h1.3M1799.2 741.9h1.3M1803.2 753.7h1.3M1801.0 759.6h1.3M1804.9 745.3h1.3M1807.9 752.9h1.3M1800.3 763.9h1.3M1794.7 760.5h1.3M1802.6 743.0h1.3M1792.7 763.8h1.3M1799.2 747.6h1.3M1792.0 754.4h1.3M1792.8 761.9h1.3M1804.4 752.0h1.3M1802.4 761.5h1.3M1808.6 742.9h1.3M1810.3 749.4h1.3M1806.9 736.9h1.3M1793.4 750.8h1.3M1803.2 744.2h1.3M1792.8 758.4h1.3M1806.0 740.8h1.3M1788.7 753.2h1.3M1807.0 745.7h1.3M1799.6 745.9h1.3M1809.2 747.3h1.3M1801.8 748.8h1.3M1811.5 746.5h1.3M1807.1 749.2h1.3M1789.0 757.7h1.3M1811.5 740.7h1.3M1793.8 766.8h1.3M1804.6 746.0h1.3M1804.3 745.1h1.3M1805.6 748.9h1.3M1793.8 758.3h1.3M1803.5 763.3h1.3M1795.0 760.8h1.3M1810.4 744.8h1.3M1804.3 736.6h1.3M1803.9 738.1h1.3M1799.7 743.0h1.3M1791.4 758.0h1.3M1806.2 747.6h1.3M1796.4 756.8h1.3M1811.3 738.8h1.3M1805.0 760.1h1.3M1801.5 750.0h1.3M1796.7 738.1h1.3M1801.5 745.4h1.3M1797.5 745.5h1.3M1803.3 751.7h1.3M1807.9 751.5h1.3M1789.4 758.9h1.3M1802.0 757.1h1.3M1795.0 758.3h1.3M1784.7 764.3h1.3M1778.7 772.4h1.3M1791.5 765.8h1.3M1801.8 747.5h1.3M1798.3 749.6h1.3M1805.6 745.1h1.3M1786.1 764.4h1.3M1805.9 745.9h1.3M1793.3 755.4h1.3M1789.6 749.4h1.3M1796.8 742.3h1.3M1799.7 752.1h1.3M1802.1 757.9h1.3M1797.0 742.0h1.3M1803.7 754.8h1.3M1780.7 760.9h1.3M1795.4 770.1h1.3M1797.1 761.9h1.3M1800.4 754.6h1.3M1808.5 740.7h1.3M1806.7 748.0h1.3M1788.3 754.4h1.3M1812.8 746.1h1.3M1812.2 748.1h1.3M1794.1 758.6h1.3M1797.8 754.6h1.3M1795.0 762.6h1.3M1794.6 766.4h1.3M1802.3 734.5h1.3M1808.2 748.3h1.3M1805.7 758.2h1.3M1790.5 758.6h1.3M1806.9 742.9h1.3M1800.9 754.0h1.3M1801.4 761.3h1.3M1795.3 759.9h1.3M1793.7 756.9h1.3M1809.1 748.3h1.3M1796.4 747.2h1.3M1785.3 762.9h1.3M1803.1 751.7h1.3M1791.5 756.8h1.3M1807.6 739.2h1.3M1798.6 763.8h1.3M1786.4 763.0h1.3M1800.3 760.2h1.3M1800.4 749.3h1.3M1791.6 745.2h1.3M1814.3 751.1h1.3M1799.9 758.9h1.3M1795.4 769.8h1.3M1799.1 756.9h1.3M1809.7 746.4h1.3M1804.4 740.9h1.3M1798.5 753.2h1.3M1806.4 758.1h1.3M1802.8 748.2h1.3M1792.0 769.0h1.3M1789.8 753.7h1.3M1786.4 738.6h1.3M1790.1 758.6h1.3M1794.4 747.4h1.3M1802.4 751.4h1.3M1793.4 752.6h1.3M1788.0 756.6h1.3M1784.6 755.5h1.3M1803.1 761.0h1.3M1788.6 731.7h1.3M1783.3 748.2h1.3M1808.4 760.7h1.3M1807.9 737.0h1.3M1792.7 762.1h1.3M1764.5 742.8h1.3M1784.7 752.8h1.3M1799.0 763.4h1.3M1813.6 739.4h1.3M1786.3 767.4h1.3M1785.3 753.5h1.3M1810.9 735.8h1.3M1787.5 773.4h1.3M1807.6 745.1h1.3M1810.4 745.6h1.3M1804.9 754.3h1.3M1797.3 752.1h1.3M1809.4 748.3h1.3M1800.3 758.6h1.3M1791.2 745.3h1.3M1803.3 752.2h1.3M1801.4 729.4h1.3M1793.1 762.3h1.3M1791.6 753.2h1.3M1790.7 752.1h1.3M1794.3 759.1h1.3M1804.5 736.8h1.3M1778.6 746.2h1.3M1801.7 738.8h1.3M1800.9 751.3h1.3M1799.6 758.8h1.3M1787.3 759.4h1.3M1780.7 746.5h1.3M1799.0 752.8h1.3M1778.3 663.2h1.3M1687.5 727.2h1.3M1794.7 650.3h1.3M1794.0 669.5h1.3M1656.9 753.1h1.3M1762.5 662.6h1.3M1775.4 659.8h1.3M1780.2 652.2h1.3M1682.9 747.3h1.3M1679.5 767.2h1.3M1686.0 722.5h1.3M1799.2 672.6h1.3M1802.2 647.6h1.3M1777.0 652.3h1.3M1779.0 639.2h1.3M1777.8 637.4h1.3M1784.8 643.9h1.3" stroke="#1a1ad6" stroke-width="1.3" fill="none"/>
<path d="M1628.9 779.7h1.3M1655.1 782.3h1.3M1638.1 774.8h1.3M1638.7 783.7h1.3M1637.7 790.2h1.3M1635.4 768.7h1.3M1631.6 773.3h1.3M1660.2 761.6h1.3M1659.6 761.1h1.3M1640.3 796.6h1.3M1670.6 756.0h1.3M1652.4 788.8h1.3M1638.6 771.9h1.3M1659.4 767.7h1.3M1635.9 779.7h1.3M1629.3 781.0h1.3M1637.2 778.6h1.3M1660.5 774.2h1.3M1643.2 756.7h1.3M1638.0 770.0h1.3M1633.6 773.0h1.3M1654.7 752.3h1.3M1630.2 795.2h1.3M1635.2 787.8h1.3M1637.2 793.2h1.3M1646.7 761.9h1.3M1654.0 762.7h1.3M1628.5 788.4h1.3M1651.7 787.2h1.3M1633.6 784.7h1.3M1644.7 795.2h1.3M1654.7 782.1h1.3M1656.8 758.7h1.3M1639.0 795.2h1.3M1646.7 793.8h1.3M1638.0 765.5h1.3M1646.3 755.6h1.3M1642.5 766.6h1.3M1668.6 772.6h1.3M1663.9 761.8h1.3M1658.5 771.5h1.3M1634.0 789.6h1.3M1652.2 782.8h1.3M1634.2 785.2h1.3M1636.3 763.5h1.3M1651.0 755.7h1.3M1653.1 756.1h1.3M1635.4 791.6h1.3M1631.7 789.7h1.3M1636.3 775.4h1.3M1660.8 754.1h1.3M1663.1 772.2h1.3M1632.2 772.0h1.3M1637.3 772.1h1.3M1655.9 784.4h1.3M1661.8 784.7h1.3M1659.7 774.7h1.3M1645.8 760.1h1.3M1661.8 781.2h1.3M1647.1 760.5h1.3M1650.8 791.5h1.3M1636.8 788.8h1.3M1664.8 763.9h1.3M1655.7 764.2h1.3M1644.1 764.5h1.3M1670.9 765.4h1.3M1647.7 784.8h1.3M1637.5 790.2h1.3M1648.4 776.3h1.3M1654.0 779.0h1.3M1659.5 757.5h1.3M1632.8 777.2h1.3M1630.6 785.7h1.3M1633.0 781.7h1.3M1635.2 766.7h1.3M1658.1 777.3h1.3M1636.2 762.7h1.3M1632.5 777.5h1.3M1652.1 787.4h1.3M1630.8 782.8h1.3M1661.1 755.9h1.3M1631.6 775.1h1.3M1658.9 779.8h1.3M1629.8 788.8h1.3M1660.4 752.0h1.3M1628.9 792.8h1.3M1657.2 761.4h1.3M1632.0 779.5h1.3M1666.1 751.4h1.3M1672.1 759.5h1.3M1650.0 790.7h1.3M1633.8 788.0h1.3M1652.1 755.9h1.3M1647.5 787.4h1.3M1633.4 783.6h1.3M1642.0 759.8h1.3M1643.5 790.2h1.3M1634.0 786.7h1.3M1647.2 792.2h1.3M1636.6 781.1h1.3M1640.9 778.8h1.3M1663.7 761.0h1.3M1655.7 756.8h1.3M1633.7 774.2h1.3M1639.9 791.0h1.3M1669.2 750.1h1.3M1652.3 761.2h1.3M1644.0 792.8h1.3M1638.9 794.4h1.3M1653.3 762.9h1.3M1661.4 758.5h1.3M1636.9 788.1h1.3M1641.9 762.6h1.3M1647.1 766.7h1.3M1651.7 790.5h1.3M1630.7 773.4h1.3M1637.6 777.7h1.3M1659.1 781.3h1.3M1630.9 771.5h1.3M1660.5 776.1h1.3M1648.1 782.1h1.3M1637.8 792.5h1.3M1648.4 762.0h1.3M1658.4 754.0h1.3M1634.0 796.1h1.3M1643.8 787.0h1.3M1634.7 769.1h1.3M1668.2 756.7h1.3M1635.5 765.7h1.3M1644.7 762.1h1.3M1668.7 773.9h1.3M1660.6 752.8h1.3M1657.8 754.3h1.3M1658.2 749.4h1.3M1635.9 790.8h1.3M1630.1 783.6h1.3M1657.3 781.6h1.3M1629.7 773.5h1.3M1665.9 761.1h1.3M1657.7 785.6h1.3M1671.2 758.7h1.3M1667.6 762.0h1.3M1630.3 780.1h1.3M1643.7 793.1h1.3M1638.6 796.3h1.3M1665.1 765.2h1.3M1631.4 771.4h1.3M1669.3 760.0h1.3M1627.6 786.0h1.3M1666.8 749.2h1.3M1642.3 770.2h1.3M1625.6 787.0h1.3M1663.3 759.5h1.3M1643.2 761.3h1.3M1631.8 782.6h1.3M1665.2 758.5h1.3M1657.6 756.8h1.3M1630.4 788.8h1.3M1650.3 760.1h1.3M1667.7 773.1h1.3M1664.5 765.8h1.3M1673.9 772.5h1.3M1666.2 769.2h1.3M1649.7 785.8h1.3M1633.4 776.5h1.3M1660.1 754.7h1.3M1653.4 789.1h1.3M1634.3 781.9h1.3M1633.9 777.3h1.3M1661.8 754.6h1.3M1639.4 781.4h1.3M1666.6 749.8h1.3M1645.8 758.5h1.3M1637.7 797.0h1.3M1645.3 757.5h1.3M1669.6 751.7h1.3M1639.2 763.9h1.3M1659.9 769.8h1.3M1665.4 769.5h1.3M1637.2 795.1h1.3M1663.7 764.2h1.3M1630.8 772.1h1.3M1631.2 774.1h1.3M1649.4 753.5h1.3M1648.0 793.2h1.3M1657.9 787.6h1.3M1628.8 781.8h1.3M1647.5 792.2h1.3M1635.2 781.8h1.3M1639.8 763.4h1.3M1660.8 752.5h1.3M1660.0 786.0h1.3M1658.8 754.7h1.3M1635.5 768.5h1.3M1672.8 759.7h1.3M1668.1 752.9h1.3M1650.1 785.0h1.3M1632.8 770.3h1.3M1670.0 756.6h1.3M1670.7 749.7h1.3M1670.7 763.4h1.3M1652.0 786.9h1.3M1645.0 797.4h1.3M1669.3 744.4h1.3M1665.4 756.4h1.3M1639.0 795.4h1.3M1645.7 761.1h1.3M1667.7 762.4h1.3M1646.0 766.4h1.3M1646.4 794.4h1.3M1678.6 753.8h1.3M1631.6 770.8h1.3M1661.0 747.6h1.3M1639.7 791.9h1.3M1669.1 758.2h1.3M1660.8 750.9h1.3M1646.7 791.8h1.3M1652.3 749.9h1.3M1644.7 790.5h1.3M1632.8 782.4h1.3M1643.9 763.5h1.3M1650.7 749.8h1.3M1655.0 757.7h1.3M1635.3 788.1h1.3M1628.8 781.2h1.3M1667.0 758.1h1.3M1660.2 761.4h1.3M1658.5 778.5h1.3M1650.9 788.7h1.3M1658.3 764.0h1.3M1658.1 785.9h1.3M1639.1 766.2h1.3M1634.2 793.2h1.3M1665.8 768.2h1.3M1661.7 761.2h1.3M1668.0 774.8h1.3M1629.6 778.6h1.3M1666.2 773.6h1.3M1660.0 767.9h1.3M1663.4 759.5h1.3M1665.3 767.5h1.3M1656.3 753.3h1.3M1666.3 773.5h1.3M1634.2 769.5h1.3M1660.8 781.8h1.3M1654.4 785.6h1.3M1641.6 766.6h1.3M1641.7 789.7h1.3M1662.6 763.3h1.3M1629.4 785.2h1.3M1632.6 779.3h1.3M1631.7 781.9h1.3M1637.5 796.0h1.3M1636.8 766.6h1.3M1666.2 757.0h1.3M1648.1 762.9h1.3M1655.7 761.5h1.3M1647.8 758.3h1.3M1631.3 772.0h1.3M1652.1 783.3h1.3M1682.3 754.8h1.3M1665.1 756.5h1.3M1662.5 781.1h1.3M1649.4 790.7h1.3M1668.0 763.1h1.3M1637.2 790.1h1.3M1663.6 774.8h1.3M1636.7 770.5h1.3M1670.0 758.9h1.3M1651.8 749.1h1.3M1634.1 765.1h1.3M1658.5 754.8h1.3M1638.8 762.9h1.3M1626.3 787.2h1.3M1660.4 782.4h1.3M1664.2 774.2h1.3M1659.9 759.8h1.3M1668.0 755.6h1.3M1657.1 755.3h1.3M1657.0 753.9h1.3M1665.7 763.8h1.3M1670.4 753.6h1.3M1660.4 762.2h1.3M1669.1 759.7h1.3M1633.8 788.8h1.3M1657.1 753.8h1.3M1636.8 794.3h1.3M1641.8 760.1h1.3M1650.6 792.6h1.3M1636.9 764.9h1.3M1630.7 779.1h1.3M1670.9 743.9h1.3M1660.7 756.3h1.3M1673.0 751.1h1.3M1630.5 791.5h1.3M1669.5 742.7h1.3M1673.0 767.6h1.3M1633.5 780.1h1.3M1667.5 760.4h1.3M1682.6 749.5h1.3M1666.6 757.8h1.3M1660.0 779.7h1.3M1638.3 763.6h1.3M1662.6 784.3h1.3M1670.1 746.5h1.3M1663.9 754.9h1.3M1636.8 793.3h1.3M1652.7 756.2h1.3M1657.1 753.7h1.3M1633.3 772.8h1.3M1669.2 753.5h1.3M1636.1 794.9h1.3M1662.0 750.5h1.3M1677.3 744.4h1.3M1640.4 764.2h1.3M1667.0 757.4h1.3M1671.3 759.5h1.3M1633.2 775.2h1.3M1636.2 768.8h1.3M1810.4 655.1h1.3M1818.6 665.5h1.3M1797.6 659.3h1.3M1795.8 653.1h1.3M1802.9 660.4h1.3M1813.6 668.1h1.3M1810.9 665.2h1.3M1799.7 657.3h1.3M1810.0 669.5h1.3M1813.9 653.9h1.3M1807.5 670.8h1.3M1808.8 660.2h1.3M1810.6 653.0h1.3M1813.9 648.9h1.3M1809.7 648.1h1.3M1802.2 662.1h1.3M1801.6 663.6h1.3M1813.7 656.4h1.3M1802.6 655.8h1.3M1800.9 648.4h1.3M1804.2 654.0h1.3M1816.5 657.6h1.3M1815.1 655.7h1.3M1798.0 654.2h1.3M1798.1 661.7h1.3M1800.4 661.9h1.3M1812.6 660.4h1.3M1804.5 666.9h1.3M1803.0 666.5h1.3M1808.2 653.8h1.3M1805.7 656.4h1.3M1815.3 668.2h1.3M1807.5 653.0h1.3M1802.3 666.4h1.3M1815.4 654.0h1.3M1802.6 659.3h1.3M1797.9 657.5h1.3M1805.6 660.9h1.3M1807.7 663.0h1.3M1802.9 666.6h1.3M1812.8 657.1h1.3M1814.0 655.7h1.3M1801.7 668.2h1.3M1812.5 664.7h1.3M1813.0 666.8h1.3M1794.1 648.4h1.3M1791.4 658.7h1.3M1801.4 662.3h1.3M1794.9 666.1h1.3M1809.9 668.5h1.3M1783.1 653.1h1.3M1802.4 656.2h1.3M1816.7 650.3h1.3M1812.4 651.4h1.3M1800.6 666.1h1.3M1815.2 662.3h1.3M1811.9 661.1h1.3M1799.7 656.2h1.3M1800.7 660.5h1.3M1785.1 638.1h1.3M1803.2 669.7h1.3M1801.5 661.6h1.3M1812.9 642.0h1.3M1813.2 651.9h1.3M1798.0 658.8h1.3M1807.6 668.2h1.3M1813.5 648.5h1.3M1800.8 658.2h1.3M1800.2 664.2h1.3M1800.0 661.4h1.3M1803.8 662.9h1.3M1787.8 655.1h1.3M1798.4 652.0h1.3M1814.2 654.8h1.3M1808.0 650.8h1.3M1810.9 650.0h1.3M1791.7 664.8h1.3M1796.4 663.7h1.3M1816.0 654.6h1.3M1808.4 658.9h1.3M1796.7 666.5h1.3M1821.4 660.6h1.3M1804.8 655.8h1.3M1815.0 644.7h1.3M1778.9 670.1h1.3M1796.6 651.9h1.3M1805.3 653.7h1.3M1803.5 653.1h1.3M1812.4 665.8h1.3M1797.9 659.5h1.3M1815.0 653.9h1.3M1795.3 658.4h1.3M1806.2 671.6h1.3M1805.2 653.9h1.3M1798.7 657.6h1.3M1818.8 660.0h1.3M1820.7 670.6h1.3M1796.2 664.4h1.3M1796.2 664.7h1.3M1807.5 657.9h1.3M1800.7 667.4h1.3M1796.2 658.6h1.3M1792.5 665.2h1.3M1796.3 666.6h1.3M1805.8 651.0h1.3M1805.5 675.8h1.3M1806.6 659.1h1.3M1799.0 668.5h1.3M1791.3 660.9h1.3M1807.2 670.3h1.3M1798.5 665.2h1.3M1807.7 661.4h1.3M1805.2 666.6h1.3M1788.7 661.1h1.3M1781.9 674.4h1.3M1806.4 648.4h1.3M1801.8 652.4h1.3M1812.1 662.4h1.3M1805.0 650.3h1.3M1801.0 648.1h1.3M1816.4 649.4h1.3M1811.9 665.7h1.3M1785.1 649.3h1.3M1807.0 675.6h1.3M1805.7 667.1h1.3M1799.2 665.7h1.3M1792.0 759.5h1.3M1799.5 758.5h1.3M1800.1 749.0h1.3M1801.8 753.3h1.3M1800.9 755.7h1.3M1804.0 759.8h1.3M1802.3 754.2h1.3M1796.9 758.8h1.3M1796.4 757.2h1.3M1804.6 753.9h1.3M1798.9 758.5h1.3M1802.8 758.9h1.3M1796.6 749.7h1.3M1792.1 764.1h1.3M1802.9 742.4h1.3M1797.2 750.2h1.3M1806.2 753.5h1.3M1796.5 763.7h1.3M1797.7 745.1h1.3M1794.5 761.9h1.3M1800.4 750.6h1.3M1794.4 760.2h1.3M1805.0 751.6h1.3M1799.6 746.9h1.3M1798.9 753.3h1.3M1806.6 738.7h1.3M1793.7 752.9h1.3M1800.9 754.9h1.3M1788.1 764.2h1.3M1800.6 748.3h1.3M1791.3 758.2h1.3M1796.7 758.0h1.3M1807.0 757.0h1.3M1792.7 752.1h1.3M1800.3 751.0h1.3M1797.3 760.0h1.3M1806.0 753.4h1.3M1794.0 757.4h1.3M1667.2 760.9h1.3" stroke="#1464ff" stroke-width="1.3" fill="none"/>
<path d="M1648.7 767.8h1.3M1658.1 771.3h1.3M1636.8 772.8h1.3M1646.3 772.3h1.3M1645.5 759.3h1.3M1658.5 763.8h1.3M1644.3 780.5h1.3M1636.1 787.7h1.3M1645.3 782.8h1.3M1649.7 762.7h1.3M1640.8 777.5h1.3M1649.1 761.3h1.3M1635.5 770.0h1.3M1657.6 783.8h1.3M1643.2 764.6h1.3M1647.5 762.5h1.3M1631.3 775.3h1.3M1635.5 790.0h1.3M1665.8 765.5h1.3M1649.3 769.2h1.3M1641.4 770.6h1.3M1645.4 767.5h1.3M1655.8 769.9h1.3M1649.5 776.5h1.3M1650.5 782.4h1.3M1635.0 780.1h1.3M1650.6 787.9h1.3M1639.6 777.1h1.3M1656.6 768.0h1.3M1648.5 780.0h1.3M1654.6 784.5h1.3M1661.8 766.4h1.3M1641.5 757.8h1.3M1654.6 760.2h1.3M1633.1 781.1h1.3M1630.9 781.8h1.3M1633.4 786.6h1.3M1638.9 776.7h1.3M1638.3 789.6h1.3M1638.1 784.7h1.3M1651.9 770.5h1.3M1649.7 783.6h1.3M1658.7 766.1h1.3M1641.3 766.1h1.3M1656.9 761.0h1.3M1657.0 783.8h1.3M1646.3 782.9h1.3M1639.6 770.4h1.3M1646.4 783.6h1.3M1655.1 772.7h1.3M1636.9 782.6h1.3M1653.6 788.6h1.3M1659.5 770.6h1.3M1638.9 771.2h1.3M1650.9 770.1h1.3M1658.6 773.5h1.3M1651.9 761.0h1.3M1637.9 767.9h1.3M1655.4 790.1h1.3M1647.9 783.6h1.3M1633.9 790.9h1.3M1655.2 758.5h1.3M1662.6 770.9h1.3M1653.0 773.2h1.3M1636.5 777.9h1.3M1661.6 781.5h1.3M1653.7 756.0h1.3M1662.8 765.4h1.3M1658.2 772.0h1.3M1647.9 792.0h1.3M1645.7 781.6h1.3M1630.4 782.1h1.3M1661.4 766.7h1.3M1635.4 780.5h1.3M1655.7 777.3h1.3M1632.3 778.6h1.3M1647.0 766.6h1.3M1647.5 772.4h1.3M1637.8 773.7h1.3M1652.3 762.2h1.3M1656.7 768.6h1.3M1645.3 781.0h1.3M1657.0 782.8h1.3M1645.6 785.8h1.3M1640.1 777.4h1.3M1658.6 757.7h1.3M1644.6 790.9h1.3M1645.7 793.5h1.3M1647.7 768.0h1.3M1650.0 767.8h1.3M1638.7 775.9h1.3M1647.7 760.9h1.3M1658.4 761.3h1.3M1647.3 777.8h1.3M1637.1 764.1h1.3M1638.7 789.4h1.3M1637.3 779.6h1.3M1653.2 781.8h1.3M1639.9 777.5h1.3M1653.6 770.8h1.3M1649.7 765.3h1.3M1642.6 785.3h1.3M1663.7 764.9h1.3M1658.0 773.3h1.3M1659.0 761.7h1.3M1658.7 768.9h1.3M1640.3 772.6h1.3M1646.3 789.3h1.3M1658.2 775.6h1.3M1640.9 777.4h1.3M1633.4 784.5h1.3M1632.4 774.9h1.3M1648.5 781.2h1.3M1638.0 771.8h1.3M1635.1 784.7h1.3M1655.8 784.8h1.3M1658.7 781.2h1.3M1654.8 762.5h1.3M1652.9 782.2h1.3M1647.2 761.8h1.3M1638.4 783.6h1.3M1634.5 768.8h1.3M1637.7 792.7h1.3M1650.4 777.6h1.3M1662.1 777.9h1.3M1637.6 782.6h1.3M1654.8 754.6h1.3M1640.8 770.7h1.3M1657.5 774.0h1.3M1662.1 767.5h1.3M1660.8 781.6h1.3M1661.1 763.4h1.3M1658.9 770.9h1.3M1636.3 783.8h1.3M1654.1 784.2h1.3M1651.4 756.8h1.3M1634.7 770.9h1.3M1634.5 782.9h1.3M1649.7 778.3h1.3M1644.2 789.5h1.3M1660.7 765.7h1.3M1651.4 785.5h1.3M1657.3 777.0h1.3M1637.1 780.6h1.3M1642.4 765.9h1.3M1650.7 767.8h1.3M1654.6 779.2h1.3M1637.0 790.4h1.3M1668.3 767.9h1.3M1636.7 785.2h1.3M1641.6 786.3h1.3M1636.9 782.2h1.3M1663.1 767.0h1.3M1638.9 772.1h1.3M1653.8 756.8h1.3M1655.6 760.6h1.3M1651.2 765.2h1.3M1635.3 786.4h1.3M1644.1 789.1h1.3M1656.8 756.4h1.3M1638.1 782.0h1.3M1658.6 766.1h1.3M1647.9 768.2h1.3M1659.4 775.8h1.3M1644.6 759.9h1.3M1652.1 767.1h1.3M1644.1 763.1h1.3M1645.4 786.7h1.3M1653.3 790.6h1.3M1639.4 779.1h1.3M1658.1 785.3h1.3M1666.5 758.1h1.3M1661.4 760.0h1.3M1659.9 775.2h1.3M1642.3 765.6h1.3M1640.1 779.9h1.3M1644.4 790.9h1.3M1646.9 783.5h1.3M1663.1 767.6h1.3M1637.6 792.2h1.3M1663.9 777.2h1.3M1638.5 770.0h1.3M1655.1 783.4h1.3M1649.9 781.8h1.3M1653.5 788.8h1.3M1646.2 787.1h1.3M1655.7 776.2h1.3M1640.9 788.4h1.3M1654.6 781.6h1.3M1641.3 773.8h1.3M1640.4 769.8h1.3M1663.3 763.2h1.3M1636.8 767.4h1.3M1662.6 772.3h1.3M1655.2 763.1h1.3M1655.7 773.2h1.3M1660.5 762.7h1.3M1639.8 774.0h1.3M1653.4 760.7h1.3M1657.0 783.8h1.3M1636.7 782.9h1.3M1647.9 764.5h1.3M1657.6 761.2h1.3M1658.0 766.6h1.3M1643.6 779.9h1.3M1644.8 775.4h1.3M1662.9 775.3h1.3M1647.3 763.5h1.3M1646.3 760.8h1.3M1639.8 789.3h1.3M1655.1 759.9h1.3M1639.8 791.2h1.3M1647.8 773.9h1.3M1650.1 783.9h1.3M1652.5 782.8h1.3M1653.7 771.9h1.3M1638.7 783.3h1.3M1634.6 779.5h1.3M1657.4 782.3h1.3M1632.8 775.0h1.3M1657.7 762.8h1.3M1655.9 780.3h1.3M1645.8 777.1h1.3M1642.5 787.4h1.3M1648.0 775.1h1.3M1647.7 773.6h1.3M1634.2 772.5h1.3M1636.6 775.0h1.3M1648.2 783.8h1.3M1658.8 779.2h1.3M1661.1 758.8h1.3M1657.2 759.9h1.3M1629.7 778.9h1.3M1650.6 776.0h1.3M1665.8 752.3h1.3M1658.2 765.2h1.3M1651.5 774.5h1.3M1653.7 754.4h1.3M1661.3 768.3h1.3M1646.9 785.3h1.3M1660.2 778.1h1.3M1633.4 786.1h1.3M1643.5 773.0h1.3M1642.1 777.2h1.3M1633.6 774.8h1.3M1662.4 776.4h1.3M1649.5 777.3h1.3M1639.9 783.8h1.3M1662.9 763.1h1.3M1647.4 764.4h1.3M1640.1 766.5h1.3M1634.9 785.8h1.3M1660.1 771.4h1.3M1640.1 776.9h1.3M1650.2 790.3h1.3M1628.5 775.9h1.3M1641.5 792.4h1.3M1639.3 779.8h1.3M1664.8 770.1h1.3M1634.2 791.2h1.3M1647.5 764.7h1.3M1649.8 765.6h1.3M1659.8 761.3h1.3M1630.7 778.3h1.3M1654.7 781.0h1.3M1636.9 779.3h1.3M1640.6 787.3h1.3M1639.5 770.7h1.3M1640.7 762.1h1.3M1644.5 767.6h1.3M1661.0 766.7h1.3M1663.5 772.6h1.3M1653.3 766.6h1.3M1637.7 787.8h1.3M1642.3 792.9h1.3M1648.8 785.4h1.3M1640.6 774.3h1.3M1653.9 759.6h1.3M1647.9 774.6h1.3M1655.4 784.1h1.3M1662.7 759.8h1.3M1636.2 785.9h1.3M1645.3 787.3h1.3M1644.8 785.2h1.3M1670.6 769.4h1.3M1662.0 764.4h1.3M1641.7 785.6h1.3M1636.9 770.5h1.3M1657.0 786.2h1.3M1630.6 779.3h1.3M1659.7 778.2h1.3M1659.8 772.2h1.3M1649.2 769.5h1.3M1639.2 769.2h1.3M1642.8 764.5h1.3M1649.9 785.8h1.3M1633.4 776.9h1.3M1649.9 774.1h1.3M1662.7 767.2h1.3M1643.2 788.1h1.3M1657.9 773.5h1.3M1663.6 770.5h1.3M1639.7 784.7h1.3M1663.3 769.1h1.3M1646.9 788.0h1.3M1643.8 780.3h1.3M1655.6 779.6h1.3M1649.9 785.4h1.3M1633.1 771.2h1.3M1655.5 766.0h1.3M1641.8 786.2h1.3M1653.6 760.4h1.3M1638.4 787.8h1.3M1651.7 766.3h1.3M1660.8 757.1h1.3M1646.4 775.7h1.3M1660.1 772.1h1.3M1642.8 766.6h1.3M1650.7 784.7h1.3M1644.6 792.1h1.3M1638.9 765.8h1.3M1650.0 758.5h1.3M1637.8 780.4h1.3M1641.2 772.6h1.3M1637.5 785.8h1.3M1644.6 758.2h1.3M1642.2 774.8h1.3M1633.3 777.3h1.3M1656.6 781.3h1.3M1645.6 782.1h1.3M1649.5 763.9h1.3M1647.0 761.8h1.3M1652.3 786.6h1.3M1665.5 776.5h1.3M1647.2 765.8h1.3M1651.2 767.3h1.3M1635.9 768.7h1.3M1637.2 784.6h1.3M1640.5 767.8h1.3M1644.1 771.5h1.3M1643.2 765.1h1.3M1661.6 764.5h1.3M1659.4 752.6h1.3M1650.8 770.6h1.3M1662.7 758.9h1.3M1634.7 792.5h1.3M1658.1 773.7h1.3M1631.5 774.9h1.3M1644.2 782.9h1.3M1638.3 778.9h1.3M1635.1 783.1h1.3M1655.1 767.9h1.3M1654.0 756.9h1.3M1651.5 762.8h1.3M1652.1 775.5h1.3M1655.4 776.1h1.3M1642.3 789.8h1.3M1633.1 783.3h1.3M1656.1 772.9h1.3M1656.5 783.7h1.3M1628.3 778.0h1.3M1638.3 789.1h1.3M1653.3 746.4h1.3M1656.9 757.1h1.3M1653.2 788.3h1.3M1672.3 770.1h1.3M1654.8 783.3h1.3M1651.1 778.3h1.3M1653.4 761.2h1.3M1640.5 783.4h1.3M1651.9 776.5h1.3M1647.5 775.3h1.3M1639.9 782.0h1.3M1642.4 773.2h1.3M1650.0 782.3h1.3M1663.3 768.8h1.3M1663.5 777.9h1.3M1660.6 761.6h1.3M1651.2 782.2h1.3M1655.7 780.3h1.3M1661.6 770.3h1.3M1661.2 761.3h1.3M1650.2 759.3h1.3M1655.5 783.5h1.3M1649.2 777.2h1.3M1659.5 760.1h1.3M1667.7 763.6h1.3M1648.2 769.9h1.3M1655.8 768.4h1.3M1653.0 780.6h1.3M1645.4 781.2h1.3M1638.5 769.8h1.3M1637.3 774.1h1.3M1659.7 760.3h1.3M1656.8 783.4h1.3M1638.8 784.5h1.3M1653.9 764.1h1.3M1658.2 782.9h1.3M1641.3 773.3h1.3M1646.2 780.5h1.3M1645.8 781.4h1.3M1646.1 787.3h1.3M1633.8 783.8h1.3M1639.1 764.5h1.3M1660.8 762.6h1.3M1664.5 776.1h1.3M1638.8 785.0h1.3M1639.6 773.8h1.3M1661.2 765.2h1.3M1654.8 760.4h1.3M1648.4 771.9h1.3M1650.7 757.4h1.3M1661.4 776.5h1.3M1633.8 777.6h1.3M1648.8 787.8h1.3M1647.6 765.0h1.3M1656.6 783.3h1.3M1652.3 780.5h1.3M1639.5 774.3h1.3M1646.6 786.2h1.3M1643.9 764.5h1.3M1641.2 765.3h1.3M1635.6 780.4h1.3M1656.5 768.1h1.3M1636.4 794.0h1.3M1659.8 761.4h1.3M1648.9 786.9h1.3M1662.6 767.5h1.3M1634.6 787.9h1.3M1654.9 776.6h1.3M1646.3 761.7h1.3M1636.4 778.0h1.3M1652.3 765.9h1.3M1639.6 774.2h1.3M1641.0 778.0h1.3M1641.4 790.5h1.3M1640.7 789.7h1.3M1659.7 775.0h1.3M1631.4 770.1h1.3M1640.1 768.9h1.3M1660.6 773.3h1.3M1640.4 768.6h1.3M1648.5 760.0h1.3M1656.2 783.5h1.3M1640.0 770.6h1.3M1645.9 763.2h1.3M1652.7 762.0h1.3M1646.7 778.8h1.3M1635.9 779.1h1.3M1639.8 771.0h1.3M1653.7 776.5h1.3M1648.0 786.9h1.3M1648.0 762.5h1.3M1636.7 774.3h1.3M1648.4 780.7h1.3M1653.6 764.1h1.3M1637.5 789.0h1.3M1646.8 767.6h1.3M1645.0 780.4h1.3M1657.9 763.9h1.3M1650.8 776.4h1.3M1638.6 782.2h1.3M1635.5 785.0h1.3M1658.2 781.3h1.3M1634.7 790.7h1.3M1662.1 769.6h1.3M1644.8 779.1h1.3M1649.4 786.9h1.3M1657.1 777.6h1.3M1644.0 789.0h1.3M1659.7 756.9h1.3M1637.1 778.4h1.3M1655.5 781.5h1.3M1642.0 785.5h1.3M1644.6 763.8h1.3M1661.8 767.7h1.3M1646.5 770.5h1.3M1654.6 758.4h1.3M1647.3 762.5h1.3M1641.8 783.5h1.3M1655.1 766.3h1.3M1649.4 774.5h1.3M1639.2 783.1h1.3M1641.3 771.1h1.3M1632.0 790.4h1.3M1652.1 757.9h1.3M1636.3 790.5h1.3M1637.8 790.9h1.3M1658.5 761.4h1.3M1657.2 776.1h1.3M1650.6 780.5h1.3M1643.3 789.4h1.3M1630.4 779.3h1.3M1646.0 762.9h1.3M1641.1 769.3h1.3M1643.8 770.8h1.3M1645.1 769.2h1.3M1658.7 775.2h1.3M1648.5 783.8h1.3M1639.4 773.2h1.3M1644.7 782.7h1.3M1661.0 772.8h1.3M1657.0 754.7h1.3M1656.3 757.6h1.3M1640.7 770.7h1.3M1646.2 788.4h1.3M1626.5 775.6h1.3M1628.6 786.7h1.3M1665.0 770.9h1.3M1637.9 790.2h1.3M1637.5 792.2h1.3M1640.1 785.5h1.3M1668.1 762.3h1.3M1647.9 760.9h1.3M1639.7 783.8h1.3M1664.3 773.2h1.3M1667.8 759.2h1.3M1663.0 764.5h1.3M1635.7 775.1h1.3M1632.1 772.9h1.3M1655.3 760.1h1.3M1637.2 786.2h1.3M1641.0 761.6h1.3M1632.4 788.6h1.3M1648.5 784.1h1.3M1647.8 786.5h1.3M1650.8 760.9h1.3M1637.1 783.9h1.3M1641.7 775.5h1.3M1645.0 789.8h1.3M1650.6 765.7h1.3M1639.5 766.7h1.3M1646.3 756.8h1.3M1652.7 755.7h1.3M1648.8 768.8h1.3M1658.0 778.6h1.3M1651.6 779.6h1.3M1640.6 776.8h1.3M1633.6 769.0h1.3M1635.9 783.0h1.3M1661.0 754.4h1.3M1649.2 765.3h1.3M1652.3 769.6h1.3M1655.1 759.0h1.3M1649.6 760.7h1.3M1651.8 790.9h1.3M1660.4 755.3h1.3M1662.9 771.1h1.3M1641.7 760.1h1.3M1647.8 789.5h1.3M1659.3 764.2h1.3M1655.7 785.9h1.3M1646.2 761.7h1.3M1641.1 779.6h1.3M1669.6 755.0h1.3M1658.2 766.6h1.3M1659.3 762.3h1.3M1656.9 766.9h1.3M1642.4 778.3h1.3M1641.8 794.7h1.3M1636.3 783.4h1.3M1658.9 773.8h1.3M1644.5 766.0h1.3M1669.7 772.7h1.3M1632.1 781.2h1.3M1662.6 771.4h1.3M1646.5 794.2h1.3M1655.4 760.8h1.3M1660.2 768.4h1.3M1663.3 750.6h1.3M1661.2 766.8h1.3M1659.0 776.9h1.3M1643.0 778.4h1.3M1643.8 768.4h1.3M1656.7 771.4h1.3M1637.8 785.0h1.3M1668.0 775.1h1.3M1650.9 785.1h1.3M1666.3 768.3h1.3M1669.7 762.2h1.3M1643.8 768.0h1.3M1645.6 760.6h1.3M1657.4 754.7h1.3M1636.2 772.6h1.3M1642.3 790.3h1.3M1641.4 777.7h1.3M1633.7 775.9h1.3M1660.1 759.6h1.3M1654.7 763.6h1.3M1650.4 771.7h1.3M1654.0 759.9h1.3M1661.1 781.5h1.3M1665.0 765.8h1.3M1631.9 785.4h1.3M1633.8 792.8h1.3M1640.8 789.5h1.3M1631.2 783.5h1.3M1636.9 778.0h1.3M1651.0 783.4h1.3M1662.1 769.6h1.3M1646.1 791.0h1.3M1654.8 758.4h1.3M1656.4 775.9h1.3M1660.1 775.0h1.3M1661.4 765.2h1.3M1635.5 794.1h1.3M1631.7 783.8h1.3M1636.1 787.6h1.3M1666.5 754.1h1.3M1656.7 786.6h1.3M1639.3 791.6h1.3M1650.6 778.5h1.3M1640.8 779.2h1.3M1660.0 768.0h1.3M1654.0 785.5h1.3M1641.1 787.9h1.3M1660.4 766.4h1.3M1662.9 763.5h1.3M1641.9 770.8h1.3M1660.9 763.8h1.3M1642.9 776.5h1.3M1658.7 776.9h1.3M1648.1 758.2h1.3M1646.1 758.0h1.3M1669.2 755.9h1.3M1650.1 757.1h1.3M1637.3 775.8h1.3M1668.3 774.5h1.3M1645.3 785.4h1.3M1665.4 762.7h1.3M1639.2 768.9h1.3M1641.7 769.1h1.3M1630.9 771.8h1.3M1638.1 769.0h1.3M1666.4 761.4h1.3M1658.0 769.3h1.3M1637.8 786.2h1.3M1675.3 760.4h1.3M1656.0 777.4h1.3M1637.7 795.0h1.3M1649.5 780.4h1.3M1642.8 763.3h1.3M1655.5 760.0h1.3M1650.4 785.0h1.3M1666.1 768.2h1.3M1653.9 757.2h1.3M1656.9 757.3h1.3M1662.6 776.8h1.3M1630.0 776.6h1.3M1661.0 749.7h1.3M1656.7 771.4h1.3M1655.9 771.0h1.3M1643.3 786.3h1.3M1645.3 789.0h1.3M1659.3 776.2h1.3M1639.4 778.2h1.3M1665.9 759.4h1.3M1644.0 759.7h1.3M1631.1 790.4h1.3M1653.8 753.4h1.3M1630.5 791.9h1.3M1646.0 767.4h1.3M1647.6 762.4h1.3M1668.4 765.1h1.3M1658.8 774.8h1.3M1649.4 756.5h1.3M1640.4 765.2h1.3M1639.2 774.5h1.3M1639.9 786.4h1.3M1638.6 764.5h1.3M1654.1 784.2h1.3M1656.6 756.1h1.3M1638.5 777.7h1.3M1636.2 780.0h1.3M1637.3 763.5h1.3M1653.8 752.9h1.3M1645.7 768.1h1.3M1639.2 767.9h1.3M1666.7 759.9h1.3M1634.8 791.0h1.3M1654.2 777.1h1.3M1642.4 787.8h1.3M1661.7 770.7h1.3M1638.1 785.9h1.3M1654.2 778.8h1.3M1637.9 793.7h1.3M1663.9 750.0h1.3M1661.3 771.4h1.3M1637.5 765.5h1.3M1639.0 778.3h1.3M1633.9 777.0h1.3M1644.8 760.4h1.3M1650.1 757.3h1.3M1631.6 787.2h1.3M1661.9 771.2h1.3M1659.4 755.7h1.3M1653.7 775.2h1.3M1637.9 773.1h1.3M1656.8 762.8h1.3M1637.6 779.1h1.3M1653.9 788.1h1.3M1640.0 767.9h1.3M1644.0 785.0h1.3M1653.2 753.5h1.3M1665.6 754.8h1.3M1643.6 762.7h1.3M1630.2 779.0h1.3M1662.6 769.0h1.3M1648.9 774.5h1.3M1634.6 775.4h1.3M1634.8 782.5h1.3M1647.4 781.2h1.3M1655.2 778.6h1.3M1640.5 789.8h1.3M1655.4 780.4h1.3M1630.0 789.9h1.3M1647.4 763.8h1.3M1644.1 787.7h1.3M1638.2 786.8h1.3M1639.4 791.0h1.3M1639.4 787.0h1.3M1639.9 786.6h1.3M1661.7 761.1h1.3M1663.1 771.1h1.3M1662.2 773.1h1.3M1650.0 785.5h1.3M1659.7 774.9h1.3M1657.5 759.4h1.3M1646.1 770.8h1.3M1637.0 771.8h1.3M1665.4 761.2h1.3M1652.2 783.5h1.3M1660.1 764.4h1.3M1657.7 780.2h1.3M1653.3 747.6h1.3M1644.4 765.5h1.3M1653.7 759.4h1.3M1640.1 772.5h1.3M1654.8 762.1h1.3M1644.3 757.4h1.3M1658.5 759.8h1.3M1653.3 758.1h1.3M1629.5 788.2h1.3M1664.2 748.9h1.3M1653.1 749.2h1.3M1664.2 765.3h1.3M1652.8 764.2h1.3M1646.1 770.4h1.3M1653.4 757.9h1.3M1649.4 753.2h1.3M1634.5 781.2h1.3M1626.9 782.2h1.3M1640.4 774.8h1.3M1663.0 754.1h1.3M1649.1 759.8h1.3M1642.7 784.8h1.3M1652.4 787.9h1.3M1652.3 785.0h1.3M1639.4 764.7h1.3M1640.8 765.9h1.3M1642.3 784.8h1.3M1662.6 775.8h1.3M1639.7 790.3h1.3M1653.9 777.5h1.3M1648.9 782.2h1.3M1661.5 777.5h1.3M1664.1 766.7h1.3M1659.4 757.1h1.3M1669.2 767.0h1.3M1642.1 775.4h1.3M1641.6 792.3h1.3M1639.5 778.2h1.3M1657.1 759.4h1.3M1651.4 763.0h1.3M1646.3 757.8h1.3M1650.7 765.1h1.3M1658.9 757.4h1.3M1642.7 764.7h1.3M1657.5 773.1h1.3M1664.8 746.8h1.3M1654.9 765.6h1.3M1660.5 759.0h1.3M1642.7 763.2h1.3M1635.3 785.9h1.3M1639.3 783.1h1.3M1632.8 793.5h1.3M1662.9 759.6h1.3M1644.0 762.8h1.3M1654.1 786.1h1.3M1643.3 766.8h1.3M1658.6 762.7h1.3M1662.9 758.9h1.3M1655.5 755.7h1.3M1641.2 765.0h1.3M1647.3 784.9h1.3M1660.3 769.1h1.3M1669.7 763.8h1.3M1658.0 773.3h1.3M1643.3 780.2h1.3M1649.3 786.3h1.3M1655.9 779.4h1.3M1632.7 788.9h1.3M1662.4 762.9h1.3M1641.8 759.5h1.3M1637.3 785.0h1.3M1651.5 757.6h1.3M1639.2 785.4h1.3M1658.1 776.5h1.3M1667.9 768.3h1.3M1655.4 782.9h1.3M1665.0 778.5h1.3M1641.8 766.1h1.3M1634.2 779.6h1.3M1631.9 778.2h1.3M1660.3 781.3h1.3M1642.6 794.1h1.3M1667.1 762.2h1.3M1657.3 782.8h1.3M1655.4 780.4h1.3M1657.9 753.0h1.3M1647.8 756.1h1.3M1649.5 759.5h1.3M1635.9 765.9h1.3M1650.6 759.5h1.3M1640.4 783.6h1.3M1650.6 787.0h1.3M1632.1 786.1h1.3M1637.3 774.2h1.3M1661.7 762.4h1.3M1645.6 759.1h1.3M1646.0 764.9h1.3M1649.8 760.2h1.3M1662.3 770.3h1.3M1641.6 768.0h1.3M1644.1 760.0h1.3M1661.5 771.7h1.3M1654.8 786.0h1.3M1638.3 776.5h1.3M1649.9 755.2h1.3M1641.6 791.7h1.3M1663.4 754.9h1.3M1661.8 763.6h1.3M1644.3 775.0h1.3M1661.2 775.2h1.3M1660.1 769.4h1.3M1652.3 786.0h1.3M1635.7 764.5h1.3M1644.7 759.8h1.3M1637.5 783.4h1.3M1636.8 774.7h1.3M1642.7 781.8h1.3M1646.8 783.3h1.3M1651.3 782.8h1.3M1638.5 771.5h1.3M1664.0 751.9h1.3M1656.1 754.4h1.3M1631.4 776.3h1.3M1647.5 759.6h1.3M1655.8 781.5h1.3M1660.6 771.3h1.3M1668.2 771.2h1.3M1643.2 785.3h1.3M1644.7 769.0h1.3M1646.0 758.9h1.3M1649.1 757.5h1.3M1665.8 764.8h1.3M1660.7 761.0h1.3M1642.2 763.4h1.3M1651.3 784.9h1.3M1643.5 793.9h1.3M1662.6 769.8h1.3M1663.1 755.2h1.3M1663.4 779.5h1.3M1637.5 790.4h1.3M1647.1 784.4h1.3M1653.9 785.1h1.3M1642.1 763.0h1.3M1644.2 768.0h1.3M1639.8 788.0h1.3M1635.4 798.2h1.3M1648.3 764.7h1.3M1634.9 785.7h1.3M1646.0 760.9h1.3M1665.0 759.5h1.3M1661.4 771.9h1.3M1641.8 786.0h1.3M1638.8 788.0h1.3M1642.0 764.9h1.3M1651.8 755.4h1.3M1642.6 757.7h1.3M1662.4 759.7h1.3M1657.6 768.5h1.3M1641.2 761.5h1.3M1628.4 788.0h1.3M1646.9 761.7h1.3M1648.7 774.8h1.3M1647.4 784.8h1.3M1665.9 759.0h1.3M1632.0 777.9h1.3M1664.8 769.9h1.3M1660.0 752.9h1.3M1636.1 793.8h1.3M1664.2 769.5h1.3M1654.6 755.9h1.3M1653.7 757.0h1.3M1648.6 791.4h1.3M1638.9 768.4h1.3M1660.3 768.4h1.3M1634.5 789.5h1.3M1669.2 755.7h1.3M1640.1 761.6h1.3M1655.8 755.5h1.3M1656.9 774.9h1.3M1657.4 763.8h1.3M1630.5 781.9h1.3M1649.4 759.3h1.3M1661.2 750.0h1.3M1662.5 762.7h1.3M1652.6 755.0h1.3M1664.4 763.4h1.3M1659.8 758.0h1.3M1650.0 777.6h1.3M1659.7 761.3h1.3M1657.4 768.5h1.3M1653.6 787.2h1.3M1664.6 769.6h1.3M1661.6 762.7h1.3M1646.7 757.3h1.3M1639.0 769.0h1.3M1652.0 782.2h1.3M1641.6 762.1h1.3M1648.1 764.8h1.3M1659.4 753.2h1.3M1646.9 758.1h1.3M1659.8 777.2h1.3M1809.8 657.3h1.3M1806.0 659.7h1.3M1813.5 654.6h1.3M1804.8 665.4h1.3M1803.7 665.7h1.3M1810.2 664.2h1.3M1812.7 657.8h1.3M1801.1 665.1h1.3M1798.8 657.3h1.3M1809.6 659.8h1.3M1806.8 660.0h1.3M1809.3 654.9h1.3M1812.5 664.9h1.3M1798.9 658.6h1.3M1802.2 657.5h1.3M1818.2 658.2h1.3M1808.2 657.0h1.3M1807.2 657.0h1.3M1808.8 662.0h1.3M1802.1 660.2h1.3M1803.5 661.2h1.3M1796.8 656.1h1.3M1805.4 659.6h1.3M1809.9 656.3h1.3M1805.1 659.4h1.3M1812.5 662.9h1.3M1806.6 665.8h1.3M1808.1 668.5h1.3M1807.6 655.2h1.3M1817.2 658.8h1.3M1817.0 659.4h1.3M1808.5 657.6h1.3M1815.2 662.5h1.3M1805.9 662.1h1.3M1812.2 656.0h1.3M1810.1 662.6h1.3M1808.7 664.9h1.3M1807.9 659.3h1.3M1801.1 658.8h1.3M1804.2 669.5h1.3M1809.0 660.9h1.3M1809.3 649.0h1.3M1809.0 661.9h1.3M1806.6 662.1h1.3M1807.9 650.7h1.3M1812.2 658.3h1.3M1804.9 660.0h1.3M1808.9 658.8h1.3M1807.7 668.5h1.3M1811.4 658.6h1.3M1806.2 658.2h1.3M1803.7 652.4h1.3M1811.5 664.0h1.3M1806.5 662.9h1.3M1814.5 654.0h1.3M1808.4 650.9h1.3M1807.6 663.6h1.3M1811.3 664.8h1.3M1800.0 660.9h1.3M1801.9 659.1h1.3M1805.1 665.1h1.3M1808.8 652.6h1.3M1809.9 653.0h1.3M1802.0 657.4h1.3M1808.3 666.9h1.3M1812.1 654.2h1.3M1803.3 658.0h1.3M1802.8 661.6h1.3M1803.5 661.3h1.3M1802.3 655.1h1.3M1813.3 659.3h1.3M1808.5 655.5h1.3M1807.0 667.4h1.3M1803.8 661.7h1.3M1811.6 659.0h1.3M1802.6 658.2h1.3M1800.0 660.2h1.3M1805.1 656.9h1.3M1811.7 663.8h1.3M1799.0 666.4h1.3M1804.9 653.8h1.3M1802.5 656.9h1.3M1802.8 661.6h1.3M1809.2 664.5h1.3M1807.4 661.6h1.3M1799.8 663.6h1.3M1809.0 661.3h1.3M1815.2 652.0h1.3M1807.8 656.9h1.3M1809.9 658.8h1.3M1814.6 655.5h1.3M1802.6 658.9h1.3M1815.3 653.4h1.3M1805.9 659.9h1.3M1817.8 665.2h1.3M1809.9 662.1h1.3M1807.2 652.3h1.3M1809.1 654.2h1.3M1807.3 662.6h1.3M1805.4 654.5h1.3M1801.9 656.4h1.3M1798.2 663.4h1.3M1805.2 657.0h1.3M1806.1 665.0h1.3M1797.4 658.0h1.3M1805.3 651.2h1.3M1805.9 661.2h1.3M1806.4 657.7h1.3M1798.8 661.4h1.3M1804.8 658.4h1.3M1818.3 667.9h1.3M1810.8 667.8h1.3M1807.3 663.3h1.3M1818.4 658.1h1.3M1811.4 660.0h1.3M1803.1 656.0h1.3M1808.6 655.6h1.3M1806.6 668.5h1.3M1811.0 667.8h1.3M1812.5 663.8h1.3M1806.9 658.2h1.3M1808.5 655.4h1.3M1808.7 670.9h1.3M1807.5 655.8h1.3M1802.1 644.4h1.3M1810.7 657.0h1.3M1813.7 656.9h1.3M1804.5 655.3h1.3M1812.0 658.4h1.3M1815.5 658.2h1.3M1812.0 664.8h1.3M1803.1 660.4h1.3M1812.0 651.7h1.3M1809.0 664.9h1.3M1813.2 661.7h1.3M1809.7 659.7h1.3M1805.8 671.8h1.3M1804.8 656.6h1.3M1802.0 667.8h1.3M1800.8 658.1h1.3M1817.8 670.2h1.3M1801.6 657.2h1.3M1806.2 666.1h1.3M1800.7 653.8h1.3M1797.1 652.3h1.3M1799.6 667.3h1.3M1812.2 661.1h1.3M1816.1 663.6h1.3M1803.1 657.9h1.3M1805.5 658.8h1.3M1811.7 653.2h1.3M1801.8 665.8h1.3M1817.3 652.1h1.3M1809.0 659.0h1.3M1799.8 662.8h1.3M1806.5 657.6h1.3M1802.3 653.0h1.3M1824.4 658.5h1.3M1800.4 651.9h1.3M1804.5 667.6h1.3M1800.8 649.8h1.3M1804.7 648.9h1.3M1817.8 659.5h1.3M1801.8 658.3h1.3M1815.0 664.3h1.3M1800.3 658.8h1.3M1811.8 655.5h1.3M1808.9 656.9h1.3M1807.2 667.5h1.3M1815.7 662.6h1.3M1807.8 665.4h1.3M1800.8 672.3h1.3M1807.5 652.6h1.3M1814.2 654.9h1.3M1812.2 661.0h1.3M1819.4 656.4h1.3M1812.4 654.1h1.3M1797.0 667.8h1.3M1815.4 664.3h1.3M1803.3 654.0h1.3M1803.5 654.7h1.3M1802.7 659.5h1.3M1794.9 654.0h1.3M1808.4 660.1h1.3M1806.2 653.9h1.3M1785.8 655.2h1.3M1809.3 663.4h1.3M1806.8 659.0h1.3M1801.4 663.5h1.3M1795.7 656.9h1.3M1813.5 664.9h1.3M1804.1 648.6h1.3M1806.6 661.5h1.3M1795.6 652.1h1.3M1790.5 765.4h1.3M1797.9 752.6h1.3M1803.4 753.7h1.3M1795.6 756.3h1.3M1799.3 749.7h1.3M1798.7 755.4h1.3M1799.3 748.6h1.3M1794.9 764.3h1.3M1811.3 741.0h1.3M1799.7 745.7h1.3M1800.8 750.5h1.3M1795.2 757.1h1.3M1792.5 754.6h1.3M1794.1 759.9h1.3M1804.6 748.3h1.3M1796.5 751.8h1.3M1808.7 751.6h1.3M1796.4 756.3h1.3M1805.6 751.1h1.3M1805.7 753.4h1.3M1808.0 744.1h1.3M1792.6 750.6h1.3M1800.4 742.5h1.3M1799.6 754.5h1.3M1803.9 753.0h1.3M1801.9 744.7h1.3M1658.6 755.8h1.3M1793.1 665.5h1.3" stroke="#18d2f0" stroke-width="1.3" fill="none"/>
<path d="M1647.8 788.3h1.3M1653.3 771.7h1.3M1647.0 768.2h1.3M1632.7 785.4h1.3M1636.5 777.0h1.3M1639.1 783.5h1.3M1636.7 781.5h1.3M1647.9 788.7h1.3M1638.7 778.1h1.3M1644.3 786.2h1.3M1654.5 764.4h1.3M1656.7 767.4h1.3M1646.2 774.7h1.3M1642.0 778.7h1.3M1657.5 777.6h1.3M1663.1 769.5h1.3M1653.5 761.6h1.3M1644.2 774.9h1.3M1648.7 771.5h1.3M1657.1 768.7h1.3M1644.7 765.8h1.3M1654.8 782.2h1.3M1649.4 775.8h1.3M1638.2 782.4h1.3M1655.1 768.6h1.3M1646.2 781.0h1.3M1650.0 772.0h1.3M1640.7 777.9h1.3M1640.2 766.3h1.3M1645.7 769.3h1.3M1646.8 784.9h1.3M1657.1 775.6h1.3M1643.7 775.5h1.3M1645.3 785.6h1.3M1640.1 777.3h1.3M1653.5 769.2h1.3M1642.9 769.9h1.3M1649.7 775.3h1.3M1663.2 760.6h1.3M1644.2 781.9h1.3M1658.6 777.8h1.3M1645.0 769.4h1.3M1652.9 775.6h1.3M1656.8 766.3h1.3M1655.6 771.1h1.3M1642.7 786.8h1.3M1643.5 777.2h1.3M1644.3 779.2h1.3M1644.8 775.7h1.3M1651.9 773.6h1.3M1648.9 762.9h1.3M1642.4 776.6h1.3M1646.0 786.8h1.3M1645.5 780.9h1.3M1650.5 771.6h1.3M1639.2 781.1h1.3M1638.0 781.5h1.3M1653.8 779.2h1.3M1641.8 777.9h1.3M1649.4 768.1h1.3M1646.4 769.0h1.3M1648.5 780.5h1.3M1646.8 771.7h1.3M1652.4 774.1h1.3M1651.2 769.5h1.3M1646.9 772.0h1.3M1650.5 777.0h1.3M1652.0 772.6h1.3M1655.3 787.7h1.3M1653.4 765.9h1.3M1649.9 769.7h1.3M1642.9 775.5h1.3M1650.5 776.0h1.3M1641.5 766.9h1.3M1660.6 772.5h1.3M1648.5 783.7h1.3M1640.8 783.8h1.3M1639.5 776.8h1.3M1644.5 775.1h1.3M1643.9 777.2h1.3M1657.2 769.3h1.3M1644.3 770.8h1.3M1636.0 775.0h1.3M1641.2 775.6h1.3M1656.2 766.1h1.3M1644.5 776.6h1.3M1648.2 776.4h1.3M1644.0 774.8h1.3M1651.8 770.5h1.3M1646.9 766.5h1.3M1638.3 773.9h1.3M1652.8 766.6h1.3M1642.3 772.5h1.3M1651.3 777.1h1.3M1658.0 778.2h1.3M1653.0 770.0h1.3M1645.2 779.9h1.3M1660.4 763.9h1.3M1655.3 772.4h1.3M1639.8 774.7h1.3M1656.7 766.2h1.3M1654.3 772.7h1.3M1652.4 771.2h1.3M1654.3 781.1h1.3M1654.3 771.1h1.3M1653.2 778.7h1.3M1660.5 772.5h1.3M1653.5 768.4h1.3M1653.0 781.2h1.3M1649.1 781.7h1.3M1637.9 773.1h1.3M1648.5 769.0h1.3M1656.1 773.1h1.3M1657.5 766.2h1.3M1652.7 775.7h1.3M1644.8 780.3h1.3M1638.9 771.3h1.3M1645.8 774.1h1.3M1650.9 774.9h1.3M1640.8 780.2h1.3M1650.3 781.1h1.3M1649.5 772.9h1.3M1656.8 775.4h1.3M1652.0 782.2h1.3M1653.9 777.5h1.3M1653.9 778.9h1.3M1640.1 778.7h1.3M1643.1 772.1h1.3M1645.7 774.5h1.3M1648.8 776.0h1.3M1653.9 761.2h1.3M1650.0 776.9h1.3M1638.2 779.7h1.3M1651.8 771.0h1.3M1647.9 768.7h1.3M1647.5 772.1h1.3M1641.5 775.4h1.3M1648.2 770.3h1.3M1656.3 765.7h1.3M1636.9 772.7h1.3M1656.5 776.8h1.3M1650.8 779.2h1.3M1664.4 770.4h1.3M1652.8 780.3h1.3M1642.4 784.4h1.3M1645.9 775.4h1.3M1652.2 779.7h1.3M1643.2 773.1h1.3M1640.2 778.4h1.3M1638.0 770.5h1.3M1658.5 775.2h1.3M1648.2 776.3h1.3M1638.0 775.9h1.3M1652.8 776.3h1.3M1648.9 768.7h1.3M1651.8 771.8h1.3M1645.3 777.8h1.3M1650.2 770.8h1.3M1648.4 783.8h1.3M1640.2 768.5h1.3M1640.6 773.3h1.3M1638.9 781.8h1.3M1652.5 769.2h1.3M1656.0 761.0h1.3M1641.0 783.7h1.3M1641.2 788.4h1.3M1645.2 772.9h1.3M1661.1 767.6h1.3M1645.2 782.9h1.3M1654.9 769.2h1.3M1650.5 780.4h1.3M1651.3 785.0h1.3M1650.3 772.1h1.3M1640.6 772.2h1.3M1643.7 778.3h1.3M1638.4 780.9h1.3M1660.4 765.9h1.3M1638.3 781.3h1.3M1649.0 784.3h1.3M1643.0 782.2h1.3M1655.6 771.4h1.3M1655.4 775.2h1.3M1655.4 776.0h1.3M1656.5 764.7h1.3M1645.9 780.1h1.3M1652.7 775.1h1.3M1640.8 775.6h1.3M1653.7 769.8h1.3M1652.7 757.1h1.3M1659.8 767.1h1.3M1648.8 769.2h1.3M1648.5 772.3h1.3M1646.0 765.7h1.3M1639.4 771.3h1.3M1637.2 768.9h1.3M1655.7 766.9h1.3M1657.4 779.0h1.3M1638.2 780.7h1.3M1647.4 769.0h1.3M1649.5 779.4h1.3M1639.1 775.6h1.3M1642.1 777.7h1.3M1648.1 771.1h1.3M1654.5 772.1h1.3M1651.9 768.6h1.3M1657.1 767.8h1.3M1650.2 782.8h1.3M1664.2 763.0h1.3M1643.8 773.5h1.3M1638.9 766.8h1.3M1640.0 788.7h1.3M1636.4 780.9h1.3M1651.3 779.8h1.3M1642.0 782.0h1.3M1651.5 763.7h1.3M1644.7 779.3h1.3M1657.0 765.5h1.3M1659.2 764.0h1.3M1648.8 781.2h1.3M1650.2 767.0h1.3M1650.3 776.7h1.3M1648.7 779.9h1.3M1645.7 775.7h1.3M1646.1 777.7h1.3M1653.7 783.1h1.3M1659.4 774.2h1.3M1660.5 772.3h1.3M1638.7 787.3h1.3M1643.3 776.6h1.3M1646.6 770.4h1.3M1635.8 784.4h1.3M1649.7 781.2h1.3M1656.6 775.3h1.3M1649.7 772.9h1.3M1654.6 778.9h1.3M1652.4 768.9h1.3M1646.6 766.2h1.3M1661.3 764.6h1.3M1649.6 768.7h1.3M1656.2 769.2h1.3M1646.6 778.4h1.3M1640.8 775.9h1.3M1656.7 783.6h1.3M1648.9 771.4h1.3M1654.0 777.3h1.3M1646.1 782.6h1.3M1651.4 783.1h1.3M1647.3 771.8h1.3M1639.4 774.3h1.3M1645.4 780.0h1.3M1647.4 781.2h1.3M1633.1 780.2h1.3M1648.9 775.4h1.3M1655.7 766.5h1.3M1649.1 764.5h1.3M1653.5 776.4h1.3M1639.6 770.6h1.3M1648.9 784.0h1.3M1652.3 776.4h1.3M1644.6 778.2h1.3M1646.3 778.1h1.3M1638.3 777.4h1.3M1638.4 777.3h1.3M1654.7 778.4h1.3M1645.4 781.8h1.3M1648.6 776.4h1.3M1648.0 770.6h1.3M1664.4 768.5h1.3M1638.2 786.3h1.3M1641.9 784.2h1.3M1646.3 780.1h1.3M1643.7 775.5h1.3M1655.0 767.7h1.3M1638.6 769.0h1.3M1642.5 780.6h1.3M1637.3 769.9h1.3M1647.7 778.6h1.3M1648.2 767.1h1.3M1644.6 770.6h1.3M1654.2 771.9h1.3M1641.5 780.9h1.3M1658.9 779.2h1.3M1656.3 777.0h1.3M1633.7 782.1h1.3M1655.3 774.9h1.3M1646.6 781.2h1.3M1648.3 781.9h1.3M1647.6 779.9h1.3M1655.1 768.9h1.3M1647.7 767.9h1.3M1645.9 781.9h1.3M1654.2 768.4h1.3M1647.4 769.3h1.3M1657.1 763.0h1.3M1638.9 783.3h1.3M1641.4 770.8h1.3M1652.2 768.0h1.3M1654.9 765.0h1.3M1641.4 785.4h1.3M1648.5 766.6h1.3M1664.6 765.8h1.3M1644.5 771.1h1.3M1655.0 770.2h1.3M1651.5 776.8h1.3M1647.5 777.9h1.3M1642.8 776.2h1.3M1656.3 769.7h1.3M1639.6 770.6h1.3M1642.5 782.6h1.3M1646.2 768.9h1.3M1646.1 782.6h1.3M1639.5 783.8h1.3M1639.4 782.3h1.3M1657.8 762.5h1.3M1639.4 773.5h1.3M1644.9 770.6h1.3M1640.7 782.4h1.3M1647.5 762.0h1.3M1657.3 777.2h1.3M1641.7 779.0h1.3M1643.0 781.8h1.3M1651.3 767.4h1.3M1657.5 772.4h1.3M1662.5 763.5h1.3M1649.7 775.0h1.3M1646.5 770.4h1.3M1655.9 764.3h1.3M1636.8 774.7h1.3M1650.8 768.2h1.3M1654.3 771.8h1.3M1657.7 772.1h1.3M1638.8 779.1h1.3M1646.7 775.7h1.3M1654.7 761.8h1.3M1640.3 773.7h1.3M1644.6 767.7h1.3M1655.0 778.8h1.3M1648.6 776.3h1.3M1662.3 770.5h1.3M1641.4 785.9h1.3M1638.9 780.5h1.3M1650.4 774.0h1.3M1643.3 779.3h1.3M1637.0 782.3h1.3M1639.7 784.1h1.3M1654.3 776.2h1.3M1654.4 763.2h1.3M1645.0 781.6h1.3M1641.9 780.1h1.3M1642.3 778.1h1.3M1642.8 778.4h1.3M1655.1 769.6h1.3M1648.3 764.5h1.3M1638.0 773.7h1.3M1653.1 776.4h1.3M1641.4 776.8h1.3M1647.7 774.0h1.3M1647.3 783.2h1.3M1653.2 769.0h1.3M1648.0 783.1h1.3M1644.6 772.1h1.3M1647.3 783.8h1.3M1644.9 774.2h1.3M1647.7 776.4h1.3M1644.0 786.6h1.3M1663.0 771.1h1.3M1640.1 773.3h1.3M1656.2 764.8h1.3M1655.7 760.2h1.3M1646.8 777.1h1.3M1657.9 772.8h1.3M1642.7 781.3h1.3M1637.2 778.5h1.3M1651.9 778.3h1.3M1656.4 774.0h1.3M1642.3 776.8h1.3M1661.6 764.4h1.3M1651.1 765.0h1.3M1651.5 775.8h1.3M1639.0 784.2h1.3M1651.8 772.8h1.3M1649.8 766.6h1.3M1645.2 784.7h1.3M1649.3 776.7h1.3M1653.3 774.4h1.3M1657.3 775.7h1.3M1650.1 775.1h1.3M1650.6 774.9h1.3M1658.7 770.2h1.3M1648.0 768.9h1.3M1652.4 763.6h1.3M1637.2 786.2h1.3M1644.8 777.8h1.3M1646.7 769.7h1.3M1641.2 776.7h1.3M1653.0 767.6h1.3M1645.0 782.8h1.3M1652.1 754.2h1.3M1649.4 773.7h1.3M1658.6 770.3h1.3M1650.3 775.8h1.3M1655.1 767.3h1.3M1654.3 771.3h1.3M1653.5 768.9h1.3M1635.6 781.3h1.3M1652.2 777.8h1.3M1652.1 770.1h1.3M1652.4 766.7h1.3M1654.0 762.8h1.3M1643.4 772.7h1.3M1656.4 784.1h1.3M1651.5 771.6h1.3M1650.3 772.5h1.3M1649.9 769.8h1.3M1654.8 764.2h1.3M1657.9 768.2h1.3M1644.4 784.3h1.3M1650.9 773.7h1.3M1656.3 779.4h1.3M1654.9 774.3h1.3M1655.7 780.4h1.3M1658.9 774.9h1.3M1648.5 772.6h1.3M1648.1 761.2h1.3M1658.6 777.6h1.3M1655.1 763.8h1.3M1648.5 773.1h1.3M1642.1 770.5h1.3M1656.0 773.4h1.3M1645.8 786.4h1.3M1641.5 772.2h1.3M1646.1 769.4h1.3M1636.8 786.1h1.3M1661.0 767.6h1.3M1643.6 775.2h1.3M1648.1 773.9h1.3M1640.6 785.9h1.3M1647.8 772.8h1.3M1637.8 766.8h1.3M1652.9 758.6h1.3M1640.6 782.1h1.3M1638.7 775.1h1.3M1658.5 767.0h1.3M1642.3 769.8h1.3M1659.6 778.3h1.3M1646.7 775.0h1.3M1661.4 760.5h1.3M1640.0 780.5h1.3M1637.2 781.3h1.3M1644.6 776.2h1.3M1657.5 774.5h1.3M1641.6 785.9h1.3M1641.7 776.6h1.3M1652.8 770.8h1.3M1652.0 788.5h1.3M1646.7 774.3h1.3M1643.6 783.9h1.3M1645.6 776.7h1.3M1649.6 763.9h1.3M1647.6 767.6h1.3M1639.7 783.4h1.3M1644.8 768.4h1.3M1642.3 778.5h1.3M1649.2 771.9h1.3M1651.0 778.8h1.3M1645.7 774.1h1.3M1648.1 765.3h1.3M1650.0 784.7h1.3M1654.4 761.8h1.3M1647.1 785.2h1.3M1643.1 776.3h1.3M1650.4 772.2h1.3M1641.7 776.1h1.3M1650.9 768.2h1.3M1649.9 764.6h1.3M1639.5 779.2h1.3M1646.3 783.6h1.3M1648.5 774.9h1.3M1655.5 769.9h1.3M1641.8 789.8h1.3M1645.3 773.7h1.3M1654.1 774.3h1.3M1643.5 781.8h1.3M1648.4 777.1h1.3M1636.9 783.0h1.3M1651.2 770.4h1.3M1658.3 777.1h1.3M1646.6 784.2h1.3M1657.8 775.4h1.3M1651.9 782.3h1.3M1644.1 772.5h1.3M1650.7 769.1h1.3M1661.1 768.8h1.3M1643.2 774.4h1.3M1656.7 774.9h1.3M1644.4 779.4h1.3M1646.3 780.0h1.3M1644.0 782.0h1.3M1651.6 764.5h1.3M1645.2 775.5h1.3M1648.8 772.7h1.3M1654.7 775.8h1.3M1641.4 782.5h1.3M1647.4 784.5h1.3M1644.7 780.0h1.3M1638.4 771.5h1.3M1659.1 766.7h1.3M1654.9 777.8h1.3M1643.3 775.6h1.3M1651.3 784.8h1.3M1641.7 777.8h1.3M1647.4 771.9h1.3M1644.6 786.1h1.3M1644.5 775.6h1.3M1637.3 783.5h1.3M1654.4 774.6h1.3M1655.4 771.3h1.3M1655.5 769.1h1.3M1655.0 774.9h1.3M1644.7 784.4h1.3M1660.4 766.3h1.3M1659.1 773.5h1.3M1661.0 767.1h1.3M1645.4 779.8h1.3M1644.7 785.9h1.3M1650.6 785.2h1.3M1647.8 764.7h1.3M1644.2 787.9h1.3M1641.0 780.6h1.3M1651.1 778.4h1.3M1646.5 773.8h1.3M1664.9 763.2h1.3M1645.2 775.0h1.3M1647.0 768.8h1.3M1636.8 775.1h1.3M1660.6 768.6h1.3M1652.2 767.2h1.3M1642.0 767.7h1.3M1647.2 776.3h1.3M1655.3 775.8h1.3M1642.6 780.8h1.3M1648.1 767.2h1.3M1653.8 763.1h1.3M1655.7 777.2h1.3M1648.3 775.8h1.3M1658.4 771.4h1.3M1643.0 772.6h1.3M1653.2 777.6h1.3M1653.6 776.6h1.3M1634.8 775.9h1.3M1651.6 767.0h1.3M1647.5 783.8h1.3M1644.8 775.4h1.3M1656.1 780.8h1.3M1652.2 763.7h1.3M1651.5 771.2h1.3M1649.7 776.8h1.3M1641.8 778.8h1.3M1644.7 762.9h1.3M1658.1 778.9h1.3M1654.3 770.2h1.3M1641.4 787.1h1.3M1643.8 769.3h1.3M1657.6 767.7h1.3M1653.5 775.9h1.3M1651.9 769.9h1.3M1645.0 775.2h1.3M1652.4 777.9h1.3M1649.5 767.8h1.3M1640.5 785.3h1.3M1642.1 773.5h1.3M1656.1 771.1h1.3M1637.4 787.5h1.3M1650.3 776.6h1.3M1640.7 773.8h1.3M1657.6 764.6h1.3M1651.5 773.0h1.3M1641.9 782.2h1.3M1650.0 784.7h1.3M1641.5 791.7h1.3M1647.4 782.9h1.3M1643.1 781.5h1.3M1641.0 784.8h1.3M1643.0 764.2h1.3M1652.6 771.5h1.3M1654.8 783.1h1.3M1639.3 775.9h1.3M1638.9 776.5h1.3M1651.7 761.3h1.3M1642.6 773.1h1.3M1652.8 783.8h1.3M1634.6 777.0h1.3M1646.3 777.6h1.3M1646.2 771.8h1.3M1644.6 783.7h1.3M1643.0 775.1h1.3M1646.1 769.9h1.3M1640.0 774.4h1.3M1637.9 778.8h1.3M1647.0 775.9h1.3M1649.5 774.4h1.3M1649.0 772.7h1.3M1652.6 784.4h1.3M1656.2 771.9h1.3M1652.1 773.0h1.3M1653.9 776.5h1.3M1651.8 780.2h1.3M1637.8 784.9h1.3M1644.0 778.0h1.3M1650.2 771.6h1.3M1648.8 782.9h1.3M1634.9 781.3h1.3M1651.1 778.2h1.3M1649.6 787.0h1.3M1662.1 772.7h1.3M1643.1 780.2h1.3M1657.6 773.3h1.3M1643.2 771.4h1.3M1642.4 775.4h1.3M1652.0 768.8h1.3M1647.3 763.6h1.3M1644.3 780.4h1.3M1650.6 771.3h1.3M1653.9 761.3h1.3M1649.5 782.3h1.3M1649.0 779.6h1.3M1663.6 770.3h1.3M1645.3 780.0h1.3M1644.9 770.9h1.3M1650.6 772.6h1.3M1655.0 770.9h1.3M1651.4 764.5h1.3M1635.3 778.4h1.3M1654.7 775.1h1.3M1649.7 767.6h1.3M1647.7 786.0h1.3M1652.0 776.5h1.3M1645.6 786.2h1.3M1640.4 779.0h1.3M1653.1 777.2h1.3M1654.5 779.3h1.3M1641.5 774.7h1.3M1643.7 768.0h1.3M1643.5 779.1h1.3M1648.7 777.2h1.3M1641.9 781.9h1.3M1656.3 771.6h1.3M1643.2 775.0h1.3M1630.8 782.8h1.3M1652.0 776.7h1.3M1634.4 777.3h1.3M1652.5 781.6h1.3M1658.0 775.6h1.3M1646.2 784.0h1.3M1644.5 779.1h1.3M1656.8 772.1h1.3M1652.5 770.2h1.3M1649.3 785.2h1.3M1655.2 774.4h1.3M1662.4 770.6h1.3M1645.8 774.7h1.3M1649.1 780.7h1.3M1649.3 767.8h1.3M1645.3 769.9h1.3M1639.5 784.9h1.3M1662.6 765.4h1.3M1638.4 781.0h1.3M1652.0 772.7h1.3M1645.7 777.7h1.3M1643.7 781.8h1.3M1651.9 779.0h1.3M1659.4 767.9h1.3M1654.3 765.8h1.3M1648.8 781.4h1.3M1647.7 768.4h1.3M1640.8 789.8h1.3M1651.3 765.0h1.3M1640.8 780.2h1.3M1649.0 782.8h1.3M1653.0 770.6h1.3M1666.4 766.7h1.3M1643.8 780.6h1.3M1653.8 767.3h1.3M1633.9 784.8h1.3M1646.3 777.3h1.3M1637.0 781.8h1.3M1638.6 777.3h1.3M1660.5 764.7h1.3M1647.0 767.9h1.3M1649.3 773.5h1.3M1643.4 770.9h1.3M1658.4 768.6h1.3M1654.7 775.9h1.3M1652.8 763.4h1.3M1649.8 768.5h1.3M1645.6 764.0h1.3M1648.0 769.8h1.3M1646.0 781.9h1.3M1646.8 789.3h1.3M1657.5 768.3h1.3M1656.6 768.7h1.3M1658.1 770.5h1.3M1644.8 786.4h1.3M1658.5 773.4h1.3M1644.6 769.9h1.3M1652.1 777.7h1.3M1649.5 772.1h1.3M1651.3 767.9h1.3M1642.2 771.9h1.3M1646.6 771.7h1.3M1641.7 771.0h1.3M1648.9 769.6h1.3M1657.6 768.7h1.3M1651.0 770.3h1.3M1639.2 769.4h1.3M1643.3 780.1h1.3M1645.4 770.0h1.3M1645.1 769.0h1.3M1643.3 775.6h1.3M1648.9 785.5h1.3M1661.6 774.5h1.3M1649.8 771.9h1.3M1647.3 777.2h1.3M1653.0 783.7h1.3M1638.5 780.0h1.3M1650.0 760.8h1.3M1642.0 784.9h1.3M1654.3 767.7h1.3M1656.8 766.5h1.3M1657.2 762.7h1.3M1659.1 776.9h1.3M1653.9 776.7h1.3M1650.8 776.8h1.3M1651.7 772.8h1.3M1642.1 782.9h1.3M1643.2 779.0h1.3M1654.7 779.2h1.3M1653.0 771.6h1.3M1641.0 781.8h1.3M1644.3 784.4h1.3M1636.9 780.1h1.3M1656.5 779.0h1.3M1642.6 787.3h1.3M1647.7 785.5h1.3M1645.8 786.0h1.3M1641.4 783.4h1.3M1648.1 779.5h1.3M1639.3 773.4h1.3M1652.5 765.3h1.3M1639.6 780.4h1.3M1655.0 763.6h1.3M1649.7 770.7h1.3M1654.7 765.5h1.3M1646.5 784.8h1.3M1643.2 780.9h1.3M1634.4 783.2h1.3M1658.6 780.3h1.3M1643.5 784.7h1.3M1647.9 776.4h1.3M1643.5 778.7h1.3M1647.8 784.9h1.3M1645.7 775.7h1.3M1651.1 781.0h1.3M1645.9 783.7h1.3M1653.9 769.3h1.3M1648.2 769.4h1.3M1648.5 776.3h1.3M1651.2 775.4h1.3M1647.5 775.0h1.3M1641.6 779.0h1.3M1650.9 771.1h1.3M1632.9 774.1h1.3M1643.1 785.2h1.3M1644.0 777.6h1.3M1638.1 784.0h1.3M1658.3 770.2h1.3M1661.5 766.5h1.3M1640.9 783.3h1.3M1647.7 787.9h1.3M1643.2 776.5h1.3M1641.7 782.1h1.3M1652.4 776.4h1.3M1638.3 782.1h1.3M1640.2 775.8h1.3M1656.5 772.9h1.3M1641.8 775.7h1.3M1644.3 772.4h1.3M1641.8 781.3h1.3M1638.8 775.7h1.3M1652.1 769.1h1.3M1655.7 778.1h1.3M1648.4 768.4h1.3M1659.5 760.5h1.3M1655.3 773.9h1.3M1653.6 770.8h1.3M1642.3 773.1h1.3M1659.1 772.8h1.3M1641.6 780.5h1.3M1636.9 788.2h1.3M1649.9 783.3h1.3M1642.4 780.0h1.3M1644.8 780.3h1.3M1636.5 780.2h1.3M1639.7 782.7h1.3M1640.7 775.2h1.3M1638.2 778.7h1.3M1635.8 775.3h1.3M1650.0 782.7h1.3M1648.6 762.2h1.3M1648.1 776.1h1.3M1649.5 774.1h1.3M1636.4 772.8h1.3M1656.5 775.7h1.3M1649.0 785.0h1.3M1652.1 770.5h1.3M1646.5 766.2h1.3M1645.0 781.7h1.3M1648.2 766.4h1.3M1634.8 784.6h1.3M1648.1 769.9h1.3M1654.4 775.5h1.3M1655.7 769.7h1.3M1651.7 769.5h1.3M1654.7 776.2h1.3M1648.9 769.2h1.3M1658.6 773.0h1.3M1651.2 782.5h1.3M1640.8 780.7h1.3M1637.8 779.7h1.3M1635.0 785.9h1.3M1652.3 783.7h1.3M1662.3 761.4h1.3M1642.5 777.9h1.3M1655.7 776.1h1.3M1639.6 777.6h1.3M1638.3 780.6h1.3M1642.9 779.7h1.3M1647.5 777.2h1.3M1657.1 769.7h1.3M1654.8 763.9h1.3M1650.5 767.4h1.3M1641.3 778.3h1.3M1658.3 772.2h1.3M1642.6 769.8h1.3M1638.6 774.7h1.3M1651.4 773.8h1.3M1651.5 767.8h1.3M1640.5 773.9h1.3M1645.3 784.7h1.3M1637.1 774.0h1.3M1634.7 782.5h1.3M1637.3 784.2h1.3M1643.1 769.5h1.3M1637.6 777.6h1.3M1653.2 771.9h1.3M1660.1 771.7h1.3M1651.3 768.4h1.3M1646.4 784.8h1.3M1644.3 774.3h1.3M1650.7 758.1h1.3M1641.2 780.2h1.3M1643.4 770.9h1.3M1655.8 776.6h1.3M1652.3 780.6h1.3M1650.7 766.0h1.3M1652.9 779.2h1.3M1641.1 767.3h1.3M1637.5 781.9h1.3M1647.0 774.3h1.3M1648.1 763.1h1.3M1646.1 766.2h1.3M1659.0 779.0h1.3M1641.6 770.3h1.3M1656.8 775.1h1.3M1654.7 779.5h1.3M1640.6 782.4h1.3M1655.2 786.4h1.3M1660.7 764.2h1.3M1652.0 766.0h1.3M1665.2 760.4h1.3M1649.0 783.4h1.3M1641.4 786.0h1.3M1638.5 789.6h1.3M1644.3 778.3h1.3M1642.5 771.4h1.3M1635.7 778.1h1.3M1639.0 772.4h1.3M1656.2 771.6h1.3M1655.0 766.6h1.3M1643.1 781.9h1.3M1664.1 756.3h1.3M1654.7 786.3h1.3M1653.8 776.5h1.3M1646.9 791.7h1.3M1658.3 756.7h1.3M1655.8 772.7h1.3M1655.1 773.9h1.3M1664.2 764.5h1.3M1657.7 773.6h1.3M1653.3 759.1h1.3M1638.0 773.6h1.3M1638.5 779.5h1.3M1640.4 768.7h1.3M1657.0 769.7h1.3M1634.3 783.8h1.3M1654.0 769.3h1.3M1664.4 768.2h1.3M1652.8 772.5h1.3M1647.1 766.4h1.3M1658.0 776.8h1.3M1646.0 769.8h1.3M1650.6 787.3h1.3M1649.6 775.2h1.3M1642.3 776.1h1.3M1651.1 787.1h1.3M1634.7 772.9h1.3M1646.7 787.2h1.3M1641.2 784.0h1.3M1658.1 761.0h1.3M1641.7 768.3h1.3M1640.0 770.7h1.3M1649.4 766.7h1.3M1650.1 759.8h1.3M1645.5 757.8h1.3M1656.9 780.9h1.3M1647.3 767.8h1.3M1643.3 765.1h1.3M1644.3 766.8h1.3M1642.6 780.3h1.3M1662.1 774.4h1.3M1644.6 765.2h1.3M1661.1 767.8h1.3M1651.6 784.1h1.3M1643.3 767.7h1.3M1641.9 789.0h1.3M1645.3 781.7h1.3M1644.2 767.4h1.3M1653.4 786.7h1.3M1637.7 777.1h1.3M1663.8 768.8h1.3M1635.3 772.0h1.3M1653.6 769.6h1.3M1655.2 767.0h1.3M1651.1 770.1h1.3M1640.0 781.3h1.3M1654.9 786.7h1.3M1650.6 772.4h1.3M1657.8 767.4h1.3M1657.3 771.2h1.3M1642.2 774.4h1.3M1647.2 772.7h1.3M1657.6 773.2h1.3M1658.2 769.3h1.3M1646.7 795.7h1.3M1636.6 775.8h1.3M1649.1 779.6h1.3M1644.2 775.9h1.3M1643.7 788.0h1.3M1644.4 767.6h1.3M1641.6 777.5h1.3M1640.0 777.8h1.3M1656.5 769.1h1.3M1642.6 768.2h1.3M1658.5 764.2h1.3M1653.9 772.8h1.3M1651.1 764.8h1.3M1647.7 769.6h1.3M1666.1 764.7h1.3M1657.1 769.9h1.3M1659.2 770.8h1.3M1640.8 780.6h1.3M1644.9 772.0h1.3M1645.6 766.1h1.3M1640.2 785.1h1.3M1637.7 775.6h1.3M1635.2 786.9h1.3M1653.2 767.1h1.3M1654.8 769.8h1.3M1675.4 753.6h1.3M1650.9 772.6h1.3M1638.3 778.7h1.3M1647.6 780.6h1.3M1655.3 784.2h1.3M1651.5 770.2h1.3M1649.6 777.2h1.3M1658.8 765.7h1.3M1629.1 788.2h1.3M1651.5 776.4h1.3M1654.8 774.1h1.3M1647.1 769.4h1.3M1655.7 778.5h1.3M1650.2 768.5h1.3M1654.7 783.0h1.3M1647.4 785.2h1.3M1637.7 782.1h1.3M1651.5 767.1h1.3M1654.0 757.6h1.3M1638.9 776.6h1.3M1657.0 777.1h1.3M1652.1 778.5h1.3M1658.5 777.5h1.3M1656.5 771.6h1.3M1633.5 779.5h1.3M1643.8 782.4h1.3M1655.0 765.8h1.3M1639.5 773.8h1.3M1656.7 774.9h1.3M1667.6 770.2h1.3M1639.9 767.0h1.3M1660.9 759.7h1.3M1652.7 760.6h1.3M1643.1 768.2h1.3M1653.8 778.9h1.3M1654.5 768.4h1.3M1654.8 777.0h1.3M1657.4 765.8h1.3M1646.5 766.2h1.3M1651.0 784.5h1.3M1651.5 782.2h1.3M1648.5 782.3h1.3M1646.0 766.5h1.3M1644.7 785.9h1.3M1656.0 762.7h1.3M1646.8 782.7h1.3M1652.9 755.2h1.3M1661.2 769.5h1.3M1649.0 769.5h1.3M1639.3 784.3h1.3M1649.5 781.8h1.3M1647.9 773.2h1.3M1641.8 763.3h1.3M1658.0 763.4h1.3M1643.9 767.9h1.3M1661.2 770.5h1.3M1653.8 781.1h1.3M1644.5 772.6h1.3M1651.2 767.4h1.3M1643.2 768.0h1.3M1650.2 764.0h1.3M1655.8 761.0h1.3M1660.4 771.4h1.3M1650.6 783.4h1.3M1656.1 772.9h1.3M1656.6 759.8h1.3M1642.8 784.4h1.3M1641.0 774.7h1.3M1649.7 774.2h1.3M1637.6 776.6h1.3M1652.3 781.5h1.3M1652.4 777.8h1.3M1643.9 781.9h1.3M1654.5 756.1h1.3M1647.6 786.7h1.3M1665.2 759.3h1.3M1635.1 783.6h1.3M1650.6 773.4h1.3M1651.7 774.8h1.3M1658.6 771.3h1.3M1639.6 782.8h1.3M1640.3 771.8h1.3M1659.6 782.3h1.3M1649.9 773.7h1.3M1652.8 765.3h1.3M1641.7 786.4h1.3M1656.3 768.5h1.3M1644.8 778.4h1.3M1652.6 773.8h1.3M1655.1 765.0h1.3M1655.0 775.2h1.3M1645.7 780.3h1.3M1638.9 776.6h1.3M1642.2 783.3h1.3M1638.4 766.9h1.3M1643.6 768.0h1.3M1643.1 776.5h1.3M1652.4 773.5h1.3M1659.7 771.7h1.3M1633.9 784.6h1.3M1651.2 762.0h1.3M1642.8 766.9h1.3M1638.7 772.2h1.3M1642.2 785.1h1.3M1636.1 779.8h1.3M1639.8 774.9h1.3M1646.4 768.4h1.3M1646.4 783.2h1.3M1638.1 770.2h1.3M1654.3 775.1h1.3M1651.0 768.5h1.3M1642.3 770.9h1.3M1657.1 773.5h1.3M1640.4 767.1h1.3M1646.3 784.9h1.3M1647.2 769.7h1.3M1637.9 778.7h1.3M1642.5 779.2h1.3M1643.0 770.2h1.3M1639.9 774.1h1.3M1643.7 780.3h1.3M1643.5 776.8h1.3M1641.9 783.3h1.3M1653.0 775.5h1.3M1650.9 769.2h1.3M1648.9 782.9h1.3M1652.6 767.3h1.3M1659.7 763.4h1.3M1645.0 776.0h1.3M1648.2 765.4h1.3M1647.8 769.3h1.3M1643.6 781.8h1.3M1650.7 771.5h1.3M1659.3 769.7h1.3M1647.4 764.6h1.3M1647.4 790.7h1.3M1655.4 770.6h1.3M1659.9 775.3h1.3M1651.5 775.3h1.3M1649.2 763.9h1.3M1649.1 774.6h1.3M1628.7 785.5h1.3M1650.1 770.4h1.3M1662.8 763.9h1.3M1636.6 780.1h1.3M1651.5 775.6h1.3M1655.5 780.5h1.3M1652.8 770.1h1.3M1653.7 780.6h1.3M1657.6 773.3h1.3M1648.6 788.8h1.3M1650.6 766.1h1.3M1658.9 765.8h1.3M1648.4 781.6h1.3M1649.3 782.1h1.3M1650.7 754.5h1.3M1641.6 767.9h1.3M1654.0 776.9h1.3M1651.8 775.0h1.3M1644.9 784.5h1.3M1644.1 784.1h1.3M1646.6 774.0h1.3M1643.0 763.3h1.3M1647.9 759.6h1.3M1637.9 786.8h1.3M1651.6 768.0h1.3M1652.2 777.2h1.3M1647.3 777.7h1.3M1650.5 761.6h1.3M1654.3 783.1h1.3M1636.6 776.8h1.3M1641.2 775.4h1.3M1637.6 785.8h1.3M1654.0 768.4h1.3M1646.9 764.3h1.3M1648.2 788.5h1.3M1647.6 784.3h1.3M1648.9 772.5h1.3M1639.1 766.9h1.3M1659.2 773.7h1.3M1655.5 762.0h1.3M1653.3 774.9h1.3M1656.4 772.5h1.3M1651.7 767.5h1.3M1648.0 778.1h1.3M1642.0 783.0h1.3M1647.2 785.5h1.3M1658.2 765.2h1.3M1652.5 763.6h1.3M1659.2 767.7h1.3M1634.9 788.1h1.3M1643.7 765.2h1.3M1658.5 770.4h1.3M1650.5 779.9h1.3M1643.5 767.4h1.3M1646.1 783.8h1.3M1636.5 782.6h1.3M1636.9 780.8h1.3M1658.3 761.3h1.3M1648.1 768.2h1.3M1657.5 773.9h1.3M1636.6 783.0h1.3M1649.9 771.2h1.3M1653.6 779.5h1.3M1650.0 773.8h1.3M1653.0 774.6h1.3M1646.5 783.3h1.3M1661.0 776.7h1.3M1649.4 777.1h1.3M1649.5 762.7h1.3M1645.0 768.8h1.3M1651.2 776.8h1.3M1646.5 769.4h1.3M1654.5 765.6h1.3M1649.9 766.1h1.3M1649.3 762.6h1.3M1643.9 765.9h1.3M1657.7 768.7h1.3M1646.7 774.9h1.3M1641.1 783.5h1.3M1658.1 766.2h1.3M1637.4 787.4h1.3M1650.0 773.8h1.3M1647.1 764.6h1.3M1659.2 755.6h1.3M1659.0 762.2h1.3M1644.2 775.2h1.3M1665.6 766.3h1.3M1646.0 778.1h1.3M1641.8 785.3h1.3M1649.1 769.9h1.3M1655.1 770.1h1.3M1636.4 784.2h1.3M1644.5 779.2h1.3M1647.8 787.5h1.3M1666.1 762.6h1.3M1643.0 774.3h1.3M1636.3 780.7h1.3M1641.2 767.2h1.3M1649.9 768.5h1.3M1650.8 772.8h1.3M1636.9 791.2h1.3M1652.0 767.7h1.3M1649.4 777.0h1.3M1650.9 758.3h1.3M1651.0 766.5h1.3M1637.3 772.7h1.3M1654.4 771.6h1.3M1642.0 782.2h1.3M1651.8 781.6h1.3M1667.3 758.3h1.3M1654.6 761.8h1.3M1644.8 763.3h1.3M1648.2 784.0h1.3M1654.5 763.7h1.3M1646.9 779.9h1.3M1656.4 771.4h1.3M1644.1 764.7h1.3M1649.0 771.4h1.3M1653.8 766.0h1.3M1656.8 763.0h1.3M1645.6 779.5h1.3M1648.7 780.1h1.3M1640.1 773.1h1.3M1651.4 783.8h1.3M1655.7 761.1h1.3M1656.8 781.0h1.3M1658.6 765.2h1.3M1652.2 759.9h1.3M1656.2 779.4h1.3M1664.8 749.0h1.3M1637.1 777.6h1.3M1640.3 773.6h1.3M1654.8 777.1h1.3M1658.0 765.5h1.3M1651.3 769.3h1.3M1655.1 780.2h1.3M1656.3 760.3h1.3M1649.1 777.5h1.3M1640.3 778.3h1.3M1655.3 765.3h1.3M1647.7 777.0h1.3M1640.0 781.3h1.3M1637.5 785.0h1.3M1647.5 766.2h1.3M1649.1 770.3h1.3M1661.6 751.6h1.3M1649.2 773.5h1.3M1663.3 769.7h1.3M1660.3 763.4h1.3M1658.6 760.2h1.3M1635.7 779.2h1.3M1663.2 770.2h1.3M1656.3 777.1h1.3M1657.3 765.1h1.3M1650.4 771.4h1.3M1649.7 774.4h1.3M1660.8 777.0h1.3M1657.5 767.4h1.3M1650.4 766.2h1.3M1657.9 762.5h1.3M1662.2 766.6h1.3M1644.8 788.2h1.3M1661.8 767.4h1.3M1653.7 766.7h1.3M1807.8 661.8h1.3M1809.0 664.0h1.3M1800.3 660.4h1.3M1808.4 661.0h1.3M1806.7 667.0h1.3M1813.0 660.2h1.3M1804.6 664.7h1.3M1799.8 660.6h1.3M1805.2 654.8h1.3M1811.2 661.0h1.3M1804.3 660.1h1.3M1811.7 657.9h1.3M1806.8 659.3h1.3M1813.0 661.9h1.3M1805.2 659.7h1.3M1802.6 661.8h1.3M1816.5 657.9h1.3M1808.6 660.0h1.3M1804.9 659.5h1.3M1810.3 661.2h1.3M1806.8 664.1h1.3M1813.6 657.9h1.3M1805.2 661.9h1.3M1798.5 663.2h1.3M1808.6 655.6h1.3M1810.5 659.4h1.3M1803.4 663.6h1.3M1802.7 667.1h1.3M1803.1 660.3h1.3M1815.5 656.1h1.3M1808.2 659.9h1.3M1802.2 659.8h1.3M1804.0 657.5h1.3M1801.2 659.8h1.3M1805.4 662.9h1.3M1806.8 662.4h1.3M1806.8 659.9h1.3M1810.9 661.1h1.3M1810.6 651.4h1.3M1807.3 656.0h1.3M1810.4 664.2h1.3M1816.3 661.4h1.3M1811.5 661.2h1.3M1804.3 659.1h1.3M1810.0 661.2h1.3M1812.7 658.7h1.3M1801.6 656.1h1.3M1805.1 654.2h1.3M1796.5 753.8h1.3M1798.4 752.5h1.3M1638.4 774.7h1.3" stroke="#2fe060" stroke-width="1.3" fill="none"/>
<path d="M1647.7 773.9h1.3M1650.7 770.8h1.3M1659.2 773.7h1.3M1651.3 778.9h1.3M1646.5 774.6h1.3M1644.5 774.2h1.3M1657.8 774.9h1.3M1646.7 774.1h1.3M1651.3 771.6h1.3M1648.6 760.4h1.3M1656.4 772.9h1.3M1638.8 778.1h1.3M1646.0 773.5h1.3M1650.5 768.0h1.3M1646.6 768.3h1.3M1640.8 785.4h1.3M1645.9 778.7h1.3M1654.6 773.4h1.3M1649.0 781.1h1.3M1652.2 775.8h1.3M1656.6 764.8h1.3M1653.8 775.6h1.3M1646.5 783.9h1.3M1645.1 779.2h1.3M1647.0 769.6h1.3M1652.6 767.8h1.3M1647.4 777.0h1.3M1654.8 773.6h1.3M1640.5 779.0h1.3M1644.3 781.3h1.3M1652.6 769.2h1.3M1642.1 774.3h1.3M1647.0 767.7h1.3M1656.9 770.4h1.3M1654.3 779.1h1.3M1654.5 776.2h1.3M1651.3 765.8h1.3M1650.5 775.3h1.3M1653.0 773.6h1.3M1650.6 772.2h1.3M1652.2 779.7h1.3M1651.0 774.0h1.3M1647.6 773.9h1.3M1658.1 772.5h1.3M1641.3 777.3h1.3M1650.9 778.4h1.3M1637.2 782.7h1.3M1642.6 783.0h1.3M1644.6 780.1h1.3M1642.7 781.1h1.3M1653.8 770.9h1.3M1648.1 777.3h1.3M1655.3 772.1h1.3M1646.0 775.0h1.3M1655.6 777.6h1.3M1648.2 771.3h1.3M1661.1 773.4h1.3M1651.3 771.5h1.3M1643.8 782.7h1.3M1644.4 777.1h1.3M1648.5 776.5h1.3M1642.8 770.5h1.3M1655.4 770.3h1.3M1650.2 773.7h1.3M1648.4 776.7h1.3M1642.5 779.8h1.3M1645.5 773.1h1.3M1646.0 781.1h1.3M1639.1 783.2h1.3M1649.4 773.4h1.3M1646.9 775.0h1.3M1649.2 777.1h1.3M1650.5 774.0h1.3M1657.8 766.8h1.3M1649.9 768.2h1.3M1635.6 781.9h1.3M1646.8 777.1h1.3M1643.3 788.2h1.3M1652.4 775.2h1.3M1651.7 770.6h1.3M1649.5 779.7h1.3M1650.0 774.4h1.3M1642.3 776.4h1.3M1644.8 772.9h1.3M1636.8 770.1h1.3M1648.1 779.6h1.3M1643.3 782.0h1.3M1641.1 774.1h1.3M1642.7 773.6h1.3M1645.0 776.4h1.3M1657.3 776.2h1.3M1651.4 777.7h1.3M1653.1 766.3h1.3M1639.4 772.9h1.3M1655.7 778.0h1.3M1652.4 766.0h1.3M1657.9 771.0h1.3M1651.8 773.5h1.3M1642.1 777.4h1.3M1653.3 779.6h1.3M1648.1 772.0h1.3M1652.8 769.0h1.3M1649.5 772.7h1.3M1651.0 779.4h1.3M1648.8 767.7h1.3M1650.4 780.1h1.3M1651.2 774.7h1.3M1645.5 780.1h1.3M1650.1 770.6h1.3M1645.8 768.4h1.3M1652.4 766.5h1.3M1642.4 776.2h1.3M1652.6 770.0h1.3M1642.3 771.0h1.3M1651.5 772.8h1.3M1642.2 769.0h1.3M1647.4 774.3h1.3M1652.5 782.3h1.3M1638.8 778.0h1.3M1654.6 772.4h1.3M1658.2 773.1h1.3M1650.6 780.4h1.3M1647.2 780.6h1.3M1652.0 772.4h1.3M1652.2 769.2h1.3M1639.8 779.3h1.3M1654.4 765.9h1.3M1637.4 781.9h1.3M1652.8 773.6h1.3M1644.6 779.0h1.3M1659.1 768.0h1.3M1650.5 768.3h1.3M1654.5 772.8h1.3M1645.8 763.7h1.3M1645.4 777.5h1.3M1638.0 782.8h1.3M1649.3 774.3h1.3M1649.1 777.1h1.3M1659.2 773.0h1.3M1654.0 774.3h1.3M1652.7 770.6h1.3M1648.1 781.5h1.3M1655.5 780.7h1.3M1656.0 772.0h1.3M1652.8 773.2h1.3M1653.5 772.1h1.3M1650.6 773.0h1.3M1646.7 780.7h1.3M1644.8 778.5h1.3M1646.1 776.9h1.3M1648.5 774.2h1.3M1651.8 764.3h1.3M1642.5 780.9h1.3M1649.3 775.1h1.3M1643.1 771.6h1.3" stroke="#a8ee20" stroke-width="1.3" fill="none"/>
<path d="M1641.3 773.9h1.3M1647.8 765.1h1.3M1647.5 778.9h1.3M1654.5 769.5h1.3M1645.9 765.0h1.3M1651.4 773.3h1.3M1643.4 776.5h1.3M1646.9 779.8h1.3M1646.6 776.8h1.3M1657.5 772.8h1.3M1640.8 777.7h1.3M1636.8 778.1h1.3M1646.8 782.2h1.3M1649.5 767.6h1.3M1648.7 765.5h1.3M1644.0 774.7h1.3M1637.4 781.9h1.3M1652.3 769.7h1.3M1642.2 789.4h1.3M1652.5 767.0h1.3M1649.6 780.3h1.3M1644.2 783.0h1.3M1655.7 768.6h1.3M1645.9 780.3h1.3M1643.8 778.7h1.3M1649.6 777.0h1.3M1640.4 772.7h1.3M1637.5 775.7h1.3M1648.6 784.9h1.3M1654.9 775.8h1.3M1645.4 774.2h1.3M1647.8 772.9h1.3M1644.9 776.4h1.3M1649.9 775.5h1.3M1655.1 770.7h1.3M1652.7 769.9h1.3M1650.5 774.7h1.3M1641.0 774.1h1.3M1646.8 779.5h1.3M1646.6 770.7h1.3M1653.2 778.4h1.3M1655.3 767.8h1.3M1651.1 780.3h1.3M1645.3 775.3h1.3M1658.4 770.6h1.3M1648.0 768.7h1.3M1658.0 770.2h1.3M1641.9 778.8h1.3M1646.1 773.8h1.3M1646.6 779.8h1.3M1644.0 773.7h1.3M1652.0 781.3h1.3M1643.3 777.4h1.3M1654.6 774.0h1.3M1656.2 769.4h1.3M1646.2 772.3h1.3M1646.1 776.8h1.3M1639.0 778.9h1.3M1651.0 768.5h1.3M1653.9 777.0h1.3M1644.7 782.5h1.3M1653.8 776.7h1.3M1648.3 768.8h1.3M1652.0 780.9h1.3M1648.7 774.3h1.3M1642.3 775.2h1.3M1644.7 770.8h1.3M1651.0 768.7h1.3M1650.9 778.6h1.3M1637.9 777.5h1.3M1649.2 772.8h1.3M1643.5 773.5h1.3M1642.5 776.2h1.3M1650.3 776.6h1.3M1650.7 769.9h1.3M1656.2 773.5h1.3M1647.1 774.2h1.3M1647.8 769.4h1.3M1649.0 773.8h1.3M1642.6 778.4h1.3M1643.5 773.5h1.3M1647.5 777.0h1.3M1640.7 782.7h1.3M1648.2 770.5h1.3M1635.6 773.2h1.3M1648.8 774.0h1.3M1649.1 772.8h1.3M1654.9 769.5h1.3M1642.3 777.7h1.3M1642.4 771.5h1.3M1644.9 780.5h1.3M1643.7 773.3h1.3M1641.9 773.4h1.3M1646.4 775.6h1.3M1659.1 771.6h1.3M1643.9 772.1h1.3M1641.6 779.4h1.3M1647.9 773.7h1.3M1642.0 779.2h1.3M1656.0 779.0h1.3M1652.7 764.5h1.3M1647.8 773.4h1.3M1644.0 771.7h1.3M1652.0 777.3h1.3M1654.6 765.6h1.3M1651.4 773.7h1.3M1651.6 780.6h1.3M1644.0 776.6h1.3M1650.7 770.1h1.3M1641.7 778.0h1.3M1640.7 769.2h1.3M1657.0 769.4h1.3M1649.8 771.7h1.3M1648.2 769.3h1.3M1655.3 769.5h1.3M1660.2 773.3h1.3M1647.5 783.8h1.3M1654.5 772.0h1.3M1651.2 777.5h1.3M1648.8 777.2h1.3M1648.4 771.9h1.3" stroke="#f8e410" stroke-width="1.3" fill="none"/>
<path d="M1650.3 770.5h1.3M1646.5 777.7h1.3M1656.9 774.6h1.3M1649.1 770.7h1.3M1638.9 782.4h1.3M1641.4 777.4h1.3M1646.2 781.3h1.3M1654.9 768.9h1.3M1645.0 771.4h1.3M1644.6 784.7h1.3M1651.3 772.0h1.3M1649.4 779.2h1.3M1648.2 771.3h1.3M1650.0 778.3h1.3M1649.7 769.6h1.3M1643.7 782.0h1.3M1655.7 773.2h1.3M1647.0 776.4h1.3M1644.5 773.3h1.3M1650.1 773.7h1.3M1646.2 769.2h1.3M1654.3 768.6h1.3M1653.8 770.8h1.3M1649.1 777.3h1.3M1646.7 777.1h1.3M1654.0 768.8h1.3M1643.6 774.5h1.3M1638.8 783.6h1.3M1645.6 772.7h1.3M1644.2 777.5h1.3M1645.2 772.8h1.3M1644.3 782.4h1.3M1644.1 781.0h1.3M1643.9 777.7h1.3M1650.6 778.0h1.3M1646.8 773.9h1.3M1644.7 768.8h1.3M1637.2 780.3h1.3M1639.6 780.8h1.3M1642.1 782.0h1.3M1657.5 767.4h1.3M1644.0 773.4h1.3M1643.7 769.8h1.3M1647.3 779.1h1.3M1647.2 782.2h1.3M1651.4 774.7h1.3M1643.4 771.4h1.3" stroke="#ff8a10" stroke-width="1.3" fill="none"/>
<path d="M1645.0 776.4h1.3M1646.2 786.6h1.3M1642.9 780.0h1.3M1646.0 780.1h1.3M1647.1 778.2h1.3M1648.1 765.4h1.3M1651.3 770.2h1.3M1644.1 773.7h1.3M1645.1 774.8h1.3M1649.8 774.4h1.3M1651.8 767.7h1.3M1644.1 783.0h1.3M1649.7 770.2h1.3M1650.5 772.6h1.3M1647.6 783.7h1.3M1643.2 776.5h1.3M1647.1 776.3h1.3M1643.3 780.3h1.3M1653.1 769.6h1.3M1650.0 776.1h1.3M1645.9 776.9h1.3M1648.7 769.0h1.3M1648.4 776.0h1.3M1644.4 776.4h1.3M1649.2 772.1h1.3M1637.7 781.9h1.3M1652.8 770.7h1.3M1652.5 780.8h1.3M1641.1 775.1h1.3M1653.3 768.0h1.3M1649.1 781.5h1.3M1652.1 773.5h1.3M1646.7 782.2h1.3M1651.2 768.9h1.3M1654.9 773.9h1.3M1647.9 776.3h1.3M1647.3 770.0h1.3" stroke="#e82a08" stroke-width="1.3" fill="none"/>
<line x1="1726.25" y1="565.00" x2="1726.25" y2="842.00" stroke="#333" stroke-width="1.3" stroke-linecap="butt"/>
<line x1="1591.50" y1="715.75" x2="1890.00" y2="715.75" stroke="#333" stroke-width="1.3" stroke-linecap="butt"/>
<rect x="1591.5" y="565" width="298.50" height="277.00" fill="none" stroke="#000" stroke-width="1.9"/>
<path d="M1652.5 842v8.5M1674.5 842v4.5M1687.5 842v4.5M1696.5 842v4.5M1703.5 842v4.5M1709.5 842v4.5M1714.5 842v4.5M1718.5 842v4.5M1722.5 842v4.5M1725.5 842v8.5M1746.5 842v4.5M1758.5 842v4.5M1767.5 842v4.5M1773.5 842v4.5M1779.5 842v4.5M1783.5 842v4.5M1787.5 842v4.5M1791.5 842v4.5M1794.5 842v8.5M1814.5 842v4.5M1826.5 842v4.5M1834.5 842v4.5M1840.5 842v4.5M1846.5 842v4.5M1850.5 842v4.5M1854.5 842v4.5M1857.5 842v4.5M1860.5 842v8.5M1880.5 842v4.5M1620.5 842v8.5M1625.5 842v4.5M1630.5 842v4.5M1635.5 842v4.5M1639.5 842v4.5M1643.5 842v4.5M1647.5 842v4.5M1616.5 842v4.5M1611.5 842v4.5M1607.5 842v4.5M1602.5 842v4.5M1598.5 842v4.5M1593.5 842v4.5M1591.5 784.5h-8.5M1591.5 764.5h-4.5M1591.5 752.5h-4.5M1591.5 744.5h-4.5M1591.5 737.5h-4.5M1591.5 732.5h-4.5M1591.5 727.5h-4.5M1591.5 723.5h-4.5M1591.5 720.5h-4.5M1591.5 717.5h-8.5M1591.5 698.5h-4.5M1591.5 687.5h-4.5M1591.5 679.5h-4.5M1591.5 672.5h-4.5M1591.5 667.5h-4.5M1591.5 663.5h-4.5M1591.5 659.5h-4.5M1591.5 656.5h-4.5M1591.5 653.5h-8.5M1591.5 635.5h-4.5M1591.5 624.5h-4.5M1591.5 616.5h-4.5M1591.5 610.5h-4.5M1591.5 605.5h-4.5M1591.5 601.5h-4.5M1591.5 597.5h-4.5M1591.5 594.5h-4.5M1591.5 592.5h-8.5M1591.5 573.5h-4.5M1591.5 814.5h-8.5M1591.5 809.5h-4.5M1591.5 805.5h-4.5M1591.5 800.5h-4.5M1591.5 796.5h-4.5M1591.5 792.5h-4.5M1591.5 788.5h-4.5M1591.5 818.5h-4.5M1591.5 823.5h-4.5M1591.5 827.5h-4.5M1591.5 831.5h-4.5M1591.5 835.5h-4.5M1591.5 840.5h-4.5" stroke="#111" stroke-width="1.25" fill="none"/>
<path d="M1620.5 842v8.5M1591.5 815.5h-8.5M1591.5 842h-8.5M1591.5 842v8.5" stroke="#111" stroke-width="2.6" fill="none"/>
<text transform="translate(1644.97,877.20) scale(1.0444,1)" font-size="14.2" fill="#2c2c2c" xml:space="preserve" stroke="#2c2c2c" stroke-width="0.25">10</text>
<text transform="translate(1662.25,867.30) scale(0.9500,1)" font-size="14.5" fill="#2c2c2c" xml:space="preserve" stroke="#2c2c2c" stroke-width="0.25">2</text>
<text transform="translate(1553.57,792.80) scale(1.0513,1)" font-size="14.2" fill="#2c2c2c" xml:space="preserve" stroke="#2c2c2c" stroke-width="0.25">10</text>
<text transform="translate(1570.95,782.70) scale(0.9500,1)" font-size="14.5" fill="#2c2c2c" xml:space="preserve" stroke="#2c2c2c" stroke-width="0.25">2</text>
<text transform="translate(1716.97,877.20) scale(1.0444,1)" font-size="14.2" fill="#2c2c2c" xml:space="preserve" stroke="#2c2c2c" stroke-width="0.25">10</text>
<text transform="translate(1734.47,867.30) scale(0.9500,1)" font-size="14.5" fill="#2c2c2c" xml:space="preserve" stroke="#2c2c2c" stroke-width="0.25">3</text>
<text transform="translate(1553.57,725.80) scale(1.0513,1)" font-size="14.2" fill="#2c2c2c" xml:space="preserve" stroke="#2c2c2c" stroke-width="0.25">10</text>
<text transform="translate(1571.17,715.70) scale(0.9500,1)" font-size="14.5" fill="#2c2c2c" xml:space="preserve" stroke="#2c2c2c" stroke-width="0.25">3</text>
<text transform="translate(1785.97,877.20) scale(1.0444,1)" font-size="14.2" fill="#2c2c2c" xml:space="preserve" stroke="#2c2c2c" stroke-width="0.25">10</text>
<text transform="translate(1803.68,867.30) scale(0.9500,1)" font-size="14.5" fill="#2c2c2c" xml:space="preserve" stroke="#2c2c2c" stroke-width="0.25">4</text>
<text transform="translate(1553.57,662.05) scale(1.0513,1)" font-size="14.2" fill="#2c2c2c" xml:space="preserve" stroke="#2c2c2c" stroke-width="0.25">10</text>
<text transform="translate(1571.38,651.95) scale(0.9500,1)" font-size="14.5" fill="#2c2c2c" xml:space="preserve" stroke="#2c2c2c" stroke-width="0.25">4</text>
<text transform="translate(1852.22,877.20) scale(1.0444,1)" font-size="14.2" fill="#2c2c2c" xml:space="preserve" stroke="#2c2c2c" stroke-width="0.25">10</text>
<text transform="translate(1869.72,867.30) scale(0.9500,1)" font-size="14.5" fill="#2c2c2c" xml:space="preserve" stroke="#2c2c2c" stroke-width="0.25">5</text>
<text transform="translate(1553.57,600.30) scale(1.0513,1)" font-size="14.2" fill="#2c2c2c" xml:space="preserve" stroke="#2c2c2c" stroke-width="0.25">10</text>
<text transform="translate(1571.17,590.20) scale(0.9500,1)" font-size="14.5" fill="#2c2c2c" xml:space="preserve" stroke="#2c2c2c" stroke-width="0.25">5</text>
<text transform="translate(1609.06,877.20) scale(1.0500,1)" font-size="14.2" fill="#2c2c2c" xml:space="preserve" stroke="#2c2c2c" stroke-width="0.25">0</text>
<text transform="translate(1562.06,822.70) scale(1.0500,1)" font-size="14.2" fill="#2c2c2c" xml:space="preserve" stroke="#2c2c2c" stroke-width="0.25">0</text>
<text transform="translate(1594.89,586.25) scale(1.0136,1)" font-size="21.5" fill="#000" xml:space="preserve"><tspan font-weight="bold">1.2%</tspan></text>
<text transform="translate(1823.56,586.25) scale(1.0336,1)" font-size="21.5" fill="#000" xml:space="preserve"><tspan font-weight="bold">22.6%</tspan></text>
<text transform="translate(1597.31,836.25) scale(1.0336,1)" font-size="21.5" fill="#000" xml:space="preserve"><tspan font-weight="bold">69.2%</tspan></text>
<text transform="translate(1834.31,836.25) scale(1.0254,1)" font-size="21.5" fill="#000" xml:space="preserve"><tspan font-weight="bold">7.1%</tspan></text>
<text transform="translate(948.75,550.00) scale(1.0407,1)" font-size="31" fill="#000" xml:space="preserve"><tspan font-weight="bold">ABT</tspan></text>
<text transform="translate(1322.75,550.00) scale(1.0370,1)" font-size="31" fill="#000" xml:space="preserve"><tspan font-weight="bold">CSE</tspan></text>
<text transform="translate(1660.24,550.00) scale(1.0464,1)" font-size="31" fill="#000" xml:space="preserve"><tspan font-weight="bold">CSE+ABT</tspan></text>
<line x1="784.50" y1="581.00" x2="784.50" y2="655.00" stroke="#22220c" stroke-width="4" stroke-linecap="butt"/>
<polygon points="784.5,562 775.6,584 793.6,584" fill="#22220c"/>
<line x1="1055.00" y1="907.50" x2="1852.00" y2="907.50" stroke="#22220c" stroke-width="4.5" stroke-linecap="butt"/>
<polygon points="1872.5,907.5 1850,898.2 1850,916.6" fill="#22220c"/>
<text transform="translate(793.75,889.31) rotate(-90) scale(0.9711,1)" font-size="30.5" fill="#000" xml:space="preserve">Propidium Iodide</text>
<text transform="translate(833.75,917.50) scale(1.0224,1)" font-size="29" fill="#000" xml:space="preserve">AnnexinV FITC</text>
<rect x="155.60" y="1284.35" width="79.05" height="100.65" fill="#fff" stroke="#000" stroke-width="2.2"/>
<rect x="298.25" y="1132.50" width="82.25" height="252.50" fill="#000"/>
<line x1="195.00" y1="1271.25" x2="195.00" y2="1284.25" stroke="#000" stroke-width="2.2" stroke-linecap="butt"/>
<line x1="174.25" y1="1271.25" x2="215.50" y2="1271.25" stroke="#000" stroke-width="2.2" stroke-linecap="butt"/>
<line x1="339.25" y1="1090.00" x2="339.25" y2="1133.50" stroke="#000" stroke-width="2.2" stroke-linecap="butt"/>
<line x1="318.75" y1="1090.00" x2="360.00" y2="1090.00" stroke="#000" stroke-width="2.2" stroke-linecap="butt"/>
<line x1="134.25" y1="1046.90" x2="134.25" y2="1386.10" stroke="#000" stroke-width="2.2" stroke-linecap="butt"/>
<line x1="121.25" y1="1385.00" x2="402.00" y2="1385.00" stroke="#000" stroke-width="2.2" stroke-linecap="butt"/>
<line x1="121.25" y1="1048.00" x2="134.25" y2="1048.00" stroke="#000" stroke-width="2.2" stroke-linecap="butt"/>
<text transform="translate(105.54,1055.30) scale(1.0139,1)" font-size="22.5" fill="#000" xml:space="preserve">5</text>
<line x1="121.25" y1="1115.75" x2="134.25" y2="1115.75" stroke="#000" stroke-width="2.2" stroke-linecap="butt"/>
<text transform="translate(105.92,1123.05) scale(0.9525,1)" font-size="22.5" fill="#000" xml:space="preserve">4</text>
<line x1="121.25" y1="1183.10" x2="134.25" y2="1183.10" stroke="#000" stroke-width="2.2" stroke-linecap="butt"/>
<text transform="translate(105.54,1190.40) scale(1.0139,1)" font-size="22.5" fill="#000" xml:space="preserve">3</text>
<line x1="121.25" y1="1250.25" x2="134.25" y2="1250.25" stroke="#000" stroke-width="2.2" stroke-linecap="butt"/>
<text transform="translate(105.14,1257.55) scale(1.0477,1)" font-size="22.5" fill="#000" xml:space="preserve">2</text>
<line x1="121.25" y1="1317.60" x2="134.25" y2="1317.60" stroke="#000" stroke-width="2.2" stroke-linecap="butt"/>
<text transform="translate(104.73,1324.90) scale(1.0838,1)" font-size="22.5" fill="#000" xml:space="preserve">1</text>
<line x1="121.25" y1="1385.00" x2="134.25" y2="1385.00" stroke="#000" stroke-width="2.2" stroke-linecap="butt"/>
<text transform="translate(105.56,1392.30) scale(0.9822,1)" font-size="22.5" fill="#000" xml:space="preserve">0</text>
<text transform="translate(322.52,1085.55) scale(1.0316,1)" font-size="45" fill="#000" xml:space="preserve">**</text>
<text transform="translate(170.93,1415.00) scale(1.0166,1)" font-size="22.5" fill="#000" xml:space="preserve">CSE</text>
<text transform="translate(285.67,1415.00) scale(1.0199,1)" font-size="22.5" fill="#000" xml:space="preserve">CSE+ABT</text>
<text transform="translate(61.40,1274.16) rotate(-90) scale(0.9761,1)" font-size="27" fill="#000" xml:space="preserve"><tspan font-style="italic">Bik</tspan> mRNA</text>
<text transform="translate(94.40,1294.94) rotate(-90) scale(0.9549,1)" font-size="26.6" fill="#000" xml:space="preserve">(Fold-Change)</text>
<rect x="619.95" y="1338.20" width="45.85" height="51.30" fill="#fff" stroke="#000" stroke-width="2.4"/>
<line x1="643.00" y1="1333.75" x2="643.00" y2="1338.00" stroke="#000" stroke-width="2.4" stroke-linecap="butt"/>
<line x1="631.25" y1="1333.75" x2="655.00" y2="1333.75" stroke="#000" stroke-width="2.4" stroke-linecap="butt"/>
<rect x="677.50" y="1163.75" width="48.75" height="225.75" fill="#000"/>
<line x1="701.75" y1="1080.50" x2="701.75" y2="1164.75" stroke="#000" stroke-width="2.4" stroke-linecap="butt"/>
<line x1="689.50" y1="1080.50" x2="714.25" y2="1080.50" stroke="#000" stroke-width="2.4" stroke-linecap="butt"/>
<clipPath id="c4"><rect x="736.25" y="1342.50" width="48.25" height="47.00"/></clipPath>
<rect x="736.25" y="1342.50" width="48.25" height="47.00" fill="#fff"/>
<path d="M734.25 1329.30L786.50 1277.05M734.25 1343.15L786.50 1290.90M734.25 1357.00L786.50 1304.75M734.25 1370.85L786.50 1318.60M734.25 1384.70L786.50 1332.45M734.25 1398.55L786.50 1346.30M734.25 1412.40L786.50 1360.15M734.25 1426.25L786.50 1374.00M734.25 1440.10L786.50 1387.85" stroke="#000" stroke-width="3.75" clip-path="url(#c4)" fill="none"/>
<rect x="737.45" y="1343.70" width="45.85" height="45.80" fill="none" stroke="#000" stroke-width="2.4"/>
<line x1="760.75" y1="1312.00" x2="760.75" y2="1343.50" stroke="#000" stroke-width="2.4" stroke-linecap="butt"/>
<line x1="748.25" y1="1312.00" x2="772.50" y2="1312.00" stroke="#000" stroke-width="2.4" stroke-linecap="butt"/>
<rect x="845.45" y="1332.70" width="45.35" height="56.80" fill="#fff" stroke="#000" stroke-width="2.4"/>
<line x1="868.25" y1="1325.75" x2="868.25" y2="1332.50" stroke="#000" stroke-width="2.4" stroke-linecap="butt"/>
<line x1="856.25" y1="1325.75" x2="880.00" y2="1325.75" stroke="#000" stroke-width="2.4" stroke-linecap="butt"/>
<rect x="902.50" y="1277.00" width="48.75" height="112.50" fill="#000"/>
<line x1="926.75" y1="1259.75" x2="926.75" y2="1278.00" stroke="#000" stroke-width="2.4" stroke-linecap="butt"/>
<line x1="914.50" y1="1259.75" x2="939.25" y2="1259.75" stroke="#000" stroke-width="2.4" stroke-linecap="butt"/>
<clipPath id="c5"><rect x="961.75" y="1364.50" width="47.75" height="25.00"/></clipPath>
<rect x="961.75" y="1364.50" width="47.75" height="25.00" fill="#fff"/>
<path d="M959.75 1339.25L1011.50 1287.50M959.75 1353.10L1011.50 1301.35M959.75 1366.95L1011.50 1315.20M959.75 1380.80L1011.50 1329.05M959.75 1394.65L1011.50 1342.90M959.75 1408.50L1011.50 1356.75M959.75 1422.35L1011.50 1370.60M959.75 1436.20L1011.50 1384.45M959.75 1450.05L1011.50 1398.30" stroke="#000" stroke-width="3.75" clip-path="url(#c5)" fill="none"/>
<rect x="962.95" y="1365.70" width="45.35" height="23.80" fill="none" stroke="#000" stroke-width="2.4"/>
<line x1="986.25" y1="1349.00" x2="986.25" y2="1365.50" stroke="#000" stroke-width="2.4" stroke-linecap="butt"/>
<line x1="973.75" y1="1349.00" x2="998.00" y2="1349.00" stroke="#000" stroke-width="2.4" stroke-linecap="butt"/>
<rect x="1070.45" y="1327.70" width="45.85" height="61.80" fill="#fff" stroke="#000" stroke-width="2.4"/>
<line x1="1093.25" y1="1322.00" x2="1093.25" y2="1327.50" stroke="#000" stroke-width="2.4" stroke-linecap="butt"/>
<line x1="1081.25" y1="1322.00" x2="1105.75" y2="1322.00" stroke="#000" stroke-width="2.4" stroke-linecap="butt"/>
<rect x="1127.50" y="1309.75" width="48.75" height="79.75" fill="#000"/>
<line x1="1151.75" y1="1293.75" x2="1151.75" y2="1310.75" stroke="#000" stroke-width="2.4" stroke-linecap="butt"/>
<line x1="1140.00" y1="1293.75" x2="1164.25" y2="1293.75" stroke="#000" stroke-width="2.4" stroke-linecap="butt"/>
<clipPath id="c6"><rect x="1187.00" y="1357.75" width="48.00" height="31.75"/></clipPath>
<rect x="1187.00" y="1357.75" width="48.00" height="31.75" fill="#fff"/>
<path d="M1185.00 1335.60L1237.00 1283.60M1185.00 1349.45L1237.00 1297.45M1185.00 1363.30L1237.00 1311.30M1185.00 1377.15L1237.00 1325.15M1185.00 1391.00L1237.00 1339.00M1185.00 1404.85L1237.00 1352.85M1185.00 1418.70L1237.00 1366.70M1185.00 1432.55L1237.00 1380.55M1185.00 1446.40L1237.00 1394.40" stroke="#000" stroke-width="3.75" clip-path="url(#c6)" fill="none"/>
<rect x="1188.20" y="1358.95" width="45.60" height="30.55" fill="none" stroke="#000" stroke-width="2.4"/>
<line x1="1210.75" y1="1345.00" x2="1210.75" y2="1358.75" stroke="#000" stroke-width="2.4" stroke-linecap="butt"/>
<line x1="1198.75" y1="1345.00" x2="1223.00" y2="1345.00" stroke="#000" stroke-width="2.4" stroke-linecap="butt"/>
<rect x="1295.70" y="1323.95" width="45.60" height="65.55" fill="#fff" stroke="#000" stroke-width="2.4"/>
<line x1="1318.25" y1="1303.25" x2="1318.25" y2="1323.75" stroke="#000" stroke-width="2.4" stroke-linecap="butt"/>
<line x1="1306.25" y1="1303.25" x2="1330.75" y2="1303.25" stroke="#000" stroke-width="2.4" stroke-linecap="butt"/>
<rect x="1353.00" y="1347.75" width="49.00" height="41.75" fill="#000"/>
<line x1="1377.50" y1="1339.00" x2="1377.50" y2="1348.75" stroke="#000" stroke-width="2.4" stroke-linecap="butt"/>
<line x1="1365.00" y1="1339.00" x2="1389.25" y2="1339.00" stroke="#000" stroke-width="2.4" stroke-linecap="butt"/>
<clipPath id="c7"><rect x="1412.00" y="1205.00" width="48.00" height="184.50"/></clipPath>
<rect x="1412.00" y="1205.00" width="48.00" height="184.50" fill="#fff"/>
<path d="M1410.00 1179.85L1462.00 1127.85M1410.00 1193.70L1462.00 1141.70M1410.00 1207.55L1462.00 1155.55M1410.00 1221.40L1462.00 1169.40M1410.00 1235.25L1462.00 1183.25M1410.00 1249.10L1462.00 1197.10M1410.00 1262.95L1462.00 1210.95M1410.00 1276.80L1462.00 1224.80M1410.00 1290.65L1462.00 1238.65M1410.00 1304.50L1462.00 1252.50M1410.00 1318.35L1462.00 1266.35M1410.00 1332.20L1462.00 1280.20M1410.00 1346.05L1462.00 1294.05M1410.00 1359.90L1462.00 1307.90M1410.00 1373.75L1462.00 1321.75M1410.00 1387.60L1462.00 1335.60M1410.00 1401.45L1462.00 1349.45M1410.00 1415.30L1462.00 1363.30M1410.00 1429.15L1462.00 1377.15M1410.00 1443.00L1462.00 1391.00" stroke="#000" stroke-width="3.75" clip-path="url(#c7)" fill="none"/>
<rect x="1413.20" y="1206.20" width="45.60" height="183.30" fill="none" stroke="#000" stroke-width="2.4"/>
<line x1="1435.75" y1="1172.90" x2="1435.75" y2="1206.00" stroke="#000" stroke-width="2.4" stroke-linecap="butt"/>
<line x1="1423.75" y1="1172.90" x2="1448.00" y2="1172.90" stroke="#000" stroke-width="2.4" stroke-linecap="butt"/>
<line x1="606.75" y1="991.30" x2="606.75" y2="1390.70" stroke="#000" stroke-width="2.4" stroke-linecap="butt"/>
<line x1="592.50" y1="1389.50" x2="1474.25" y2="1389.50" stroke="#000" stroke-width="2.4" stroke-linecap="butt"/>
<line x1="592.50" y1="992.50" x2="606.75" y2="992.50" stroke="#000" stroke-width="2.4" stroke-linecap="butt"/>
<text transform="translate(574.48,999.80) scale(1.0702,1)" font-size="24.5" fill="#000" xml:space="preserve">8</text>
<line x1="592.50" y1="1042.12" x2="606.75" y2="1042.12" stroke="#000" stroke-width="2.4" stroke-linecap="butt"/>
<text transform="translate(574.03,1049.42) scale(1.1059,1)" font-size="24.5" fill="#000" xml:space="preserve">7</text>
<line x1="592.50" y1="1091.75" x2="606.75" y2="1091.75" stroke="#000" stroke-width="2.4" stroke-linecap="butt"/>
<text transform="translate(574.03,1099.05) scale(1.1059,1)" font-size="24.5" fill="#000" xml:space="preserve">6</text>
<line x1="592.50" y1="1141.38" x2="606.75" y2="1141.38" stroke="#000" stroke-width="2.4" stroke-linecap="butt"/>
<text transform="translate(574.48,1148.67) scale(1.0702,1)" font-size="24.5" fill="#000" xml:space="preserve">5</text>
<line x1="592.50" y1="1191.00" x2="606.75" y2="1191.00" stroke="#000" stroke-width="2.4" stroke-linecap="butt"/>
<text transform="translate(574.92,1198.30) scale(1.0053,1)" font-size="24.5" fill="#000" xml:space="preserve">4</text>
<line x1="592.50" y1="1240.62" x2="606.75" y2="1240.62" stroke="#000" stroke-width="2.4" stroke-linecap="butt"/>
<text transform="translate(574.48,1247.92) scale(1.0702,1)" font-size="24.5" fill="#000" xml:space="preserve">3</text>
<line x1="592.50" y1="1290.25" x2="606.75" y2="1290.25" stroke="#000" stroke-width="2.4" stroke-linecap="butt"/>
<text transform="translate(574.03,1297.55) scale(1.1059,1)" font-size="24.5" fill="#000" xml:space="preserve">2</text>
<line x1="592.50" y1="1339.88" x2="606.75" y2="1339.88" stroke="#000" stroke-width="2.4" stroke-linecap="butt"/>
<text transform="translate(573.55,1347.17) scale(1.1440,1)" font-size="24.5" fill="#000" xml:space="preserve">1</text>
<line x1="592.50" y1="1389.50" x2="606.75" y2="1389.50" stroke="#000" stroke-width="2.4" stroke-linecap="butt"/>
<text transform="translate(574.51,1396.80) scale(1.0367,1)" font-size="24.5" fill="#000" xml:space="preserve">0</text>
<text transform="translate(562.50,1274.30) rotate(-90) scale(0.9362,1)" font-size="31.5" fill="#000" xml:space="preserve">Fold-Change</text>
<text transform="translate(656.59,1424.00) scale(1.0597,1)" font-size="24.5" fill="#000" xml:space="preserve"><tspan font-style="italic">Muc5ac</tspan></text>
<text transform="translate(890.85,1424.00) scale(1.0499,1)" font-size="24.5" fill="#000" xml:space="preserve"><tspan font-style="italic">Foxa3</tspan></text>
<text transform="translate(1128.84,1424.00) scale(1.0586,1)" font-size="24.5" fill="#000" xml:space="preserve"><tspan font-style="italic">Egfr</tspan></text>
<text transform="translate(1359.61,1424.00) scale(1.0057,1)" font-size="24.5" fill="#000" xml:space="preserve"><tspan font-style="italic">Bik</tspan></text>
<text transform="translate(692.99,1081.87) scale(1.0145,1)" font-size="48" fill="#000" xml:space="preserve">*</text>
<line x1="702.00" y1="1035.75" x2="755.00" y2="1035.75" stroke="#22220c" stroke-width="3.6" stroke-linecap="butt"/>
<text transform="translate(717.96,1040.62) scale(1.0580,1)" font-size="48" fill="#000" xml:space="preserve">*</text>
<text transform="translate(918.46,1261.12) scale(1.0580,1)" font-size="48" fill="#000" xml:space="preserve">*</text>
<line x1="925.00" y1="1212.00" x2="978.00" y2="1212.00" stroke="#22220c" stroke-width="3.6" stroke-linecap="butt"/>
<text transform="translate(940.43,1216.37) scale(1.0870,1)" font-size="48" fill="#000" xml:space="preserve">*</text>
<line x1="1153.25" y1="1280.75" x2="1205.75" y2="1280.75" stroke="#22220c" stroke-width="3.6" stroke-linecap="butt"/>
<text transform="translate(1170.43,1285.12) scale(1.0870,1)" font-size="48" fill="#000" xml:space="preserve">*</text>
<text transform="translate(1425.96,1175.62) scale(1.0580,1)" font-size="48" fill="#000" xml:space="preserve">*</text>
<line x1="1381.25" y1="1128.00" x2="1434.25" y2="1128.00" stroke="#22220c" stroke-width="3.6" stroke-linecap="butt"/>
<text transform="translate(1399.18,1130.12) scale(1.0870,1)" font-size="48" fill="#000" xml:space="preserve">*</text>
<rect x="1274.5" y="997" width="26.8" height="15" fill="#fff" stroke="#000" stroke-width="2.5"/>
<rect x="1273.25" y="1023.25" width="29.25" height="18.00" fill="#000"/>
<clipPath id="c8"><rect x="1273.25" y="1052.00" width="29.25" height="18.00"/></clipPath>
<rect x="1273.25" y="1052.00" width="29.25" height="18.00" fill="#fff"/>
<path d="M1271.25 1028.70L1304.50 995.45M1271.25 1042.55L1304.50 1009.30M1271.25 1056.40L1304.50 1023.15M1271.25 1070.25L1304.50 1037.00M1271.25 1084.10L1304.50 1050.85M1271.25 1097.95L1304.50 1064.70M1271.25 1111.80L1304.50 1078.55" stroke="#000" stroke-width="3.75" clip-path="url(#c8)" fill="none"/>
<rect x="1274.50" y="1053.25" width="26.75" height="16.75" fill="none" stroke="#000" stroke-width="2.5"/>
<line x1="1273.25" y1="1068.75" x2="1302.50" y2="1068.75" stroke="#000" stroke-width="2.5" stroke-linecap="butt"/>
<text transform="translate(1318.05,1013.25) scale(0.9993,1)" font-size="25" fill="#000" xml:space="preserve">Media</text>
<text transform="translate(1318.76,1041.25) scale(1.0573,1)" font-size="25" fill="#000" xml:space="preserve">CSE</text>
<text transform="translate(1318.77,1070.00) scale(1.0507,1)" font-size="25" fill="#000" xml:space="preserve">CSE+ABT</text>
</svg>
</body></html>
